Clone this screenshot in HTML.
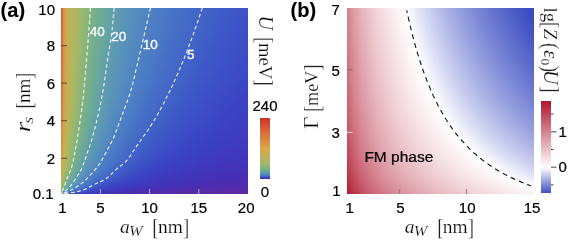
<!DOCTYPE html>
<html><head><meta charset="utf-8"><title>figure</title>
<style>
html,body{margin:0;padding:0;background:#fff}
#f{position:relative;width:568px;height:240px;overflow:hidden;background:#fff;font-family:"Liberation Sans",sans-serif}
.h{position:absolute;display:flex}
.h i{display:block;width:1px;height:100%;flex:none}
#ha{left:61px;top:8px;width:187px;height:186px}
#hb{left:347px;top:8px;width:187px;height:186px}
.cb{position:absolute}
svg{position:absolute;left:0;top:0}
svg text{font-family:"Liberation Sans",sans-serif;stroke:#000;stroke-width:.22px}
svg text.w{stroke:#fff;stroke-width:.3px}
svg text.p{stroke-width:.1px}
svg text.s{font-family:"Liberation Serif",serif;stroke:#fff;stroke-width:.22px}
</style></head><body>
<div id="f">
<div class="h" id="ha"><i style="background:linear-gradient(#d35b35 0%,#d35b35 3.125%,#d35b35 6.25%,#d35c35 9.375%,#d35d35 12.5%,#d45e36 15.62%,#d46036 18.75%,#d46237 21.88%,#d46337 25%,#d46538 28.12%,#d46738 31.25%,#d56838 34.38%,#d56a39 37.5%,#d56c39 40.62%,#d56e3a 43.75%,#d5703b 46.88%,#d5733c 50%,#d6763c 53.12%,#d67a3d 56.25%,#d67e3f 59.38%,#d68240 62.5%,#d68641 65.62%,#d68a42 68.75%,#d58f44 71.88%,#d59446 75%,#d39a48 78.12%,#d29f4a 81.25%,#cfa44d 84.38%,#c9ab51 87.5%,#bdb359 90.62%,#adb761 93.75%,#a5b866 95.16%,#9db86a 96.24%,#98b86e 96.88%,#95b770 97.31%,#90b674 97.85%,#8cb678 98.39%,#87b47c 98.92%,#84b47e 99.19%,#82b37f 99.46%,#71ac92 99.73%,#4133b8 100%)"></i><i style="background:linear-gradient(#d6783d 0%,#d6783d 3.125%,#d6793d 6.25%,#d6793d 9.375%,#d67a3d 12.5%,#d67b3e 15.62%,#d67c3e 18.75%,#d67d3e 21.88%,#d67e3f 25%,#d67f3f 28.12%,#d6803f 31.25%,#d68140 34.38%,#d68240 37.5%,#d68340 40.62%,#d68441 43.75%,#d68641 46.88%,#d68842 50%,#d68b42 53.12%,#d58d43 56.25%,#d59044 59.38%,#d59345 62.5%,#d49646 65.62%,#d39947 68.75%,#d29c49 71.88%,#d1a04b 75%,#cfa44d 78.12%,#cca84f 81.25%,#c9ac52 84.38%,#c1b156 87.5%,#b2b65e 90.62%,#a2b867 93.75%,#98b86e 95.16%,#91b673 96.24%,#8cb677 96.88%,#88b57a 97.31%,#84b47e 97.85%,#7fb283 98.39%,#75ae8d 98.92%,#6daa96 99.19%,#619faa 99.46%,#4f83c2 99.73%,#3c3fc1 100%)"></i><i style="background:linear-gradient(#d58d43 0%,#d58e43 3.125%,#d58e43 6.25%,#d58e44 9.375%,#d58f44 12.5%,#d58f44 15.62%,#d59044 18.75%,#d59044 21.88%,#d59145 25%,#d59245 28.12%,#d59245 31.25%,#d59345 34.38%,#d59345 37.5%,#d59445 40.62%,#d49546 43.75%,#d49646 46.88%,#d49747 50%,#d49947 53.12%,#d39b48 56.25%,#d29d49 59.38%,#d29f4a 62.5%,#d1a14b 65.62%,#d0a34c 68.75%,#cea64e 71.88%,#cca84f 75%,#c9ab51 78.12%,#c6ae54 81.25%,#c1b156 84.38%,#b8b55b 87.5%,#a8b864 90.62%,#96b76f 93.75%,#8db676 95.16%,#86b47c 96.24%,#81b381 96.88%,#7db284 97.31%,#78b08a 97.85%,#70ac92 98.39%,#66a4a2 98.92%,#5e9caf 99.19%,#548cbe 99.46%,#4c7dc4 99.73%,#3c40c2 100%)"></i><i style="background:linear-gradient(#d39a48 0%,#d39a48 3.125%,#d39b48 6.25%,#d39b48 9.375%,#d39b48 12.5%,#d39c49 15.62%,#d39c49 18.75%,#d39c49 21.88%,#d29d49 25%,#d29d49 28.12%,#d29e49 31.25%,#d29e49 34.38%,#d29e4a 37.5%,#d29f4a 40.62%,#d29f4a 43.75%,#d1a04a 46.88%,#d1a14b 50%,#d0a24c 53.12%,#cfa44c 56.25%,#cea54d 59.38%,#cda74e 62.5%,#cca84f 65.62%,#caaa50 68.75%,#c9ac52 71.88%,#c6ae53 75%,#c3b056 78.12%,#bfb258 81.25%,#b9b45a 84.38%,#afb760 87.5%,#9eb86a 90.62%,#8cb677 93.75%,#83b47e 95.16%,#7cb185 96.24%,#77af8a 96.88%,#73ae8f 97.31%,#6eab96 97.85%,#66a5a0 98.39%,#5c99b1 98.92%,#558fbc 99.19%,#4e80c3 99.46%,#4977c5 99.73%,#3b45c4 100%)"></i><i style="background:linear-gradient(#d0a34c 0%,#d0a34c 3.125%,#d0a34c 6.25%,#cfa44c 9.375%,#cfa44c 12.5%,#cfa44d 15.62%,#cfa44d 18.75%,#cfa44d 21.88%,#cfa54d 25%,#cfa54d 28.12%,#cea54d 31.25%,#cea54d 34.38%,#cea64d 37.5%,#cea64e 40.62%,#cea64e 43.75%,#cda74e 46.88%,#cca84f 50%,#cca94f 53.12%,#cbaa50 56.25%,#caab51 59.38%,#c8ac52 62.5%,#c7ae53 65.62%,#c5af54 68.75%,#c2b056 71.88%,#bfb257 75%,#bcb359 78.12%,#b7b55c 81.25%,#b1b65f 84.38%,#a6b864 87.5%,#95b770 90.62%,#84b47e 93.75%,#7bb186 95.16%,#74ae8e 96.24%,#6fab94 96.88%,#6ca999 97.31%,#66a5a1 97.85%,#5f9dac 98.39%,#568fbb 98.92%,#4f82c2 99.19%,#4b7cc4 99.46%,#4671c6 99.73%,#3b48c5 100%)"></i><i style="background:linear-gradient(#cca84f 0%,#cca84f 3.125%,#cca94f 6.25%,#cca950 9.375%,#cba950 12.5%,#cba950 15.62%,#cba950 18.75%,#cbaa50 21.88%,#cbaa50 25%,#cbaa50 28.12%,#caaa51 31.25%,#caaa51 34.38%,#caab51 37.5%,#caab51 40.62%,#c9ab51 43.75%,#c9ac52 46.88%,#c8ad52 50%,#c7ad53 53.12%,#c6ae54 56.25%,#c4af54 59.38%,#c3b055 62.5%,#c1b157 65.62%,#bfb258 68.75%,#bcb359 71.88%,#b9b45b 75%,#b5b65d 78.12%,#b0b75f 81.25%,#a9b863 84.38%,#9eb86a 87.5%,#8cb677 90.62%,#7cb185 93.75%,#74ae8e 95.16%,#6daa96 96.24%,#69a79c 96.88%,#66a4a2 97.31%,#609faa 97.85%,#5a96b5 98.39%,#5085c1 98.92%,#4c7ec4 99.19%,#4978c5 99.46%,#446cc7 99.73%,#3b4ac5 100%)"></i><i style="background:linear-gradient(#c9ac52 0%,#c9ac52 3.125%,#c8ac52 6.25%,#c8ac52 9.375%,#c8ad52 12.5%,#c8ad52 15.62%,#c7ad53 18.75%,#c7ad53 21.88%,#c7ad53 25%,#c7ae53 28.12%,#c6ae53 31.25%,#c6ae53 34.38%,#c6ae54 37.5%,#c5ae54 40.62%,#c5af54 43.75%,#c4af55 46.88%,#c3b055 50%,#c2b056 53.12%,#c1b157 56.25%,#bfb257 59.38%,#bdb358 62.5%,#bbb45a 65.62%,#b9b55b 68.75%,#b6b55c 71.88%,#b2b65e 75%,#aeb761 78.12%,#a8b863 81.25%,#a2b867 84.38%,#96b76f 87.5%,#85b47d 90.62%,#76af8c 93.75%,#6eab95 95.16%,#68a79d 96.24%,#64a3a4 96.88%,#619faa 97.31%,#5c99b2 97.85%,#558ebc 98.39%,#4d80c3 98.92%,#4b7ac5 99.19%,#4774c6 99.46%,#4266c7 99.73%,#3c4ac5 100%)"></i><i style="background:linear-gradient(#c5ae54 0%,#c5af54 3.125%,#c5af54 6.25%,#c4af55 9.375%,#c4af55 12.5%,#c4af55 15.62%,#c4b055 18.75%,#c3b055 21.88%,#c3b055 25%,#c2b056 28.12%,#c2b056 31.25%,#c2b156 34.38%,#c1b156 37.5%,#c1b157 40.62%,#c0b157 43.75%,#bfb257 46.88%,#beb258 50%,#bdb359 53.12%,#bbb459 56.25%,#bab45a 59.38%,#b8b55b 62.5%,#b5b65d 65.62%,#b2b65e 68.75%,#afb760 71.88%,#abb762 75%,#a7b864 78.12%,#a1b868 81.25%,#9ab86c 84.38%,#8fb675 87.5%,#7eb283 90.62%,#70ac92 93.75%,#6aa89b 95.16%,#64a3a4 96.24%,#609eab 96.88%,#5d9ab1 97.31%,#5893b8 97.85%,#5187c1 98.39%,#4b7cc4 98.92%,#4977c5 99.19%,#4670c6 99.46%,#4062c7 99.73%,#3c4ac5 100%)"></i><i style="background:linear-gradient(#c2b056 0%,#c2b156 3.125%,#c1b156 6.25%,#c1b156 9.375%,#c1b157 12.5%,#c0b157 15.62%,#c0b257 18.75%,#c0b257 21.88%,#bfb258 25%,#bfb258 28.12%,#beb258 31.25%,#beb358 34.38%,#bdb359 37.5%,#bdb359 40.62%,#bcb359 43.75%,#bbb45a 46.88%,#b9b45a 50%,#b8b55b 53.12%,#b6b55c 56.25%,#b4b65d 59.38%,#b2b65e 62.5%,#afb760 65.62%,#adb761 68.75%,#a9b863 71.88%,#a5b865 75%,#a0b869 78.12%,#9ab86c 81.25%,#93b772 84.38%,#88b57b 87.5%,#79b089 90.62%,#6ca998 93.75%,#66a5a1 95.16%,#609faa 96.24%,#5c9ab1 96.88%,#5995b6 97.31%,#548dbd 97.85%,#4e81c3 98.39%,#4a79c5 98.92%,#4773c6 99.19%,#446cc7 99.46%,#3f5ec7 99.73%,#3b49c5 100%)"></i><i style="background:linear-gradient(#bfb257 0%,#bfb258 3.125%,#beb258 6.25%,#beb358 9.375%,#bdb358 12.5%,#bdb359 15.62%,#bcb359 18.75%,#bcb359 21.88%,#bbb45a 25%,#bbb45a 28.12%,#bab45a 31.25%,#bab45a 34.38%,#b9b45b 37.5%,#b8b55b 40.62%,#b7b55b 43.75%,#b6b55c 46.88%,#b5b65d 50%,#b3b65e 53.12%,#b1b65f 56.25%,#afb760 59.38%,#adb761 62.5%,#aab863 65.62%,#a7b864 68.75%,#a3b866 71.88%,#9fb869 75%,#9ab86d 78.12%,#94b771 81.25%,#8db677 84.38%,#81b380 87.5%,#74ae8e 90.62%,#68a79d 93.75%,#62a1a7 95.16%,#5d9bb0 96.24%,#5995b6 96.88%,#5690bb 97.31%,#5186c1 97.85%,#4c7ec4 98.39%,#4876c5 98.92%,#4670c6 99.19%,#4369c7 99.46%,#3e5ac7 99.73%,#3b49c5 100%)"></i><i style="background:linear-gradient(#bcb359 0%,#bcb359 3.125%,#bbb45a 6.25%,#bab45a 9.375%,#bab45a 12.5%,#b9b45a 15.62%,#b9b45b 18.75%,#b8b55b 21.88%,#b8b55b 25%,#b7b55c 28.12%,#b6b55c 31.25%,#b5b55c 34.38%,#b5b65d 37.5%,#b4b65d 40.62%,#b3b65e 43.75%,#b2b65e 46.88%,#b0b75f 50%,#aeb760 53.12%,#acb761 56.25%,#aab863 59.38%,#a7b864 62.5%,#a4b866 65.62%,#a1b868 68.75%,#9db86a 71.88%,#99b86d 75%,#93b771 78.12%,#8eb676 81.25%,#87b47c 84.38%,#7cb185 87.5%,#70ac93 90.62%,#65a4a3 93.75%,#5f9eac 95.16%,#5a97b5 96.24%,#5690ba 96.88%,#538bbe 97.31%,#4e82c3 97.85%,#4b7bc4 98.39%,#4773c6 98.92%,#456dc7 99.19%,#4266c7 99.46%,#3e56c6 99.73%,#3b47c4 100%)"></i><i style="background:linear-gradient(#b9b45b 0%,#b8b55b 3.125%,#b8b55b 6.25%,#b7b55c 9.375%,#b7b55c 12.5%,#b6b55c 15.62%,#b5b55c 18.75%,#b5b65d 21.88%,#b4b65d 25%,#b3b65e 28.12%,#b2b65e 31.25%,#b2b65e 34.38%,#b1b75f 37.5%,#b0b75f 40.62%,#afb760 43.75%,#adb761 46.88%,#abb762 50%,#aab863 53.12%,#a7b864 56.25%,#a5b865 59.38%,#a2b867 62.5%,#9fb869 65.62%,#9cb86b 68.75%,#98b76e 71.88%,#93b772 75%,#8eb676 78.12%,#88b57b 81.25%,#81b381 84.38%,#77af8a 87.5%,#6ca998 90.62%,#62a1a7 93.75%,#5d9ab0 95.16%,#5893b9 96.24%,#548cbe 96.88%,#5085c1 97.31%,#4d7fc4 97.85%,#4978c5 98.39%,#4670c6 98.92%,#436ac7 99.19%,#4061c7 99.46%,#3d53c6 99.73%,#3b46c4 100%)"></i><i style="background:linear-gradient(#b6b55c 0%,#b5b65d 3.125%,#b5b65d 6.25%,#b4b65d 9.375%,#b3b65e 12.5%,#b3b65e 15.62%,#b2b65e 18.75%,#b1b75f 21.88%,#b0b75f 25%,#afb760 28.12%,#aeb760 31.25%,#adb761 34.38%,#adb761 37.5%,#abb762 40.62%,#aab862 43.75%,#a9b863 46.88%,#a7b864 50%,#a5b865 53.12%,#a3b867 56.25%,#a0b869 59.38%,#9db86b 62.5%,#9ab86d 65.62%,#96b76f 68.75%,#92b772 71.88%,#8eb676 75%,#88b57a 78.12%,#83b37f 81.25%,#7cb185 84.38%,#73ae8f 87.5%,#69a79c 90.62%,#609eac 93.75%,#5a97b4 95.16%,#558fbc 96.24%,#5187c0 96.88%,#4e81c3 97.31%,#4b7cc4 97.85%,#4875c6 98.39%,#456dc7 98.92%,#4268c7 99.19%,#3f5dc7 99.46%,#3c50c6 99.73%,#3b45c4 100%)"></i><i style="background:linear-gradient(#b3b65e 0%,#b2b65e 3.125%,#b1b65f 6.25%,#b1b75f 9.375%,#b0b75f 12.5%,#afb760 15.62%,#aeb760 18.75%,#adb761 21.88%,#acb761 25%,#abb762 28.12%,#aab862 31.25%,#a9b863 34.38%,#a8b863 37.5%,#a7b864 40.62%,#a6b865 43.75%,#a4b866 46.88%,#a2b867 50%,#a0b868 53.12%,#9eb86a 56.25%,#9bb86c 59.38%,#98b86e 62.5%,#95b770 65.62%,#91b773 68.75%,#8db676 71.88%,#89b57a 75%,#83b37f 78.12%,#7eb284 81.25%,#78b08a 84.38%,#6fac93 87.5%,#66a5a1 90.62%,#5d9bb0 93.75%,#5893b8 95.16%,#538bbe 96.24%,#4f83c2 96.88%,#4d7ec4 97.31%,#4a79c5 97.85%,#4773c6 98.39%,#446bc7 98.92%,#4165c7 99.19%,#3e59c7 99.46%,#3c4dc5 99.73%,#3b43c3 100%)"></i><i style="background:linear-gradient(#afb760 0%,#afb760 3.125%,#aeb760 6.25%,#adb761 9.375%,#adb761 12.5%,#acb761 15.62%,#abb862 18.75%,#aab863 21.88%,#a9b863 25%,#a8b864 28.12%,#a7b864 31.25%,#a6b865 34.38%,#a4b866 37.5%,#a3b866 40.62%,#a2b867 43.75%,#a0b868 46.88%,#9eb86a 50%,#9cb86b 53.12%,#99b86d 56.25%,#96b76f 59.38%,#93b771 62.5%,#90b674 65.62%,#8cb677 68.75%,#88b57a 71.88%,#84b47e 75%,#7fb283 78.12%,#79b088 81.25%,#74ae8e 84.38%,#6caa98 87.5%,#64a2a5 90.62%,#5b98b3 93.75%,#5690bb 95.16%,#5187c1 96.24%,#4d80c3 96.88%,#4b7cc4 97.31%,#4976c5 97.85%,#4671c6 98.39%,#4368c7 98.92%,#4061c7 99.19%,#3e56c6 99.46%,#3c4bc5 99.73%,#3b42c3 100%)"></i><i style="background:linear-gradient(#acb761 0%,#acb762 3.125%,#abb862 6.25%,#aab862 9.375%,#a9b863 12.5%,#a8b863 15.62%,#a7b864 18.75%,#a6b865 21.88%,#a5b865 25%,#a4b866 28.12%,#a3b867 31.25%,#a2b867 34.38%,#a1b868 37.5%,#9fb869 40.62%,#9eb86a 43.75%,#9cb86b 46.88%,#9ab86d 50%,#97b76e 53.12%,#95b770 56.25%,#92b772 59.38%,#8fb675 62.5%,#8bb578 65.62%,#88b57b 68.75%,#84b47e 71.88%,#7fb282 75%,#7ab187 78.12%,#75af8c 81.25%,#70ac92 84.38%,#69a79c 87.5%,#61a0a9 90.62%,#5995b6 93.75%,#548dbd 95.16%,#4f83c2 96.24%,#4c7dc4 96.88%,#4a79c5 97.31%,#4874c6 97.85%,#456ec6 98.39%,#4266c7 98.92%,#3f5dc7 99.19%,#3d52c6 99.46%,#3b49c5 99.73%,#3b41c2 100%)"></i><i style="background:linear-gradient(#a9b863 0%,#a9b863 3.125%,#a8b864 6.25%,#a7b864 9.375%,#a6b865 12.5%,#a5b865 15.62%,#a4b866 18.75%,#a3b867 21.88%,#a2b867 25%,#a0b868 28.12%,#9fb869 31.25%,#9eb86a 34.38%,#9db86b 37.5%,#9bb86c 40.62%,#9ab86d 43.75%,#98b76e 46.88%,#96b770 50%,#93b771 53.12%,#91b673 56.25%,#8eb676 59.38%,#8bb578 62.5%,#87b57b 65.62%,#84b47e 68.75%,#80b282 71.88%,#7cb186 75%,#77af8b 78.12%,#72ad90 81.25%,#6daa96 84.38%,#67a5a0 87.5%,#5f9eac 90.62%,#5792b9 93.75%,#538abf 95.16%,#4d80c3 96.24%,#4b7ac5 96.88%,#4977c5 97.31%,#4672c6 97.85%,#446cc7 98.39%,#4162c7 98.92%,#3e59c7 99.19%,#3c50c6 99.46%,#3b47c4 99.73%,#3c3fc1 100%)"></i><i style="background:linear-gradient(#a7b864 0%,#a6b865 3.125%,#a5b865 6.25%,#a4b866 9.375%,#a3b866 12.5%,#a2b867 15.62%,#a1b868 18.75%,#a0b869 21.88%,#9eb86a 25%,#9db86a 28.12%,#9cb86b 31.25%,#9bb86c 34.38%,#99b86d 37.5%,#98b76e 40.62%,#96b76f 43.75%,#94b771 46.88%,#92b773 50%,#8fb674 53.12%,#8db677 56.25%,#8ab579 59.38%,#87b47c 62.5%,#83b37f 65.62%,#80b282 68.75%,#7cb185 71.88%,#78b08a 75%,#73ae8f 78.12%,#6fab94 81.25%,#6aa89a 84.38%,#64a3a3 87.5%,#5d9baf 90.62%,#568fbb 93.75%,#5186c1 95.16%,#4c7dc4 96.24%,#4978c5 96.88%,#4874c6 97.31%,#4670c6 97.85%,#436ac7 98.39%,#405fc7 98.92%,#3e56c6 99.19%,#3c4dc5 99.46%,#3b45c4 99.73%,#3c3ec1 100%)"></i><i style="background:linear-gradient(#a3b866 0%,#a2b867 3.125%,#a2b867 6.25%,#a1b868 9.375%,#a0b869 12.5%,#9fb869 15.62%,#9db86a 18.75%,#9cb86b 21.88%,#9bb86c 25%,#99b86d 28.12%,#98b86e 31.25%,#97b76f 34.38%,#95b770 37.5%,#94b771 40.62%,#92b772 43.75%,#90b674 46.88%,#8eb676 50%,#8bb578 53.12%,#89b57a 56.25%,#86b47c 59.38%,#83b37f 62.5%,#80b282 65.62%,#7cb185 68.75%,#79b089 71.88%,#75ae8d 75%,#70ac92 78.12%,#6caa98 81.25%,#68a69e 84.38%,#62a1a7 87.5%,#5c99b2 90.62%,#548dbd 93.75%,#4f83c2 95.16%,#4b7bc5 96.24%,#4875c6 96.88%,#4772c6 97.31%,#456dc7 97.85%,#4268c7 98.39%,#3f5bc7 98.92%,#3d52c6 99.19%,#3c4bc5 99.46%,#3b43c3 99.73%,#3d3dc0 100%)"></i><i style="background:linear-gradient(#a0b869 0%,#9fb869 3.125%,#9eb86a 6.25%,#9db86a 9.375%,#9cb86b 12.5%,#9bb86c 15.62%,#9ab86d 18.75%,#99b86e 21.88%,#97b76f 25%,#96b770 28.12%,#94b771 31.25%,#93b772 34.38%,#92b773 37.5%,#90b674 40.62%,#8eb675 43.75%,#8cb677 46.88%,#8ab579 50%,#88b57b 53.12%,#85b47d 56.25%,#82b380 59.38%,#7fb282 62.5%,#7cb185 65.62%,#79b088 68.75%,#75af8c 71.88%,#72ad91 75%,#6daa96 78.12%,#6aa89b 81.25%,#66a4a2 84.38%,#609faa 87.5%,#5a96b5 90.62%,#538abf 93.75%,#4e81c3 95.16%,#4a78c5 96.24%,#4773c6 96.88%,#4670c6 97.31%,#446bc7 97.85%,#4266c7 98.39%,#3e58c6 98.92%,#3c50c6 99.19%,#3b49c5 99.46%,#3b42c3 99.73%,#3d3cbf 100%)"></i><i style="background:linear-gradient(#9db86b 0%,#9cb86b 3.125%,#9bb86c 6.25%,#9ab86d 9.375%,#99b86d 12.5%,#98b76e 15.62%,#97b76f 18.75%,#95b770 21.88%,#94b771 25%,#92b772 28.12%,#91b773 31.25%,#90b674 34.38%,#8eb675 37.5%,#8db677 40.62%,#8bb578 43.75%,#89b57a 46.88%,#87b47c 50%,#84b47e 53.12%,#82b380 56.25%,#7fb283 59.38%,#7cb185 62.5%,#79b088 65.62%,#76af8c 68.75%,#73ad8f 71.88%,#6fab94 75%,#6ba999 78.12%,#67a69f 81.25%,#64a2a5 84.38%,#5f9dad 87.5%,#5894b7 90.62%,#5187c0 93.75%,#4c7ec4 95.16%,#4876c5 96.24%,#4671c6 96.88%,#456ec7 97.31%,#4369c7 97.85%,#4163c7 98.39%,#3d55c6 98.92%,#3c4dc5 99.19%,#3b47c4 99.46%,#3c40c2 99.73%,#3e3bbe 100%)"></i><i style="background:linear-gradient(#9ab86d 0%,#99b86d 3.125%,#98b76e 6.25%,#97b76f 9.375%,#96b770 12.5%,#95b770 15.62%,#93b771 18.75%,#92b773 21.88%,#90b674 25%,#8fb675 28.12%,#8eb676 31.25%,#8cb677 34.38%,#8bb578 37.5%,#89b579 40.62%,#87b57b 43.75%,#85b47d 46.88%,#83b37f 50%,#81b381 53.12%,#7eb283 56.25%,#7cb186 59.38%,#79b088 62.5%,#76af8b 65.62%,#73ae8f 68.75%,#70ac93 71.88%,#6caa97 75%,#69a79d 78.12%,#65a4a2 81.25%,#62a0a8 84.38%,#5d9bb0 87.5%,#5791ba 90.62%,#5084c2 93.75%,#4b7bc4 95.16%,#4773c6 96.24%,#456fc6 96.88%,#446cc7 97.31%,#4268c7 97.85%,#405fc7 98.39%,#3d52c6 98.92%,#3c4bc5 99.19%,#3b45c4 99.46%,#3c3fc1 99.73%,#3e3abd 100%)"></i><i style="background:linear-gradient(#96b76f 0%,#95b770 3.125%,#94b771 6.25%,#93b771 9.375%,#92b772 12.5%,#91b773 15.62%,#90b674 18.75%,#8eb675 21.88%,#8db676 25%,#8cb678 28.12%,#8ab579 31.25%,#89b57a 34.38%,#87b57b 37.5%,#86b47c 40.62%,#84b47e 43.75%,#82b380 46.88%,#80b382 50%,#7eb284 53.12%,#7bb186 56.25%,#79b089 59.38%,#76af8b 62.5%,#73ae8f 65.62%,#71ac92 68.75%,#6eaa96 71.88%,#6aa89a 75%,#67a5a0 78.12%,#63a2a5 81.25%,#609eab 84.38%,#5b98b3 87.5%,#568fbb 90.62%,#4e82c3 93.75%,#4a79c5 95.16%,#4671c6 96.24%,#446dc7 96.88%,#436ac7 97.31%,#4266c7 97.85%,#3f5cc7 98.39%,#3c4fc6 98.92%,#3b49c5 99.19%,#3b43c3 99.46%,#3c3ec0 99.73%,#3f39bd 100%)"></i><i style="background:linear-gradient(#93b772 0%,#92b772 3.125%,#91b773 6.25%,#90b674 9.375%,#8fb675 12.5%,#8eb676 15.62%,#8db677 18.75%,#8bb578 21.88%,#8ab579 25%,#88b57a 28.12%,#87b47b 31.25%,#86b47d 34.38%,#84b47e 37.5%,#83b37f 40.62%,#81b381 43.75%,#7fb282 46.88%,#7db284 50%,#7bb187 53.12%,#78b089 56.25%,#76af8c 59.38%,#73ae8e 62.5%,#71ac91 65.62%,#6eab95 68.75%,#6ba999 71.88%,#68a79d 75%,#65a4a3 78.12%,#62a0a8 81.25%,#5e9cae 84.38%,#5a96b5 87.5%,#548dbd 90.62%,#4d80c3 93.75%,#4977c5 95.16%,#456fc6 96.24%,#446bc7 96.88%,#4268c7 97.31%,#4163c7 97.85%,#3e59c7 98.39%,#3c4dc5 98.92%,#3b47c4 99.19%,#3b42c3 99.46%,#3d3cbf 99.73%,#3f38bc 100%)"></i><i style="background:linear-gradient(#90b674 0%,#8fb675 3.125%,#8eb676 6.25%,#8db676 9.375%,#8cb677 12.5%,#8bb578 15.62%,#89b579 18.75%,#88b57a 21.88%,#87b47c 25%,#85b47d 28.12%,#84b47e 31.25%,#83b37f 34.38%,#81b381 37.5%,#80b282 40.62%,#7eb283 43.75%,#7cb185 46.88%,#7ab187 50%,#78b089 53.12%,#76af8c 56.25%,#74ae8e 59.38%,#71ad91 62.5%,#6fab94 65.62%,#6ca998 68.75%,#69a89c 71.88%,#66a5a0 75%,#63a2a6 78.12%,#609eab 81.25%,#5d9ab0 84.38%,#5994b7 87.5%,#538abf 90.62%,#4c7dc4 93.75%,#4875c6 95.16%,#446dc7 96.24%,#4369c7 96.88%,#4266c7 97.31%,#4060c7 97.85%,#3e56c6 98.39%,#3c4bc5 98.92%,#3b46c4 99.19%,#3c40c2 99.46%,#3d3bbf 99.73%,#3f37bb 100%)"></i><i style="background:linear-gradient(#8db677 0%,#8cb677 3.125%,#8bb578 6.25%,#8ab579 9.375%,#89b57a 12.5%,#88b57b 15.62%,#86b47c 18.75%,#85b47d 21.88%,#84b47e 25%,#82b380 28.12%,#81b381 31.25%,#80b282 34.38%,#7eb283 37.5%,#7db285 40.62%,#7bb186 43.75%,#79b088 46.88%,#78b08a 50%,#76af8c 53.12%,#73ae8e 56.25%,#71ad91 59.38%,#6fab94 62.5%,#6caa97 65.62%,#6aa89b 68.75%,#67a69f 71.88%,#65a3a3 75%,#61a0a8 78.12%,#5f9dad 81.25%,#5c98b2 84.38%,#5892b9 87.5%,#5288c0 90.62%,#4b7bc4 93.75%,#4773c6 95.16%,#446bc7 96.24%,#4267c7 96.88%,#4163c7 97.31%,#3f5dc7 97.85%,#3d53c6 98.39%,#3b49c5 98.92%,#3b44c4 99.19%,#3c3fc1 99.46%,#3e3abe 99.73%,#4037bb 100%)"></i><i style="background:linear-gradient(#8ab579 0%,#89b57a 3.125%,#88b57a 6.25%,#87b47b 9.375%,#86b47c 12.5%,#85b47d 15.62%,#84b47e 18.75%,#82b380 21.88%,#81b381 25%,#7fb282 28.12%,#7eb283 31.25%,#7db285 34.38%,#7cb186 37.5%,#7ab187 40.62%,#79b089 43.75%,#77af8b 46.88%,#75ae8d 50%,#73ae8f 53.12%,#71ad91 56.25%,#6fab94 59.38%,#6daa97 62.5%,#6ba89a 65.62%,#68a79d 68.75%,#66a5a1 71.88%,#63a2a6 75%,#609eab 78.12%,#5d9bb0 81.25%,#5a97b5 84.38%,#5690ba 87.5%,#5186c1 90.62%,#4a79c5 93.75%,#4671c6 95.16%,#4369c7 96.24%,#4165c7 96.88%,#4060c7 97.31%,#3e5ac7 97.85%,#3d51c6 98.39%,#3b47c4 98.92%,#3b43c3 99.19%,#3c3ec0 99.46%,#3e39bd 99.73%,#4036ba 100%)"></i><i style="background:linear-gradient(#87b47b 0%,#86b47c 3.125%,#85b47d 6.25%,#84b47e 9.375%,#83b37f 12.5%,#82b380 15.62%,#81b381 18.75%,#80b282 21.88%,#7eb283 25%,#7db285 28.12%,#7cb186 31.25%,#7ab187 34.38%,#79b088 37.5%,#78b08a 40.62%,#76af8b 43.75%,#75ae8d 46.88%,#73ad8f 50%,#71ac91 53.12%,#6fab94 56.25%,#6daa96 59.38%,#6ba999 62.5%,#69a79d 65.62%,#67a5a0 68.75%,#64a3a4 71.88%,#61a0a9 75%,#5f9dad 78.12%,#5c99b2 81.25%,#5995b6 84.38%,#558ebc 87.5%,#4f84c2 90.62%,#4977c5 93.75%,#456fc6 95.16%,#4267c7 96.24%,#4062c7 96.88%,#3f5ec7 97.31%,#3e57c6 97.85%,#3c4fc5 98.39%,#3b46c4 98.92%,#3b41c2 99.19%,#3d3dc0 99.46%,#3f39bd 99.73%,#4035ba 100%)"></i><i style="background:linear-gradient(#84b47e 0%,#84b47e 3.125%,#83b37f 6.25%,#82b380 9.375%,#81b381 12.5%,#7fb282 15.62%,#7eb283 18.75%,#7db284 21.88%,#7cb186 25%,#7ab187 28.12%,#79b088 31.25%,#78b08a 34.38%,#77af8b 37.5%,#75af8c 40.62%,#74ae8e 43.75%,#72ad90 46.88%,#71ac92 50%,#6fab94 53.12%,#6daa96 56.25%,#6ba999 59.38%,#69a79c 62.5%,#67a69f 65.62%,#65a4a3 68.75%,#63a1a6 71.88%,#609eab 75%,#5d9baf 78.12%,#5b97b4 81.25%,#5893b8 84.38%,#548cbd 87.5%,#4e82c3 90.62%,#4875c6 93.75%,#446dc7 95.16%,#4165c7 96.24%,#405fc7 96.88%,#3f5bc7 97.31%,#3d54c6 97.85%,#3c4dc5 98.39%,#3b44c4 98.92%,#3c40c2 99.19%,#3d3cbf 99.46%,#3f38bc 99.73%,#4135b9 100%)"></i><i style="background:linear-gradient(#82b380 0%,#81b381 3.125%,#80b381 6.25%,#7fb282 9.375%,#7eb283 12.5%,#7db284 15.62%,#7cb186 18.75%,#7bb187 21.88%,#79b088 25%,#78b089 28.12%,#77af8b 31.25%,#76af8c 34.38%,#75ae8d 37.5%,#73ae8f 40.62%,#72ad90 43.75%,#70ac92 46.88%,#6fab94 50%,#6daa96 53.12%,#6ba999 56.25%,#69a89b 59.38%,#68a69e 62.5%,#66a4a2 65.62%,#64a2a5 68.75%,#61a0a9 71.88%,#5f9dad 75%,#5c99b1 78.12%,#5a96b5 81.25%,#5791ba 84.38%,#538abf 87.5%,#4d80c3 90.62%,#4773c6 93.75%,#436bc7 95.16%,#4163c7 96.24%,#3f5dc7 96.88%,#3e58c6 97.31%,#3d52c6 97.85%,#3c4bc5 98.39%,#3b43c3 98.92%,#3c3fc1 99.19%,#3e3bbe 99.46%,#3f37bb 99.73%,#4134b9 100%)"></i><i style="background:linear-gradient(#7fb282 0%,#7fb283 3.125%,#7eb284 6.25%,#7db185 9.375%,#7cb186 12.5%,#7bb187 15.62%,#7ab088 18.75%,#78b089 21.88%,#77af8a 25%,#76af8c 28.12%,#75ae8d 31.25%,#74ae8e 34.38%,#72ad90 37.5%,#71ad91 40.62%,#70ac93 43.75%,#6eab94 46.88%,#6daa97 50%,#6ba999 53.12%,#6aa89b 56.25%,#68a69e 59.38%,#66a5a1 62.5%,#64a3a4 65.62%,#62a1a7 68.75%,#609eab 71.88%,#5e9baf 75%,#5b98b3 78.12%,#5994b7 81.25%,#568fbb 84.38%,#5288c0 87.5%,#4c7ec4 90.62%,#4671c6 93.75%,#4369c7 95.16%,#4060c7 96.24%,#3e5ac7 96.88%,#3e56c6 97.31%,#3c50c6 97.85%,#3b49c5 98.39%,#3b42c3 98.92%,#3c3ec0 99.19%,#3e3abd 99.46%,#4036bb 99.73%,#4133b8 100%)"></i><i style="background:linear-gradient(#7db284 0%,#7cb185 3.125%,#7bb186 6.25%,#7bb187 9.375%,#7ab088 12.5%,#79b089 15.62%,#77af8a 18.75%,#76af8b 21.88%,#75ae8d 25%,#74ae8e 28.12%,#73ad8f 31.25%,#72ad91 34.38%,#71ac92 37.5%,#6fac93 40.62%,#6eab95 43.75%,#6daa97 46.88%,#6ba999 50%,#6aa89b 53.12%,#68a79e 56.25%,#66a5a0 59.38%,#65a3a3 62.5%,#63a2a6 65.62%,#619fa9 68.75%,#5f9dad 71.88%,#5c9ab1 75%,#5a96b5 78.12%,#5892b9 81.25%,#558ebc 84.38%,#5186c1 87.5%,#4c7cc4 90.62%,#4670c6 93.75%,#4267c7 95.16%,#3f5ec7 96.24%,#3e58c6 96.88%,#3d54c6 97.31%,#3c4ec5 97.85%,#3b48c4 98.39%,#3c40c2 98.92%,#3d3dc0 99.19%,#3e39bd 99.46%,#4036ba 99.73%,#4233b8 100%)"></i><i style="background:linear-gradient(#7bb187 0%,#7ab187 3.125%,#79b088 6.25%,#78b089 9.375%,#77b08a 12.5%,#77af8b 15.62%,#75af8c 18.75%,#74ae8e 21.88%,#73ae8f 25%,#72ad90 28.12%,#71ac92 31.25%,#70ac93 34.38%,#6fab94 37.5%,#6eab96 40.62%,#6caa97 43.75%,#6ba999 46.88%,#6aa89b 50%,#68a79d 53.12%,#67a5a0 56.25%,#65a4a2 59.38%,#63a2a5 62.5%,#62a0a8 65.62%,#609eac 68.75%,#5e9baf 71.88%,#5b98b3 75%,#5995b7 78.12%,#5791ba 81.25%,#548cbe 84.38%,#5085c1 87.5%,#4b7bc5 90.62%,#456ec6 93.75%,#4165c7 95.16%,#3f5bc7 96.24%,#3e56c6 96.88%,#3d52c6 97.31%,#3c4cc5 97.85%,#3b46c4 98.39%,#3c3fc1 98.92%,#3d3cbf 99.19%,#3f38bc 99.46%,#4035ba 99.73%,#4232b7 100%)"></i><i style="background:linear-gradient(#79b089 0%,#78b089 3.125%,#77af8a 6.25%,#76af8b 9.375%,#76af8c 12.5%,#75ae8d 15.62%,#74ae8e 18.75%,#72ad90 21.88%,#71ad91 25%,#70ac92 28.12%,#6fab94 31.25%,#6eab95 34.38%,#6daa96 37.5%,#6ca998 40.62%,#6ba999 43.75%,#6aa89b 46.88%,#68a79d 50%,#67a5a0 53.12%,#65a4a2 56.25%,#64a3a5 59.38%,#62a1a7 62.5%,#609faa 65.62%,#5f9dad 68.75%,#5d9ab1 71.88%,#5a97b4 75%,#5893b8 78.12%,#568fbb 81.25%,#538abf 84.38%,#4f83c2 87.5%,#4a79c5 90.62%,#446cc7 93.75%,#4163c7 95.16%,#3e59c7 96.24%,#3d53c6 96.88%,#3c50c6 97.31%,#3c4bc5 97.85%,#3b45c4 98.39%,#3c3ec1 98.92%,#3e3bbe 99.19%,#3f38bc 99.46%,#4135b9 99.73%,#4231b7 100%)"></i><i style="background:linear-gradient(#77af8b 0%,#76af8b 3.125%,#75af8c 6.25%,#75ae8d 9.375%,#74ae8e 12.5%,#73ad8f 15.62%,#72ad90 18.75%,#71ac92 21.88%,#70ac93 25%,#6eab95 28.12%,#6daa96 31.25%,#6daa97 34.38%,#6ca998 37.5%,#6ba89a 40.62%,#69a89c 43.75%,#68a79d 46.88%,#67a6a0 50%,#65a4a2 53.12%,#64a3a4 56.25%,#62a1a7 59.38%,#619fa9 62.5%,#5f9dac 65.62%,#5d9baf 68.75%,#5c98b2 71.88%,#5995b6 75%,#5792b9 78.12%,#558ebc 81.25%,#5289c0 84.38%,#4e81c3 87.5%,#4977c5 90.62%,#436bc7 93.75%,#4061c7 95.16%,#3e57c6 96.24%,#3d52c6 96.88%,#3c4ec5 97.31%,#3b49c5 97.85%,#3b44c3 98.39%,#3d3dc0 98.92%,#3e3abe 99.19%,#4037bb 99.46%,#4134b9 99.73%,#4331b6 100%)"></i><i style="background:linear-gradient(#75ae8d 0%,#74ae8d 3.125%,#74ae8e 6.25%,#73ad8f 9.375%,#72ad90 12.5%,#71ad91 15.62%,#70ac92 18.75%,#6fab94 21.88%,#6eab95 25%,#6daa97 28.12%,#6ca998 31.25%,#6ba999 34.38%,#6aa89b 37.5%,#69a79c 40.62%,#68a69e 43.75%,#67a5a0 46.88%,#66a4a2 50%,#64a3a4 53.12%,#63a2a6 56.25%,#61a0a9 59.38%,#609eab 62.5%,#5e9cae 65.62%,#5c9ab1 68.75%,#5b97b4 71.88%,#5894b7 75%,#5690bb 78.12%,#548cbe 81.25%,#5187c0 84.38%,#4d7fc3 87.5%,#4876c5 90.62%,#4369c7 93.75%,#3f5ec7 95.16%,#3d55c6 96.24%,#3c50c6 96.88%,#3c4cc5 97.31%,#3b48c4 97.85%,#3b42c3 98.39%,#3d3cbf 98.92%,#3e39bd 99.19%,#4036bb 99.46%,#4133b8 99.73%,#4330b6 100%)"></i><i style="background:linear-gradient(#73ae8f 0%,#73ad8f 3.125%,#72ad90 6.25%,#71ad91 9.375%,#70ac92 12.5%,#6fac93 15.62%,#6fab94 18.75%,#6daa96 21.88%,#6caa97 25%,#6ba999 28.12%,#6aa89a 31.25%,#6aa89b 34.38%,#69a79d 37.5%,#68a69e 40.62%,#67a5a0 43.75%,#66a4a2 46.88%,#64a3a4 50%,#63a2a6 53.12%,#62a0a8 56.25%,#609fab 59.38%,#5f9dad 62.5%,#5d9bb0 65.62%,#5b98b3 68.75%,#5a96b6 71.88%,#5892b9 75%,#558fbc 78.12%,#538abf 81.25%,#5085c1 84.38%,#4c7ec4 87.5%,#4874c6 90.62%,#4267c7 93.75%,#3f5cc7 95.16%,#3d53c6 96.24%,#3c4ec5 96.88%,#3c4bc5 97.31%,#3b46c4 97.85%,#3b41c2 98.39%,#3d3bbf 98.92%,#3f38bc 99.19%,#4036ba 99.46%,#4233b8 99.73%,#4430b5 100%)"></i><i style="background:linear-gradient(#72ad91 0%,#71ac91 3.125%,#70ac92 6.25%,#70ac93 9.375%,#6fab94 12.5%,#6eab95 15.62%,#6daa96 18.75%,#6ca998 21.88%,#6ba999 25%,#6aa89b 28.12%,#69a79c 31.25%,#68a79d 34.38%,#67a69f 37.5%,#66a5a0 40.62%,#65a4a2 43.75%,#64a3a4 46.88%,#63a2a6 50%,#62a1a8 53.12%,#619faa 56.25%,#5f9dac 59.38%,#5e9baf 62.5%,#5c99b2 65.62%,#5b97b4 68.75%,#5994b7 71.88%,#5791ba 75%,#558dbd 78.12%,#5289bf 81.25%,#4f83c2 84.38%,#4b7cc4 87.5%,#4773c6 90.62%,#4266c7 93.75%,#3e5ac7 95.16%,#3d51c6 96.24%,#3c4dc5 96.88%,#3b49c5 97.31%,#3b45c4 97.85%,#3c40c2 98.39%,#3e3bbe 98.92%,#3f38bc 99.19%,#4035ba 99.46%,#4232b7 99.73%,#442fb5 100%)"></i><i style="background:linear-gradient(#70ac93 0%,#6fac93 3.125%,#6fab94 6.25%,#6eab95 9.375%,#6daa96 12.5%,#6daa97 15.62%,#6ca998 18.75%,#6ba99a 21.88%,#6aa89b 25%,#69a79d 28.12%,#68a69e 31.25%,#67a69f 34.38%,#66a5a1 37.5%,#65a4a2 40.62%,#64a3a4 43.75%,#63a2a5 46.88%,#62a1a7 50%,#619faa 53.12%,#609eac 56.25%,#5e9cae 59.38%,#5d9ab1 62.5%,#5b98b3 65.62%,#5a96b6 68.75%,#5893b8 71.88%,#5690bb 75%,#548cbe 78.12%,#5187c0 81.25%,#4e82c3 84.38%,#4b7ac5 87.5%,#4671c6 90.62%,#4164c7 93.75%,#3e58c6 95.16%,#3c50c6 96.24%,#3c4bc5 96.88%,#3b48c5 97.31%,#3b44c4 97.85%,#3c3fc1 98.39%,#3e3abd 98.92%,#3f37bb 99.19%,#4135b9 99.46%,#4232b7 99.73%,#442fb4 100%)"></i><i style="background:linear-gradient(#6fab94 0%,#6eab95 3.125%,#6daa96 6.25%,#6daa97 9.375%,#6ca998 12.5%,#6ba999 15.62%,#6aa89a 18.75%,#69a89c 21.88%,#68a79d 25%,#68a69e 28.12%,#67a5a0 31.25%,#66a5a1 34.38%,#65a4a2 37.5%,#64a3a4 40.62%,#63a2a5 43.75%,#62a1a7 46.88%,#61a0a9 50%,#609eab 53.12%,#5f9dad 56.25%,#5d9bb0 59.38%,#5c99b2 62.5%,#5a97b4 65.62%,#5994b7 68.75%,#5792b9 71.88%,#558ebc 75%,#538abf 78.12%,#5086c1 81.25%,#4e80c3 84.38%,#4a79c5 87.5%,#4670c6 90.62%,#4062c7 93.75%,#3e56c6 95.16%,#3c4ec5 96.24%,#3b4ac5 96.88%,#3b47c4 97.31%,#3b43c3 97.85%,#3c3ec1 98.39%,#3e39bd 98.92%,#4037bb 99.19%,#4134b9 99.46%,#4331b6 99.73%,#452fb4 100%)"></i><i style="background:linear-gradient(#6daa96 0%,#6daa97 3.125%,#6ca998 6.25%,#6ba999 9.375%,#6ba99a 12.5%,#6aa89b 15.62%,#69a79c 18.75%,#68a79d 21.88%,#67a69f 25%,#66a5a0 28.12%,#66a4a2 31.25%,#65a4a3 34.38%,#64a3a4 37.5%,#63a2a6 40.62%,#62a1a7 43.75%,#61a0a9 46.88%,#609eab 50%,#5f9dad 53.12%,#5e9baf 56.25%,#5c99b1 59.38%,#5b97b4 62.5%,#5995b6 65.62%,#5893b8 68.75%,#5690ba 71.88%,#548dbd 75%,#5289c0 78.12%,#5084c2 81.25%,#4d7fc4 84.38%,#4977c5 87.5%,#456fc6 90.62%,#4060c7 93.75%,#3d55c6 95.16%,#3c4dc5 96.24%,#3b49c5 96.88%,#3b46c4 97.31%,#3b42c3 97.85%,#3d3dc0 98.39%,#3f38bc 98.92%,#4036ba 99.19%,#4133b8 99.46%,#4331b6 99.73%,#452eb3 100%)"></i><i style="background:linear-gradient(#6ca998 0%,#6ba999 3.125%,#6ba99a 6.25%,#6aa89b 9.375%,#69a89b 12.5%,#69a79d 15.62%,#68a69e 18.75%,#67a69f 21.88%,#66a5a1 25%,#65a4a2 28.12%,#64a3a3 31.25%,#64a2a5 34.38%,#63a2a6 37.5%,#62a1a7 40.62%,#61a0a9 43.75%,#609fab 46.88%,#5f9dad 50%,#5e9caf 53.12%,#5d9ab1 56.25%,#5b98b3 59.38%,#5a96b5 62.5%,#5994b7 65.62%,#5792b9 68.75%,#568fbc 71.88%,#548bbe 75%,#5187c0 78.12%,#4f83c2 81.25%,#4c7dc4 84.38%,#4876c5 87.5%,#456dc7 90.62%,#3f5ec7 93.75%,#3d53c6 95.16%,#3c4bc5 96.24%,#3b47c4 96.88%,#3b45c4 97.31%,#3b41c2 97.85%,#3d3cbf 98.39%,#3f38bc 98.92%,#4036ba 99.19%,#4233b8 99.46%,#4330b6 99.73%,#462eb3 100%)"></i><i style="background:linear-gradient(#6ba89a 0%,#6aa89b 3.125%,#6aa89b 6.25%,#69a79c 9.375%,#68a79d 12.5%,#68a69e 15.62%,#67a5a0 18.75%,#66a5a1 21.88%,#65a4a2 25%,#64a3a4 28.12%,#63a2a5 31.25%,#63a1a6 34.38%,#62a1a8 37.5%,#61a0a9 40.62%,#609fab 43.75%,#5f9dac 46.88%,#5e9cae 50%,#5d9bb0 53.12%,#5c99b2 56.25%,#5b97b4 59.38%,#5995b6 62.5%,#5893b8 65.62%,#5690ba 68.75%,#558ebc 71.88%,#538abf 75%,#5086c1 78.12%,#4e81c3 81.25%,#4b7cc4 84.38%,#4874c6 87.5%,#446cc7 90.62%,#3f5cc7 93.75%,#3d51c6 95.16%,#3c4ac5 96.24%,#3b46c4 96.88%,#3b44c3 97.31%,#3c40c2 97.85%,#3d3cbf 98.39%,#3f37bb 98.92%,#4135ba 99.19%,#4232b8 99.46%,#4430b5 99.73%,#462eb2 100%)"></i><i style="background:linear-gradient(#69a89c 0%,#69a79c 3.125%,#68a79d 6.25%,#68a69e 9.375%,#67a69f 12.5%,#67a5a0 15.62%,#66a5a1 18.75%,#65a4a3 21.88%,#64a3a4 25%,#63a2a6 28.12%,#62a1a7 31.25%,#62a0a8 34.38%,#619fa9 37.5%,#609fab 40.62%,#5f9dac 43.75%,#5e9cae 46.88%,#5d9bb0 50%,#5c99b1 53.12%,#5b98b3 56.25%,#5a96b5 59.38%,#5894b7 62.5%,#5792b9 65.62%,#568fbb 68.75%,#548cbd 71.88%,#5289c0 75%,#5084c2 78.12%,#4d80c3 81.25%,#4b7ac5 84.38%,#4773c6 87.5%,#446bc7 90.62%,#3e5ac7 93.75%,#3c50c6 95.16%,#3b49c5 96.24%,#3b45c4 96.88%,#3b43c3 97.31%,#3c3fc1 97.85%,#3e3bbe 98.39%,#4037bb 98.92%,#4134b9 99.19%,#4232b7 99.46%,#442fb5 99.73%,#472eb2 100%)"></i><i style="background:linear-gradient(#68a79d 0%,#68a69e 3.125%,#67a69f 6.25%,#67a5a0 9.375%,#66a5a1 12.5%,#66a4a2 15.62%,#65a4a3 18.75%,#64a3a4 21.88%,#63a2a6 25%,#62a1a7 28.12%,#61a0a8 31.25%,#619faa 34.38%,#609eab 37.5%,#5f9dac 40.62%,#5e9cae 43.75%,#5d9baf 46.88%,#5c9ab1 50%,#5b98b3 53.12%,#5a96b5 56.25%,#5995b7 59.38%,#5893b9 62.5%,#5690ba 65.62%,#558ebc 68.75%,#538bbe 71.88%,#5187c0 75%,#4f83c2 78.12%,#4d7ec4 81.25%,#4a79c5 84.38%,#4672c6 87.5%,#436ac7 90.62%,#3e58c7 93.75%,#3c4fc5 95.16%,#3b48c5 96.24%,#3b44c4 96.88%,#3b42c3 97.31%,#3c3ec1 97.85%,#3e3abe 98.39%,#4036bb 98.92%,#4134b9 99.19%,#4231b7 99.46%,#442fb4 99.73%,#472db1 100%)"></i><i style="background:linear-gradient(#67a69f 0%,#67a5a0 3.125%,#66a5a0 6.25%,#66a5a1 9.375%,#65a4a2 12.5%,#65a3a3 15.62%,#64a3a5 18.75%,#63a2a6 21.88%,#62a1a7 25%,#61a0a9 28.12%,#619faa 31.25%,#609eab 34.38%,#5f9dac 37.5%,#5e9cae 40.62%,#5e9baf 43.75%,#5d9ab1 46.88%,#5c99b2 50%,#5b97b4 53.12%,#5995b6 56.25%,#5893b8 59.38%,#5791ba 62.5%,#568fbb 65.62%,#548dbd 68.75%,#538abf 71.88%,#5186c1 75%,#4e82c3 78.12%,#4c7dc4 81.25%,#4978c5 84.38%,#4670c6 87.5%,#4368c7 90.62%,#3e57c6 93.75%,#3c4dc5 95.16%,#3b47c4 96.24%,#3b43c3 96.88%,#3b41c2 97.31%,#3d3dc0 97.85%,#3e3abd 98.39%,#4036ba 98.92%,#4133b8 99.19%,#4331b6 99.46%,#452fb4 99.73%,#482db1 100%)"></i><i style="background:linear-gradient(#66a5a1 0%,#66a5a1 3.125%,#65a4a2 6.25%,#65a4a3 9.375%,#64a3a4 12.5%,#64a2a5 15.62%,#63a2a6 18.75%,#62a1a7 21.88%,#61a0a9 25%,#609faa 28.12%,#609eab 31.25%,#5f9dad 34.38%,#5e9cae 37.5%,#5e9baf 40.62%,#5d9ab0 43.75%,#5c99b2 46.88%,#5b97b4 50%,#5a96b5 53.12%,#5994b7 56.25%,#5792b9 59.38%,#5690bb 62.5%,#558ebc 65.62%,#548bbe 68.75%,#5288c0 71.88%,#5085c1 75%,#4e80c3 78.12%,#4b7cc4 81.25%,#4976c5 84.38%,#456fc6 87.5%,#4267c7 90.62%,#3d55c6 93.75%,#3c4cc5 95.16%,#3b46c4 96.24%,#3b42c3 96.88%,#3c40c2 97.31%,#3d3dc0 97.85%,#3e39bd 98.39%,#4035ba 98.92%,#4233b8 99.19%,#4331b6 99.46%,#452eb3 99.73%,#482db1 100%)"></i><i style="background:linear-gradient(#65a4a2 0%,#65a4a3 3.125%,#64a3a4 6.25%,#64a3a4 9.375%,#63a2a5 12.5%,#63a1a6 15.62%,#62a1a8 18.75%,#61a0a9 21.88%,#609faa 25%,#609eac 28.12%,#5f9dad 31.25%,#5e9cae 34.38%,#5e9baf 37.5%,#5d9ab0 40.62%,#5c99b2 43.75%,#5b98b3 46.88%,#5a96b5 50%,#5995b6 53.12%,#5893b8 56.25%,#5791ba 59.38%,#568fbc 62.5%,#548dbd 65.62%,#538abf 68.75%,#5187c0 71.88%,#4f83c2 75%,#4d7fc3 78.12%,#4b7bc5 81.25%,#4875c6 84.38%,#456ec7 87.5%,#4266c7 90.62%,#3d54c6 93.75%,#3c4bc5 95.16%,#3b45c4 96.24%,#3b42c3 96.88%,#3c3fc1 97.31%,#3d3cbf 97.85%,#3f38bc 98.39%,#4135b9 98.92%,#4232b8 99.19%,#4330b5 99.46%,#462eb3 99.73%,#492db0 100%)"></i><i style="background:linear-gradient(#64a3a4 0%,#64a3a4 3.125%,#63a2a5 6.25%,#63a2a6 9.375%,#62a1a7 12.5%,#62a1a8 15.62%,#61a0a9 18.75%,#609faa 21.88%,#609eac 25%,#5f9dad 28.12%,#5e9cae 31.25%,#5d9baf 34.38%,#5d9ab0 37.5%,#5c99b2 40.62%,#5b98b3 43.75%,#5a97b4 46.88%,#5995b6 50%,#5894b7 53.12%,#5792b9 56.25%,#5690bb 59.38%,#558ebc 62.5%,#548cbe 65.62%,#5289bf 68.75%,#5186c1 71.88%,#4e82c3 75%,#4c7ec4 78.12%,#4a79c5 81.25%,#4774c6 84.38%,#446cc7 87.5%,#4164c7 90.62%,#3d52c6 93.75%,#3b4ac5 95.16%,#3b44c4 96.24%,#3b41c2 96.88%,#3c3ec1 97.31%,#3d3bbf 97.85%,#3f38bc 98.39%,#4134b9 98.92%,#4232b7 99.19%,#4430b5 99.46%,#462eb3 99.73%,#492db0 100%)"></i><i style="background:linear-gradient(#63a2a5 0%,#63a2a6 3.125%,#63a1a7 6.25%,#62a1a7 9.375%,#62a0a8 12.5%,#61a0a9 15.62%,#609faa 18.75%,#609eac 21.88%,#5f9dad 25%,#5e9cae 28.12%,#5d9baf 31.25%,#5d9ab1 34.38%,#5c99b2 37.5%,#5b98b3 40.62%,#5b97b4 43.75%,#5a96b5 46.88%,#5994b7 50%,#5893b8 53.12%,#5791ba 56.25%,#558fbc 59.38%,#548dbd 62.5%,#538abf 65.62%,#5288c0 68.75%,#5085c1 71.88%,#4e81c3 75%,#4c7cc4 78.12%,#4978c5 81.25%,#4772c6 84.38%,#446bc7 87.5%,#4163c7 90.62%,#3d51c6 93.75%,#3b49c5 95.16%,#3b43c3 96.24%,#3c40c2 96.88%,#3c3ec0 97.31%,#3e3bbe 97.85%,#3f37bc 98.39%,#4134b9 98.92%,#4232b7 99.19%,#442fb5 99.46%,#462eb2 99.73%,#4a2db0 100%)"></i><i style="background:linear-gradient(#63a1a7 0%,#62a1a7 3.125%,#62a0a8 6.25%,#61a0a9 9.375%,#619faa 12.5%,#609fab 15.62%,#5f9eac 18.75%,#5f9dad 21.88%,#5e9cae 25%,#5d9bb0 28.12%,#5d9ab1 31.25%,#5c99b2 34.38%,#5b98b3 37.5%,#5b97b4 40.62%,#5a96b5 43.75%,#5995b7 46.88%,#5893b8 50%,#5791b9 53.12%,#5690bb 56.25%,#558ebd 59.38%,#548bbe 62.5%,#5289bf 65.62%,#5187c1 68.75%,#4f83c2 71.88%,#4d7fc3 75%,#4b7bc4 78.12%,#4977c5 81.25%,#4671c6 84.38%,#436ac7 87.5%,#4061c7 90.62%,#3c50c6 93.75%,#3b48c4 95.16%,#3b42c3 96.24%,#3c3fc1 96.88%,#3d3dc0 97.31%,#3e3abe 97.85%,#4037bb 98.39%,#4133b8 98.92%,#4331b6 99.19%,#442fb4 99.46%,#472eb2 99.73%,#4a2daf 100%)"></i><i style="background:linear-gradient(#62a0a8 0%,#61a0a9 3.125%,#61a0a9 6.25%,#619faa 9.375%,#609eab 12.5%,#5f9eac 15.62%,#5f9dad 18.75%,#5e9cae 21.88%,#5d9bb0 25%,#5d9ab1 28.12%,#5c99b2 31.25%,#5b98b3 34.38%,#5b97b4 37.5%,#5a96b5 40.62%,#5995b6 43.75%,#5894b8 46.88%,#5792b9 50%,#5690ba 53.12%,#558fbc 56.25%,#548cbd 59.38%,#538abf 62.5%,#5288c0 65.62%,#5085c1 68.75%,#4e82c2 71.88%,#4c7ec4 75%,#4a7ac5 78.12%,#4876c5 81.25%,#4670c6 84.38%,#4369c7 87.5%,#405fc7 90.62%,#3c4ec5 93.75%,#3b47c4 95.16%,#3b42c3 96.24%,#3c3ec1 96.88%,#3d3cbf 97.31%,#3e39bd 97.85%,#4036bb 98.39%,#4233b8 98.92%,#4331b6 99.19%,#452fb4 99.46%,#472db1 99.73%,#4b2daf 100%)"></i><i style="background:linear-gradient(#619fa9 0%,#619faa 3.125%,#609fab 6.25%,#609eab 9.375%,#5f9dac 12.5%,#5f9dad 15.62%,#5e9cae 18.75%,#5d9bb0 21.88%,#5d9ab1 25%,#5c99b2 28.12%,#5b98b3 31.25%,#5b97b4 34.38%,#5a96b5 37.5%,#5995b6 40.62%,#5994b7 43.75%,#5893b8 46.88%,#5791ba 50%,#568fbb 53.12%,#558dbd 56.25%,#538bbe 59.38%,#5289bf 62.5%,#5187c1 65.62%,#5084c2 68.75%,#4e81c3 71.88%,#4c7dc4 75%,#4a79c5 78.12%,#4875c6 81.25%,#456fc6 84.38%,#4267c7 87.5%,#3f5ec7 90.62%,#3c4dc5 93.75%,#3b46c4 95.16%,#3b41c2 96.24%,#3c3ec0 96.88%,#3d3cbf 97.31%,#3f39bd 97.85%,#4036ba 98.39%,#4232b7 98.92%,#4330b6 99.19%,#452eb4 99.46%,#482db1 99.73%,#4b2dae 100%)"></i><i style="background:linear-gradient(#609fab 0%,#609eab 3.125%,#5f9eac 6.25%,#5f9dad 9.375%,#5e9dad 12.5%,#5e9cae 15.62%,#5d9bb0 18.75%,#5d9ab1 21.88%,#5c99b2 25%,#5b98b3 28.12%,#5b97b4 31.25%,#5a96b5 34.38%,#5995b6 37.5%,#5994b7 40.62%,#5893b8 43.75%,#5792b9 46.88%,#5690bb 50%,#558ebc 53.12%,#548cbd 56.25%,#538abf 59.38%,#5288c0 62.5%,#5086c1 65.62%,#4f83c2 68.75%,#4d80c3 71.88%,#4b7bc4 75%,#4977c5 78.12%,#4773c6 81.25%,#456ec7 84.38%,#4266c7 87.5%,#3f5cc7 90.62%,#3c4cc5 93.75%,#3b45c4 95.16%,#3c40c2 96.24%,#3d3dc0 96.88%,#3e3bbe 97.31%,#3f38bc 97.85%,#4036ba 98.39%,#4232b7 98.92%,#4330b5 99.19%,#452eb3 99.46%,#482db1 99.73%,#4c2dae 100%)"></i><i style="background:linear-gradient(#5f9eac 0%,#5f9dac 3.125%,#5f9dad 6.25%,#5e9cae 9.375%,#5e9caf 12.5%,#5d9bb0 15.62%,#5d9ab1 18.75%,#5c99b2 21.88%,#5b98b3 25%,#5b97b4 28.12%,#5a96b5 31.25%,#5995b6 34.38%,#5994b7 37.5%,#5893b8 40.62%,#5792b9 43.75%,#5791ba 46.88%,#568fbb 50%,#558dbd 53.12%,#538bbe 56.25%,#5289bf 59.38%,#5187c1 62.5%,#5084c2 65.62%,#4e82c3 68.75%,#4d7ec4 71.88%,#4b7ac5 75%,#4976c5 78.12%,#4772c6 81.25%,#446dc7 84.38%,#4165c7 87.5%,#3f5ac7 90.62%,#3c4bc5 93.75%,#3b44c4 95.16%,#3c3fc1 96.24%,#3d3cbf 96.88%,#3e3abe 97.31%,#3f38bc 97.85%,#4035ba 98.39%,#4232b7 98.92%,#4430b5 99.19%,#462eb3 99.46%,#492db0 99.73%,#4c2cae 100%)"></i><i style="background:linear-gradient(#5f9dad 0%,#5e9cae 3.125%,#5e9cae 6.25%,#5e9baf 9.375%,#5d9bb0 12.5%,#5d9ab1 15.62%,#5c99b2 18.75%,#5b98b3 21.88%,#5b97b4 25%,#5a96b5 28.12%,#5995b6 31.25%,#5994b7 34.38%,#5893b8 37.5%,#5792b9 40.62%,#5791ba 43.75%,#5690bb 46.88%,#558ebc 50%,#548cbd 53.12%,#538abf 56.25%,#5288c0 59.38%,#5086c1 62.5%,#4f83c2 65.62%,#4e80c3 68.75%,#4c7dc4 71.88%,#4a79c5 75%,#4875c6 78.12%,#4671c6 81.25%,#446bc7 84.38%,#4163c7 87.5%,#3e59c7 90.62%,#3c4ac5 93.75%,#3b44c3 95.16%,#3c3fc1 96.24%,#3d3cbf 96.88%,#3e3abd 97.31%,#3f37bc 97.85%,#4135b9 98.39%,#4331b6 98.92%,#442fb5 99.19%,#462eb2 99.46%,#492db0 99.73%,#4c2cad 100%)"></i><i style="background:linear-gradient(#5e9cae 0%,#5e9caf 3.125%,#5d9baf 6.25%,#5d9ab0 9.375%,#5c9ab1 12.5%,#5c99b2 15.62%,#5b98b3 18.75%,#5b97b4 21.88%,#5a96b5 25%,#5995b6 28.12%,#5994b7 31.25%,#5893b8 34.38%,#5892b9 37.5%,#5791ba 40.62%,#5690bb 43.75%,#558fbc 46.88%,#548dbd 50%,#538bbe 53.12%,#5289bf 56.25%,#5187c1 59.38%,#5084c2 62.5%,#4e82c2 65.62%,#4d7fc3 68.75%,#4b7cc4 71.88%,#4978c5 75%,#4874c6 78.12%,#4670c6 81.25%,#436ac7 84.38%,#4062c7 87.5%,#3e58c6 90.62%,#3b49c5 93.75%,#3b43c3 95.16%,#3c3ec1 96.24%,#3d3bbf 96.88%,#3e39bd 97.31%,#4037bb 97.85%,#4134b9 98.39%,#4331b6 98.92%,#442fb4 99.19%,#472eb2 99.46%,#492db0 99.73%,#4d2cad 100%)"></i><i style="background:linear-gradient(#5d9baf 0%,#5d9bb0 3.125%,#5d9ab0 6.25%,#5c9ab1 9.375%,#5c99b2 12.5%,#5b98b3 15.62%,#5b97b4 18.75%,#5a96b5 21.88%,#5995b6 25%,#5994b7 28.12%,#5893b8 31.25%,#5892b9 34.38%,#5791ba 37.5%,#5690ba 40.62%,#568fbb 43.75%,#558ebc 46.88%,#548cbe 50%,#538abf 53.12%,#5288c0 56.25%,#5086c1 59.38%,#4f83c2 62.5%,#4e81c3 65.62%,#4c7ec4 68.75%,#4b7bc5 71.88%,#4977c5 75%,#4773c6 78.12%,#456fc6 81.25%,#4369c7 84.38%,#4060c7 87.5%,#3e56c6 90.62%,#3b48c5 93.75%,#3b42c3 95.16%,#3c3dc0 96.24%,#3e3bbe 96.88%,#3f39bd 97.31%,#4037bb 97.85%,#4134b9 98.39%,#4330b6 98.92%,#452fb4 99.19%,#472eb2 99.46%,#4a2daf 99.73%,#4d2cad 100%)"></i><i style="background:linear-gradient(#5d9ab0 0%,#5d9ab1 3.125%,#5c99b2 6.25%,#5c99b2 9.375%,#5b98b3 12.5%,#5b97b4 15.62%,#5a96b5 18.75%,#5995b6 21.88%,#5994b7 25%,#5893b8 28.12%,#5892b9 31.25%,#5791ba 34.38%,#5690ba 37.5%,#568fbb 40.62%,#558ebc 43.75%,#548dbd 46.88%,#538bbe 50%,#5289bf 53.12%,#5187c0 56.25%,#5084c2 59.38%,#4f82c2 62.5%,#4d80c3 65.62%,#4c7dc4 68.75%,#4a7ac5 71.88%,#4876c5 75%,#4772c6 78.12%,#456ec6 81.25%,#4268c7 84.38%,#405fc7 87.5%,#3d55c6 90.62%,#3b48c4 93.75%,#3b41c3 95.16%,#3d3dc0 96.24%,#3e3abe 96.88%,#3f38bc 97.31%,#4036bb 97.85%,#4133b8 98.39%,#4330b5 98.92%,#452eb4 99.19%,#472db1 99.46%,#4a2daf 99.73%,#4e2cad 100%)"></i><i style="background:linear-gradient(#5c99b1 0%,#5c99b2 3.125%,#5c98b3 6.25%,#5b98b3 9.375%,#5b97b4 12.5%,#5a96b5 15.62%,#5995b6 18.75%,#5994b7 21.88%,#5893b8 25%,#5892b9 28.12%,#5791b9 31.25%,#5690ba 34.38%,#568fbb 37.5%,#558ebc 40.62%,#558dbd 43.75%,#548cbe 46.88%,#538abf 50%,#5288c0 53.12%,#5086c1 56.25%,#4f83c2 59.38%,#4e81c3 62.5%,#4d7fc4 65.62%,#4b7cc4 68.75%,#4a78c5 71.88%,#4875c6 75%,#4671c6 78.12%,#446dc7 81.25%,#4267c7 84.38%,#3f5ec7 87.5%,#3d54c6 90.62%,#3b47c4 93.75%,#3b41c2 95.16%,#3d3cbf 96.24%,#3e3abd 96.88%,#3f38bc 97.31%,#4036ba 97.85%,#4233b8 98.39%,#4430b5 98.92%,#452eb3 99.19%,#482db1 99.46%,#4b2daf 99.73%,#4e2cac 100%)"></i><i style="background:linear-gradient(#5c99b2 0%,#5b98b3 3.125%,#5b98b3 6.25%,#5a97b4 9.375%,#5a96b5 12.5%,#5a95b6 15.62%,#5995b7 18.75%,#5894b8 21.88%,#5893b9 25%,#5791b9 28.12%,#5691ba 31.25%,#5690bb 34.38%,#558fbc 37.5%,#558dbd 40.62%,#548cbd 43.75%,#538bbe 46.88%,#5289bf 50%,#5187c0 53.12%,#5085c1 56.25%,#4f82c2 59.38%,#4d80c3 62.5%,#4c7ec4 65.62%,#4b7bc5 68.75%,#4977c5 71.88%,#4774c6 75%,#4670c6 78.12%,#446cc7 81.25%,#4266c7 84.38%,#3f5cc7 87.5%,#3d52c6 90.62%,#3b46c4 93.75%,#3c40c2 95.16%,#3d3cbf 96.24%,#3e39bd 96.88%,#3f38bc 97.31%,#4035ba 97.85%,#4233b8 98.39%,#442fb5 98.92%,#462eb3 99.19%,#482db1 99.46%,#4b2daf 99.73%,#4f2cac 100%)"></i><i style="background:linear-gradient(#5b98b3 0%,#5b97b4 3.125%,#5a97b4 6.25%,#5a96b5 9.375%,#5995b6 12.5%,#5995b7 15.62%,#5894b8 18.75%,#5893b8 21.88%,#5792b9 25%,#5791ba 28.12%,#5690bb 31.25%,#558fbc 34.38%,#558ebc 37.5%,#548cbd 40.62%,#538bbe 43.75%,#538abf 46.88%,#5288c0 50%,#5186c1 53.12%,#4f84c2 56.25%,#4e81c3 59.38%,#4d7fc3 62.5%,#4c7cc4 65.62%,#4a7ac5 68.75%,#4976c5 71.88%,#4773c6 75%,#456fc6 78.12%,#446bc7 81.25%,#4165c7 84.38%,#3f5bc7 87.5%,#3d51c6 90.62%,#3b45c4 93.75%,#3c3fc1 95.16%,#3d3bbf 96.24%,#3f39bd 96.88%,#3f37bb 97.31%,#4135ba 97.85%,#4232b7 98.39%,#442fb4 98.92%,#462eb3 99.19%,#492db1 99.46%,#4b2dae 99.73%,#4f2cac 100%)"></i><i style="background:linear-gradient(#5b97b4 0%,#5a96b5 3.125%,#5a96b5 6.25%,#5995b6 9.375%,#5994b7 12.5%,#5894b7 15.62%,#5893b8 18.75%,#5792b9 21.88%,#5791ba 25%,#5690bb 28.12%,#558fbc 31.25%,#558ebc 34.38%,#548dbd 37.5%,#548cbe 40.62%,#538abf 43.75%,#5289c0 46.88%,#5187c0 50%,#5085c1 53.12%,#4f83c2 56.25%,#4e80c3 59.38%,#4c7ec4 62.5%,#4b7bc4 65.62%,#4a79c5 68.75%,#4875c6 71.88%,#4671c6 75%,#456ec7 78.12%,#436ac7 81.25%,#4163c7 84.38%,#3e5ac7 87.5%,#3d50c6 90.62%,#3b44c4 93.75%,#3c3fc1 95.16%,#3e3bbe 96.24%,#3f38bc 96.88%,#4037bb 97.31%,#4135b9 97.85%,#4232b7 98.39%,#442fb4 98.92%,#462eb2 99.19%,#492db0 99.46%,#4c2cae 99.73%,#4f2cab 100%)"></i><i style="background:linear-gradient(#5a96b5 0%,#5a96b5 3.125%,#5995b6 6.25%,#5994b7 9.375%,#5894b7 12.5%,#5893b8 15.62%,#5792b9 18.75%,#5791ba 21.88%,#5690bb 25%,#568fbc 28.12%,#558ebc 31.25%,#548dbd 34.38%,#548cbe 37.5%,#538bbe 40.62%,#5289bf 43.75%,#5288c0 46.88%,#5186c1 50%,#4f84c2 53.12%,#4e82c3 56.25%,#4d7fc3 59.38%,#4c7dc4 62.5%,#4b7ac5 65.62%,#4978c5 68.75%,#4874c6 71.88%,#4670c6 75%,#446dc7 78.12%,#4369c7 81.25%,#4062c7 84.38%,#3e59c7 87.5%,#3c4fc6 90.62%,#3b44c3 93.75%,#3c3ec1 95.16%,#3e3abe 96.24%,#3f38bc 96.88%,#4036bb 97.31%,#4134b9 97.85%,#4232b7 98.39%,#452fb4 98.92%,#472eb2 99.19%,#492db0 99.46%,#4c2cae 99.73%,#502cab 100%)"></i><i style="background:linear-gradient(#5a95b6 0%,#5995b6 3.125%,#5994b7 6.25%,#5894b8 9.375%,#5893b8 12.5%,#5792b9 15.62%,#5791ba 18.75%,#5690bb 21.88%,#568fbb 25%,#558ebc 28.12%,#548dbd 31.25%,#548cbe 34.38%,#538bbe 37.5%,#538abf 40.62%,#5288c0 43.75%,#5187c1 46.88%,#5085c1 50%,#4f83c2 53.12%,#4e81c3 56.25%,#4d7ec4 59.38%,#4b7cc4 62.5%,#4a79c5 65.62%,#4977c5 68.75%,#4773c6 71.88%,#456fc6 75%,#446cc7 78.12%,#4268c7 81.25%,#4061c7 84.38%,#3e57c6 87.5%,#3c4ec5 90.62%,#3b43c3 93.75%,#3c3ec0 95.16%,#3e3abd 96.24%,#3f38bc 96.88%,#4036ba 97.31%,#4134b9 97.85%,#4331b6 98.39%,#452eb3 98.92%,#472eb2 99.19%,#4a2db0 99.46%,#4d2cad 99.73%,#502cab 100%)"></i><i style="background:linear-gradient(#5995b7 0%,#5994b7 3.125%,#5893b8 6.25%,#5893b8 9.375%,#5792b9 12.5%,#5791ba 15.62%,#5690bb 18.75%,#568fbb 21.88%,#558ebc 25%,#558dbd 28.12%,#548cbe 31.25%,#538bbe 34.38%,#538abf 37.5%,#5289bf 40.62%,#5187c0 43.75%,#5086c1 46.88%,#4f84c2 50%,#4e82c3 53.12%,#4d80c3 56.25%,#4c7dc4 59.38%,#4b7bc4 62.5%,#4a78c5 65.62%,#4876c5 68.75%,#4772c6 71.88%,#456ec6 75%,#446bc7 78.12%,#4267c7 81.25%,#405fc7 84.38%,#3e56c6 87.5%,#3c4dc5 90.62%,#3b42c3 93.75%,#3d3dc0 95.16%,#3e39bd 96.24%,#3f37bb 96.88%,#4036ba 97.31%,#4133b8 97.85%,#4331b6 98.39%,#452eb3 98.92%,#472db1 99.19%,#4a2daf 99.46%,#4d2cad 99.73%,#502caa 100%)"></i><i style="background:linear-gradient(#5994b7 0%,#5893b8 3.125%,#5893b8 6.25%,#5792b9 9.375%,#5791ba 12.5%,#5690ba 15.62%,#568fbb 18.75%,#558ebc 21.88%,#558dbd 25%,#548cbd 28.12%,#538bbe 31.25%,#538abf 34.38%,#5289bf 37.5%,#5288c0 40.62%,#5186c1 43.75%,#5085c1 46.88%,#4f83c2 50%,#4e81c3 53.12%,#4d7fc4 56.25%,#4c7cc4 59.38%,#4a7ac5 62.5%,#4977c5 65.62%,#4875c6 68.75%,#4671c6 71.88%,#456dc7 75%,#436ac7 78.12%,#4266c7 81.25%,#3f5ec7 84.38%,#3d55c6 87.5%,#3c4cc5 90.62%,#3b42c3 93.75%,#3d3dc0 95.16%,#3f39bd 96.24%,#4037bb 96.88%,#4035ba 97.31%,#4133b8 97.85%,#4331b6 98.39%,#462eb3 98.92%,#482db1 99.19%,#4a2daf 99.46%,#4d2cad 99.73%,#512caa 100%)"></i><i style="background:linear-gradient(#5893b8 0%,#5893b9 3.125%,#5792b9 6.25%,#5791ba 9.375%,#5690ba 12.5%,#568fbb 15.62%,#558fbc 18.75%,#558dbd 21.88%,#548cbd 25%,#548bbe 28.12%,#538abf 31.25%,#5289bf 34.38%,#5288c0 37.5%,#5187c0 40.62%,#5086c1 43.75%,#4f84c2 46.88%,#4e82c2 50%,#4d80c3 53.12%,#4c7ec4 56.25%,#4b7bc4 59.38%,#4a79c5 62.5%,#4976c5 65.62%,#4774c6 68.75%,#4670c6 71.88%,#446cc7 75%,#4369c7 78.12%,#4165c7 81.25%,#3f5dc7 84.38%,#3d54c6 87.5%,#3c4bc5 90.62%,#3b41c2 93.75%,#3d3cbf 95.16%,#3f39bc 96.24%,#4037bb 96.88%,#4135ba 97.31%,#4233b8 97.85%,#4330b6 98.39%,#462eb3 98.92%,#482db1 99.19%,#4b2daf 99.46%,#4e2cad 99.73%,#512baa 100%)"></i><i style="background:linear-gradient(#5892b9 0%,#5792b9 3.125%,#5791ba 6.25%,#5690ba 9.375%,#5690bb 12.5%,#558fbc 15.62%,#558ebc 18.75%,#548dbd 21.88%,#548cbe 25%,#538abf 28.12%,#5289bf 31.25%,#5288c0 34.38%,#5187c0 37.5%,#5186c1 40.62%,#5085c1 43.75%,#4f83c2 46.88%,#4e81c3 50%,#4d7fc3 53.12%,#4c7dc4 56.25%,#4b7ac5 59.38%,#4978c5 62.5%,#4875c6 65.62%,#4773c6 68.75%,#456fc6 71.88%,#446cc7 75%,#4268c7 78.12%,#4164c7 81.25%,#3f5cc7 84.38%,#3d53c6 87.5%,#3c4bc5 90.62%,#3b41c2 93.75%,#3d3cbf 95.16%,#3f38bc 96.24%,#4036bb 96.88%,#4135b9 97.31%,#4232b8 97.85%,#4330b5 98.39%,#462eb2 98.92%,#492db1 99.19%,#4b2daf 99.46%,#4e2cac 99.73%,#522baa 100%)"></i><i style="background:linear-gradient(#5792b9 0%,#5791ba 3.125%,#5690ba 6.25%,#5690bb 9.375%,#558fbc 12.5%,#558ebc 15.62%,#548dbd 18.75%,#548cbe 21.88%,#538bbe 25%,#538abf 28.12%,#5289c0 31.25%,#5187c0 34.38%,#5186c1 37.5%,#5085c1 40.62%,#4f84c2 43.75%,#4e82c2 46.88%,#4d80c3 50%,#4c7ec4 53.12%,#4b7cc4 56.25%,#4a79c5 59.38%,#4977c5 62.5%,#4875c6 65.62%,#4672c6 68.75%,#456ec6 71.88%,#436bc7 75%,#4267c7 78.12%,#4163c7 81.25%,#3f5bc7 84.38%,#3d52c6 87.5%,#3b4ac5 90.62%,#3c40c2 93.75%,#3d3bbf 95.16%,#3f38bc 96.24%,#4036ba 96.88%,#4134b9 97.31%,#4232b7 97.85%,#4430b5 98.39%,#472eb2 98.92%,#492db0 99.19%,#4b2dae 99.46%,#4e2cac 99.73%,#522ba9 100%)"></i><i style="background:linear-gradient(#5791ba 0%,#5690bb 3.125%,#568fbb 6.25%,#558fbc 9.375%,#558ebc 12.5%,#548dbd 15.62%,#548cbe 18.75%,#538bbe 21.88%,#538abf 25%,#5289bf 28.12%,#5188c0 31.25%,#5187c1 34.38%,#5085c1 37.5%,#5084c2 40.62%,#4f83c2 43.75%,#4e81c3 46.88%,#4d7fc3 50%,#4c7dc4 53.12%,#4b7bc5 56.25%,#4a78c5 59.38%,#4976c5 62.5%,#4774c6 65.62%,#4671c6 68.75%,#456dc7 71.88%,#436ac7 75%,#4266c7 78.12%,#4061c7 81.25%,#3e5ac7 84.38%,#3d51c6 87.5%,#3b49c5 90.62%,#3c3fc1 93.75%,#3e3bbe 95.16%,#3f38bc 96.24%,#4035ba 96.88%,#4134b9 97.31%,#4232b7 97.85%,#442fb5 98.39%,#472eb2 98.92%,#492db0 99.19%,#4c2dae 99.46%,#4f2cac 99.73%,#522ba9 100%)"></i><i style="background:linear-gradient(#5690bb 0%,#568fbb 3.125%,#558fbc 6.25%,#558ebc 9.375%,#548dbd 12.5%,#548cbd 15.62%,#538bbe 18.75%,#538abf 21.88%,#5289bf 25%,#5288c0 28.12%,#5187c0 31.25%,#5086c1 34.38%,#5085c1 37.5%,#4f83c2 40.62%,#4e82c3 43.75%,#4d80c3 46.88%,#4c7ec4 50%,#4b7cc4 53.12%,#4a7ac5 56.25%,#4978c5 59.38%,#4875c6 62.5%,#4773c6 65.62%,#4670c6 68.75%,#446cc7 71.88%,#4369c7 75%,#4165c7 78.12%,#4060c7 81.25%,#3e58c7 84.38%,#3c50c6 87.5%,#3b48c5 90.62%,#3c3fc1 93.75%,#3e3abe 95.16%,#3f37bb 96.24%,#4035ba 96.88%,#4134b9 97.31%,#4231b7 97.85%,#442fb4 98.39%,#472db1 98.92%,#4a2db0 99.19%,#4c2cae 99.46%,#4f2cac 99.73%,#532ba9 100%)"></i><i style="background:linear-gradient(#568fbb 0%,#558fbc 3.125%,#558ebc 6.25%,#558dbd 9.375%,#548cbd 12.5%,#548bbe 15.62%,#538abf 18.75%,#5289bf 21.88%,#5288c0 25%,#5187c0 28.12%,#5186c1 31.25%,#5085c1 34.38%,#4f84c2 37.5%,#4f82c2 40.62%,#4e81c3 43.75%,#4d7fc3 46.88%,#4c7dc4 50%,#4b7bc4 53.12%,#4a79c5 56.25%,#4977c5 59.38%,#4874c6 62.5%,#4772c6 65.62%,#456fc6 68.75%,#446bc7 71.88%,#4268c7 75%,#4164c7 78.12%,#405fc7 81.25%,#3e57c6 84.38%,#3c4fc6 87.5%,#3b48c4 90.62%,#3c3ec1 93.75%,#3e3abe 95.16%,#4037bb 96.24%,#4135b9 96.88%,#4133b8 97.31%,#4331b6 97.85%,#442fb4 98.39%,#482db1 98.92%,#4a2db0 99.19%,#4c2cae 99.46%,#4f2cab 99.73%,#532ba9 100%)"></i><i style="background:linear-gradient(#558fbc 0%,#558ebc 3.125%,#558dbd 6.25%,#548cbd 9.375%,#548bbe 12.5%,#538bbf 15.62%,#5289bf 18.75%,#5288c0 21.88%,#5187c0 25%,#5186c1 28.12%,#5085c1 31.25%,#4f84c2 34.38%,#4f83c2 37.5%,#4e81c3 40.62%,#4d80c3 43.75%,#4d7ec4 46.88%,#4c7cc4 50%,#4b7ac5 53.12%,#4978c5 56.25%,#4876c5 59.38%,#4773c6 62.5%,#4671c6 65.62%,#456ec6 68.75%,#436ac7 71.88%,#4267c7 75%,#4163c7 78.12%,#3f5ec7 81.25%,#3e56c6 84.38%,#3c4ec5 87.5%,#3b47c4 90.62%,#3c3ec0 93.75%,#3e3abd 95.16%,#4037bb 96.24%,#4135b9 96.88%,#4233b8 97.31%,#4331b6 97.85%,#452fb4 98.39%,#482db1 98.92%,#4a2daf 99.19%,#4d2cad 99.46%,#502cab 99.73%,#532ba8 100%)"></i><i style="background:linear-gradient(#558ebc 0%,#558dbd 3.125%,#548cbd 6.25%,#548cbe 9.375%,#538bbe 12.5%,#538abf 15.62%,#5289c0 18.75%,#5188c0 21.88%,#5186c1 25%,#5085c1 28.12%,#5084c2 31.25%,#4f83c2 34.38%,#4e82c3 37.5%,#4e81c3 40.62%,#4d7fc3 43.75%,#4c7dc4 46.88%,#4b7bc4 50%,#4a79c5 53.12%,#4977c5 56.25%,#4875c6 59.38%,#4773c6 62.5%,#4670c6 65.62%,#446dc7 68.75%,#436ac7 71.88%,#4266c7 75%,#4062c7 78.12%,#3f5dc7 81.25%,#3d55c6 84.38%,#3c4ec5 87.5%,#3b46c4 90.62%,#3c3dc0 93.75%,#3e39bd 95.16%,#4036bb 96.24%,#4134b9 96.88%,#4233b8 97.31%,#4331b6 97.85%,#452eb4 98.39%,#482db1 98.92%,#4a2daf 99.19%,#4d2cad 99.46%,#502cab 99.73%,#532ba8 100%)"></i><i style="background:linear-gradient(#558dbd 0%,#548cbd 3.125%,#548cbe 6.25%,#538bbe 9.375%,#538abf 12.5%,#5289bf 15.62%,#5288c0 18.75%,#5187c1 21.88%,#5086c1 25%,#5084c2 28.12%,#4f83c2 31.25%,#4f82c2 34.38%,#4e81c3 37.5%,#4d80c3 40.62%,#4d7ec4 43.75%,#4c7dc4 46.88%,#4b7bc5 50%,#4a79c5 53.12%,#4976c5 56.25%,#4874c6 59.38%,#4772c6 62.5%,#456fc6 65.62%,#446cc7 68.75%,#4369c7 71.88%,#4165c7 75%,#4061c7 78.12%,#3f5cc7 81.25%,#3d54c6 84.38%,#3c4dc5 87.5%,#3b46c4 90.62%,#3d3dc0 93.75%,#3f39bd 95.16%,#4036ba 96.24%,#4134b9 96.88%,#4232b7 97.31%,#4330b6 97.85%,#452eb3 98.39%,#492db0 98.92%,#4b2daf 99.19%,#4d2cad 99.46%,#502cab 99.73%,#542ba8 100%)"></i><i style="background:linear-gradient(#548cbd 0%,#548cbe 3.125%,#538bbe 6.25%,#538abf 9.375%,#5289bf 12.5%,#5288c0 15.62%,#5187c0 18.75%,#5186c1 21.88%,#5085c1 25%,#4f84c2 28.12%,#4f82c2 31.25%,#4e81c3 34.38%,#4e80c3 37.5%,#4d7fc3 40.62%,#4c7dc4 43.75%,#4b7cc4 46.88%,#4a7ac5 50%,#4978c5 53.12%,#4876c5 56.25%,#4773c6 59.38%,#4671c6 62.5%,#456ec6 65.62%,#446bc7 68.75%,#4268c7 71.88%,#4164c7 75%,#4060c7 78.12%,#3f5bc7 81.25%,#3d53c6 84.38%,#3c4cc5 87.5%,#3b45c4 90.62%,#3d3dc0 93.75%,#3f39bc 95.16%,#4036ba 96.24%,#4134b8 96.88%,#4232b7 97.31%,#4330b5 97.85%,#452eb3 98.39%,#492db0 98.92%,#4b2daf 99.19%,#4e2cad 99.46%,#512caa 99.73%,#542ba8 100%)"></i><i style="background:linear-gradient(#548cbe 0%,#538bbe 3.125%,#538abf 6.25%,#5289bf 9.375%,#5288c0 12.5%,#5187c0 15.62%,#5186c1 18.75%,#5085c1 21.88%,#4f84c2 25%,#4f83c2 28.12%,#4e82c3 31.25%,#4e81c3 34.38%,#4d7fc3 37.5%,#4c7ec4 40.62%,#4c7dc4 43.75%,#4b7bc4 46.88%,#4a79c5 50%,#4977c5 53.12%,#4875c6 56.25%,#4772c6 59.38%,#4670c6 62.5%,#456dc7 65.62%,#436ac7 68.75%,#4267c7 71.88%,#4163c7 75%,#405fc7 78.12%,#3e5ac7 81.25%,#3d52c6 84.38%,#3c4bc5 87.5%,#3b45c4 90.62%,#3d3cbf 93.75%,#3f38bc 95.16%,#4035ba 96.24%,#4133b8 96.88%,#4232b7 97.31%,#4430b5 97.85%,#462eb3 98.39%,#492db0 98.92%,#4b2dae 99.19%,#4e2cac 99.46%,#512caa 99.73%,#542ba7 100%)"></i><i style="background:linear-gradient(#538bbe 0%,#538abf 3.125%,#5289bf 6.25%,#5288c0 9.375%,#5187c0 12.5%,#5186c1 15.62%,#5085c1 18.75%,#5084c2 21.88%,#4f83c2 25%,#4e82c2 28.12%,#4e81c3 31.25%,#4d80c3 34.38%,#4d7ec4 37.5%,#4c7dc4 40.62%,#4b7cc4 43.75%,#4a7ac5 46.88%,#4978c5 50%,#4976c5 53.12%,#4774c6 56.25%,#4672c6 59.38%,#456fc6 62.5%,#446dc7 65.62%,#4369c7 68.75%,#4266c7 71.88%,#4062c7 75%,#3f5ec7 78.12%,#3e59c7 81.25%,#3d52c6 84.38%,#3c4bc5 87.5%,#3b44c3 90.62%,#3d3cbf 93.75%,#3f38bc 95.16%,#4135ba 96.24%,#4233b8 96.88%,#4232b7 97.31%,#4430b5 97.85%,#462eb3 98.39%,#4a2db0 98.92%,#4c2dae 99.19%,#4e2cac 99.46%,#512baa 99.73%,#552ba7 100%)"></i><i style="background:linear-gradient(#538abf 0%,#5289bf 3.125%,#5289c0 6.25%,#5188c0 9.375%,#5187c1 12.5%,#5086c1 15.62%,#5085c1 18.75%,#4f83c2 21.88%,#4f82c2 25%,#4e81c3 28.12%,#4d80c3 31.25%,#4d7fc3 34.38%,#4c7ec4 37.5%,#4c7cc4 40.62%,#4b7bc4 43.75%,#4a79c5 46.88%,#4977c5 50%,#4875c6 53.12%,#4773c6 56.25%,#4671c6 59.38%,#456ec6 62.5%,#446cc7 65.62%,#4369c7 68.75%,#4165c7 71.88%,#4061c7 75%,#3f5dc7 78.12%,#3e58c6 81.25%,#3d51c6 84.38%,#3b4ac5 87.5%,#3b43c3 90.62%,#3d3bbf 93.75%,#3f38bc 95.16%,#4135b9 96.24%,#4233b8 96.88%,#4231b7 97.31%,#442fb5 97.85%,#462eb2 98.39%,#4a2daf 98.92%,#4c2cae 99.19%,#4f2cac 99.46%,#522baa 99.73%,#552ba7 100%)"></i><i style="background:linear-gradient(#5289bf 0%,#5289c0 3.125%,#5288c0 6.25%,#5187c0 9.375%,#5186c1 12.5%,#5085c1 15.62%,#4f84c2 18.75%,#4f83c2 21.88%,#4e82c3 25%,#4e80c3 28.12%,#4d7fc3 31.25%,#4c7ec4 34.38%,#4c7dc4 37.5%,#4b7cc4 40.62%,#4a7ac5 43.75%,#4a78c5 46.88%,#4976c5 50%,#4874c6 53.12%,#4772c6 56.25%,#4670c6 59.38%,#456ec7 62.5%,#446bc7 65.62%,#4268c7 68.75%,#4164c7 71.88%,#4060c7 75%,#3f5cc7 78.12%,#3e57c6 81.25%,#3c50c6 84.38%,#3b49c5 87.5%,#3b43c3 90.62%,#3e3bbe 93.75%,#3f37bb 95.16%,#4134b9 96.24%,#4232b8 96.88%,#4331b6 97.31%,#442fb4 97.85%,#472eb2 98.39%,#4a2daf 98.92%,#4c2cae 99.19%,#4f2cac 99.46%,#522ba9 99.73%,#552ba7 100%)"></i><i style="background:linear-gradient(#5289c0 0%,#5288c0 3.125%,#5187c0 6.25%,#5186c1 9.375%,#5085c1 12.5%,#5084c2 15.62%,#4f83c2 18.75%,#4e82c3 21.88%,#4e81c3 25%,#4d80c3 28.12%,#4d7ec4 31.25%,#4c7dc4 34.38%,#4b7cc4 37.5%,#4b7bc5 40.62%,#4a79c5 43.75%,#4978c5 46.88%,#4876c5 50%,#4774c6 53.12%,#4671c6 56.25%,#456fc6 59.38%,#446dc7 62.5%,#436ac7 65.62%,#4267c7 68.75%,#4163c7 71.88%,#405fc7 75%,#3f5bc7 78.12%,#3e56c6 81.25%,#3c4fc6 84.38%,#3b49c5 87.5%,#3b42c3 90.62%,#3e3bbe 93.75%,#3f37bb 95.16%,#4134b9 96.24%,#4232b7 96.88%,#4331b6 97.31%,#442fb4 97.85%,#472eb2 98.39%,#4a2daf 98.92%,#4d2cad 99.19%,#4f2cab 99.46%,#522ba9 99.73%,#552ba7 100%)"></i><i style="background:linear-gradient(#5288c0 0%,#5187c0 3.125%,#5186c1 6.25%,#5085c1 9.375%,#5084c2 12.5%,#4f83c2 15.62%,#4f82c2 18.75%,#4e81c3 21.88%,#4d80c3 25%,#4d7fc3 28.12%,#4c7ec4 31.25%,#4c7cc4 34.38%,#4b7bc4 37.5%,#4a7ac5 40.62%,#4a78c5 43.75%,#4977c5 46.88%,#4875c6 50%,#4773c6 53.12%,#4671c6 56.25%,#456ec6 59.38%,#446cc7 62.5%,#4369c7 65.62%,#4266c7 68.75%,#4162c7 71.88%,#3f5ec7 75%,#3e5ac7 78.12%,#3d55c6 81.25%,#3c4ec5 84.38%,#3b48c5 87.5%,#3b42c3 90.62%,#3e3abe 93.75%,#4037bb 95.16%,#4134b9 96.24%,#4232b7 96.88%,#4330b6 97.31%,#452fb4 97.85%,#472db2 98.39%,#4b2daf 98.92%,#4d2cad 99.19%,#4f2cab 99.46%,#522ba9 99.73%,#552ba7 100%)"></i><i style="background:linear-gradient(#5187c0 0%,#5186c1 3.125%,#5085c1 6.25%,#5084c2 9.375%,#4f83c2 12.5%,#4f82c2 15.62%,#4e81c3 18.75%,#4e80c3 21.88%,#4d7fc3 25%,#4c7ec4 28.12%,#4c7dc4 31.25%,#4b7cc4 34.38%,#4b7ac5 37.5%,#4a79c5 40.62%,#4978c5 43.75%,#4876c5 46.88%,#4874c6 50%,#4772c6 53.12%,#4670c6 56.25%,#456ec7 59.38%,#446bc7 62.5%,#4368c7 65.62%,#4165c7 68.75%,#4061c7 71.88%,#3f5dc7 75%,#3e59c7 78.12%,#3d54c6 81.25%,#3c4ec5 84.38%,#3b48c4 87.5%,#3b41c2 90.62%,#3e3abd 93.75%,#4036bb 95.16%,#4134b8 96.24%,#4232b7 96.88%,#4330b6 97.31%,#452fb4 97.85%,#482db1 98.39%,#4b2daf 98.92%,#4d2cad 99.19%,#502cab 99.46%,#532ba9 99.73%,#562ba6 100%)"></i><i style="background:linear-gradient(#5187c1 0%,#5086c1 3.125%,#5085c1 6.25%,#4f84c2 9.375%,#4f83c2 12.5%,#4e82c3 15.62%,#4e81c3 18.75%,#4d80c3 21.88%,#4d7ec4 25%,#4c7dc4 28.12%,#4b7cc4 31.25%,#4b7bc4 34.38%,#4a7ac5 37.5%,#4a78c5 40.62%,#4977c5 43.75%,#4875c6 46.88%,#4773c6 50%,#4671c6 53.12%,#456fc6 56.25%,#446dc7 59.38%,#436ac7 62.5%,#4268c7 65.62%,#4164c7 68.75%,#4060c7 71.88%,#3f5cc7 75%,#3e58c6 78.12%,#3d53c6 81.25%,#3c4dc5 84.38%,#3b47c4 87.5%,#3b41c2 90.62%,#3e39bd 93.75%,#4036bb 95.16%,#4133b8 96.24%,#4231b7 96.88%,#4330b5 97.31%,#452eb3 97.85%,#482db1 98.39%,#4b2dae 98.92%,#4d2cad 99.19%,#502cab 99.46%,#532ba9 99.73%,#562ba6 100%)"></i><i style="background:linear-gradient(#5086c1 0%,#5085c1 3.125%,#5084c2 6.25%,#4f83c2 9.375%,#4e82c2 12.5%,#4e81c3 15.62%,#4d80c3 18.75%,#4d7fc3 21.88%,#4c7ec4 25%,#4c7dc4 28.12%,#4b7bc4 31.25%,#4b7ac5 34.38%,#4a79c5 37.5%,#4978c5 40.62%,#4976c5 43.75%,#4874c6 46.88%,#4773c6 50%,#4671c6 53.12%,#456ec6 56.25%,#446cc7 59.38%,#436ac7 62.5%,#4267c7 65.62%,#4163c7 68.75%,#4060c7 71.88%,#3f5bc7 75%,#3e57c6 78.12%,#3d52c6 81.25%,#3c4cc5 84.38%,#3b46c4 87.5%,#3c40c2 90.62%,#3e39bd 93.75%,#4036ba 95.16%,#4133b8 96.24%,#4331b6 96.88%,#4430b5 97.31%,#452eb3 97.85%,#482db1 98.39%,#4c2dae 98.92%,#4e2cad 99.19%,#502cab 99.46%,#532ba8 99.73%,#562ba6 100%)"></i><i style="background:linear-gradient(#5085c1 0%,#5084c2 3.125%,#4f83c2 6.25%,#4f82c2 9.375%,#4e81c3 12.5%,#4e80c3 15.62%,#4d7fc3 18.75%,#4c7ec4 21.88%,#4c7dc4 25%,#4b7cc4 28.12%,#4b7bc5 31.25%,#4a79c5 34.38%,#4a78c5 37.5%,#4977c5 40.62%,#4875c6 43.75%,#4774c6 46.88%,#4772c6 50%,#4670c6 53.12%,#456ec7 56.25%,#446bc7 59.38%,#4369c7 62.5%,#4266c7 65.62%,#4163c7 68.75%,#405fc7 71.88%,#3f5ac7 75%,#3e56c6 78.12%,#3d51c6 81.25%,#3c4cc5 84.38%,#3b46c4 87.5%,#3c40c2 90.62%,#3f39bd 93.75%,#4036ba 95.16%,#4233b8 96.24%,#4331b6 96.88%,#4430b5 97.31%,#462eb3 97.85%,#482db1 98.39%,#4c2cae 98.92%,#4e2cac 99.19%,#512caa 99.46%,#532ba8 99.73%,#562aa6 100%)"></i><i style="background:linear-gradient(#5084c2 0%,#4f83c2 3.125%,#4f82c2 6.25%,#4e81c3 9.375%,#4e80c3 12.5%,#4d7fc3 15.62%,#4d7ec4 18.75%,#4c7dc4 21.88%,#4c7cc4 25%,#4b7bc4 28.12%,#4a7ac5 31.25%,#4a79c5 34.38%,#4977c5 37.5%,#4976c5 40.62%,#4875c6 43.75%,#4773c6 46.88%,#4671c6 50%,#456fc6 53.12%,#446dc7 56.25%,#436bc7 59.38%,#4368c7 62.5%,#4165c7 65.62%,#4062c7 68.75%,#3f5ec7 71.88%,#3e5ac7 75%,#3d55c6 78.12%,#3d51c6 81.25%,#3c4bc5 84.38%,#3b45c4 87.5%,#3c3fc1 90.62%,#3f39bc 93.75%,#4035ba 95.16%,#4233b8 96.24%,#4331b6 96.88%,#442fb5 97.31%,#462eb3 97.85%,#492db0 98.39%,#4c2cae 98.92%,#4e2cac 99.19%,#512caa 99.46%,#542ba8 99.73%,#572aa6 100%)"></i><i style="background:linear-gradient(#4f84c2 0%,#4f83c2 3.125%,#4e82c3 6.25%,#4e81c3 9.375%,#4d80c3 12.5%,#4d7fc4 15.62%,#4c7ec4 18.75%,#4c7dc4 21.88%,#4b7bc4 25%,#4b7ac5 28.12%,#4a79c5 31.25%,#4978c5 34.38%,#4977c5 37.5%,#4875c6 40.62%,#4774c6 43.75%,#4772c6 46.88%,#4670c6 50%,#456ec6 53.12%,#446cc7 56.25%,#436ac7 59.38%,#4267c7 62.5%,#4164c7 65.62%,#4061c7 68.75%,#3f5dc7 71.88%,#3e59c7 75%,#3d54c6 78.12%,#3c50c6 81.25%,#3c4ac5 84.38%,#3b45c4 87.5%,#3c3fc1 90.62%,#3f38bc 93.75%,#4035ba 95.16%,#4232b7 96.24%,#4330b6 96.88%,#442fb4 97.31%,#462eb2 97.85%,#492db0 98.39%,#4c2cae 98.92%,#4f2cac 99.19%,#512baa 99.46%,#542ba8 99.73%,#572aa6 100%)"></i><i style="background:linear-gradient(#4f83c2 0%,#4e82c2 3.125%,#4e81c3 6.25%,#4d80c3 9.375%,#4d7fc3 12.5%,#4c7ec4 15.62%,#4c7dc4 18.75%,#4b7cc4 21.88%,#4b7bc4 25%,#4a7ac5 28.12%,#4a78c5 31.25%,#4977c5 34.38%,#4876c5 37.5%,#4875c6 40.62%,#4773c6 43.75%,#4671c6 46.88%,#4670c6 50%,#456ec7 53.12%,#446bc7 56.25%,#4369c7 59.38%,#4267c7 62.5%,#4163c7 65.62%,#4060c7 68.75%,#3f5cc7 71.88%,#3e58c6 75%,#3d54c6 78.12%,#3c4fc6 81.25%,#3b4ac5 84.38%,#3b44c4 87.5%,#3c3fc1 90.62%,#3f38bc 93.75%,#4135b9 95.16%,#4232b7 96.24%,#4330b6 96.88%,#442fb4 97.31%,#462eb2 97.85%,#492db0 98.39%,#4d2cad 98.92%,#4f2cac 99.19%,#512baa 99.46%,#542ba8 99.73%,#572aa5 100%)"></i><i style="background:linear-gradient(#4f82c2 0%,#4e81c3 3.125%,#4e80c3 6.25%,#4d7fc3 9.375%,#4d7ec4 12.5%,#4c7dc4 15.62%,#4c7cc4 18.75%,#4b7bc4 21.88%,#4a7ac5 25%,#4a79c5 28.12%,#4978c5 31.25%,#4977c5 34.38%,#4875c6 37.5%,#4874c6 40.62%,#4772c6 43.75%,#4671c6 46.88%,#456fc6 50%,#446dc7 53.12%,#446bc7 56.25%,#4368c7 59.38%,#4266c7 62.5%,#4163c7 65.62%,#405fc7 68.75%,#3f5bc7 71.88%,#3e57c6 75%,#3d53c6 78.12%,#3c4fc5 81.25%,#3b49c5 84.38%,#3b44c3 87.5%,#3c3ec1 90.62%,#3f38bc 93.75%,#4135b9 95.16%,#4232b7 96.24%,#4330b5 96.88%,#452fb4 97.31%,#472eb2 97.85%,#492db0 98.39%,#4d2cad 98.92%,#4f2cab 99.19%,#522baa 99.46%,#542ba7 99.73%,#572aa5 100%)"></i><i style="background:linear-gradient(#4e82c3 0%,#4e81c3 3.125%,#4d80c3 6.25%,#4d7fc4 9.375%,#4c7ec4 12.5%,#4c7dc4 15.62%,#4b7cc4 18.75%,#4b7ac5 21.88%,#4a79c5 25%,#4a78c5 28.12%,#4977c5 31.25%,#4876c5 34.38%,#4875c6 37.5%,#4773c6 40.62%,#4672c6 43.75%,#4670c6 46.88%,#456ec6 50%,#446cc7 53.12%,#436ac7 56.25%,#4268c7 59.38%,#4165c7 62.5%,#4062c7 65.62%,#3f5ec7 68.75%,#3f5ac7 71.88%,#3e56c6 75%,#3d52c6 78.12%,#3c4ec5 81.25%,#3b49c5 84.38%,#3b43c3 87.5%,#3c3ec0 90.62%,#3f37bc 93.75%,#4134b9 95.16%,#4232b7 96.24%,#4430b5 96.88%,#452fb4 97.31%,#472eb2 97.85%,#4a2db0 98.39%,#4d2cad 98.92%,#4f2cab 99.19%,#522ba9 99.46%,#552ba7 99.73%,#572aa5 100%)"></i><i style="background:linear-gradient(#4e81c3 0%,#4d80c3 3.125%,#4d7fc3 6.25%,#4c7ec4 9.375%,#4c7dc4 12.5%,#4b7cc4 15.62%,#4b7bc4 18.75%,#4a7ac5 21.88%,#4a79c5 25%,#4978c5 28.12%,#4976c5 31.25%,#4875c6 34.38%,#4874c6 37.5%,#4773c6 40.62%,#4671c6 43.75%,#456fc6 46.88%,#456dc7 50%,#446bc7 53.12%,#4369c7 56.25%,#4267c7 59.38%,#4164c7 62.5%,#4061c7 65.62%,#3f5dc7 68.75%,#3e5ac7 71.88%,#3e56c6 75%,#3d51c6 78.12%,#3c4dc5 81.25%,#3b48c5 84.38%,#3b43c3 87.5%,#3d3dc0 90.62%,#3f37bb 93.75%,#4134b9 95.16%,#4231b7 96.24%,#4430b5 96.88%,#452eb4 97.31%,#472eb2 97.85%,#4a2daf 98.39%,#4d2cad 98.92%,#502cab 99.19%,#522ba9 99.46%,#552ba7 99.73%,#572aa5 100%)"></i><i style="background:linear-gradient(#4e80c3 0%,#4d7fc3 3.125%,#4d7ec4 6.25%,#4c7dc4 9.375%,#4c7cc4 12.5%,#4b7bc4 15.62%,#4b7ac5 18.75%,#4a79c5 21.88%,#4978c5 25%,#4977c5 28.12%,#4876c5 31.25%,#4874c6 34.38%,#4773c6 37.5%,#4772c6 40.62%,#4670c6 43.75%,#456fc6 46.88%,#446dc7 50%,#446bc7 53.12%,#4369c7 56.25%,#4266c7 59.38%,#4163c7 62.5%,#4060c7 65.62%,#3f5dc7 68.75%,#3e59c7 71.88%,#3d55c6 75%,#3d51c6 78.12%,#3c4dc5 81.25%,#3b48c4 84.38%,#3b42c3 87.5%,#3d3dc0 90.62%,#4037bb 93.75%,#4134b9 95.16%,#4331b6 96.24%,#442fb5 96.88%,#452eb3 97.31%,#472db1 97.85%,#4a2daf 98.39%,#4e2cad 98.92%,#502cab 99.19%,#522ba9 99.46%,#552ba7 99.73%,#582aa5 100%)"></i><i style="background:linear-gradient(#4d7fc3 0%,#4d7fc4 3.125%,#4c7ec4 6.25%,#4c7dc4 9.375%,#4b7cc4 12.5%,#4b7bc5 15.62%,#4a7ac5 18.75%,#4a78c5 21.88%,#4977c5 25%,#4976c5 28.12%,#4875c6 31.25%,#4774c6 34.38%,#4773c6 37.5%,#4671c6 40.62%,#4670c6 43.75%,#456ec6 46.88%,#446cc7 50%,#436ac7 53.12%,#4268c7 56.25%,#4266c7 59.38%,#4163c7 62.5%,#405fc7 65.62%,#3f5cc7 68.75%,#3e58c6 71.88%,#3d54c6 75%,#3d50c6 78.12%,#3c4cc5 81.25%,#3b47c4 84.38%,#3b42c3 87.5%,#3d3dc0 90.62%,#4037bb 93.75%,#4134b8 95.16%,#4331b6 96.24%,#442fb4 96.88%,#452eb3 97.31%,#482db1 97.85%,#4a2daf 98.39%,#4e2cac 98.92%,#502cab 99.19%,#532ba9 99.46%,#552ba7 99.73%,#582aa5 100%)"></i><i style="background:linear-gradient(#4d7fc3 0%,#4c7ec4 3.125%,#4c7dc4 6.25%,#4b7cc4 9.375%,#4b7bc4 12.5%,#4a7ac5 15.62%,#4a79c5 18.75%,#4978c5 21.88%,#4977c5 25%,#4876c5 28.12%,#4874c6 31.25%,#4773c6 34.38%,#4772c6 37.5%,#4670c6 40.62%,#456fc6 43.75%,#456dc7 46.88%,#446bc7 50%,#4369c7 53.12%,#4267c7 56.25%,#4165c7 59.38%,#4062c7 62.5%,#405fc7 65.62%,#3f5bc7 68.75%,#3e57c6 71.88%,#3d53c6 75%,#3c4fc6 78.12%,#3c4bc5 81.25%,#3b47c4 84.38%,#3b42c3 87.5%,#3d3cbf 90.62%,#4036bb 93.75%,#4133b8 95.16%,#4331b6 96.24%,#442fb4 96.88%,#462eb3 97.31%,#482db1 97.85%,#4b2daf 98.39%,#4e2cac 98.92%,#502caa 99.19%,#532ba9 99.46%,#552ba7 99.73%,#582aa5 100%)"></i><i style="background:linear-gradient(#4c7ec4 0%,#4c7dc4 3.125%,#4c7cc4 6.25%,#4b7bc4 9.375%,#4b7ac5 12.5%,#4a79c5 15.62%,#4a78c5 18.75%,#4977c5 21.88%,#4976c5 25%,#4875c6 28.12%,#4774c6 31.25%,#4772c6 34.38%,#4671c6 37.5%,#4670c6 40.62%,#456ec6 43.75%,#446cc7 46.88%,#436bc7 50%,#4369c7 53.12%,#4266c7 56.25%,#4164c7 59.38%,#4061c7 62.5%,#3f5ec7 65.62%,#3f5ac7 68.75%,#3e57c6 71.88%,#3d53c6 75%,#3c4fc5 78.12%,#3c4bc5 81.25%,#3b46c4 84.38%,#3b41c2 87.5%,#3d3cbf 90.62%,#4036bb 93.75%,#4133b8 95.16%,#4330b6 96.24%,#442fb4 96.88%,#462eb3 97.31%,#482db1 97.85%,#4b2daf 98.39%,#4e2cac 98.92%,#512caa 99.19%,#532ba8 99.46%,#562ba6 99.73%,#582aa5 100%)"></i><i style="background:linear-gradient(#4c7dc4 0%,#4c7dc4 3.125%,#4b7cc4 6.25%,#4b7bc5 9.375%,#4a7ac5 12.5%,#4a79c5 15.62%,#4978c5 18.75%,#4976c5 21.88%,#4875c6 25%,#4874c6 28.12%,#4773c6 31.25%,#4772c6 34.38%,#4671c6 37.5%,#456fc6 40.62%,#456ec7 43.75%,#446cc7 46.88%,#436ac7 50%,#4268c7 53.12%,#4266c7 56.25%,#4163c7 59.38%,#4060c7 62.5%,#3f5dc7 65.62%,#3e5ac7 68.75%,#3e56c6 71.88%,#3d52c6 75%,#3c4ec5 78.12%,#3c4ac5 81.25%,#3b46c4 84.38%,#3b41c2 87.5%,#3d3cbf 90.62%,#4036ba 93.75%,#4233b8 95.16%,#4330b6 96.24%,#452fb4 96.88%,#462eb2 97.31%,#482db1 97.85%,#4b2dae 98.39%,#4f2cac 98.92%,#512caa 99.19%,#532ba8 99.46%,#562ba6 99.73%,#582aa4 100%)"></i><i style="background:linear-gradient(#4c7dc4 0%,#4b7cc4 3.125%,#4b7bc4 6.25%,#4a7ac5 9.375%,#4a79c5 12.5%,#4978c5 15.62%,#4977c5 18.75%,#4876c5 21.88%,#4875c6 25%,#4774c6 28.12%,#4772c6 31.25%,#4671c6 34.38%,#4670c6 37.5%,#456ec6 40.62%,#446dc7 43.75%,#446bc7 46.88%,#4369c7 50%,#4267c7 53.12%,#4165c7 56.25%,#4162c7 59.38%,#4060c7 62.5%,#3f5cc7 65.62%,#3e59c7 68.75%,#3d55c6 71.88%,#3d51c6 75%,#3c4ec5 78.12%,#3b4ac5 81.25%,#3b45c4 84.38%,#3c40c2 87.5%,#3d3bbf 90.62%,#4036ba 93.75%,#4233b8 95.16%,#4330b5 96.24%,#452fb4 96.88%,#462eb2 97.31%,#492db0 97.85%,#4b2dae 98.39%,#4f2cac 98.92%,#512baa 99.19%,#542ba8 99.46%,#562ba6 99.73%,#582aa4 100%)"></i><i style="background:linear-gradient(#4b7cc4 0%,#4b7bc4 3.125%,#4b7ac5 6.25%,#4a79c5 9.375%,#4a78c5 12.5%,#4977c5 15.62%,#4976c5 18.75%,#4875c6 21.88%,#4874c6 25%,#4773c6 28.12%,#4772c6 31.25%,#4671c6 34.38%,#456fc6 37.5%,#456ec7 40.62%,#446cc7 43.75%,#436ac7 46.88%,#4369c7 50%,#4267c7 53.12%,#4164c7 56.25%,#4062c7 59.38%,#405fc7 62.5%,#3f5cc7 65.62%,#3e58c6 68.75%,#3d54c6 71.88%,#3d51c6 75%,#3c4dc5 78.12%,#3b49c5 81.25%,#3b45c4 84.38%,#3c40c2 87.5%,#3e3bbe 90.62%,#4035ba 93.75%,#4232b8 95.16%,#4330b5 96.24%,#452eb3 96.88%,#472eb2 97.31%,#492db0 97.85%,#4c2dae 98.39%,#4f2cab 98.92%,#512baa 99.19%,#542ba8 99.46%,#562ba6 99.73%,#592aa4 100%)"></i><i style="background:linear-gradient(#4b7cc4 0%,#4b7bc5 3.125%,#4a7ac5 6.25%,#4a79c5 9.375%,#4978c5 12.5%,#4977c5 15.62%,#4876c5 18.75%,#4875c6 21.88%,#4773c6 25%,#4772c6 28.12%,#4671c6 31.25%,#4670c6 34.38%,#456fc6 37.5%,#446dc7 40.62%,#446cc7 43.75%,#436ac7 46.88%,#4268c7 50%,#4266c7 53.12%,#4164c7 56.25%,#4061c7 59.38%,#3f5ec7 62.5%,#3f5bc7 65.62%,#3e57c6 68.75%,#3d54c6 71.88%,#3d50c6 75%,#3c4dc5 78.12%,#3b49c5 81.25%,#3b44c4 84.38%,#3c40c2 87.5%,#3e3bbe 90.62%,#4035ba 93.75%,#4232b7 95.16%,#4430b5 96.24%,#452eb3 96.88%,#472eb2 97.31%,#492db0 97.85%,#4c2cae 98.39%,#4f2cab 98.92%,#522baa 99.19%,#542ba8 99.46%,#562aa6 99.73%,#592aa4 100%)"></i><i style="background:linear-gradient(#4b7bc4 0%,#4a7ac5 3.125%,#4a79c5 6.25%,#4978c5 9.375%,#4977c5 12.5%,#4976c5 15.62%,#4875c6 18.75%,#4874c6 21.88%,#4773c6 25%,#4672c6 28.12%,#4671c6 31.25%,#456fc6 34.38%,#456ec6 37.5%,#446cc7 40.62%,#446bc7 43.75%,#4369c7 46.88%,#4267c7 50%,#4165c7 53.12%,#4163c7 56.25%,#4060c7 59.38%,#3f5dc7 62.5%,#3e5ac7 65.62%,#3e57c6 68.75%,#3d53c6 71.88%,#3c50c6 75%,#3c4cc5 78.12%,#3b48c5 81.25%,#3b44c3 84.38%,#3c3fc1 87.5%,#3e3abe 90.62%,#4035ba 93.75%,#4232b7 95.16%,#442fb5 96.24%,#452eb3 96.88%,#472eb2 97.31%,#492db0 97.85%,#4c2cae 98.39%,#502cab 98.92%,#522ba9 99.19%,#542ba8 99.46%,#562aa6 99.73%,#592aa4 100%)"></i><i style="background:linear-gradient(#4b7ac5 0%,#4a79c5 3.125%,#4a78c5 6.25%,#4977c5 9.375%,#4976c5 12.5%,#4875c6 15.62%,#4874c6 18.75%,#4773c6 21.88%,#4772c6 25%,#4671c6 28.12%,#4670c6 31.25%,#456fc6 34.38%,#456dc7 37.5%,#446cc7 40.62%,#436ac7 43.75%,#4368c7 46.88%,#4267c7 50%,#4164c7 53.12%,#4062c7 56.25%,#405fc7 59.38%,#3f5dc7 62.5%,#3e59c7 65.62%,#3e56c6 68.75%,#3d52c6 71.88%,#3c4fc6 75%,#3c4bc5 78.12%,#3b48c4 81.25%,#3b44c3 84.38%,#3c3fc1 87.5%,#3e3abe 90.62%,#4135b9 93.75%,#4232b7 95.16%,#442fb5 96.24%,#462eb3 96.88%,#472db2 97.31%,#4a2db0 97.85%,#4c2cae 98.39%,#502cab 98.92%,#522ba9 99.19%,#542ba7 99.46%,#572aa6 99.73%,#592aa4 100%)"></i><i style="background:linear-gradient(#4a7ac5 0%,#4a79c5 3.125%,#4978c5 6.25%,#4977c5 9.375%,#4876c5 12.5%,#4875c6 15.62%,#4774c6 18.75%,#4773c6 21.88%,#4672c6 25%,#4670c6 28.12%,#456fc6 31.25%,#456ec6 34.38%,#446dc7 37.5%,#446bc7 40.62%,#436ac7 43.75%,#4268c7 46.88%,#4266c7 50%,#4164c7 53.12%,#4061c7 56.25%,#405fc7 59.38%,#3f5cc7 62.5%,#3e59c7 65.62%,#3d55c6 68.75%,#3d52c6 71.88%,#3c4ec5 75%,#3c4bc5 78.12%,#3b47c4 81.25%,#3b43c3 84.38%,#3c3ec1 87.5%,#3e3abd 90.62%,#4135b9 93.75%,#4232b7 95.16%,#442fb4 96.24%,#462eb3 96.88%,#472db1 97.31%,#4a2db0 97.85%,#4d2cad 98.39%,#502cab 98.92%,#522ba9 99.19%,#552ba7 99.46%,#572aa6 99.73%,#592aa4 100%)"></i><i style="background:linear-gradient(#4a79c5 0%,#4a78c5 3.125%,#4977c5 6.25%,#4976c5 9.375%,#4875c6 12.5%,#4874c6 15.62%,#4773c6 18.75%,#4772c6 21.88%,#4671c6 25%,#4670c6 28.12%,#456fc6 31.25%,#456dc7 34.38%,#446cc7 37.5%,#436bc7 40.62%,#4369c7 43.75%,#4267c7 46.88%,#4165c7 50%,#4163c7 53.12%,#4061c7 56.25%,#3f5ec7 59.38%,#3f5bc7 62.5%,#3e58c6 65.62%,#3d55c6 68.75%,#3d51c6 71.88%,#3c4ec5 75%,#3c4ac5 78.12%,#3b47c4 81.25%,#3b43c3 84.38%,#3c3ec1 87.5%,#3e3abd 90.62%,#4134b9 93.75%,#4231b7 95.16%,#442fb4 96.24%,#462eb2 96.88%,#482db1 97.31%,#4a2daf 97.85%,#4d2cad 98.39%,#502cab 98.92%,#522ba9 99.19%,#552ba7 99.46%,#572aa5 99.73%,#592aa4 100%)"></i><i style="background:linear-gradient(#4a78c5 0%,#4978c5 3.125%,#4977c5 6.25%,#4876c5 9.375%,#4875c6 12.5%,#4774c6 15.62%,#4773c6 18.75%,#4672c6 21.88%,#4670c6 25%,#456fc6 28.12%,#456ec6 31.25%,#446dc7 34.38%,#446bc7 37.5%,#436ac7 40.62%,#4368c7 43.75%,#4266c7 46.88%,#4164c7 50%,#4162c7 53.12%,#4060c7 56.25%,#3f5dc7 59.38%,#3f5ac7 62.5%,#3e57c6 65.62%,#3d54c6 68.75%,#3d51c6 71.88%,#3c4dc5 75%,#3c4ac5 78.12%,#3b46c4 81.25%,#3b42c3 84.38%,#3c3ec0 87.5%,#3e39bd 90.62%,#4134b9 93.75%,#4331b6 95.16%,#442fb4 96.24%,#462eb2 96.88%,#482db1 97.31%,#4a2daf 97.85%,#4d2cad 98.39%,#512caa 98.92%,#532ba9 99.19%,#552ba7 99.46%,#572aa5 99.73%,#5a2aa3 100%)"></i><i style="background:linear-gradient(#4978c5 0%,#4977c5 3.125%,#4876c5 6.25%,#4875c6 9.375%,#4874c6 12.5%,#4773c6 15.62%,#4772c6 18.75%,#4671c6 21.88%,#4670c6 25%,#456fc6 28.12%,#456dc7 31.25%,#446cc7 34.38%,#446bc7 37.5%,#4369c7 40.62%,#4268c7 43.75%,#4266c7 46.88%,#4164c7 50%,#4062c7 53.12%,#405fc7 56.25%,#3f5dc7 59.38%,#3e5ac7 62.5%,#3e57c6 65.62%,#3d53c6 68.75%,#3d50c6 71.88%,#3c4dc5 75%,#3b4ac5 78.12%,#3b46c4 81.25%,#3b42c3 84.38%,#3c3dc0 87.5%,#3f39bd 90.62%,#4134b9 93.75%,#4331b6 95.16%,#452fb4 96.24%,#472eb2 96.88%,#482db1 97.31%,#4a2daf 97.85%,#4d2cad 98.39%,#512caa 98.92%,#532ba9 99.19%,#552ba7 99.46%,#572aa5 99.73%,#5a2aa3 100%)"></i><i style="background:linear-gradient(#4977c5 0%,#4976c5 3.125%,#4875c6 6.25%,#4874c6 9.375%,#4773c6 12.5%,#4772c6 15.62%,#4671c6 18.75%,#4670c6 21.88%,#456fc6 25%,#456ec6 28.12%,#446dc7 31.25%,#446cc7 34.38%,#436ac7 37.5%,#4369c7 40.62%,#4267c7 43.75%,#4165c7 46.88%,#4163c7 50%,#4061c7 53.12%,#405fc7 56.25%,#3f5cc7 59.38%,#3e59c7 62.5%,#3e56c6 65.62%,#3d53c6 68.75%,#3c50c6 71.88%,#3c4cc5 75%,#3b49c5 78.12%,#3b46c4 81.25%,#3b42c3 84.38%,#3d3dc0 87.5%,#3f39bd 90.62%,#4134b9 93.75%,#4331b6 95.16%,#452fb4 96.24%,#472eb2 96.88%,#482db1 97.31%,#4b2daf 97.85%,#4d2cad 98.39%,#512baa 98.92%,#532ba8 99.19%,#552ba7 99.46%,#572aa5 99.73%,#5a2aa3 100%)"></i><i style="background:linear-gradient(#4977c5 0%,#4876c5 3.125%,#4875c6 6.25%,#4774c6 9.375%,#4773c6 12.5%,#4772c6 15.62%,#4671c6 18.75%,#4670c6 21.88%,#456fc6 25%,#456dc7 28.12%,#446cc7 31.25%,#446bc7 34.38%,#436ac7 37.5%,#4268c7 40.62%,#4266c7 43.75%,#4164c7 46.88%,#4162c7 50%,#4060c7 53.12%,#3f5ec7 56.25%,#3f5bc7 59.38%,#3e58c7 62.5%,#3d55c6 65.62%,#3d52c6 68.75%,#3c4fc6 71.88%,#3c4cc5 75%,#3b49c5 78.12%,#3b45c4 81.25%,#3b41c2 84.38%,#3d3dc0 87.5%,#3f39bc 90.62%,#4133b8 93.75%,#4331b6 95.16%,#452eb3 96.24%,#472eb2 96.88%,#492db0 97.31%,#4b2daf 97.85%,#4e2cad 98.39%,#512baa 98.92%,#532ba8 99.19%,#552ba7 99.46%,#582aa5 99.73%,#5a2aa3 100%)"></i><i style="background:linear-gradient(#4976c5 0%,#4875c6 3.125%,#4874c6 6.25%,#4773c6 9.375%,#4772c6 12.5%,#4671c6 15.62%,#4670c6 18.75%,#456fc6 21.88%,#456ec6 25%,#446dc7 28.12%,#446cc7 31.25%,#436ac7 34.38%,#4369c7 37.5%,#4267c7 40.62%,#4266c7 43.75%,#4164c7 46.88%,#4062c7 50%,#4060c7 53.12%,#3f5dc7 56.25%,#3f5bc7 59.38%,#3e58c6 62.5%,#3d55c6 65.62%,#3d52c6 68.75%,#3c4ec5 71.88%,#3c4bc5 75%,#3b48c5 78.12%,#3b45c4 81.25%,#3b41c2 84.38%,#3d3dc0 87.5%,#3f38bc 90.62%,#4133b8 93.75%,#4330b6 95.16%,#452eb3 96.24%,#472db2 96.88%,#492db0 97.31%,#4b2daf 97.85%,#4e2cac 98.39%,#512baa 98.92%,#542ba8 99.19%,#562ba6 99.46%,#582aa5 99.73%,#5a2aa3 100%)"></i><i style="background:linear-gradient(#4876c5 0%,#4875c6 3.125%,#4774c6 6.25%,#4773c6 9.375%,#4772c6 12.5%,#4671c6 15.62%,#4670c6 18.75%,#456fc6 21.88%,#456ec7 25%,#446cc7 28.12%,#446bc7 31.25%,#436ac7 34.38%,#4368c7 37.5%,#4267c7 40.62%,#4165c7 43.75%,#4163c7 46.88%,#4061c7 50%,#405fc7 53.12%,#3f5cc7 56.25%,#3e5ac7 59.38%,#3e57c6 62.5%,#3d54c6 65.62%,#3d51c6 68.75%,#3c4ec5 71.88%,#3c4bc5 75%,#3b48c4 78.12%,#3b44c4 81.25%,#3c40c2 84.38%,#3d3cbf 87.5%,#3f38bc 90.62%,#4133b8 93.75%,#4330b6 95.16%,#452eb3 96.24%,#472db1 96.88%,#492db0 97.31%,#4b2dae 97.85%,#4e2cac 98.39%,#522ba9 98.92%,#542ba8 99.19%,#562ba6 99.46%,#582aa5 99.73%,#5a2aa3 100%)"></i><i style="background:linear-gradient(#4875c6 0%,#4874c6 3.125%,#4773c6 6.25%,#4772c6 9.375%,#4671c6 12.5%,#4670c6 15.62%,#456fc6 18.75%,#456ec6 21.88%,#446dc7 25%,#446cc7 28.12%,#436ac7 31.25%,#4369c7 34.38%,#4268c7 37.5%,#4266c7 40.62%,#4164c7 43.75%,#4162c7 46.88%,#4060c7 50%,#3f5ec7 53.12%,#3f5cc7 56.25%,#3e59c7 59.38%,#3e56c6 62.5%,#3d53c6 65.62%,#3d50c6 68.75%,#3c4dc5 71.88%,#3c4ac5 75%,#3b47c4 78.12%,#3b44c4 81.25%,#3c40c2 84.38%,#3d3cbf 87.5%,#3f38bc 90.62%,#4233b8 93.75%,#4330b5 95.16%,#462eb3 96.24%,#482db1 96.88%,#492db0 97.31%,#4c2dae 97.85%,#4e2cac 98.39%,#522ba9 98.92%,#542ba8 99.19%,#562ba6 99.46%,#582aa5 99.73%,#5a2aa3 100%)"></i><i style="background:linear-gradient(#4874c6 0%,#4773c6 3.125%,#4773c6 6.25%,#4672c6 9.375%,#4671c6 12.5%,#4670c6 15.62%,#456fc6 18.75%,#456dc7 21.88%,#446cc7 25%,#446bc7 28.12%,#436ac7 31.25%,#4369c7 34.38%,#4267c7 37.5%,#4266c7 40.62%,#4164c7 43.75%,#4062c7 46.88%,#4060c7 50%,#3f5ec7 53.12%,#3f5bc7 56.25%,#3e59c7 59.38%,#3e56c6 62.5%,#3d53c6 65.62%,#3c50c6 68.75%,#3c4dc5 71.88%,#3c4ac5 75%,#3b47c4 78.12%,#3b44c3 81.25%,#3c40c2 84.38%,#3d3cbf 87.5%,#3f38bc 90.62%,#4233b8 93.75%,#4330b5 95.16%,#462eb3 96.24%,#482db1 96.88%,#492db0 97.31%,#4c2dae 97.85%,#4f2cac 98.39%,#522ba9 98.92%,#542ba8 99.19%,#562ba6 99.46%,#582aa5 99.73%,#5b2aa3 100%)"></i><i style="background:linear-gradient(#4774c6 0%,#4773c6 3.125%,#4772c6 6.25%,#4671c6 9.375%,#4670c6 12.5%,#456fc6 15.62%,#456ec6 18.75%,#446dc7 21.88%,#446cc7 25%,#436bc7 28.12%,#4369c7 31.25%,#4268c7 34.38%,#4266c7 37.5%,#4165c7 40.62%,#4163c7 43.75%,#4061c7 46.88%,#405fc7 50%,#3f5dc7 53.12%,#3f5ac7 56.25%,#3e58c6 59.38%,#3d55c6 62.5%,#3d52c6 65.62%,#3c4fc6 68.75%,#3c4dc5 71.88%,#3b4ac5 75%,#3b47c4 78.12%,#3b43c3 81.25%,#3c3fc1 84.38%,#3d3bbf 87.5%,#3f37bc 90.62%,#4232b8 93.75%,#4430b5 95.16%,#462eb3 96.24%,#482db1 96.88%,#4a2db0 97.31%,#4c2cae 97.85%,#4f2cac 98.39%,#522ba9 98.92%,#542ba7 99.19%,#562ba6 99.46%,#582aa4 99.73%,#5b2aa3 100%)"></i><i style="background:linear-gradient(#4773c6 0%,#4772c6 3.125%,#4671c6 6.25%,#4670c6 9.375%,#4670c6 12.5%,#456fc6 15.62%,#456dc7 18.75%,#446cc7 21.88%,#446bc7 25%,#436ac7 28.12%,#4369c7 31.25%,#4267c7 34.38%,#4266c7 37.5%,#4164c7 40.62%,#4162c7 43.75%,#4061c7 46.88%,#405ec7 50%,#3f5cc7 53.12%,#3e5ac7 56.25%,#3e57c6 59.38%,#3d55c6 62.5%,#3d52c6 65.62%,#3c4fc6 68.75%,#3c4cc5 71.88%,#3b49c5 75%,#3b46c4 78.12%,#3b43c3 81.25%,#3c3fc1 84.38%,#3d3bbe 87.5%,#3f37bb 90.62%,#4232b7 93.75%,#4430b5 95.16%,#462eb2 96.24%,#482db1 96.88%,#4a2db0 97.31%,#4c2cae 97.85%,#4f2cac 98.39%,#522ba9 98.92%,#542ba7 99.19%,#562aa6 99.46%,#582aa4 99.73%,#5b2aa2 100%)"></i><i style="background:linear-gradient(#4773c6 0%,#4772c6 3.125%,#4671c6 6.25%,#4670c6 9.375%,#456fc6 12.5%,#456ec6 15.62%,#446dc7 18.75%,#446cc7 21.88%,#436bc7 25%,#4369c7 28.12%,#4368c7 31.25%,#4267c7 34.38%,#4265c7 37.5%,#4164c7 40.62%,#4062c7 43.75%,#4060c7 46.88%,#3f5ec7 50%,#3f5cc7 53.12%,#3e59c7 56.25%,#3e57c6 59.38%,#3d54c6 62.5%,#3d51c6 65.62%,#3c4ec5 68.75%,#3c4cc5 71.88%,#3b49c5 75%,#3b46c4 78.12%,#3b42c3 81.25%,#3c3fc1 84.38%,#3e3bbe 87.5%,#4037bb 90.62%,#4232b7 93.75%,#442fb5 95.16%,#462eb2 96.24%,#482db1 96.88%,#4a2daf 97.31%,#4c2cae 97.85%,#4f2cab 98.39%,#532ba9 98.92%,#552ba7 99.19%,#562aa6 99.46%,#592aa4 99.73%,#5b2aa2 100%)"></i><i style="background:linear-gradient(#4772c6 0%,#4671c6 3.125%,#4670c6 6.25%,#456fc6 9.375%,#456ec6 12.5%,#456dc7 15.62%,#446cc7 18.75%,#446bc7 21.88%,#436ac7 25%,#4369c7 28.12%,#4268c7 31.25%,#4266c7 34.38%,#4165c7 37.5%,#4163c7 40.62%,#4061c7 43.75%,#405fc7 46.88%,#3f5dc7 50%,#3f5bc7 53.12%,#3e59c7 56.25%,#3e56c6 59.38%,#3d53c6 62.5%,#3d51c6 65.62%,#3c4ec5 68.75%,#3c4bc5 71.88%,#3b48c5 75%,#3b45c4 78.12%,#3b42c3 81.25%,#3c3ec1 84.38%,#3e3bbe 87.5%,#4037bb 90.62%,#4232b7 93.75%,#442fb5 95.16%,#472eb2 96.24%,#492db0 96.88%,#4a2daf 97.31%,#4d2cad 97.85%,#4f2cab 98.39%,#532ba9 98.92%,#552ba7 99.19%,#572aa6 99.46%,#592aa4 99.73%,#5b2aa2 100%)"></i><i style="background:linear-gradient(#4672c6 0%,#4671c6 3.125%,#4670c6 6.25%,#456fc6 9.375%,#456ec6 12.5%,#446dc7 15.62%,#446cc7 18.75%,#446bc7 21.88%,#436ac7 25%,#4368c7 28.12%,#4267c7 31.25%,#4266c7 34.38%,#4164c7 37.5%,#4162c7 40.62%,#4061c7 43.75%,#405fc7 46.88%,#3f5dc7 50%,#3f5ac7 53.12%,#3e58c6 56.25%,#3e56c6 59.38%,#3d53c6 62.5%,#3d50c6 65.62%,#3c4dc5 68.75%,#3c4bc5 71.88%,#3b48c4 75%,#3b45c4 78.12%,#3b42c3 81.25%,#3c3ec1 84.38%,#3e3abe 87.5%,#4037bb 90.62%,#4232b7 93.75%,#442fb4 95.16%,#472eb2 96.24%,#492db0 96.88%,#4a2daf 97.31%,#4d2cad 97.85%,#502cab 98.39%,#532ba8 98.92%,#552ba7 99.19%,#572aa6 99.46%,#592aa4 99.73%,#5b2aa2 100%)"></i><i style="background:linear-gradient(#4671c6 0%,#4670c6 3.125%,#456fc6 6.25%,#456ec6 9.375%,#456dc7 12.5%,#446cc7 15.62%,#446bc7 18.75%,#436ac7 21.88%,#4369c7 25%,#4268c7 28.12%,#4266c7 31.25%,#4165c7 34.38%,#4163c7 37.5%,#4062c7 40.62%,#4060c7 43.75%,#3f5ec7 46.88%,#3f5cc7 50%,#3e5ac7 53.12%,#3e57c6 56.25%,#3d55c6 59.38%,#3d52c6 62.5%,#3c50c6 65.62%,#3c4dc5 68.75%,#3c4ac5 71.88%,#3b48c4 75%,#3b45c4 78.12%,#3b41c3 81.25%,#3c3ec0 84.38%,#3e3abe 87.5%,#4036bb 90.62%,#4232b7 93.75%,#442fb4 95.16%,#472eb2 96.24%,#492db0 96.88%,#4b2daf 97.31%,#4d2cad 97.85%,#502cab 98.39%,#532ba8 98.92%,#552ba7 99.19%,#572aa5 99.46%,#592aa4 99.73%,#5b29a2 100%)"></i><i style="background:linear-gradient(#4671c6 0%,#4670c6 3.125%,#456fc6 6.25%,#456ec7 9.375%,#446dc7 12.5%,#446cc7 15.62%,#446bc7 18.75%,#436ac7 21.88%,#4368c7 25%,#4267c7 28.12%,#4266c7 31.25%,#4164c7 34.38%,#4163c7 37.5%,#4061c7 40.62%,#405fc7 43.75%,#3f5dc7 46.88%,#3f5bc7 50%,#3e59c7 53.12%,#3e57c6 56.25%,#3d54c6 59.38%,#3d52c6 62.5%,#3c4fc6 65.62%,#3c4dc5 68.75%,#3b4ac5 71.88%,#3b47c4 75%,#3b44c4 78.12%,#3b41c2 81.25%,#3c3ec0 84.38%,#3e3abe 87.5%,#4036bb 90.62%,#4231b7 93.75%,#442fb4 95.16%,#472eb2 96.24%,#492db0 96.88%,#4b2daf 97.31%,#4d2cad 97.85%,#502cab 98.39%,#532ba8 98.92%,#552ba7 99.19%,#572aa5 99.46%,#592aa4 99.73%,#5c29a2 100%)"></i><i style="background:linear-gradient(#4670c6 0%,#456fc6 3.125%,#456ec6 6.25%,#456dc7 9.375%,#446cc7 12.5%,#446bc7 15.62%,#436ac7 18.75%,#4369c7 21.88%,#4268c7 25%,#4267c7 28.12%,#4265c7 31.25%,#4164c7 34.38%,#4162c7 37.5%,#4061c7 40.62%,#405fc7 43.75%,#3f5dc7 46.88%,#3f5bc7 50%,#3e59c7 53.12%,#3e56c6 56.25%,#3d54c6 59.38%,#3d51c6 62.5%,#3c4fc5 65.62%,#3c4cc5 68.75%,#3b49c5 71.88%,#3b47c4 75%,#3b44c3 78.12%,#3b41c2 81.25%,#3d3dc0 84.38%,#3e3abd 87.5%,#4036ba 90.62%,#4331b6 93.75%,#452fb4 95.16%,#472db1 96.24%,#492db0 96.88%,#4b2daf 97.31%,#4d2cad 97.85%,#502cab 98.39%,#542ba8 98.92%,#552ba7 99.19%,#572aa5 99.46%,#592aa4 99.73%,#5c29a2 100%)"></i><i style="background:linear-gradient(#466fc6 0%,#456fc6 3.125%,#456ec7 6.25%,#446dc7 9.375%,#446cc7 12.5%,#446bc7 15.62%,#436ac7 18.75%,#4369c7 21.88%,#4267c7 25%,#4266c7 28.12%,#4165c7 31.25%,#4163c7 34.38%,#4062c7 37.5%,#4060c7 40.62%,#3f5ec7 43.75%,#3f5cc7 46.88%,#3e5ac7 50%,#3e58c6 53.12%,#3e56c6 56.25%,#3d53c6 59.38%,#3d51c6 62.5%,#3c4ec5 65.62%,#3c4cc5 68.75%,#3b49c5 71.88%,#3b46c4 75%,#3b44c3 78.12%,#3c40c2 81.25%,#3d3dc0 84.38%,#3e39bd 87.5%,#4036ba 90.62%,#4331b6 93.75%,#452fb4 95.16%,#482db1 96.24%,#4a2db0 96.88%,#4b2dae 97.31%,#4e2cad 97.85%,#502caa 98.39%,#542ba8 98.92%,#562ba7 99.19%,#572aa5 99.46%,#592aa4 99.73%,#5c29a2 100%)"></i><i style="background:linear-gradient(#456fc6 0%,#456ec6 3.125%,#456dc7 6.25%,#446cc7 9.375%,#446bc7 12.5%,#436ac7 15.62%,#4369c7 18.75%,#4268c7 21.88%,#4267c7 25%,#4266c7 28.12%,#4164c7 31.25%,#4163c7 34.38%,#4061c7 37.5%,#405fc7 40.62%,#3f5ec7 43.75%,#3f5cc7 46.88%,#3e5ac7 50%,#3e57c6 53.12%,#3d55c6 56.25%,#3d53c6 59.38%,#3d50c6 62.5%,#3c4ec5 65.62%,#3c4bc5 68.75%,#3b49c5 71.88%,#3b46c4 75%,#3b43c3 78.12%,#3c40c2 81.25%,#3d3dc0 84.38%,#3e39bd 87.5%,#4036ba 90.62%,#4331b6 93.75%,#452eb4 95.16%,#482db1 96.24%,#4a2db0 96.88%,#4b2dae 97.31%,#4e2cad 97.85%,#512caa 98.39%,#542ba8 98.92%,#562ba6 99.19%,#572aa5 99.46%,#592aa4 99.73%,#5c29a2 100%)"></i><i style="background:linear-gradient(#456ec6 0%,#456ec7 3.125%,#446dc7 6.25%,#446cc7 9.375%,#436bc7 12.5%,#436ac7 15.62%,#4369c7 18.75%,#4267c7 21.88%,#4266c7 25%,#4165c7 28.12%,#4164c7 31.25%,#4062c7 34.38%,#4060c7 37.5%,#405fc7 40.62%,#3f5dc7 43.75%,#3f5bc7 46.88%,#3e59c7 50%,#3e57c6 53.12%,#3d55c6 56.25%,#3d52c6 59.38%,#3c50c6 62.5%,#3c4dc5 65.62%,#3c4bc5 68.75%,#3b48c5 71.88%,#3b46c4 75%,#3b43c3 78.12%,#3c40c2 81.25%,#3d3cbf 84.38%,#3e39bd 87.5%,#4035ba 90.62%,#4331b6 93.75%,#452eb3 95.16%,#482db1 96.24%,#4a2daf 96.88%,#4c2dae 97.31%,#4e2cac 97.85%,#512caa 98.39%,#542ba8 98.92%,#562ba6 99.19%,#582aa5 99.46%,#5a2aa3 99.73%,#5c29a1 100%)"></i><i style="background:linear-gradient(#456ec6 0%,#446dc7 3.125%,#446cc7 6.25%,#446bc7 9.375%,#436ac7 12.5%,#4369c7 15.62%,#4268c7 18.75%,#4267c7 21.88%,#4266c7 25%,#4164c7 28.12%,#4163c7 31.25%,#4061c7 34.38%,#4060c7 37.5%,#3f5ec7 40.62%,#3f5cc7 43.75%,#3f5ac7 46.88%,#3e58c7 50%,#3e56c6 53.12%,#3d54c6 56.25%,#3d52c6 59.38%,#3c4fc6 62.5%,#3c4dc5 65.62%,#3c4ac5 68.75%,#3b48c5 71.88%,#3b45c4 75%,#3b43c3 78.12%,#3c40c1 81.25%,#3d3cbf 84.38%,#3f39bd 87.5%,#4035ba 90.62%,#4330b6 93.75%,#452eb3 95.16%,#482db1 96.24%,#4a2daf 96.88%,#4c2dae 97.31%,#4e2cac 97.85%,#512caa 98.39%,#542ba7 98.92%,#562ba6 99.19%,#582aa5 99.46%,#5a2aa3 99.73%,#5c29a1 100%)"></i><i style="background:linear-gradient(#456dc7 0%,#446dc7 3.125%,#446cc7 6.25%,#436bc7 9.375%,#436ac7 12.5%,#4369c7 15.62%,#4268c7 18.75%,#4266c7 21.88%,#4165c7 25%,#4164c7 28.12%,#4162c7 31.25%,#4061c7 34.38%,#405fc7 37.5%,#3f5ec7 40.62%,#3f5cc7 43.75%,#3e5ac7 46.88%,#3e58c6 50%,#3e56c6 53.12%,#3d53c6 56.25%,#3d51c6 59.38%,#3c4fc5 62.5%,#3c4dc5 65.62%,#3c4ac5 68.75%,#3b48c4 71.88%,#3b45c4 75%,#3b42c3 78.12%,#3c3fc1 81.25%,#3d3cbf 84.38%,#3f39bc 87.5%,#4035ba 90.62%,#4330b6 93.75%,#452eb3 95.16%,#482db1 96.24%,#4a2daf 96.88%,#4c2cae 97.31%,#4e2cac 97.85%,#512baa 98.39%,#542ba7 98.92%,#562ba6 99.19%,#582aa5 99.46%,#5a2aa3 99.73%,#5c29a1 100%)"></i><i style="background:linear-gradient(#446dc7 0%,#446cc7 3.125%,#446bc7 6.25%,#436ac7 9.375%,#4369c7 12.5%,#4268c7 15.62%,#4267c7 18.75%,#4266c7 21.88%,#4165c7 25%,#4163c7 28.12%,#4062c7 31.25%,#4060c7 34.38%,#405fc7 37.5%,#3f5dc7 40.62%,#3f5bc7 43.75%,#3e59c7 46.88%,#3e57c6 50%,#3d55c6 53.12%,#3d53c6 56.25%,#3d51c6 59.38%,#3c4ec5 62.5%,#3c4cc5 65.62%,#3b4ac5 68.75%,#3b47c4 71.88%,#3b45c4 75%,#3b42c3 78.12%,#3c3fc1 81.25%,#3d3cbf 84.38%,#3f38bc 87.5%,#4135b9 90.62%,#4330b6 93.75%,#462eb3 95.16%,#482db1 96.24%,#4b2daf 96.88%,#4c2cae 97.31%,#4e2cac 97.85%,#512baa 98.39%,#552ba7 98.92%,#562aa6 99.19%,#582aa5 99.46%,#5a2aa3 99.73%,#5d29a1 100%)"></i><i style="background:linear-gradient(#446cc7 0%,#446cc7 3.125%,#436bc7 6.25%,#436ac7 9.375%,#4369c7 12.5%,#4268c7 15.62%,#4266c7 18.75%,#4265c7 21.88%,#4164c7 25%,#4163c7 28.12%,#4061c7 31.25%,#4060c7 34.38%,#3f5ec7 37.5%,#3f5cc7 40.62%,#3f5bc7 43.75%,#3e59c7 46.88%,#3e57c6 50%,#3d55c6 53.12%,#3d52c6 56.25%,#3d50c6 59.38%,#3c4ec5 62.5%,#3c4cc5 65.62%,#3b49c5 68.75%,#3b47c4 71.88%,#3b44c4 75%,#3b42c3 78.12%,#3c3fc1 81.25%,#3d3bbf 84.38%,#3f38bc 87.5%,#4135b9 90.62%,#4330b5 93.75%,#462eb3 95.16%,#492db0 96.24%,#4b2daf 96.88%,#4c2cae 97.31%,#4f2cac 97.85%,#512baa 98.39%,#552ba7 98.92%,#562aa6 99.19%,#582aa5 99.46%,#5a2aa3 99.73%,#5d29a1 100%)"></i><i style="background:linear-gradient(#446cc7 0%,#446bc7 3.125%,#436ac7 6.25%,#4369c7 9.375%,#4268c7 12.5%,#4267c7 15.62%,#4266c7 18.75%,#4165c7 21.88%,#4164c7 25%,#4162c7 28.12%,#4061c7 31.25%,#405fc7 34.38%,#3f5ec7 37.5%,#3f5cc7 40.62%,#3e5ac7 43.75%,#3e58c6 46.88%,#3e56c6 50%,#3d54c6 53.12%,#3d52c6 56.25%,#3c50c6 59.38%,#3c4ec5 62.5%,#3c4bc5 65.62%,#3b49c5 68.75%,#3b47c4 71.88%,#3b44c4 75%,#3b41c2 78.12%,#3c3ec1 81.25%,#3d3bbf 84.38%,#3f38bc 87.5%,#4135b9 90.62%,#4330b5 93.75%,#462eb3 95.16%,#492db0 96.24%,#4b2daf 96.88%,#4d2cad 97.31%,#4f2cac 97.85%,#522ba9 98.39%,#552ba7 98.92%,#562aa6 99.19%,#582aa4 99.46%,#5a2aa3 99.73%,#5d29a1 100%)"></i><i style="background:linear-gradient(#446bc7 0%,#436ac7 3.125%,#436ac7 6.25%,#4369c7 9.375%,#4268c7 12.5%,#4267c7 15.62%,#4265c7 18.75%,#4164c7 21.88%,#4163c7 25%,#4062c7 28.12%,#4060c7 31.25%,#405fc7 34.38%,#3f5dc7 37.5%,#3f5bc7 40.62%,#3e59c7 43.75%,#3e58c6 46.88%,#3e56c6 50%,#3d54c6 53.12%,#3d51c6 56.25%,#3c4fc6 59.38%,#3c4dc5 62.5%,#3c4bc5 65.62%,#3b49c5 68.75%,#3b46c4 71.88%,#3b44c3 75%,#3b41c2 78.12%,#3c3ec1 81.25%,#3e3bbe 84.38%,#3f38bc 87.5%,#4134b9 90.62%,#4430b5 93.75%,#462eb3 95.16%,#492db0 96.24%,#4b2daf 96.88%,#4d2cad 97.31%,#4f2cac 97.85%,#522ba9 98.39%,#552ba7 98.92%,#572aa6 99.19%,#582aa4 99.46%,#5a2aa3 99.73%,#5d29a1 100%)"></i><i style="background:linear-gradient(#446bc7 0%,#436ac7 3.125%,#4369c7 6.25%,#4268c7 9.375%,#4267c7 12.5%,#4266c7 15.62%,#4165c7 18.75%,#4164c7 21.88%,#4162c7 25%,#4061c7 28.12%,#4060c7 31.25%,#3f5ec7 34.38%,#3f5cc7 37.5%,#3f5bc7 40.62%,#3e59c7 43.75%,#3e57c6 46.88%,#3d55c6 50%,#3d53c6 53.12%,#3d51c6 56.25%,#3c4fc6 59.38%,#3c4dc5 62.5%,#3c4bc5 65.62%,#3b48c5 68.75%,#3b46c4 71.88%,#3b43c3 75%,#3b41c2 78.12%,#3c3ec0 81.25%,#3e3bbe 84.38%,#3f38bc 87.5%,#4134b9 90.62%,#4430b5 93.75%,#462eb2 95.16%,#492db0 96.24%,#4b2dae 96.88%,#4d2cad 97.31%,#4f2cab 97.85%,#522ba9 98.39%,#552ba7 98.92%,#572aa6 99.19%,#582aa4 99.46%,#5a2aa3 99.73%,#5d29a1 100%)"></i><i style="background:linear-gradient(#436ac7 0%,#4369c7 3.125%,#4369c7 6.25%,#4268c7 9.375%,#4267c7 12.5%,#4266c7 15.62%,#4164c7 18.75%,#4163c7 21.88%,#4062c7 25%,#4061c7 28.12%,#405fc7 31.25%,#3f5ec7 34.38%,#3f5cc7 37.5%,#3e5ac7 40.62%,#3e58c7 43.75%,#3e57c6 46.88%,#3d55c6 50%,#3d53c6 53.12%,#3d51c6 56.25%,#3c4ec5 59.38%,#3c4cc5 62.5%,#3c4ac5 65.62%,#3b48c4 68.75%,#3b46c4 71.88%,#3b43c3 75%,#3c40c2 78.12%,#3c3ec0 81.25%,#3e3bbe 84.38%,#3f37bc 87.5%,#4134b9 90.62%,#442fb5 93.75%,#462eb2 95.16%,#492db0 96.24%,#4b2dae 96.88%,#4d2cad 97.31%,#4f2cab 97.85%,#522ba9 98.39%,#552ba7 98.92%,#572aa6 99.19%,#592aa4 99.46%,#5b2aa3 99.73%,#5d29a1 100%)"></i><i style="background:linear-gradient(#436ac7 0%,#4369c7 3.125%,#4268c7 6.25%,#4267c7 9.375%,#4266c7 12.5%,#4165c7 15.62%,#4164c7 18.75%,#4163c7 21.88%,#4061c7 25%,#4060c7 28.12%,#405fc7 31.25%,#3f5dc7 34.38%,#3f5bc7 37.5%,#3e5ac7 40.62%,#3e58c6 43.75%,#3e56c6 46.88%,#3d54c6 50%,#3d52c6 53.12%,#3d50c6 56.25%,#3c4ec5 59.38%,#3c4cc5 62.5%,#3b4ac5 65.62%,#3b48c4 68.75%,#3b45c4 71.88%,#3b43c3 75%,#3c40c2 78.12%,#3d3dc0 81.25%,#3e3abe 84.38%,#3f37bb 87.5%,#4134b9 90.62%,#442fb5 93.75%,#472eb2 95.16%,#4a2db0 96.24%,#4c2dae 96.88%,#4d2cad 97.31%,#502cab 97.85%,#522ba9 98.39%,#552ba7 98.92%,#572aa5 99.19%,#592aa4 99.46%,#5b2aa3 99.73%,#5d29a1 100%)"></i><i style="background:linear-gradient(#4369c7 0%,#4369c7 3.125%,#4268c7 6.25%,#4267c7 9.375%,#4266c7 12.5%,#4164c7 15.62%,#4163c7 18.75%,#4162c7 21.88%,#4061c7 25%,#405fc7 28.12%,#3f5ec7 31.25%,#3f5cc7 34.38%,#3f5bc7 37.5%,#3e59c7 40.62%,#3e57c6 43.75%,#3e56c6 46.88%,#3d54c6 50%,#3d52c6 53.12%,#3c50c6 56.25%,#3c4ec5 59.38%,#3c4cc5 62.5%,#3b49c5 65.62%,#3b47c4 68.75%,#3b45c4 71.88%,#3b42c3 75%,#3c40c2 78.12%,#3d3dc0 81.25%,#3e3abe 84.38%,#3f37bb 87.5%,#4134b9 90.62%,#442fb4 93.75%,#472eb2 95.16%,#4a2db0 96.24%,#4c2dae 96.88%,#4d2cad 97.31%,#502cab 97.85%,#532ba9 98.39%,#562ba6 98.92%,#572aa5 99.19%,#592aa4 99.46%,#5b2aa2 99.73%,#5d29a0 100%)"></i><i style="background:linear-gradient(#4369c7 0%,#4268c7 3.125%,#4267c7 6.25%,#4266c7 9.375%,#4165c7 12.5%,#4164c7 15.62%,#4163c7 18.75%,#4062c7 21.88%,#4060c7 25%,#405fc7 28.12%,#3f5dc7 31.25%,#3f5cc7 34.38%,#3f5ac7 37.5%,#3e59c7 40.62%,#3e57c6 43.75%,#3d55c6 46.88%,#3d53c6 50%,#3d51c6 53.12%,#3c4fc6 56.25%,#3c4dc5 59.38%,#3c4bc5 62.5%,#3b49c5 65.62%,#3b47c4 68.75%,#3b45c4 71.88%,#3b42c3 75%,#3c40c2 78.12%,#3d3dc0 81.25%,#3e3abe 84.38%,#4037bb 87.5%,#4133b8 90.62%,#442fb4 93.75%,#472eb2 95.16%,#4a2daf 96.24%,#4c2cae 96.88%,#4e2cad 97.31%,#502cab 97.85%,#532ba9 98.39%,#562ba6 98.92%,#572aa5 99.19%,#592aa4 99.46%,#5b2aa2 99.73%,#5e29a0 100%)"></i><i style="background:linear-gradient(#4368c7 0%,#4268c7 3.125%,#4267c7 6.25%,#4266c7 9.375%,#4165c7 12.5%,#4163c7 15.62%,#4162c7 18.75%,#4061c7 21.88%,#4060c7 25%,#3f5ec7 28.12%,#3f5dc7 31.25%,#3f5bc7 34.38%,#3e5ac7 37.5%,#3e58c6 40.62%,#3e56c6 43.75%,#3d55c6 46.88%,#3d53c6 50%,#3d51c6 53.12%,#3c4fc5 56.25%,#3c4dc5 59.38%,#3c4bc5 62.5%,#3b49c5 65.62%,#3b47c4 68.75%,#3b44c4 71.88%,#3b42c3 75%,#3c3fc1 78.12%,#3d3dc0 81.25%,#3e3abd 84.38%,#4037bb 87.5%,#4133b8 90.62%,#442fb4 93.75%,#472eb2 95.16%,#4a2daf 96.24%,#4c2cae 96.88%,#4e2cad 97.31%,#502cab 97.85%,#532ba9 98.39%,#562ba6 98.92%,#572aa5 99.19%,#592aa4 99.46%,#5b2aa2 99.73%,#5e29a0 100%)"></i><i style="background:linear-gradient(#4268c7 0%,#4267c7 3.125%,#4266c7 6.25%,#4165c7 9.375%,#4164c7 12.5%,#4163c7 15.62%,#4062c7 18.75%,#4060c7 21.88%,#405fc7 25%,#3f5ec7 28.12%,#3f5cc7 31.25%,#3f5bc7 34.38%,#3e59c7 37.5%,#3e58c6 40.62%,#3e56c6 43.75%,#3d54c6 46.88%,#3d52c6 50%,#3d50c6 53.12%,#3c4ec5 56.25%,#3c4cc5 59.38%,#3c4ac5 62.5%,#3b48c5 65.62%,#3b46c4 68.75%,#3b44c4 71.88%,#3b42c3 75%,#3c3fc1 78.12%,#3d3cbf 81.25%,#3e39bd 84.38%,#4037bb 87.5%,#4133b8 90.62%,#442fb4 93.75%,#472db2 95.16%,#4a2daf 96.24%,#4c2cae 96.88%,#4e2cac 97.31%,#502cab 97.85%,#532ba8 98.39%,#562ba6 98.92%,#572aa5 99.19%,#592aa4 99.46%,#5b2aa2 99.73%,#5e29a0 100%)"></i><i style="background:linear-gradient(#4267c7 0%,#4267c7 3.125%,#4266c7 6.25%,#4165c7 9.375%,#4163c7 12.5%,#4162c7 15.62%,#4061c7 18.75%,#4060c7 21.88%,#405fc7 25%,#3f5dc7 28.12%,#3f5cc7 31.25%,#3f5ac7 34.38%,#3e59c7 37.5%,#3e57c6 40.62%,#3d55c6 43.75%,#3d54c6 46.88%,#3d52c6 50%,#3c50c6 53.12%,#3c4ec5 56.25%,#3c4cc5 59.38%,#3c4ac5 62.5%,#3b48c5 65.62%,#3b46c4 68.75%,#3b44c3 71.88%,#3b41c2 75%,#3c3fc1 78.12%,#3d3cbf 81.25%,#3e39bd 84.38%,#4036bb 87.5%,#4233b8 90.62%,#452fb4 93.75%,#472db1 95.16%,#4a2daf 96.24%,#4c2cae 96.88%,#4e2cac 97.31%,#502caa 97.85%,#532ba8 98.39%,#562ba6 98.92%,#582aa5 99.19%,#592aa4 99.46%,#5b2aa2 99.73%,#5e29a0 100%)"></i><i style="background:linear-gradient(#4267c7 0%,#4266c7 3.125%,#4165c7 6.25%,#4164c7 9.375%,#4163c7 12.5%,#4062c7 15.62%,#4061c7 18.75%,#405fc7 21.88%,#3f5ec7 25%,#3f5dc7 28.12%,#3f5bc7 31.25%,#3e5ac7 34.38%,#3e58c6 37.5%,#3e57c6 40.62%,#3d55c6 43.75%,#3d53c6 46.88%,#3d51c6 50%,#3c4fc6 53.12%,#3c4ec5 56.25%,#3c4cc5 59.38%,#3b4ac5 62.5%,#3b48c4 65.62%,#3b46c4 68.75%,#3b43c3 71.88%,#3b41c2 75%,#3c3ec1 78.12%,#3d3cbf 81.25%,#3e39bd 84.38%,#4036bb 87.5%,#4233b8 90.62%,#452fb4 93.75%,#482db1 95.16%,#4b2daf 96.24%,#4d2cad 96.88%,#4e2cac 97.31%,#512caa 97.85%,#532ba8 98.39%,#562aa6 98.92%,#582aa5 99.19%,#592aa4 99.46%,#5b29a2 99.73%,#5e29a0 100%)"></i><i style="background:linear-gradient(#4266c7 0%,#4266c7 3.125%,#4165c7 6.25%,#4164c7 9.375%,#4162c7 12.5%,#4061c7 15.62%,#4060c7 18.75%,#405fc7 21.88%,#3f5ec7 25%,#3f5cc7 28.12%,#3f5bc7 31.25%,#3e59c7 34.38%,#3e58c6 37.5%,#3e56c6 40.62%,#3d54c6 43.75%,#3d53c6 46.88%,#3d51c6 50%,#3c4fc6 53.12%,#3c4dc5 56.25%,#3c4bc5 59.38%,#3b49c5 62.5%,#3b47c4 65.62%,#3b45c4 68.75%,#3b43c3 71.88%,#3b41c2 75%,#3c3ec1 78.12%,#3d3cbf 81.25%,#3f39bd 84.38%,#4036ba 87.5%,#4233b8 90.62%,#452fb4 93.75%,#482db1 95.16%,#4b2daf 96.24%,#4d2cad 96.88%,#4e2cac 97.31%,#512caa 97.85%,#542ba8 98.39%,#562aa6 98.92%,#582aa5 99.19%,#592aa3 99.46%,#5c29a2 99.73%,#5e29a0 100%)"></i><i style="background:linear-gradient(#4266c7 0%,#4165c7 3.125%,#4164c7 6.25%,#4163c7 9.375%,#4062c7 12.5%,#4061c7 15.62%,#4060c7 18.75%,#3f5ec7 21.88%,#3f5dc7 25%,#3f5cc7 28.12%,#3f5ac7 31.25%,#3e59c7 34.38%,#3e57c6 37.5%,#3e56c6 40.62%,#3d54c6 43.75%,#3d52c6 46.88%,#3d50c6 50%,#3c4fc5 53.12%,#3c4dc5 56.25%,#3c4bc5 59.38%,#3b49c5 62.5%,#3b47c4 65.62%,#3b45c4 68.75%,#3b43c3 71.88%,#3c40c2 75%,#3c3ec1 78.12%,#3d3bbf 81.25%,#3f39bd 84.38%,#4036ba 87.5%,#4233b8 90.62%,#452eb4 93.75%,#482db1 95.16%,#4b2daf 96.24%,#4d2cad 96.88%,#4f2cac 97.31%,#512caa 97.85%,#542ba8 98.39%,#562aa6 98.92%,#582aa5 99.19%,#5a2aa3 99.46%,#5c29a2 99.73%,#5e29a0 100%)"></i><i style="background:linear-gradient(#4266c7 0%,#4165c7 3.125%,#4164c7 6.25%,#4163c7 9.375%,#4061c7 12.5%,#4060c7 15.62%,#405fc7 18.75%,#3f5ec7 21.88%,#3f5dc7 25%,#3f5bc7 28.12%,#3e5ac7 31.25%,#3e58c6 34.38%,#3e57c6 37.5%,#3d55c6 40.62%,#3d53c6 43.75%,#3d52c6 46.88%,#3c50c6 50%,#3c4ec5 53.12%,#3c4cc5 56.25%,#3c4bc5 59.38%,#3b49c5 62.5%,#3b47c4 65.62%,#3b45c4 68.75%,#3b42c3 71.88%,#3c40c2 75%,#3c3ec0 78.12%,#3d3bbf 81.25%,#3f39bc 84.38%,#4036ba 87.5%,#4232b7 90.62%,#452eb3 93.75%,#482db1 95.16%,#4b2daf 96.24%,#4d2cad 96.88%,#4f2cac 97.31%,#512baa 97.85%,#542ba8 98.39%,#572aa6 98.92%,#582aa5 99.19%,#5a2aa3 99.46%,#5c29a2 99.73%,#5e29a0 100%)"></i><i style="background:linear-gradient(#4165c7 0%,#4164c7 3.125%,#4163c7 6.25%,#4062c7 9.375%,#4061c7 12.5%,#4060c7 15.62%,#405fc7 18.75%,#3f5dc7 21.88%,#3f5cc7 25%,#3f5bc7 28.12%,#3e59c7 31.25%,#3e58c6 34.38%,#3e56c6 37.5%,#3d55c6 40.62%,#3d53c6 43.75%,#3d51c6 46.88%,#3c50c6 50%,#3c4ec5 53.12%,#3c4cc5 56.25%,#3c4ac5 59.38%,#3b48c5 62.5%,#3b46c4 65.62%,#3b44c4 68.75%,#3b42c3 71.88%,#3c40c2 75%,#3c3ec0 78.12%,#3e3bbe 81.25%,#3f38bc 84.38%,#4036ba 87.5%,#4232b7 90.62%,#452eb3 93.75%,#482db1 95.16%,#4b2dae 96.24%,#4d2cad 96.88%,#4f2cac 97.31%,#512baa 97.85%,#542ba8 98.39%,#572aa6 98.92%,#582aa5 99.19%,#5a2aa3 99.46%,#5c29a2 99.73%,#5e29a0 100%)"></i><i style="background:linear-gradient(#4165c7 0%,#4164c7 3.125%,#4163c7 6.25%,#4062c7 9.375%,#4060c7 12.5%,#405fc7 15.62%,#3f5ec7 18.75%,#3f5dc7 21.88%,#3f5cc7 25%,#3e5ac7 28.12%,#3e59c7 31.25%,#3e57c6 34.38%,#3e56c6 37.5%,#3d54c6 40.62%,#3d53c6 43.75%,#3d51c6 46.88%,#3c4fc6 50%,#3c4ec5 53.12%,#3c4cc5 56.25%,#3b4ac5 59.38%,#3b48c5 62.5%,#3b46c4 65.62%,#3b44c4 68.75%,#3b42c3 71.88%,#3c40c2 75%,#3d3dc0 78.12%,#3e3bbe 81.25%,#3f38bc 84.38%,#4035ba 87.5%,#4232b7 90.62%,#452eb3 93.75%,#482db1 95.16%,#4b2dae 96.24%,#4d2cad 96.88%,#4f2cab 97.31%,#512baa 97.85%,#542ba8 98.39%,#572aa6 98.92%,#582aa4 99.19%,#5a2aa3 99.46%,#5c29a2 99.73%,#5f29a0 100%)"></i><i style="background:linear-gradient(#4164c7 0%,#4163c7 3.125%,#4162c7 6.25%,#4061c7 9.375%,#4060c7 12.5%,#405fc7 15.62%,#3f5ec7 18.75%,#3f5cc7 21.88%,#3f5bc7 25%,#3e5ac7 28.12%,#3e58c7 31.25%,#3e57c6 34.38%,#3d55c6 37.5%,#3d54c6 40.62%,#3d52c6 43.75%,#3d51c6 46.88%,#3c4fc5 50%,#3c4dc5 53.12%,#3c4bc5 56.25%,#3b4ac5 59.38%,#3b48c4 62.5%,#3b46c4 65.62%,#3b44c3 68.75%,#3b42c3 71.88%,#3c3fc1 75%,#3d3dc0 78.12%,#3e3bbe 81.25%,#3f38bc 84.38%,#4035ba 87.5%,#4232b7 90.62%,#462eb3 93.75%,#492db0 95.16%,#4c2dae 96.24%,#4e2cad 96.88%,#4f2cab 97.31%,#522baa 97.85%,#542ba8 98.39%,#572aa5 98.92%,#582aa4 99.19%,#5a2aa3 99.46%,#5c29a1 99.73%,#5f299f 100%)"></i><i style="background:linear-gradient(#4164c7 0%,#4163c7 3.125%,#4062c7 6.25%,#4061c7 9.375%,#405fc7 12.5%,#3f5ec7 15.62%,#3f5dc7 18.75%,#3f5cc7 21.88%,#3f5bc7 25%,#3e59c7 28.12%,#3e58c6 31.25%,#3e56c6 34.38%,#3d55c6 37.5%,#3d53c6 40.62%,#3d52c6 43.75%,#3d50c6 46.88%,#3c4ec5 50%,#3c4dc5 53.12%,#3c4bc5 56.25%,#3b49c5 59.38%,#3b47c4 62.5%,#3b46c4 65.62%,#3b44c3 68.75%,#3b41c2 71.88%,#3c3fc1 75%,#3d3dc0 78.12%,#3e3abe 81.25%,#3f38bc 84.38%,#4035ba 87.5%,#4232b7 90.62%,#462eb3 93.75%,#492db0 95.16%,#4c2dae 96.24%,#4e2cac 96.88%,#4f2cab 97.31%,#522ba9 97.85%,#542ba7 98.39%,#572aa5 98.92%,#582aa4 99.19%,#5a2aa3 99.46%,#5c29a1 99.73%,#5f299f 100%)"></i><i style="background:linear-gradient(#4163c7 0%,#4162c7 3.125%,#4061c7 6.25%,#4060c7 9.375%,#405fc7 12.5%,#3f5ec7 15.62%,#3f5dc7 18.75%,#3f5bc7 21.88%,#3e5ac7 25%,#3e59c7 28.12%,#3e57c6 31.25%,#3e56c6 34.38%,#3d54c6 37.5%,#3d53c6 40.62%,#3d51c6 43.75%,#3c50c6 46.88%,#3c4ec5 50%,#3c4cc5 53.12%,#3c4bc5 56.25%,#3b49c5 59.38%,#3b47c4 62.5%,#3b45c4 65.62%,#3b43c3 68.75%,#3b41c2 71.88%,#3c3fc1 75%,#3d3dc0 78.12%,#3e3abe 81.25%,#3f38bc 84.38%,#4135ba 87.5%,#4232b7 90.62%,#462eb3 93.75%,#492db0 95.16%,#4c2cae 96.24%,#4e2cac 96.88%,#502cab 97.31%,#522ba9 97.85%,#552ba7 98.39%,#572aa5 98.92%,#592aa4 99.19%,#5a2aa3 99.46%,#5c29a1 99.73%,#5f299f 100%)"></i><i style="background:linear-gradient(#4163c7 0%,#4062c7 3.125%,#4061c7 6.25%,#4060c7 9.375%,#405fc7 12.5%,#3f5dc7 15.62%,#3f5cc7 18.75%,#3f5bc7 21.88%,#3e5ac7 25%,#3e58c7 28.12%,#3e57c6 31.25%,#3e55c6 34.38%,#3d54c6 37.5%,#3d52c6 40.62%,#3d51c6 43.75%,#3c4fc6 46.88%,#3c4ec5 50%,#3c4cc5 53.12%,#3c4ac5 56.25%,#3b49c5 59.38%,#3b47c4 62.5%,#3b45c4 65.62%,#3b43c3 68.75%,#3b41c2 71.88%,#3c3fc1 75%,#3d3cbf 78.12%,#3e3abe 81.25%,#3f38bc 84.38%,#4135b9 87.5%,#4231b7 90.62%,#462eb3 93.75%,#492db0 95.16%,#4c2cae 96.24%,#4e2cac 96.88%,#502cab 97.31%,#522ba9 97.85%,#552ba7 98.39%,#572aa5 98.92%,#592aa4 99.19%,#5a2aa3 99.46%,#5c29a1 99.73%,#5f299f 100%)"></i><i style="background:linear-gradient(#4162c7 0%,#4061c7 3.125%,#4060c7 6.25%,#405fc7 9.375%,#3f5ec7 12.5%,#3f5dc7 15.62%,#3f5cc7 18.75%,#3f5ac7 21.88%,#3e59c7 25%,#3e58c6 28.12%,#3e56c6 31.25%,#3d55c6 34.38%,#3d54c6 37.5%,#3d52c6 40.62%,#3d50c6 43.75%,#3c4fc6 46.88%,#3c4dc5 50%,#3c4cc5 53.12%,#3c4ac5 56.25%,#3b48c5 59.38%,#3b47c4 62.5%,#3b45c4 65.62%,#3b43c3 68.75%,#3b41c2 71.88%,#3c3ec1 75%,#3d3cbf 78.12%,#3e3abd 81.25%,#3f37bc 84.38%,#4135b9 87.5%,#4231b7 90.62%,#462eb2 93.75%,#492db0 95.16%,#4c2cae 96.24%,#4e2cac 96.88%,#502cab 97.31%,#522ba9 97.85%,#552ba7 98.39%,#572aa5 98.92%,#592aa4 99.19%,#5a2aa3 99.46%,#5d29a1 99.73%,#5f299f 100%)"></i><i style="background:linear-gradient(#4062c7 0%,#4061c7 3.125%,#4060c7 6.25%,#405fc7 9.375%,#3f5ec7 12.5%,#3f5cc7 15.62%,#3f5bc7 18.75%,#3e5ac7 21.88%,#3e59c7 25%,#3e57c6 28.12%,#3e56c6 31.25%,#3d55c6 34.38%,#3d53c6 37.5%,#3d52c6 40.62%,#3d50c6 43.75%,#3c4fc5 46.88%,#3c4dc5 50%,#3c4bc5 53.12%,#3b4ac5 56.25%,#3b48c5 59.38%,#3b46c4 62.5%,#3b44c4 65.62%,#3b42c3 68.75%,#3c40c2 71.88%,#3c3ec1 75%,#3d3cbf 78.12%,#3e3abd 81.25%,#3f37bb 84.38%,#4135b9 87.5%,#4331b6 90.62%,#462eb2 93.75%,#492db0 95.16%,#4c2cae 96.24%,#4e2cac 96.88%,#502cab 97.31%,#522ba9 97.85%,#552ba7 98.39%,#572aa5 98.92%,#592aa4 99.19%,#5b2aa3 99.46%,#5d29a1 99.73%,#5f299f 100%)"></i><i style="background:linear-gradient(#4061c7 0%,#4060c7 3.125%,#405fc7 6.25%,#3f5ec7 9.375%,#3f5dc7 12.5%,#3f5cc7 15.62%,#3f5bc7 18.75%,#3e5ac7 21.88%,#3e58c6 25%,#3e57c6 28.12%,#3e56c6 31.25%,#3d54c6 34.38%,#3d53c6 37.5%,#3d51c6 40.62%,#3c50c6 43.75%,#3c4ec5 46.88%,#3c4dc5 50%,#3c4bc5 53.12%,#3b49c5 56.25%,#3b48c4 59.38%,#3b46c4 62.5%,#3b44c4 65.62%,#3b42c3 68.75%,#3c40c2 71.88%,#3c3ec1 75%,#3d3cbf 78.12%,#3e39bd 81.25%,#3f37bb 84.38%,#4134b9 87.5%,#4331b6 90.62%,#462eb2 93.75%,#4a2db0 95.16%,#4c2cae 96.24%,#4f2cac 96.88%,#502cab 97.31%,#532ba9 97.85%,#552ba7 98.39%,#582aa5 98.92%,#592aa4 99.19%,#5b2aa3 99.46%,#5d29a1 99.73%,#5f299f 100%)"></i><i style="background:linear-gradient(#4061c7 0%,#4060c7 3.125%,#405fc7 6.25%,#3f5ec7 9.375%,#3f5dc7 12.5%,#3f5bc7 15.62%,#3f5ac7 18.75%,#3e59c7 21.88%,#3e58c6 25%,#3e56c6 28.12%,#3d55c6 31.25%,#3d54c6 34.38%,#3d52c6 37.5%,#3d51c6 40.62%,#3c4fc6 43.75%,#3c4ec5 46.88%,#3c4cc5 50%,#3c4bc5 53.12%,#3b49c5 56.25%,#3b47c4 59.38%,#3b46c4 62.5%,#3b44c3 65.62%,#3b42c3 68.75%,#3c40c2 71.88%,#3c3ec0 75%,#3d3cbf 78.12%,#3e39bd 81.25%,#4037bb 84.38%,#4134b9 87.5%,#4331b6 90.62%,#472eb2 93.75%,#4a2db0 95.16%,#4d2cad 96.24%,#4f2cac 96.88%,#502caa 97.31%,#532ba9 97.85%,#552ba7 98.39%,#582aa5 98.92%,#592aa4 99.19%,#5b2aa2 99.46%,#5d29a1 99.73%,#60299f 100%)"></i><i style="background:linear-gradient(#4060c7 0%,#405fc7 3.125%,#3f5ec7 6.25%,#3f5dc7 9.375%,#3f5cc7 12.5%,#3f5bc7 15.62%,#3e5ac7 18.75%,#3e59c7 21.88%,#3e57c6 25%,#3e56c6 28.12%,#3d55c6 31.25%,#3d53c6 34.38%,#3d52c6 37.5%,#3d50c6 40.62%,#3c4fc6 43.75%,#3c4dc5 46.88%,#3c4cc5 50%,#3c4ac5 53.12%,#3b49c5 56.25%,#3b47c4 59.38%,#3b45c4 62.5%,#3b44c3 65.62%,#3b42c3 68.75%,#3c40c2 71.88%,#3c3ec0 75%,#3d3bbf 78.12%,#3e39bd 81.25%,#4037bb 84.38%,#4134b9 87.5%,#4331b6 90.62%,#472eb2 93.75%,#4a2db0 95.16%,#4d2cad 96.24%,#4f2cac 96.88%,#512caa 97.31%,#532ba9 97.85%,#552ba7 98.39%,#582aa5 98.92%,#592aa4 99.19%,#5b2aa2 99.46%,#5d29a1 99.73%,#60299f 100%)"></i><i style="background:linear-gradient(#4060c7 0%,#405fc7 3.125%,#3f5ec7 6.25%,#3f5dc7 9.375%,#3f5cc7 12.5%,#3f5bc7 15.62%,#3e59c7 18.75%,#3e58c6 21.88%,#3e57c6 25%,#3e56c6 28.12%,#3d54c6 31.25%,#3d53c6 34.38%,#3d51c6 37.5%,#3d50c6 40.62%,#3c4fc5 43.75%,#3c4dc5 46.88%,#3c4cc5 50%,#3c4ac5 53.12%,#3b49c5 56.25%,#3b47c4 59.38%,#3b45c4 62.5%,#3b43c3 65.62%,#3b41c2 68.75%,#3c3fc1 71.88%,#3d3dc0 75%,#3d3bbe 78.12%,#3f39bd 81.25%,#4037bb 84.38%,#4134b9 87.5%,#4331b6 90.62%,#472eb2 93.75%,#4a2daf 95.16%,#4d2cad 96.24%,#4f2cac 96.88%,#512caa 97.31%,#532ba8 97.85%,#552ba7 98.39%,#582aa5 98.92%,#592aa4 99.19%,#5b2aa2 99.46%,#5d29a1 99.73%,#60299f 100%)"></i><i style="background:linear-gradient(#405fc7 0%,#3f5ec7 3.125%,#3f5dc7 6.25%,#3f5cc7 9.375%,#3f5bc7 12.5%,#3e5ac7 15.62%,#3e59c7 18.75%,#3e58c6 21.88%,#3e56c6 25%,#3d55c6 28.12%,#3d54c6 31.25%,#3d52c6 34.38%,#3d51c6 37.5%,#3c50c6 40.62%,#3c4ec5 43.75%,#3c4dc5 46.88%,#3c4bc5 50%,#3b4ac5 53.12%,#3b48c5 56.25%,#3b47c4 59.38%,#3b45c4 62.5%,#3b43c3 65.62%,#3b41c2 68.75%,#3c3fc1 71.88%,#3d3dc0 75%,#3e3bbe 78.12%,#3f39bd 81.25%,#4036bb 84.38%,#4134b9 87.5%,#4330b6 90.62%,#472eb2 93.75%,#4a2daf 95.16%,#4d2cad 96.24%,#4f2cab 96.88%,#512caa 97.31%,#532ba8 97.85%,#552ba7 98.39%,#582aa5 98.92%,#592aa4 99.19%,#5b2aa2 99.46%,#5d29a1 99.73%,#60299f 100%)"></i><i style="background:linear-gradient(#405fc7 0%,#3f5ec7 3.125%,#3f5dc7 6.25%,#3f5cc7 9.375%,#3f5bc7 12.5%,#3e5ac7 15.62%,#3e59c7 18.75%,#3e57c6 21.88%,#3e56c6 25%,#3d55c6 28.12%,#3d53c6 31.25%,#3d52c6 34.38%,#3d51c6 37.5%,#3c4fc6 40.62%,#3c4ec5 43.75%,#3c4cc5 46.88%,#3c4bc5 50%,#3b49c5 53.12%,#3b48c5 56.25%,#3b46c4 59.38%,#3b45c4 62.5%,#3b43c3 65.62%,#3b41c2 68.75%,#3c3fc1 71.88%,#3d3dc0 75%,#3e3bbe 78.12%,#3f39bc 81.25%,#4036bb 84.38%,#4134b9 87.5%,#4330b6 90.62%,#472db2 93.75%,#4a2daf 95.16%,#4d2cad 96.24%,#4f2cab 96.88%,#512caa 97.31%,#532ba8 97.85%,#562ba6 98.39%,#582aa5 98.92%,#592aa3 99.19%,#5b2aa2 99.46%,#5d29a1 99.73%,#60299e 100%)"></i><i style="background:linear-gradient(#405ec7 0%,#3f5ec7 3.125%,#3f5dc7 6.25%,#3f5bc7 9.375%,#3f5ac7 12.5%,#3e59c7 15.62%,#3e58c6 18.75%,#3e57c6 21.88%,#3e56c6 25%,#3d54c6 28.12%,#3d53c6 31.25%,#3d52c6 34.38%,#3d50c6 37.5%,#3c4fc6 40.62%,#3c4ec5 43.75%,#3c4cc5 46.88%,#3c4bc5 50%,#3b49c5 53.12%,#3b48c4 56.25%,#3b46c4 59.38%,#3b44c4 62.5%,#3b43c3 65.62%,#3b41c2 68.75%,#3c3fc1 71.88%,#3d3dc0 75%,#3e3bbe 78.12%,#3f38bc 81.25%,#4036bb 84.38%,#4134b8 87.5%,#4330b6 90.62%,#472db1 93.75%,#4a2daf 95.16%,#4d2cad 96.24%,#4f2cab 96.88%,#512baa 97.31%,#532ba8 97.85%,#562ba6 98.39%,#582aa5 98.92%,#5a2aa3 99.19%,#5b2aa2 99.46%,#5d29a0 99.73%,#60299e 100%)"></i><i style="background:linear-gradient(#3f5ec7 0%,#3f5dc7 3.125%,#3f5cc7 6.25%,#3f5bc7 9.375%,#3e5ac7 12.5%,#3e59c7 15.62%,#3e58c6 18.75%,#3e56c6 21.88%,#3d55c6 25%,#3d54c6 28.12%,#3d53c6 31.25%,#3d51c6 34.38%,#3c50c6 37.5%,#3c4fc5 40.62%,#3c4dc5 43.75%,#3c4cc5 46.88%,#3c4ac5 50%,#3b49c5 53.12%,#3b47c4 56.25%,#3b46c4 59.38%,#3b44c4 62.5%,#3b42c3 65.62%,#3c40c2 68.75%,#3c3fc1 71.88%,#3d3cbf 75%,#3e3abe 78.12%,#3f38bc 81.25%,#4036ba 84.38%,#4133b8 87.5%,#4330b5 90.62%,#482db1 93.75%,#4b2daf 95.16%,#4d2cad 96.24%,#502cab 96.88%,#512baa 97.31%,#542ba8 97.85%,#562ba6 98.39%,#582aa4 98.92%,#5a2aa3 99.19%,#5b29a2 99.46%,#5e29a0 99.73%,#60299e 100%)"></i><i style="background:linear-gradient(#3f5ec7 0%,#3f5dc7 3.125%,#3f5cc7 6.25%,#3f5bc7 9.375%,#3e59c7 12.5%,#3e58c7 15.62%,#3e57c6 18.75%,#3e56c6 21.88%,#3d55c6 25%,#3d54c6 28.12%,#3d52c6 31.25%,#3d51c6 34.38%,#3c50c6 37.5%,#3c4ec5 40.62%,#3c4dc5 43.75%,#3c4cc5 46.88%,#3c4ac5 50%,#3b49c5 53.12%,#3b47c4 56.25%,#3b45c4 59.38%,#3b44c3 62.5%,#3b42c3 65.62%,#3c40c2 68.75%,#3c3ec1 71.88%,#3d3cbf 75%,#3e3abe 78.12%,#3f38bc 81.25%,#4036ba 84.38%,#4133b8 87.5%,#4330b5 90.62%,#482db1 93.75%,#4b2daf 95.16%,#4e2cad 96.24%,#502cab 96.88%,#512baa 97.31%,#542ba8 97.85%,#562ba6 98.39%,#582aa4 98.92%,#5a2aa3 99.19%,#5c29a2 99.46%,#5e29a0 99.73%,#60299e 100%)"></i><i style="background:linear-gradient(#3f5dc7 0%,#3f5cc7 3.125%,#3f5bc7 6.25%,#3e5ac7 9.375%,#3e59c7 12.5%,#3e58c6 15.62%,#3e57c6 18.75%,#3e56c6 21.88%,#3d54c6 25%,#3d53c6 28.12%,#3d52c6 31.25%,#3d51c6 34.38%,#3c4fc6 37.5%,#3c4ec5 40.62%,#3c4dc5 43.75%,#3c4bc5 46.88%,#3b4ac5 50%,#3b48c5 53.12%,#3b47c4 56.25%,#3b45c4 59.38%,#3b44c3 62.5%,#3b42c3 65.62%,#3c40c2 68.75%,#3c3ec1 71.88%,#3d3cbf 75%,#3e3abe 78.12%,#3f38bc 81.25%,#4036ba 84.38%,#4133b8 87.5%,#4330b5 90.62%,#482db1 93.75%,#4b2daf 95.16%,#4e2cac 96.24%,#502cab 96.88%,#522baa 97.31%,#542ba8 97.85%,#562ba6 98.39%,#582aa4 98.92%,#5a2aa3 99.19%,#5c29a2 99.46%,#5e29a0 99.73%,#60299e 100%)"></i><i style="background:linear-gradient(#3f5dc7 0%,#3f5cc7 3.125%,#3f5bc7 6.25%,#3e5ac7 9.375%,#3e59c7 12.5%,#3e58c6 15.62%,#3e56c6 18.75%,#3d55c6 21.88%,#3d54c6 25%,#3d53c6 28.12%,#3d51c6 31.25%,#3d50c6 34.38%,#3c4fc6 37.5%,#3c4ec5 40.62%,#3c4cc5 43.75%,#3c4bc5 46.88%,#3b49c5 50%,#3b48c5 53.12%,#3b47c4 56.25%,#3b45c4 59.38%,#3b43c3 62.5%,#3b42c3 65.62%,#3c40c2 68.75%,#3c3ec0 71.88%,#3d3cbf 75%,#3e3abe 78.12%,#3f38bc 81.25%,#4036ba 84.38%,#4233b8 87.5%,#4430b5 90.62%,#482db1 93.75%,#4b2daf 95.16%,#4e2cac 96.24%,#502cab 96.88%,#522ba9 97.31%,#542ba8 97.85%,#562ba6 98.39%,#592aa4 98.92%,#5a2aa3 99.19%,#5c29a2 99.46%,#5e29a0 99.73%,#61299e 100%)"></i><i style="background:linear-gradient(#3f5cc7 0%,#3f5bc7 3.125%,#3f5ac7 6.25%,#3e59c7 9.375%,#3e58c6 12.5%,#3e57c6 15.62%,#3e56c6 18.75%,#3d55c6 21.88%,#3d54c6 25%,#3d52c6 28.12%,#3d51c6 31.25%,#3c50c6 34.38%,#3c4fc5 37.5%,#3c4dc5 40.62%,#3c4cc5 43.75%,#3c4bc5 46.88%,#3b49c5 50%,#3b48c4 53.12%,#3b46c4 56.25%,#3b45c4 59.38%,#3b43c3 62.5%,#3b41c2 65.62%,#3c40c2 68.75%,#3c3ec0 71.88%,#3d3cbf 75%,#3e3abd 78.12%,#3f38bc 81.25%,#4035ba 84.38%,#4233b8 87.5%,#4430b5 90.62%,#482db1 93.75%,#4b2daf 95.16%,#4e2cac 96.24%,#502cab 96.88%,#522ba9 97.31%,#542ba8 97.85%,#562aa6 98.39%,#592aa4 98.92%,#5a2aa3 99.19%,#5c29a2 99.46%,#5e29a0 99.73%,#61289e 100%)"></i><i style="background:linear-gradient(#3f5cc7 0%,#3f5bc7 3.125%,#3e5ac7 6.25%,#3e59c7 9.375%,#3e58c6 12.5%,#3e57c6 15.62%,#3e56c6 18.75%,#3d54c6 21.88%,#3d53c6 25%,#3d52c6 28.12%,#3d51c6 31.25%,#3c50c6 34.38%,#3c4ec5 37.5%,#3c4dc5 40.62%,#3c4cc5 43.75%,#3c4ac5 46.88%,#3b49c5 50%,#3b47c4 53.12%,#3b46c4 56.25%,#3b44c4 59.38%,#3b43c3 62.5%,#3b41c2 65.62%,#3c3fc1 68.75%,#3c3dc0 71.88%,#3d3cbf 75%,#3e3abd 78.12%,#3f38bc 81.25%,#4035ba 84.38%,#4233b8 87.5%,#4430b5 90.62%,#482db1 93.75%,#4b2dae 95.16%,#4e2cac 96.24%,#502cab 96.88%,#522ba9 97.31%,#542ba8 97.85%,#562aa6 98.39%,#592aa4 98.92%,#5a2aa3 99.19%,#5c29a2 99.46%,#5e29a0 99.73%,#61289e 100%)"></i><i style="background:linear-gradient(#3f5bc7 0%,#3f5ac7 3.125%,#3e59c7 6.25%,#3e58c7 9.375%,#3e57c6 12.5%,#3e56c6 15.62%,#3d55c6 18.75%,#3d54c6 21.88%,#3d53c6 25%,#3d52c6 28.12%,#3d50c6 31.25%,#3c4fc6 34.38%,#3c4ec5 37.5%,#3c4dc5 40.62%,#3c4bc5 43.75%,#3c4ac5 46.88%,#3b49c5 50%,#3b47c4 53.12%,#3b46c4 56.25%,#3b44c4 59.38%,#3b43c3 62.5%,#3b41c2 65.62%,#3c3fc1 68.75%,#3d3dc0 71.88%,#3d3bbf 75%,#3e39bd 78.12%,#3f37bc 81.25%,#4035ba 84.38%,#4233b8 87.5%,#442fb5 90.62%,#482db1 93.75%,#4b2dae 95.16%,#4e2cac 96.24%,#502caa 96.88%,#522ba9 97.31%,#542ba7 97.85%,#562aa6 98.39%,#592aa4 98.92%,#5a2aa3 99.19%,#5c29a2 99.46%,#5e29a0 99.73%,#61289e 100%)"></i><i style="background:linear-gradient(#3f5bc7 0%,#3e5ac7 3.125%,#3e59c7 6.25%,#3e58c6 9.375%,#3e57c6 12.5%,#3e56c6 15.62%,#3d55c6 18.75%,#3d54c6 21.88%,#3d52c6 25%,#3d51c6 28.12%,#3d50c6 31.25%,#3c4fc5 34.38%,#3c4ec5 37.5%,#3c4cc5 40.62%,#3c4bc5 43.75%,#3b4ac5 46.88%,#3b48c5 50%,#3b47c4 53.12%,#3b45c4 56.25%,#3b44c4 59.38%,#3b42c3 62.5%,#3b41c2 65.62%,#3c3fc1 68.75%,#3d3dc0 71.88%,#3d3bbe 75%,#3e39bd 78.12%,#3f37bb 81.25%,#4035ba 84.38%,#4232b8 87.5%,#442fb5 90.62%,#492db1 93.75%,#4c2dae 95.16%,#4e2cac 96.24%,#512caa 96.88%,#522ba9 97.31%,#542ba7 97.85%,#572aa6 98.39%,#592aa4 98.92%,#5a2aa3 99.19%,#5c29a1 99.46%,#5e29a0 99.73%,#61289e 100%)"></i><i style="background:linear-gradient(#3f5bc7 0%,#3e5ac7 3.125%,#3e59c7 6.25%,#3e58c6 9.375%,#3e57c6 12.5%,#3e55c6 15.62%,#3d54c6 18.75%,#3d53c6 21.88%,#3d52c6 25%,#3d51c6 28.12%,#3c50c6 31.25%,#3c4ec5 34.38%,#3c4dc5 37.5%,#3c4cc5 40.62%,#3c4bc5 43.75%,#3b49c5 46.88%,#3b48c5 50%,#3b47c4 53.12%,#3b45c4 56.25%,#3b44c3 59.38%,#3b42c3 62.5%,#3c40c2 65.62%,#3c3fc1 68.75%,#3d3dc0 71.88%,#3e3bbe 75%,#3e39bd 78.12%,#3f37bb 81.25%,#4135ba 84.38%,#4232b7 87.5%,#442fb5 90.62%,#492db0 93.75%,#4c2dae 95.16%,#4f2cac 96.24%,#512caa 96.88%,#522ba9 97.31%,#552ba7 97.85%,#572aa6 98.39%,#592aa4 98.92%,#5a2aa3 99.19%,#5c29a1 99.46%,#5e29a0 99.73%,#61289e 100%)"></i><i style="background:linear-gradient(#3e5ac7 0%,#3e59c7 3.125%,#3e58c6 6.25%,#3e57c6 9.375%,#3e56c6 12.5%,#3d55c6 15.62%,#3d54c6 18.75%,#3d53c6 21.88%,#3d52c6 25%,#3d51c6 28.12%,#3c4fc6 31.25%,#3c4ec5 34.38%,#3c4dc5 37.5%,#3c4cc5 40.62%,#3c4ac5 43.75%,#3b49c5 46.88%,#3b48c4 50%,#3b46c4 53.12%,#3b45c4 56.25%,#3b43c3 59.38%,#3b42c3 62.5%,#3c40c2 65.62%,#3c3ec1 68.75%,#3d3dc0 71.88%,#3e3bbe 75%,#3f39bd 78.12%,#4037bb 81.25%,#4135b9 84.38%,#4232b7 87.5%,#442fb4 90.62%,#492db0 93.75%,#4c2cae 95.16%,#4f2cac 96.24%,#512caa 96.88%,#532ba9 97.31%,#552ba7 97.85%,#572aa6 98.39%,#592aa4 98.92%,#5b2aa3 99.19%,#5c29a1 99.46%,#5e29a0 99.73%,#61289e 100%)"></i><i style="background:linear-gradient(#3e5ac7 0%,#3e59c7 3.125%,#3e58c6 6.25%,#3e57c6 9.375%,#3e56c6 12.5%,#3d55c6 15.62%,#3d54c6 18.75%,#3d52c6 21.88%,#3d51c6 25%,#3d50c6 28.12%,#3c4fc6 31.25%,#3c4ec5 34.38%,#3c4dc5 37.5%,#3c4bc5 40.62%,#3c4ac5 43.75%,#3b49c5 46.88%,#3b48c4 50%,#3b46c4 53.12%,#3b45c4 56.25%,#3b43c3 59.38%,#3b42c3 62.5%,#3c40c2 65.62%,#3c3ec1 68.75%,#3d3cbf 71.88%,#3e3bbe 75%,#3f39bd 78.12%,#4037bb 81.25%,#4135b9 84.38%,#4232b7 87.5%,#442fb4 90.62%,#492db0 93.75%,#4c2cae 95.16%,#4f2cac 96.24%,#512baa 96.88%,#532ba9 97.31%,#552ba7 97.85%,#572aa6 98.39%,#592aa4 98.92%,#5b2aa3 99.19%,#5c29a1 99.46%,#5f29a0 99.73%,#61289e 100%)"></i><i style="background:linear-gradient(#3e59c7 0%,#3e58c7 3.125%,#3e57c6 6.25%,#3e56c6 9.375%,#3d55c6 12.5%,#3d54c6 15.62%,#3d53c6 18.75%,#3d52c6 21.88%,#3d51c6 25%,#3c50c6 28.12%,#3c4fc5 31.25%,#3c4ec5 34.38%,#3c4cc5 37.5%,#3c4bc5 40.62%,#3b4ac5 43.75%,#3b49c5 46.88%,#3b47c4 50%,#3b46c4 53.12%,#3b44c4 56.25%,#3b43c3 59.38%,#3b41c2 62.5%,#3c40c2 65.62%,#3c3ec1 68.75%,#3d3cbf 71.88%,#3e3abe 75%,#3f39bd 78.12%,#4037bb 81.25%,#4135b9 84.38%,#4232b7 87.5%,#442fb4 90.62%,#492db0 93.75%,#4c2cae 95.16%,#4f2cab 96.24%,#512baa 96.88%,#532ba9 97.31%,#552ba7 97.85%,#572aa5 98.39%,#592aa4 98.92%,#5b2aa2 99.19%,#5d29a1 99.46%,#5f29a0 99.73%,#61289d 100%)"></i><i style="background:linear-gradient(#3e59c7 0%,#3e58c6 3.125%,#3e57c6 6.25%,#3e56c6 9.375%,#3d55c6 12.5%,#3d54c6 15.62%,#3d53c6 18.75%,#3d52c6 21.88%,#3d51c6 25%,#3c50c6 28.12%,#3c4ec5 31.25%,#3c4dc5 34.38%,#3c4cc5 37.5%,#3c4bc5 40.62%,#3b4ac5 43.75%,#3b48c5 46.88%,#3b47c4 50%,#3b46c4 53.12%,#3b44c4 56.25%,#3b43c3 59.38%,#3b41c2 62.5%,#3c40c2 65.62%,#3c3ec0 68.75%,#3d3cbf 71.88%,#3e3abe 75%,#3f38bc 78.12%,#4037bb 81.25%,#4134b9 84.38%,#4232b7 87.5%,#442fb4 90.62%,#492db0 93.75%,#4c2cae 95.16%,#4f2cab 96.24%,#512baa 96.88%,#532ba9 97.31%,#552ba7 97.85%,#572aa5 98.39%,#592aa4 98.92%,#5b2aa2 99.19%,#5d29a1 99.46%,#5f299f 99.73%,#61289d 100%)"></i><i style="background:linear-gradient(#3e59c7 0%,#3e58c6 3.125%,#3e57c6 6.25%,#3e56c6 9.375%,#3d55c6 12.5%,#3d54c6 15.62%,#3d53c6 18.75%,#3d51c6 21.88%,#3d50c6 25%,#3c4fc6 28.12%,#3c4ec5 31.25%,#3c4dc5 34.38%,#3c4cc5 37.5%,#3c4bc5 40.62%,#3b49c5 43.75%,#3b48c5 46.88%,#3b47c4 50%,#3b45c4 53.12%,#3b44c4 56.25%,#3b43c3 59.38%,#3b41c2 62.5%,#3c3fc1 65.62%,#3c3ec0 68.75%,#3d3cbf 71.88%,#3e3abe 75%,#3f38bc 78.12%,#4036bb 81.25%,#4134b9 84.38%,#4232b7 87.5%,#452fb4 90.62%,#492db0 93.75%,#4c2cae 95.16%,#4f2cab 96.24%,#512baa 96.88%,#532ba8 97.31%,#552ba7 97.85%,#572aa5 98.39%,#592aa3 98.92%,#5b2aa2 99.19%,#5d29a1 99.46%,#5f299f 99.73%,#62289d 100%)"></i><i style="background:linear-gradient(#3e58c6 0%,#3e57c6 3.125%,#3e56c6 6.25%,#3d55c6 9.375%,#3d54c6 12.5%,#3d53c6 15.62%,#3d52c6 18.75%,#3d51c6 21.88%,#3c50c6 25%,#3c4fc5 28.12%,#3c4ec5 31.25%,#3c4dc5 34.38%,#3c4bc5 37.5%,#3c4ac5 40.62%,#3b49c5 43.75%,#3b48c4 46.88%,#3b47c4 50%,#3b45c4 53.12%,#3b44c3 56.25%,#3b42c3 59.38%,#3b41c2 62.5%,#3c3fc1 65.62%,#3c3dc0 68.75%,#3d3cbf 71.88%,#3e3abe 75%,#3f38bc 78.12%,#4036bb 81.25%,#4134b9 84.38%,#4232b7 87.5%,#452fb4 90.62%,#492db0 93.75%,#4d2cad 95.16%,#4f2cab 96.24%,#522baa 96.88%,#532ba8 97.31%,#552ba7 97.85%,#572aa5 98.39%,#5a2aa3 98.92%,#5b2aa2 99.19%,#5d29a1 99.46%,#5f299f 99.73%,#62289d 100%)"></i><i style="background:linear-gradient(#3e58c6 0%,#3e57c6 3.125%,#3e56c6 6.25%,#3d55c6 9.375%,#3d54c6 12.5%,#3d53c6 15.62%,#3d52c6 18.75%,#3d51c6 21.88%,#3c50c6 25%,#3c4fc5 28.12%,#3c4dc5 31.25%,#3c4cc5 34.38%,#3c4bc5 37.5%,#3c4ac5 40.62%,#3b49c5 43.75%,#3b48c4 46.88%,#3b46c4 50%,#3b45c4 53.12%,#3b44c3 56.25%,#3b42c3 59.38%,#3b41c2 62.5%,#3c3fc1 65.62%,#3d3dc0 68.75%,#3d3cbf 71.88%,#3e3abd 75%,#3f38bc 78.12%,#4036bb 81.25%,#4134b9 84.38%,#4231b7 87.5%,#452fb4 90.62%,#4a2db0 93.75%,#4d2cad 95.16%,#502cab 96.24%,#522ba9 96.88%,#532ba8 97.31%,#552ba7 97.85%,#572aa5 98.39%,#5a2aa3 98.92%,#5b2aa2 99.19%,#5d29a1 99.46%,#5f299f 99.73%,#62289d 100%)"></i><i style="background:linear-gradient(#3e57c6 0%,#3e56c6 3.125%,#3e55c6 6.25%,#3d54c6 9.375%,#3d54c6 12.5%,#3d52c6 15.62%,#3d51c6 18.75%,#3d50c6 21.88%,#3c4fc6 25%,#3c4ec5 28.12%,#3c4dc5 31.25%,#3c4cc5 34.38%,#3c4bc5 37.5%,#3b4ac5 40.62%,#3b49c5 43.75%,#3b47c4 46.88%,#3b46c4 50%,#3b45c4 53.12%,#3b43c3 56.25%,#3b42c3 59.38%,#3c40c2 62.5%,#3c3fc1 65.62%,#3d3dc0 68.75%,#3d3bbf 71.88%,#3e3abd 75%,#3f38bc 78.12%,#4036ba 81.25%,#4134b9 84.38%,#4231b7 87.5%,#452fb4 90.62%,#4a2db0 93.75%,#4d2cad 95.16%,#502cab 96.24%,#522ba9 96.88%,#532ba8 97.31%,#552ba7 97.85%,#572aa5 98.39%,#5a2aa3 98.92%,#5b2aa2 99.19%,#5d29a1 99.46%,#5f299f 99.73%,#62289d 100%)"></i><i style="background:linear-gradient(#3e57c6 0%,#3e56c6 3.125%,#3d55c6 6.25%,#3d54c6 9.375%,#3d53c6 12.5%,#3d52c6 15.62%,#3d51c6 18.75%,#3d50c6 21.88%,#3c4fc6 25%,#3c4ec5 28.12%,#3c4dc5 31.25%,#3c4cc5 34.38%,#3c4bc5 37.5%,#3b49c5 40.62%,#3b48c5 43.75%,#3b47c4 46.88%,#3b46c4 50%,#3b44c4 53.12%,#3b43c3 56.25%,#3b42c3 59.38%,#3c40c2 62.5%,#3c3fc1 65.62%,#3d3dc0 68.75%,#3d3bbf 71.88%,#3e3abd 75%,#3f38bc 78.12%,#4036ba 81.25%,#4134b9 84.38%,#4331b6 87.5%,#452eb3 90.62%,#4a2db0 93.75%,#4d2cad 95.16%,#502cab 96.24%,#522ba9 96.88%,#542ba8 97.31%,#562ba7 97.85%,#572aa5 98.39%,#5a2aa3 98.92%,#5b2aa2 99.19%,#5d29a1 99.46%,#5f299f 99.73%,#62289d 100%)"></i><i style="background:linear-gradient(#3e57c6 0%,#3e56c6 3.125%,#3d55c6 6.25%,#3d54c6 9.375%,#3d53c6 12.5%,#3d52c6 15.62%,#3d51c6 18.75%,#3c50c6 21.88%,#3c4fc5 25%,#3c4ec5 28.12%,#3c4dc5 31.25%,#3c4bc5 34.38%,#3c4ac5 37.5%,#3b49c5 40.62%,#3b48c5 43.75%,#3b47c4 46.88%,#3b46c4 50%,#3b44c4 53.12%,#3b43c3 56.25%,#3b41c2 59.38%,#3c40c2 62.5%,#3c3ec1 65.62%,#3d3dc0 68.75%,#3e3bbe 71.88%,#3e39bd 75%,#3f38bc 78.12%,#4036ba 81.25%,#4134b9 84.38%,#4331b6 87.5%,#452eb3 90.62%,#4a2daf 93.75%,#4d2cad 95.16%,#502cab 96.24%,#522ba9 96.88%,#542ba8 97.31%,#562ba6 97.85%,#582aa5 98.39%,#5a2aa3 98.92%,#5b29a2 99.19%,#5d29a1 99.46%,#5f299f 99.73%,#62289d 100%)"></i><i style="background:linear-gradient(#3e56c6 0%,#3d55c6 3.125%,#3d54c6 6.25%,#3d53c6 9.375%,#3d52c6 12.5%,#3d51c6 15.62%,#3d50c6 18.75%,#3c4fc6 21.88%,#3c4ec5 25%,#3c4dc5 28.12%,#3c4cc5 31.25%,#3c4bc5 34.38%,#3c4ac5 37.5%,#3b49c5 40.62%,#3b48c4 43.75%,#3b47c4 46.88%,#3b45c4 50%,#3b44c4 53.12%,#3b43c3 56.25%,#3b41c2 59.38%,#3c40c2 62.5%,#3c3ec1 65.62%,#3d3dc0 68.75%,#3e3bbe 71.88%,#3e39bd 75%,#3f38bc 78.12%,#4036ba 81.25%,#4134b8 84.38%,#4331b6 87.5%,#452eb3 90.62%,#4a2daf 93.75%,#4d2cad 95.16%,#502cab 96.24%,#522ba9 96.88%,#542ba8 97.31%,#562ba6 97.85%,#582aa5 98.39%,#5a2aa3 98.92%,#5c29a2 99.19%,#5d29a1 99.46%,#5f299f 99.73%,#62289d 100%)"></i><i style="background:linear-gradient(#3e56c6 0%,#3d55c6 3.125%,#3d54c6 6.25%,#3d53c6 9.375%,#3d52c6 12.5%,#3d51c6 15.62%,#3d50c6 18.75%,#3c4fc6 21.88%,#3c4ec5 25%,#3c4dc5 28.12%,#3c4cc5 31.25%,#3c4bc5 34.38%,#3b4ac5 37.5%,#3b49c5 40.62%,#3b48c4 43.75%,#3b46c4 46.88%,#3b45c4 50%,#3b44c3 53.12%,#3b42c3 56.25%,#3b41c2 59.38%,#3c3fc1 62.5%,#3c3ec1 65.62%,#3d3cbf 68.75%,#3e3bbe 71.88%,#3e39bd 75%,#3f37bc 78.12%,#4036ba 81.25%,#4133b8 84.38%,#4331b6 87.5%,#452eb3 90.62%,#4a2daf 93.75%,#4d2cad 95.16%,#502cab 96.24%,#522ba9 96.88%,#542ba8 97.31%,#562ba6 97.85%,#582aa5 98.39%,#5a2aa3 98.92%,#5c29a2 99.19%,#5d29a0 99.46%,#5f299f 99.73%,#62289d 100%)"></i><i style="background:linear-gradient(#3e56c6 0%,#3d55c6 3.125%,#3d54c6 6.25%,#3d53c6 9.375%,#3d52c6 12.5%,#3d51c6 15.62%,#3c50c6 18.75%,#3c4fc5 21.88%,#3c4ec5 25%,#3c4dc5 28.12%,#3c4cc5 31.25%,#3c4bc5 34.38%,#3b4ac5 37.5%,#3b48c5 40.62%,#3b47c4 43.75%,#3b46c4 46.88%,#3b45c4 50%,#3b44c3 53.12%,#3b42c3 56.25%,#3b41c2 59.38%,#3c3fc1 62.5%,#3c3ec0 65.62%,#3d3cbf 68.75%,#3e3bbe 71.88%,#3f39bd 75%,#3f37bb 78.12%,#4035ba 81.25%,#4133b8 84.38%,#4331b6 87.5%,#452eb3 90.62%,#4a2daf 93.75%,#4d2cad 95.16%,#502caa 96.24%,#532ba9 96.88%,#542ba8 97.31%,#562ba6 97.85%,#582aa5 98.39%,#5a2aa3 98.92%,#5c29a2 99.19%,#5d29a0 99.46%,#60299f 99.73%,#62289d 100%)"></i><i style="background:linear-gradient(#3d55c6 0%,#3d54c6 3.125%,#3d53c6 6.25%,#3d52c6 9.375%,#3d51c6 12.5%,#3d50c6 15.62%,#3c50c6 18.75%,#3c4fc5 21.88%,#3c4ec5 25%,#3c4cc5 28.12%,#3c4bc5 31.25%,#3c4ac5 34.38%,#3b49c5 37.5%,#3b48c5 40.62%,#3b47c4 43.75%,#3b46c4 46.88%,#3b45c4 50%,#3b43c3 53.12%,#3b42c3 56.25%,#3b41c2 59.38%,#3c3fc1 62.5%,#3c3ec0 65.62%,#3d3cbf 68.75%,#3e3abe 71.88%,#3f39bd 75%,#3f37bb 78.12%,#4035ba 81.25%,#4133b8 84.38%,#4331b6 87.5%,#462eb3 90.62%,#4a2daf 93.75%,#4e2cad 95.16%,#512caa 96.24%,#532ba9 96.88%,#542ba8 97.31%,#562ba6 97.85%,#582aa5 98.39%,#5a2aa3 98.92%,#5c29a2 99.19%,#5e29a0 99.46%,#60299f 99.73%,#62289d 100%)"></i><i style="background:linear-gradient(#3d55c6 0%,#3d54c6 3.125%,#3d53c6 6.25%,#3d52c6 9.375%,#3d51c6 12.5%,#3d50c6 15.62%,#3c4fc6 18.75%,#3c4ec5 21.88%,#3c4dc5 25%,#3c4cc5 28.12%,#3c4bc5 31.25%,#3c4ac5 34.38%,#3b49c5 37.5%,#3b48c5 40.62%,#3b47c4 43.75%,#3b46c4 46.88%,#3b44c4 50%,#3b43c3 53.12%,#3b42c3 56.25%,#3c40c2 59.38%,#3c3fc1 62.5%,#3c3dc0 65.62%,#3d3cbf 68.75%,#3e3abe 71.88%,#3f39bd 75%,#4037bb 78.12%,#4035ba 81.25%,#4233b8 84.38%,#4330b6 87.5%,#462eb3 90.62%,#4b2daf 93.75%,#4e2cad 95.16%,#512caa 96.24%,#532ba9 96.88%,#542ba7 97.31%,#562ba6 97.85%,#582aa5 98.39%,#5a2aa3 98.92%,#5c29a2 99.19%,#5e29a0 99.46%,#60299f 99.73%,#62289d 100%)"></i><i style="background:linear-gradient(#3d54c6 0%,#3d54c6 3.125%,#3d53c6 6.25%,#3d52c6 9.375%,#3d51c6 12.5%,#3c50c6 15.62%,#3c4fc5 18.75%,#3c4ec5 21.88%,#3c4dc5 25%,#3c4cc5 28.12%,#3c4bc5 31.25%,#3b4ac5 34.38%,#3b49c5 37.5%,#3b48c4 40.62%,#3b47c4 43.75%,#3b45c4 46.88%,#3b44c4 50%,#3b43c3 53.12%,#3b42c3 56.25%,#3c40c2 59.38%,#3c3fc1 62.5%,#3d3dc0 65.62%,#3d3cbf 68.75%,#3e3abe 71.88%,#3f39bc 75%,#4037bb 78.12%,#4035ba 81.25%,#4233b8 84.38%,#4330b6 87.5%,#462eb3 90.62%,#4b2daf 93.75%,#4e2cac 95.16%,#512caa 96.24%,#532ba9 96.88%,#542ba7 97.31%,#562ba6 97.85%,#582aa5 98.39%,#5a2aa3 98.92%,#5c29a2 99.19%,#5e29a0 99.46%,#60299f 99.73%,#63289d 100%)"></i><i style="background:linear-gradient(#3d54c6 0%,#3d53c6 3.125%,#3d52c6 6.25%,#3d51c6 9.375%,#3d50c6 12.5%,#3c50c6 15.62%,#3c4fc5 18.75%,#3c4ec5 21.88%,#3c4dc5 25%,#3c4cc5 28.12%,#3c4bc5 31.25%,#3b4ac5 34.38%,#3b49c5 37.5%,#3b47c4 40.62%,#3b46c4 43.75%,#3b45c4 46.88%,#3b44c3 50%,#3b43c3 53.12%,#3b41c2 56.25%,#3c40c2 59.38%,#3c3fc1 62.5%,#3d3dc0 65.62%,#3d3cbf 68.75%,#3e3abe 71.88%,#3f38bc 75%,#4037bb 78.12%,#4135ba 81.25%,#4233b8 84.38%,#4330b6 87.5%,#462eb3 90.62%,#4b2daf 93.75%,#4e2cac 95.16%,#512caa 96.24%,#532ba8 96.88%,#542ba7 97.31%,#562aa6 97.85%,#582aa4 98.39%,#5b2aa3 98.92%,#5c29a1 99.19%,#5e29a0 99.46%,#60299e 99.73%,#63289c 100%)"></i><i style="background:linear-gradient(#3d54c6 0%,#3d53c6 3.125%,#3d52c6 6.25%,#3d51c6 9.375%,#3d50c6 12.5%,#3c4fc6 15.62%,#3c4ec5 18.75%,#3c4dc5 21.88%,#3c4cc5 25%,#3c4bc5 28.12%,#3c4ac5 31.25%,#3b49c5 34.38%,#3b48c5 37.5%,#3b47c4 40.62%,#3b46c4 43.75%,#3b45c4 46.88%,#3b44c3 50%,#3b42c3 53.12%,#3b41c2 56.25%,#3c40c2 59.38%,#3c3ec1 62.5%,#3d3dc0 65.62%,#3d3bbf 68.75%,#3e3abd 71.88%,#3f38bc 75%,#4037bb 78.12%,#4135b9 81.25%,#4233b8 84.38%,#4330b5 87.5%,#462eb3 90.62%,#4b2daf 93.75%,#4e2cac 95.16%,#512baa 96.24%,#532ba8 96.88%,#552ba7 97.31%,#562aa6 97.85%,#582aa4 98.39%,#5b2aa3 98.92%,#5c29a1 99.19%,#5e29a0 99.46%,#60299e 99.73%,#63289c 100%)"></i><i style="background:linear-gradient(#3d53c6 0%,#3d53c6 3.125%,#3d52c6 6.25%,#3d51c6 9.375%,#3c50c6 12.5%,#3c4fc6 15.62%,#3c4ec5 18.75%,#3c4dc5 21.88%,#3c4cc5 25%,#3c4bc5 28.12%,#3c4ac5 31.25%,#3b49c5 34.38%,#3b48c5 37.5%,#3b47c4 40.62%,#3b46c4 43.75%,#3b45c4 46.88%,#3b43c3 50%,#3b42c3 53.12%,#3b41c2 56.25%,#3c40c2 59.38%,#3c3ec1 62.5%,#3d3dc0 65.62%,#3d3bbf 68.75%,#3e3abd 71.88%,#3f38bc 75%,#4037bb 78.12%,#4135b9 81.25%,#4233b8 84.38%,#4330b5 87.5%,#462eb2 90.62%,#4b2daf 93.75%,#4e2cac 95.16%,#512baa 96.24%,#532ba8 96.88%,#552ba7 97.31%,#562aa6 97.85%,#582aa4 98.39%,#5b2aa3 98.92%,#5c29a1 99.19%,#5e29a0 99.46%,#60299e 99.73%,#63289c 100%)"></i><i style="background:linear-gradient(#3d53c6 0%,#3d52c6 3.125%,#3d51c6 6.25%,#3d50c6 9.375%,#3c50c6 12.5%,#3c4fc5 15.62%,#3c4ec5 18.75%,#3c4dc5 21.88%,#3c4cc5 25%,#3c4bc5 28.12%,#3b4ac5 31.25%,#3b49c5 34.38%,#3b48c4 37.5%,#3b47c4 40.62%,#3b46c4 43.75%,#3b44c4 46.88%,#3b43c3 50%,#3b42c3 53.12%,#3b41c2 56.25%,#3c3fc1 59.38%,#3c3ec1 62.5%,#3d3dc0 65.62%,#3e3bbe 68.75%,#3e3abd 71.88%,#3f38bc 75%,#4036bb 78.12%,#4135b9 81.25%,#4232b8 84.38%,#4330b5 87.5%,#462eb2 90.62%,#4b2dae 93.75%,#4e2cac 95.16%,#512baa 96.24%,#532ba8 96.88%,#552ba7 97.31%,#572aa6 97.85%,#582aa4 98.39%,#5b2aa2 98.92%,#5c29a1 99.19%,#5e29a0 99.46%,#60299e 99.73%,#63289c 100%)"></i><i style="background:linear-gradient(#3d53c6 0%,#3d52c6 3.125%,#3d51c6 6.25%,#3d50c6 9.375%,#3c4fc6 12.5%,#3c4ec5 15.62%,#3c4dc5 18.75%,#3c4dc5 21.88%,#3c4cc5 25%,#3c4bc5 28.12%,#3b4ac5 31.25%,#3b49c5 34.38%,#3b48c4 37.5%,#3b47c4 40.62%,#3b45c4 43.75%,#3b44c4 46.88%,#3b43c3 50%,#3b42c3 53.12%,#3c41c2 56.25%,#3c3fc1 59.38%,#3c3ec0 62.5%,#3d3cbf 65.62%,#3e3bbe 68.75%,#3e39bd 71.88%,#3f38bc 75%,#4036bb 78.12%,#4134b9 81.25%,#4232b7 84.38%,#4330b5 87.5%,#462eb2 90.62%,#4b2dae 93.75%,#4e2cac 95.16%,#512baa 96.24%,#532ba8 96.88%,#552ba7 97.31%,#572aa6 97.85%,#592aa4 98.39%,#5b2aa2 98.92%,#5c29a1 99.19%,#5e29a0 99.46%,#60299e 99.73%,#63289c 100%)"></i></div>
<div class="h" id="hb"><i style="background:linear-gradient(#d58390 0%,#d4818e 3.125%,#d4808d 6.25%,#d37e8c 9.375%,#d27d8a 12.5%,#d27b89 15.62%,#d17987 18.75%,#d17886 21.88%,#d07684 25%,#cf7482 28.12%,#cf7281 31.25%,#ce707f 34.38%,#cd6e7d 37.5%,#cd6c7b 40.62%,#cc6a79 43.75%,#cb6777 46.88%,#ca6575 50%,#c96272 53.12%,#c85f70 56.25%,#c75d6d 59.38%,#c65a6b 62.5%,#c55668 65.62%,#c45365 68.75%,#c34f62 71.88%,#c24c5e 75%,#c0475a 78.12%,#bf4356 81.25%,#bd3e52 84.38%,#bb384d 87.5%,#b93248 90.62%,#b72b41 93.75%,#b4243a 96.88%,#b11a32 100%)"></i><i style="background:linear-gradient(#d68794 0%,#d68692 3.125%,#d58491 6.25%,#d58390 9.375%,#d4818e 12.5%,#d3808d 15.62%,#d37e8b 18.75%,#d27c8a 21.88%,#d27a88 25%,#d17886 28.12%,#d07785 31.25%,#d07583 34.38%,#cf7281 37.5%,#ce707f 40.62%,#cd6e7d 43.75%,#cd6c7b 46.88%,#cc6979 50%,#cb6777 53.12%,#ca6474 56.25%,#c96172 59.38%,#c85e6f 62.5%,#c75b6c 65.62%,#c65869 68.75%,#c45466 71.88%,#c35062 75%,#c24c5e 78.12%,#c0475a 81.25%,#be4256 84.38%,#bd3d51 87.5%,#bb374c 90.62%,#b83045 93.75%,#b6283e 96.88%,#b21f36 100%)"></i><i style="background:linear-gradient(#d88c98 0%,#d78a96 3.125%,#d78995 6.25%,#d68794 9.375%,#d58692 12.5%,#d58491 15.62%,#d4828f 18.75%,#d4808e 21.88%,#d37f8c 25%,#d27d8a 28.12%,#d27b89 31.25%,#d17987 34.38%,#d07785 37.5%,#d07583 40.62%,#cf7281 43.75%,#ce707f 46.88%,#cd6e7d 50%,#cc6b7a 53.12%,#cb6878 56.25%,#ca6575 59.38%,#c96273 62.5%,#c85f70 65.62%,#c75c6d 68.75%,#c6586a 71.88%,#c55466 75%,#c35062 78.12%,#c24c5e 81.25%,#c0475a 84.38%,#be4155 87.5%,#bc3b4f 90.62%,#ba3449 93.75%,#b72c42 96.88%,#b4233a 100%)"></i><i style="background:linear-gradient(#d9909b 0%,#d88e9a 3.125%,#d88d99 6.25%,#d78b97 9.375%,#d78a96 12.5%,#d68894 15.62%,#d68693 18.75%,#d58591 21.88%,#d58390 25%,#d4818e 28.12%,#d37f8c 31.25%,#d37d8a 34.38%,#d27b89 37.5%,#d17987 40.62%,#d07685 43.75%,#cf7483 46.88%,#cf7280 50%,#ce6f7e 53.12%,#cd6c7c 56.25%,#cc6a79 59.38%,#cb6776 62.5%,#ca6373 65.62%,#c96070 68.75%,#c75c6d 71.88%,#c6586a 75%,#c55466 78.12%,#c35062 81.25%,#c14b5d 84.38%,#bf4559 87.5%,#bd3f53 90.62%,#bb384d 93.75%,#b83046 96.88%,#b5273e 100%)"></i><i style="background:linear-gradient(#da949f 0%,#da929d 3.125%,#d9919c 6.25%,#d98f9b 9.375%,#d88d99 12.5%,#d88c98 15.62%,#d78a96 18.75%,#d68895 21.88%,#d68793 25%,#d58591 28.12%,#d58390 31.25%,#d4818e 34.38%,#d37f8c 37.5%,#d27d8a 40.62%,#d27a88 43.75%,#d17886 46.88%,#d07684 50%,#cf7382 53.12%,#ce707f 56.25%,#cd6d7d 59.38%,#cc6a7a 62.5%,#cb6777 65.62%,#ca6474 68.75%,#c96071 71.88%,#c75c6d 75%,#c65869 78.12%,#c45465 81.25%,#c34f61 84.38%,#c1495c 87.5%,#bf4357 90.62%,#bc3c50 93.75%,#ba3449 96.88%,#b72b41 100%)"></i><i style="background:linear-gradient(#dc97a2 0%,#db96a1 3.125%,#db949f 6.25%,#da939e 9.375%,#d9919d 12.5%,#d9909b 15.62%,#d88e9a 18.75%,#d88c98 21.88%,#d78a96 25%,#d68895 28.12%,#d68793 31.25%,#d58591 34.38%,#d4828f 37.5%,#d4808d 40.62%,#d37e8b 43.75%,#d27c89 46.88%,#d17987 50%,#d07785 53.12%,#cf7482 56.25%,#ce7180 59.38%,#cd6e7d 62.5%,#cc6b7a 65.62%,#cb6877 68.75%,#ca6474 71.88%,#c96071 75%,#c75c6d 78.12%,#c65769 81.25%,#c45264 84.38%,#c24d5f 87.5%,#c0475a 90.62%,#be4054 93.75%,#bb384d 96.88%,#b82f44 100%)"></i><i style="background:linear-gradient(#dd9ba5 0%,#dc99a4 3.125%,#dc98a3 6.25%,#db96a1 9.375%,#db95a0 12.5%,#da939e 15.62%,#da919d 18.75%,#d9909b 21.88%,#d88e9a 25%,#d88c98 28.12%,#d78a96 31.25%,#d68894 34.38%,#d68693 37.5%,#d58491 40.62%,#d4828f 43.75%,#d37f8d 46.88%,#d27d8a 50%,#d27a88 53.12%,#d17886 56.25%,#d07583 59.38%,#cf7280 62.5%,#ce6e7d 65.62%,#cc6b7a 68.75%,#cb6777 71.88%,#ca6474 75%,#c85f70 78.12%,#c75b6c 81.25%,#c55667 84.38%,#c35063 87.5%,#c14a5d 90.62%,#bf4457 93.75%,#bc3c50 96.88%,#b93248 100%)"></i><i style="background:linear-gradient(#de9ea8 0%,#dd9da7 3.125%,#dd9ba6 6.25%,#dc9aa4 9.375%,#dc98a3 12.5%,#db97a1 15.62%,#db95a0 18.75%,#da939e 21.88%,#d9919d 25%,#d98f9b 28.12%,#d88e99 31.25%,#d88c98 34.38%,#d78996 37.5%,#d68794 40.62%,#d58592 43.75%,#d48390 46.88%,#d4808d 50%,#d37e8b 53.12%,#d27b89 56.25%,#d17886 59.38%,#d07583 62.5%,#cf7281 65.62%,#ce6e7e 68.75%,#cc6b7a 71.88%,#cb6777 75%,#ca6373 78.12%,#c85e6f 81.25%,#c6596b 84.38%,#c45466 87.5%,#c24e60 90.62%,#c0475a 93.75%,#bd3f53 96.88%,#ba364b 100%)"></i><i style="background:linear-gradient(#dfa2ab 0%,#dfa0aa 3.125%,#de9fa9 6.25%,#dd9da7 9.375%,#dd9ba6 12.5%,#dc9aa4 15.62%,#dc98a3 18.75%,#db96a1 21.88%,#db95a0 25%,#da939e 28.12%,#d9919c 31.25%,#d98f9a 34.38%,#d88d99 37.5%,#d78b97 40.62%,#d68895 43.75%,#d68693 46.88%,#d58390 50%,#d4818e 53.12%,#d37e8c 56.25%,#d27b89 59.38%,#d17886 62.5%,#d07583 65.62%,#cf7280 68.75%,#cd6e7d 71.88%,#cc6a7a 75%,#cb6676 78.12%,#c96272 81.25%,#c75d6d 84.38%,#c65769 87.5%,#c45163 90.62%,#c14a5d 93.75%,#be4256 96.88%,#bb394e 100%)"></i><i style="background:linear-gradient(#e0a5ae 0%,#e0a3ad 3.125%,#dfa2ab 6.25%,#dfa0aa 9.375%,#de9fa9 12.5%,#dd9da7 15.62%,#dd9ba6 18.75%,#dc9aa4 21.88%,#dc98a2 25%,#db96a1 28.12%,#da949f 31.25%,#da929d 34.38%,#d9909b 37.5%,#d88e99 40.62%,#d78b97 43.75%,#d78995 46.88%,#d68793 50%,#d58491 53.12%,#d4818e 56.25%,#d37f8c 59.38%,#d27c89 62.5%,#d17886 65.62%,#d07583 68.75%,#cf7180 71.88%,#cd6d7d 75%,#cc6979 78.12%,#ca6575 81.25%,#c96070 84.38%,#c75a6b 87.5%,#c55466 90.62%,#c24d60 93.75%,#c04659 96.88%,#bc3c51 100%)"></i><i style="background:linear-gradient(#e1a8b1 0%,#e1a6af 3.125%,#e0a5ae 6.25%,#e0a3ad 9.375%,#dfa2ab 12.5%,#dfa0aa 15.62%,#de9ea8 18.75%,#dd9da7 21.88%,#dd9ba5 25%,#dc99a4 28.12%,#db97a2 31.25%,#db95a0 34.38%,#da939e 37.5%,#d9919c 40.62%,#d98f9a 43.75%,#d88c98 46.88%,#d78a96 50%,#d68794 53.12%,#d58491 56.25%,#d4828f 59.38%,#d37f8c 62.5%,#d27b89 65.62%,#d17886 68.75%,#d07483 71.88%,#ce707f 75%,#cd6c7c 78.12%,#cb6877 81.25%,#ca6373 84.38%,#c85d6e 87.5%,#c65769 90.62%,#c35063 93.75%,#c1495c 96.88%,#bd3f53 100%)"></i><i style="background:linear-gradient(#e2abb3 0%,#e2a9b2 3.125%,#e1a8b1 6.25%,#e1a6af 9.375%,#e0a5ae 12.5%,#e0a3ad 15.62%,#dfa1ab 18.75%,#dea0a9 21.88%,#de9ea8 25%,#dd9ca6 28.12%,#dc9aa4 31.25%,#dc98a3 34.38%,#db96a1 37.5%,#da949f 40.62%,#da919d 43.75%,#d98f9b 46.88%,#d88d99 50%,#d78a96 53.12%,#d68794 56.25%,#d58591 59.38%,#d4828f 62.5%,#d37e8c 65.62%,#d27b89 68.75%,#d17785 71.88%,#cf7382 75%,#ce6f7e 78.12%,#cc6b7a 81.25%,#cb6676 84.38%,#c96071 87.5%,#c75a6b 90.62%,#c45365 93.75%,#c24b5e 96.88%,#be4256 100%)"></i><i style="background:linear-gradient(#e3aeb6 0%,#e3acb5 3.125%,#e2abb3 6.25%,#e2a9b2 9.375%,#e1a7b1 12.5%,#e0a6af 15.62%,#e0a4ae 18.75%,#dfa2ac 21.88%,#dfa1aa 25%,#de9fa9 28.12%,#dd9da7 31.25%,#dd9ba5 34.38%,#dc99a3 37.5%,#db97a1 40.62%,#db949f 43.75%,#da929d 46.88%,#d98f9b 50%,#d88d99 53.12%,#d78a96 56.25%,#d68794 59.38%,#d58491 62.5%,#d4818e 65.62%,#d37e8b 68.75%,#d27a88 71.88%,#d07684 75%,#cf7281 78.12%,#cd6e7d 81.25%,#cc6978 84.38%,#ca6373 87.5%,#c85d6e 90.62%,#c55668 93.75%,#c34e61 96.88%,#bf4558 100%)"></i><i style="background:linear-gradient(#e4b0b8 0%,#e4afb7 3.125%,#e3adb6 6.25%,#e3acb4 9.375%,#e2aab3 12.5%,#e1a9b2 15.62%,#e1a7b0 18.75%,#e0a5ae 21.88%,#e0a3ad 25%,#dfa1ab 28.12%,#dea0a9 31.25%,#de9ea8 34.38%,#dd9ba6 37.5%,#dc99a4 40.62%,#db97a2 43.75%,#db95a0 46.88%,#da929e 50%,#d9909b 53.12%,#d88d99 56.25%,#d78a96 59.38%,#d68794 62.5%,#d58491 65.62%,#d4818e 68.75%,#d37d8a 71.88%,#d17987 75%,#d07583 78.12%,#ce707f 81.25%,#cd6b7b 84.38%,#cb6676 87.5%,#c96070 90.62%,#c6596a 93.75%,#c45163 96.88%,#c0485b 100%)"></i><i style="background:linear-gradient(#e5b3bb 0%,#e4b1ba 3.125%,#e4b0b8 6.25%,#e3aeb7 9.375%,#e3adb5 12.5%,#e2abb4 15.62%,#e2aab2 18.75%,#e1a8b1 21.88%,#e1a6af 25%,#e0a4ae 28.12%,#dfa2ac 31.25%,#dfa0aa 34.38%,#de9ea8 37.5%,#dd9ca6 40.62%,#dc9aa4 43.75%,#dc97a2 46.88%,#db95a0 50%,#da929e 53.12%,#d9909b 56.25%,#d88d99 59.38%,#d78a96 62.5%,#d68793 65.62%,#d58390 68.75%,#d3808d 71.88%,#d27c89 75%,#d17886 78.12%,#cf7382 81.25%,#cd6e7d 84.38%,#cc6978 87.5%,#c96373 90.62%,#c75c6d 93.75%,#c45466 96.88%,#c14b5d 100%)"></i><i style="background:linear-gradient(#e6b6bd 0%,#e5b4bc 3.125%,#e5b3bb 6.25%,#e4b1b9 9.375%,#e4afb8 12.5%,#e3aeb6 15.62%,#e3acb5 18.75%,#e2aab3 21.88%,#e1a9b2 25%,#e1a7b0 28.12%,#e0a5ae 31.25%,#dfa3ac 34.38%,#dfa1ab 37.5%,#de9fa9 40.62%,#dd9ca7 43.75%,#dc9aa4 46.88%,#dc98a2 50%,#db95a0 53.12%,#da929e 56.25%,#d98f9b 59.38%,#d88c98 62.5%,#d78995 65.62%,#d68692 68.75%,#d4828f 71.88%,#d37e8c 75%,#d27a88 78.12%,#d07684 81.25%,#ce717f 84.38%,#cc6b7b 87.5%,#ca6575 90.62%,#c85e6f 93.75%,#c55668 96.88%,#c24d60 100%)"></i><i style="background:linear-gradient(#e7b8bf 0%,#e6b7be 3.125%,#e6b5bd 6.25%,#e5b4bb 9.375%,#e5b2ba 12.5%,#e4b0b9 15.62%,#e4afb7 18.75%,#e3adb5 21.88%,#e2abb4 25%,#e2a9b2 28.12%,#e1a7b0 31.25%,#e0a5af 34.38%,#e0a3ad 37.5%,#dfa1ab 40.62%,#de9fa9 43.75%,#dd9da7 46.88%,#dc9aa5 50%,#dc97a2 53.12%,#db95a0 56.25%,#da929d 59.38%,#d98f9b 62.5%,#d88c98 65.62%,#d68895 68.75%,#d58591 71.88%,#d4818e 75%,#d27d8a 78.12%,#d17886 81.25%,#cf7382 84.38%,#cd6e7d 87.5%,#cb6877 90.62%,#c96171 93.75%,#c6596a 96.88%,#c35062 100%)"></i><i style="background:linear-gradient(#e8bbc2 0%,#e7b9c0 3.125%,#e7b8bf 6.25%,#e6b6be 9.375%,#e6b4bc 12.5%,#e5b3bb 15.62%,#e4b1b9 18.75%,#e4afb8 21.88%,#e3aeb6 25%,#e3acb4 28.12%,#e2aab3 31.25%,#e1a8b1 34.38%,#e0a6af 37.5%,#e0a4ad 40.62%,#dfa1ab 43.75%,#de9fa9 46.88%,#dd9da7 50%,#dc9aa4 53.12%,#dc97a2 56.25%,#db949f 59.38%,#da919d 62.5%,#d88e9a 65.62%,#d78b97 68.75%,#d68794 71.88%,#d58390 75%,#d37f8c 78.12%,#d27b88 81.25%,#d07684 84.38%,#ce707f 87.5%,#cc6a7a 90.62%,#ca6373 93.75%,#c75b6c 96.88%,#c45264 100%)"></i><i style="background:linear-gradient(#e8bdc4 0%,#e8bbc2 3.125%,#e7bac1 6.25%,#e7b8c0 9.375%,#e6b7be 12.5%,#e6b5bd 15.62%,#e5b4bb 18.75%,#e5b2ba 21.88%,#e4b0b8 25%,#e3aeb7 28.12%,#e3acb5 31.25%,#e2aab3 34.38%,#e1a8b1 37.5%,#e1a6af 40.62%,#e0a4ad 43.75%,#dfa1ab 46.88%,#de9fa9 50%,#dd9ca7 53.12%,#dc9aa4 56.25%,#db97a2 59.38%,#da949f 62.5%,#d9919c 65.62%,#d88d99 68.75%,#d78a96 71.88%,#d68692 75%,#d4818f 78.12%,#d37d8a 81.25%,#d17886 84.38%,#cf7381 87.5%,#cd6c7c 90.62%,#cb6676 93.75%,#c85e6e 96.88%,#c55566 100%)"></i><i style="background:linear-gradient(#e9bfc6 0%,#e9bec5 3.125%,#e8bcc3 6.25%,#e8bbc2 9.375%,#e7b9c0 12.5%,#e7b8bf 15.62%,#e6b6bd 18.75%,#e5b4bc 21.88%,#e5b2ba 25%,#e4b0b9 28.12%,#e3afb7 31.25%,#e3adb5 34.38%,#e2aab3 37.5%,#e1a8b1 40.62%,#e1a6af 43.75%,#e0a4ad 46.88%,#dfa1ab 50%,#de9fa9 53.12%,#dd9ca6 56.25%,#dc99a4 59.38%,#db96a1 62.5%,#da939e 65.62%,#d9909b 68.75%,#d88c98 71.88%,#d68894 75%,#d58491 78.12%,#d37f8d 81.25%,#d27a88 84.38%,#d07583 87.5%,#ce6f7e 90.62%,#cb6878 93.75%,#c96071 96.88%,#c55768 100%)"></i><i style="background:linear-gradient(#eac2c8 0%,#e9c0c7 3.125%,#e9bfc5 6.25%,#e8bdc4 9.375%,#e8bbc2 12.5%,#e7bac1 15.62%,#e7b8bf 18.75%,#e6b6be 21.88%,#e6b5bc 25%,#e5b3bb 28.12%,#e4b1b9 31.25%,#e4afb7 34.38%,#e3adb5 37.5%,#e2abb3 40.62%,#e1a8b1 43.75%,#e1a6af 46.88%,#e0a3ad 50%,#dfa1ab 53.12%,#de9ea8 56.25%,#dd9ba6 59.38%,#dc98a3 62.5%,#db95a0 65.62%,#da929d 68.75%,#d88e9a 71.88%,#d78a96 75%,#d68693 78.12%,#d4828f 81.25%,#d27d8a 84.38%,#d17785 87.5%,#ce7180 90.62%,#cc6a7a 93.75%,#c96273 96.88%,#c6596a 100%)"></i><i style="background:linear-gradient(#ebc4ca 0%,#eac2c9 3.125%,#eac1c7 6.25%,#e9bfc6 9.375%,#e9bec4 12.5%,#e8bcc3 15.62%,#e8bac1 18.75%,#e7b9c0 21.88%,#e6b7be 25%,#e6b5bd 28.12%,#e5b3bb 31.25%,#e4b1b9 34.38%,#e4afb7 37.5%,#e3adb5 40.62%,#e2abb3 43.75%,#e1a8b1 46.88%,#e0a6af 50%,#e0a3ad 53.12%,#dfa0aa 56.25%,#de9ea8 59.38%,#dd9ba5 62.5%,#dc97a2 65.62%,#da949f 68.75%,#d9909c 71.88%,#d88c98 75%,#d68895 78.12%,#d58491 81.25%,#d37f8c 84.38%,#d17987 87.5%,#cf7382 90.62%,#cd6c7c 93.75%,#ca6575 96.88%,#c75b6c 100%)"></i><i style="background:linear-gradient(#ebc6cc 0%,#ebc4cb 3.125%,#eac3c9 6.25%,#eac1c8 9.375%,#e9c0c6 12.5%,#e9bec5 15.62%,#e8bcc3 18.75%,#e8bbc2 21.88%,#e7b9c0 25%,#e6b7bf 28.12%,#e6b5bd 31.25%,#e5b3bb 34.38%,#e4b1b9 37.5%,#e4afb7 40.62%,#e3adb5 43.75%,#e2aab3 46.88%,#e1a8b1 50%,#e0a5af 53.12%,#dfa3ac 56.25%,#dea0aa 59.38%,#dd9da7 62.5%,#dc9aa4 65.62%,#db96a1 68.75%,#da939e 71.88%,#d98f9a 75%,#d78a97 78.12%,#d68693 81.25%,#d4818e 84.38%,#d27c89 87.5%,#d07584 90.62%,#ce6f7e 93.75%,#cb6777 96.88%,#c85d6e 100%)"></i><i style="background:linear-gradient(#ecc8ce 0%,#ecc7cc 3.125%,#ebc5cb 6.25%,#ebc4ca 9.375%,#eac2c8 12.5%,#eac0c7 15.62%,#e9bfc5 18.75%,#e8bdc4 21.88%,#e8bbc2 25%,#e7b9c0 28.12%,#e6b7bf 31.25%,#e6b5bd 34.38%,#e5b3bb 37.5%,#e4b1b9 40.62%,#e4afb7 43.75%,#e3acb5 46.88%,#e2aab3 50%,#e1a7b1 53.12%,#e0a5ae 56.25%,#dfa2ac 59.38%,#de9fa9 62.5%,#dd9ca6 65.62%,#dc98a3 68.75%,#db95a0 71.88%,#d9919c 75%,#d88d98 78.12%,#d68894 81.25%,#d58390 84.38%,#d37e8b 87.5%,#d17886 90.62%,#ce717f 93.75%,#cc6978 96.88%,#c86070 100%)"></i><i style="background:linear-gradient(#edcad0 0%,#ecc9ce 3.125%,#ecc7cd 6.25%,#ebc6cc 9.375%,#ebc4ca 12.5%,#eac2c9 15.62%,#eac1c7 18.75%,#e9bfc6 21.88%,#e8bdc4 25%,#e8bbc2 28.12%,#e7b9c1 31.25%,#e6b7bf 34.38%,#e6b5bd 37.5%,#e5b3bb 40.62%,#e4b1b9 43.75%,#e3afb7 46.88%,#e3acb5 50%,#e2a9b2 53.12%,#e1a7b0 56.25%,#e0a4ad 59.38%,#dfa1ab 62.5%,#de9ea8 65.62%,#dd9aa5 68.75%,#db97a2 71.88%,#da939e 75%,#d98f9a 78.12%,#d78a96 81.25%,#d58592 84.38%,#d3808d 87.5%,#d17a87 90.62%,#cf7381 93.75%,#cc6b7a 96.88%,#c96272 100%)"></i><i style="background:linear-gradient(#eeccd1 0%,#edcbd0 3.125%,#edc9cf 6.25%,#ecc8cd 9.375%,#ecc6cc 12.5%,#ebc4ca 15.62%,#eac3c9 18.75%,#eac1c7 21.88%,#e9bfc6 25%,#e9bdc4 28.12%,#e8bbc2 31.25%,#e7b9c1 34.38%,#e6b7bf 37.5%,#e6b5bd 40.62%,#e5b3bb 43.75%,#e4b1b9 46.88%,#e3aeb6 50%,#e2abb4 53.12%,#e2a9b2 56.25%,#e1a6af 59.38%,#e0a3ac 62.5%,#dea0aa 65.62%,#dd9ca7 68.75%,#dc99a3 71.88%,#db95a0 75%,#d9919c 78.12%,#d88c98 81.25%,#d68794 84.38%,#d4828f 87.5%,#d27c89 90.62%,#d07583 93.75%,#cd6d7c 96.88%,#ca6474 100%)"></i><i style="background:linear-gradient(#eeced3 0%,#eecdd2 3.125%,#edcbd0 6.25%,#edcacf 9.375%,#ecc8ce 12.5%,#ecc6cc 15.62%,#ebc5cb 18.75%,#eac3c9 21.88%,#eac1c8 25%,#e9bfc6 28.12%,#e9bdc4 31.25%,#e8bbc2 34.38%,#e7b9c1 37.5%,#e6b7bf 40.62%,#e6b5bd 43.75%,#e5b2ba 46.88%,#e4b0b8 50%,#e3adb6 53.12%,#e2abb4 56.25%,#e1a8b1 59.38%,#e0a5ae 62.5%,#dfa2ab 65.62%,#de9ea8 68.75%,#dd9ba5 71.88%,#db97a2 75%,#da939e 78.12%,#d88e9a 81.25%,#d78995 84.38%,#d58490 87.5%,#d37e8b 90.62%,#d07785 93.75%,#ce6f7e 96.88%,#cb6676 100%)"></i><i style="background:linear-gradient(#efd0d5 0%,#eecfd4 3.125%,#eecdd2 6.25%,#edccd1 9.375%,#edcacf 12.5%,#ecc8ce 15.62%,#ecc7cc 18.75%,#ebc5cb 21.88%,#eac3c9 25%,#eac1c8 28.12%,#e9bfc6 31.25%,#e9bdc4 34.38%,#e8bbc2 37.5%,#e7b9c0 40.62%,#e6b7be 43.75%,#e5b4bc 46.88%,#e5b2ba 50%,#e4afb8 53.12%,#e3adb5 56.25%,#e2aab3 59.38%,#e1a7b0 62.5%,#e0a4ad 65.62%,#dfa0aa 68.75%,#dd9da7 71.88%,#dc99a3 75%,#db95a0 78.12%,#d9909c 81.25%,#d78b97 84.38%,#d58692 87.5%,#d3808d 90.62%,#d17987 93.75%,#ce7180 96.88%,#cb6877 100%)"></i><i style="background:linear-gradient(#f0d2d7 0%,#efd0d5 3.125%,#efcfd4 6.25%,#eecdd3 9.375%,#edccd1 12.5%,#edcad0 15.62%,#ecc8ce 18.75%,#ecc7cd 21.88%,#ebc5cb 25%,#ebc3c9 28.12%,#eac1c8 31.25%,#e9bfc6 34.38%,#e8bdc4 37.5%,#e8bbc2 40.62%,#e7b9c0 43.75%,#e6b6be 46.88%,#e5b4bc 50%,#e4b1b9 53.12%,#e3afb7 56.25%,#e3acb4 59.38%,#e1a9b2 62.5%,#e0a6af 65.62%,#dfa2ac 68.75%,#de9fa9 71.88%,#dd9ba5 75%,#db96a1 78.12%,#da929d 81.25%,#d88d99 84.38%,#d68894 87.5%,#d4818e 90.62%,#d27b88 93.75%,#cf7381 96.88%,#cc6979 100%)"></i><i style="background:linear-gradient(#f0d4d8 0%,#f0d2d7 3.125%,#efd1d6 6.25%,#efcfd4 9.375%,#eeced3 12.5%,#eeccd1 15.62%,#edcad0 18.75%,#ecc9ce 21.88%,#ecc7cd 25%,#ebc5cb 28.12%,#eac3c9 31.25%,#eac1c7 34.38%,#e9bfc6 37.5%,#e8bdc4 40.62%,#e8bbc2 43.75%,#e7b8c0 46.88%,#e6b6bd 50%,#e5b3bb 53.12%,#e4b0b9 56.25%,#e3aeb6 59.38%,#e2abb3 62.5%,#e1a7b0 65.62%,#e0a4ad 68.75%,#dfa0aa 71.88%,#dd9da7 75%,#dc98a3 78.12%,#da949f 81.25%,#d98f9a 84.38%,#d78996 87.5%,#d58390 90.62%,#d27c8a 93.75%,#d07583 96.88%,#cd6b7b 100%)"></i><i style="background:linear-gradient(#f1d6da 0%,#f0d4d9 3.125%,#f0d3d7 6.25%,#efd1d6 9.375%,#efcfd4 12.5%,#eeced3 15.62%,#eeccd1 18.75%,#edcad0 21.88%,#ecc9ce 25%,#ecc7cd 28.12%,#ebc5cb 31.25%,#eac3c9 34.38%,#eac1c7 37.5%,#e9bfc5 40.62%,#e8bcc3 43.75%,#e7bac1 46.88%,#e7b8bf 50%,#e6b5bd 53.12%,#e5b2ba 56.25%,#e4afb8 59.38%,#e3acb5 62.5%,#e2a9b2 65.62%,#e1a6af 68.75%,#dfa2ac 71.88%,#de9ea8 75%,#dd9aa5 78.12%,#db96a1 81.25%,#d9919c 84.38%,#d78b97 87.5%,#d58592 90.62%,#d37e8c 93.75%,#d07685 96.88%,#cd6d7c 100%)"></i><i style="background:linear-gradient(#f1d7db 0%,#f1d6da 3.125%,#f0d4d9 6.25%,#f0d3d7 9.375%,#efd1d6 12.5%,#efd0d5 15.62%,#eeced3 18.75%,#eeccd1 21.88%,#edcad0 25%,#ecc9ce 28.12%,#ecc7cc 31.25%,#ebc5cb 34.38%,#eac3c9 37.5%,#eac0c7 40.62%,#e9bec5 43.75%,#e8bcc3 46.88%,#e7b9c1 50%,#e6b7be 53.12%,#e5b4bc 56.25%,#e4b1b9 59.38%,#e3aeb7 62.5%,#e2abb4 65.62%,#e1a8b1 68.75%,#e0a4ad 71.88%,#dfa0aa 75%,#dd9ca6 78.12%,#dc97a2 81.25%,#da929e 84.38%,#d88d99 87.5%,#d68793 90.62%,#d4808d 93.75%,#d17886 96.88%,#ce6f7e 100%)"></i><i style="background:linear-gradient(#f2d9dd 0%,#f2d8dc 3.125%,#f1d6da 6.25%,#f1d5d9 9.375%,#f0d3d8 12.5%,#efd1d6 15.62%,#efd0d5 18.75%,#eeced3 21.88%,#eeccd1 25%,#edcad0 28.12%,#ecc8ce 31.25%,#ecc6cc 34.38%,#ebc4ca 37.5%,#eac2c8 40.62%,#e9c0c6 43.75%,#e9bec4 46.88%,#e8bbc2 50%,#e7b9c0 53.12%,#e6b6bd 56.25%,#e5b3bb 59.38%,#e4b0b8 62.5%,#e3adb5 65.62%,#e2a9b2 68.75%,#e0a6af 71.88%,#dfa2ac 75%,#de9ea8 78.12%,#dc99a4 81.25%,#da949f 84.38%,#d98f9a 87.5%,#d78995 90.62%,#d4828f 93.75%,#d17a88 96.88%,#ce717f 100%)"></i><i style="background:linear-gradient(#f3dbdf 0%,#f2d9dd 3.125%,#f2d8dc 6.25%,#f1d6db 9.375%,#f1d5d9 12.5%,#f0d3d8 15.62%,#efd1d6 18.75%,#efd0d5 21.88%,#eeced3 25%,#eeccd1 28.12%,#edcad0 31.25%,#ecc8ce 34.38%,#ecc6cc 37.5%,#ebc4ca 40.62%,#eac2c8 43.75%,#e9bfc6 46.88%,#e8bdc4 50%,#e7bac1 53.12%,#e7b8bf 56.25%,#e6b5bc 59.38%,#e5b2ba 62.5%,#e3aeb7 65.62%,#e2abb4 68.75%,#e1a7b1 71.88%,#e0a4ad 75%,#de9fa9 78.12%,#dd9ba5 81.25%,#db96a1 84.38%,#d9909c 87.5%,#d78a96 90.62%,#d58490 93.75%,#d27c89 96.88%,#cf7281 100%)"></i><i style="background:linear-gradient(#f3dde0 0%,#f3dbdf 3.125%,#f2dadd 6.25%,#f2d8dc 9.375%,#f1d6db 12.5%,#f1d5d9 15.62%,#f0d3d8 18.75%,#efd1d6 21.88%,#efd0d5 25%,#eeced3 28.12%,#edccd1 31.25%,#edcacf 34.38%,#ecc8cd 37.5%,#ebc6cc 40.62%,#ebc3ca 43.75%,#eac1c7 46.88%,#e9bfc5 50%,#e8bcc3 53.12%,#e7b9c0 56.25%,#e6b6be 59.38%,#e5b3bb 62.5%,#e4b0b8 65.62%,#e3adb5 68.75%,#e2a9b2 71.88%,#e0a5af 75%,#dfa1ab 78.12%,#dd9da7 81.25%,#dc98a2 84.38%,#da929d 87.5%,#d88c98 90.62%,#d58592 93.75%,#d37d8b 96.88%,#d07483 100%)"></i><i style="background:linear-gradient(#f4dee2 0%,#f3dde0 3.125%,#f3dbdf 6.25%,#f2dade 9.375%,#f2d8dc 12.5%,#f1d6db 15.62%,#f1d5d9 18.75%,#f0d3d8 21.88%,#efd1d6 25%,#efcfd4 28.12%,#eecdd3 31.25%,#edcbd1 34.38%,#edc9cf 37.5%,#ecc7cd 40.62%,#ebc5cb 43.75%,#eac3c9 46.88%,#eac0c7 50%,#e9bec4 53.12%,#e8bbc2 56.25%,#e7b8bf 59.38%,#e6b5bd 62.5%,#e5b2ba 65.62%,#e3aeb7 68.75%,#e2abb4 71.88%,#e1a7b0 75%,#dfa3ac 78.12%,#de9ea8 81.25%,#dc99a4 84.38%,#da949f 87.5%,#d88e9a 90.62%,#d68793 93.75%,#d37f8c 96.88%,#d07684 100%)"></i><i style="background:linear-gradient(#f4e0e3 0%,#f4dee2 3.125%,#f3dde0 6.25%,#f3dbdf 9.375%,#f2dade 12.5%,#f2d8dc 15.62%,#f1d6db 18.75%,#f1d5d9 21.88%,#f0d3d7 25%,#efd1d6 28.12%,#efcfd4 31.25%,#eecdd2 34.38%,#edcbd0 37.5%,#ecc9ce 40.62%,#ecc7cc 43.75%,#ebc4ca 46.88%,#eac2c8 50%,#e9bfc6 53.12%,#e8bdc3 56.25%,#e7bac1 59.38%,#e6b7be 62.5%,#e5b3bb 65.62%,#e4b0b8 68.75%,#e3acb5 71.88%,#e1a9b2 75%,#e0a4ae 78.12%,#dea0aa 81.25%,#dd9ba5 84.38%,#db95a0 87.5%,#d98f9b 90.62%,#d68995 93.75%,#d4818e 96.88%,#d17786 100%)"></i><i style="background:linear-gradient(#f5e1e4 0%,#f4e0e3 3.125%,#f4dee2 6.25%,#f3dde0 9.375%,#f3dbdf 12.5%,#f2dade 15.62%,#f2d8dc 18.75%,#f1d6db 21.88%,#f0d4d9 25%,#f0d3d7 28.12%,#efd1d6 31.25%,#eecfd4 34.38%,#eecdd2 37.5%,#edcad0 40.62%,#ecc8ce 43.75%,#ebc6cc 46.88%,#ebc3ca 50%,#eac1c7 53.12%,#e9bec5 56.25%,#e8bbc2 59.38%,#e7b8c0 62.5%,#e6b5bd 65.62%,#e5b2ba 68.75%,#e3aeb6 71.88%,#e2aab3 75%,#e1a6af 78.12%,#dfa1ab 81.25%,#dd9da7 84.38%,#db97a2 87.5%,#d9919c 90.62%,#d78a96 93.75%,#d4828f 96.88%,#d17987 100%)"></i><i style="background:linear-gradient(#f5e3e6 0%,#f5e2e5 3.125%,#f4e0e3 6.25%,#f4dfe2 9.375%,#f3dde0 12.5%,#f3dbdf 15.62%,#f2dadd 18.75%,#f2d8dc 21.88%,#f1d6da 25%,#f0d4d9 28.12%,#f0d2d7 31.25%,#efd0d5 34.38%,#eeced3 37.5%,#eeccd1 40.62%,#edcacf 43.75%,#ecc7cd 46.88%,#ebc5cb 50%,#eac2c9 53.12%,#e9c0c6 56.25%,#e8bdc4 59.38%,#e7bac1 62.5%,#e6b7be 65.62%,#e5b3bb 68.75%,#e4b0b8 71.88%,#e3acb4 75%,#e1a8b1 78.12%,#e0a3ad 81.25%,#de9ea8 84.38%,#dc99a3 87.5%,#da939e 90.62%,#d88c98 93.75%,#d58491 96.88%,#d27b88 100%)"></i><i style="background:linear-gradient(#f6e5e7 0%,#f5e3e6 3.125%,#f5e2e5 6.25%,#f4e0e3 9.375%,#f4dee2 12.5%,#f3dde0 15.62%,#f3dbdf 18.75%,#f2d9dd 21.88%,#f2d8dc 25%,#f1d6da 28.12%,#f0d4d8 31.25%,#f0d2d7 34.38%,#efd0d5 37.5%,#eeced3 40.62%,#edcbd1 43.75%,#edc9cf 46.88%,#ecc7cc 50%,#ebc4ca 53.12%,#eac1c8 56.25%,#e9bec5 59.38%,#e8bbc2 62.5%,#e7b8c0 65.62%,#e6b5bd 68.75%,#e4b1b9 71.88%,#e3adb6 75%,#e2a9b2 78.12%,#e0a5ae 81.25%,#dea0aa 84.38%,#dd9aa5 87.5%,#da949f 90.62%,#d88d99 93.75%,#d58592 96.88%,#d27c8a 100%)"></i><i style="background:linear-gradient(#f6e6e9 0%,#f6e5e7 3.125%,#f5e3e6 6.25%,#f5e2e5 9.375%,#f4e0e3 12.5%,#f4dee2 15.62%,#f3dde0 18.75%,#f3dbdf 21.88%,#f2d9dd 25%,#f1d7db 28.12%,#f1d5da 31.25%,#f0d3d8 34.38%,#efd1d6 37.5%,#efcfd4 40.62%,#eecdd2 43.75%,#edcbd0 46.88%,#ecc8ce 50%,#ebc5cb 53.12%,#eac3c9 56.25%,#e9c0c6 59.38%,#e8bdc4 62.5%,#e7bac1 65.62%,#e6b6be 68.75%,#e5b3bb 71.88%,#e4afb7 75%,#e2abb3 78.12%,#e1a6af 81.25%,#dfa1ab 84.38%,#dd9ca6 87.5%,#db96a1 90.62%,#d98f9a 93.75%,#d68793 96.88%,#d37e8b 100%)"></i><i style="background:linear-gradient(#f7e8ea 0%,#f6e6e9 3.125%,#f6e5e7 6.25%,#f5e3e6 9.375%,#f5e2e5 12.5%,#f4e0e3 15.62%,#f4dee2 18.75%,#f3dce0 21.88%,#f3dbde 25%,#f2d9dd 28.12%,#f1d7db 31.25%,#f1d5d9 34.38%,#f0d3d7 37.5%,#efd1d5 40.62%,#eeced3 43.75%,#eeccd1 46.88%,#edcacf 50%,#ecc7cd 53.12%,#ebc4ca 56.25%,#eac1c8 59.38%,#e9bec5 62.5%,#e8bbc2 65.62%,#e7b8bf 68.75%,#e5b4bc 71.88%,#e4b0b9 75%,#e3acb5 78.12%,#e1a8b1 81.25%,#dfa3ac 84.38%,#de9da7 87.5%,#db97a2 90.62%,#d9909c 93.75%,#d68895 96.88%,#d37f8c 100%)"></i><i style="background:linear-gradient(#f8e9eb 0%,#f7e8ea 3.125%,#f6e6e9 6.25%,#f6e5e7 9.375%,#f5e3e6 12.5%,#f5e1e4 15.62%,#f4e0e3 18.75%,#f4dee1 21.88%,#f3dce0 25%,#f2dade 28.12%,#f2d8dc 31.25%,#f1d6db 34.38%,#f0d4d9 37.5%,#f0d2d7 40.62%,#efd0d5 43.75%,#eeced3 46.88%,#edcbd0 50%,#ecc8ce 53.12%,#ebc6cc 56.25%,#eac3c9 59.38%,#e9c0c6 62.5%,#e8bdc4 65.62%,#e7b9c1 68.75%,#e6b6bd 71.88%,#e5b2ba 75%,#e3aeb6 78.12%,#e2a9b2 81.25%,#e0a4ae 84.38%,#de9fa9 87.5%,#dc99a3 90.62%,#da929d 93.75%,#d78a96 96.88%,#d4818e 100%)"></i><i style="background:linear-gradient(#f8ebed 0%,#f8e9eb 3.125%,#f7e8ea 6.25%,#f6e6e9 9.375%,#f6e4e7 12.5%,#f5e3e6 15.62%,#f5e1e4 18.75%,#f4dfe3 21.88%,#f4dee1 25%,#f3dcdf 28.12%,#f2dade 31.25%,#f2d8dc 34.38%,#f1d6da 37.5%,#f0d4d8 40.62%,#efd1d6 43.75%,#efcfd4 46.88%,#eecdd2 50%,#edcacf 53.12%,#ecc7cd 56.25%,#ebc4ca 59.38%,#eac1c8 62.5%,#e9bec5 65.62%,#e8bbc2 68.75%,#e6b7bf 71.88%,#e5b3bb 75%,#e4afb7 78.12%,#e2abb3 81.25%,#e0a6af 84.38%,#dfa0aa 87.5%,#dc9aa5 90.62%,#da939e 93.75%,#d78b97 96.88%,#d4828f 100%)"></i><i style="background:linear-gradient(#f8ecee 0%,#f8ebed 3.125%,#f7e9eb 6.25%,#f7e7ea 9.375%,#f6e6e9 12.5%,#f6e4e7 15.62%,#f5e3e6 18.75%,#f5e1e4 21.88%,#f4dfe2 25%,#f3dde1 28.12%,#f3dbdf 31.25%,#f2d9dd 34.38%,#f1d7db 37.5%,#f1d5d9 40.62%,#f0d3d7 43.75%,#efd0d5 46.88%,#eeced3 50%,#edcbd1 53.12%,#ecc9ce 56.25%,#ebc6cc 59.38%,#eac3c9 62.5%,#e9c0c6 65.62%,#e8bcc3 68.75%,#e7b9c0 71.88%,#e6b5bc 75%,#e4b1b9 78.12%,#e3acb5 81.25%,#e1a7b0 84.38%,#dfa2ab 87.5%,#dd9ca6 90.62%,#db95a0 93.75%,#d88d99 96.88%,#d58490 100%)"></i><i style="background:linear-gradient(#f9edef 0%,#f8ecee 3.125%,#f8eaed 6.25%,#f7e9eb 9.375%,#f7e7ea 12.5%,#f6e6e8 15.62%,#f6e4e7 18.75%,#f5e2e5 21.88%,#f5e0e4 25%,#f4dfe2 28.12%,#f3dde0 31.25%,#f3dbde 34.38%,#f2d9dd 37.5%,#f1d6db 40.62%,#f0d4d9 43.75%,#f0d2d7 46.88%,#efcfd4 50%,#eecdd2 53.12%,#edcad0 56.25%,#ecc7cd 59.38%,#ebc4ca 62.5%,#eac1c7 65.62%,#e9bec4 68.75%,#e7bac1 71.88%,#e6b6be 75%,#e5b2ba 78.12%,#e3adb6 81.25%,#e1a8b1 84.38%,#e0a3ad 87.5%,#dd9da7 90.62%,#db96a1 93.75%,#d88e9a 96.88%,#d58592 100%)"></i><i style="background:linear-gradient(#f9eff0 0%,#f9edef 3.125%,#f8ecee 6.25%,#f8eaec 9.375%,#f7e9eb 12.5%,#f7e7ea 15.62%,#f6e5e8 18.75%,#f6e4e6 21.88%,#f5e2e5 25%,#f4e0e3 28.12%,#f4dee1 31.25%,#f3dce0 34.38%,#f2dade 37.5%,#f2d8dc 40.62%,#f1d6da 43.75%,#f0d3d8 46.88%,#efd1d6 50%,#eeced3 53.12%,#edcbd1 56.25%,#ecc9ce 59.38%,#ebc6cc 62.5%,#eac2c9 65.62%,#e9bfc6 68.75%,#e8bbc2 71.88%,#e7b8bf 75%,#e5b3bb 78.12%,#e4afb7 81.25%,#e2aab3 84.38%,#e0a4ae 87.5%,#de9ea8 90.62%,#dc97a2 93.75%,#d9909b 96.88%,#d68693 100%)"></i><i style="background:linear-gradient(#faf0f2 0%,#f9eff0 3.125%,#f9edef 6.25%,#f8ecee 9.375%,#f8eaec 12.5%,#f7e8eb 15.62%,#f7e7e9 18.75%,#f6e5e8 21.88%,#f6e3e6 25%,#f5e1e4 28.12%,#f4dfe3 31.25%,#f4dde1 34.38%,#f3dbdf 37.5%,#f2d9dd 40.62%,#f1d7db 43.75%,#f0d5d9 46.88%,#f0d2d7 50%,#efd0d4 53.12%,#eecdd2 56.25%,#edcad0 59.38%,#ecc7cd 62.5%,#ebc4ca 65.62%,#eac0c7 68.75%,#e8bdc4 71.88%,#e7b9c0 75%,#e6b5bc 78.12%,#e4b0b8 81.25%,#e2abb4 84.38%,#e0a6af 87.5%,#dea0aa 90.62%,#dc99a3 93.75%,#d9919c 96.88%,#d68894 100%)"></i><i style="background:linear-gradient(#faf2f3 0%,#faf0f2 3.125%,#f9eff0 6.25%,#f9edef 9.375%,#f8ebed 12.5%,#f8eaec 15.62%,#f7e8ea 18.75%,#f7e6e9 21.88%,#f6e5e7 25%,#f5e3e6 28.12%,#f5e1e4 31.25%,#f4dfe2 34.38%,#f3dde0 37.5%,#f3dbde 40.62%,#f2d8dc 43.75%,#f1d6da 46.88%,#f0d3d8 50%,#efd1d6 53.12%,#eeced3 56.25%,#edcbd1 59.38%,#ecc8ce 62.5%,#ebc5cb 65.62%,#eac2c8 68.75%,#e9bec5 71.88%,#e7bac1 75%,#e6b6be 78.12%,#e5b2ba 81.25%,#e3adb5 84.38%,#e1a7b0 87.5%,#dfa1ab 90.62%,#dd9aa5 93.75%,#da929e 96.88%,#d78995 100%)"></i><i style="background:linear-gradient(#fbf3f4 0%,#faf1f3 3.125%,#faf0f1 6.25%,#f9eef0 9.375%,#f9edef 12.5%,#f8ebed 15.62%,#f8e9ec 18.75%,#f7e8ea 21.88%,#f6e6e9 25%,#f6e4e7 28.12%,#f5e2e5 31.25%,#f4e0e3 34.38%,#f4dee1 37.5%,#f3dce0 40.62%,#f2dade 43.75%,#f1d7db 46.88%,#f1d5d9 50%,#f0d2d7 53.12%,#efd0d4 56.25%,#eecdd2 59.38%,#edcacf 62.5%,#ecc7cc 65.62%,#ebc3c9 68.75%,#e9c0c6 71.88%,#e8bcc3 75%,#e7b7bf 78.12%,#e5b3bb 81.25%,#e3aeb6 84.38%,#e1a8b1 87.5%,#dfa2ac 90.62%,#dd9ca6 93.75%,#da949f 96.88%,#d78a97 100%)"></i><i style="background:linear-gradient(#fbf4f5 0%,#fbf3f4 3.125%,#faf1f3 6.25%,#faf0f1 9.375%,#f9eef0 12.5%,#f9ecee 15.62%,#f8ebed 18.75%,#f7e9eb 21.88%,#f7e7ea 25%,#f6e5e8 28.12%,#f6e3e6 31.25%,#f5e1e5 34.38%,#f4dfe3 37.5%,#f3dde1 40.62%,#f3dbdf 43.75%,#f2d9dd 46.88%,#f1d6da 50%,#f0d4d8 53.12%,#efd1d6 56.25%,#eeced3 59.38%,#edcbd0 62.5%,#ecc8ce 65.62%,#ebc4cb 68.75%,#eac1c7 71.88%,#e8bdc4 75%,#e7b9c0 78.12%,#e5b4bc 81.25%,#e4afb8 84.38%,#e2aab3 87.5%,#e0a4ad 90.62%,#dd9da7 93.75%,#db95a0 96.88%,#d88c98 100%)"></i><i style="background:linear-gradient(#fcf5f6 0%,#fbf4f5 3.125%,#fbf3f4 6.25%,#faf1f2 9.375%,#faeff1 12.5%,#f9eef0 15.62%,#f9ecee 18.75%,#f8eaec 21.88%,#f7e9eb 25%,#f7e7e9 28.12%,#f6e5e7 31.25%,#f5e3e6 34.38%,#f5e1e4 37.5%,#f4dfe2 40.62%,#f3dce0 43.75%,#f2dade 46.88%,#f1d7dc 50%,#f1d5d9 53.12%,#f0d2d7 56.25%,#efcfd4 59.38%,#eeccd2 62.5%,#edc9cf 65.62%,#ebc6cc 68.75%,#eac2c8 71.88%,#e9bec5 75%,#e7bac1 78.12%,#e6b6bd 81.25%,#e4b1b9 84.38%,#e2abb4 87.5%,#e0a5ae 90.62%,#de9ea8 93.75%,#db96a1 96.88%,#d88d99 100%)"></i><i style="background:linear-gradient(#fcf7f8 0%,#fcf5f6 3.125%,#fbf4f5 6.25%,#fbf2f4 9.375%,#faf1f2 12.5%,#faeff1 15.62%,#f9edef 18.75%,#f8ecee 21.88%,#f8eaec 25%,#f7e8ea 28.12%,#f6e6e9 31.25%,#f6e4e7 34.38%,#f5e2e5 37.5%,#f4e0e3 40.62%,#f4dee1 43.75%,#f3dbdf 46.88%,#f2d9dd 50%,#f1d6da 53.12%,#f0d3d8 56.25%,#efd1d5 59.38%,#eeced3 62.5%,#edcad0 65.62%,#ecc7cd 68.75%,#ebc3ca 71.88%,#e9c0c6 75%,#e8bbc2 78.12%,#e6b7be 81.25%,#e5b2ba 84.38%,#e3acb5 87.5%,#e1a6b0 90.62%,#de9fa9 93.75%,#dc98a2 96.88%,#d88e9a 100%)"></i><i style="background:linear-gradient(#fdf8f9 0%,#fcf7f7 3.125%,#fcf5f6 6.25%,#fbf4f5 9.375%,#fbf2f3 12.5%,#faf0f2 15.62%,#f9eff0 18.75%,#f9edef 21.88%,#f8ebed 25%,#f8e9ec 28.12%,#f7e7ea 31.25%,#f6e5e8 34.38%,#f6e3e6 37.5%,#f5e1e4 40.62%,#f4dfe2 43.75%,#f3dce0 46.88%,#f2dade 50%,#f1d7dc 53.12%,#f1d5d9 56.25%,#f0d2d7 59.38%,#efcfd4 62.5%,#edccd1 65.62%,#ecc8ce 68.75%,#ebc5cb 71.88%,#eac1c7 75%,#e8bdc4 78.12%,#e7b8bf 81.25%,#e5b3bb 84.38%,#e3aeb6 87.5%,#e1a8b1 90.62%,#dfa1ab 93.75%,#dc99a3 96.88%,#d9909b 100%)"></i><i style="background:linear-gradient(#fdf9fa 0%,#fdf8f9 3.125%,#fcf6f7 6.25%,#fcf5f6 9.375%,#fbf3f4 12.5%,#faf2f3 15.62%,#faf0f1 18.75%,#f9eef0 21.88%,#f9ecee 25%,#f8ebed 28.12%,#f7e9eb 31.25%,#f7e7e9 34.38%,#f6e4e7 37.5%,#f5e2e5 40.62%,#f4e0e3 43.75%,#f4dee1 46.88%,#f3dbdf 50%,#f2d9dd 53.12%,#f1d6da 56.25%,#f0d3d8 59.38%,#efd0d5 62.5%,#eecdd2 65.62%,#edcacf 68.75%,#ebc6cc 71.88%,#eac2c8 75%,#e9bec5 78.12%,#e7b9c1 81.25%,#e5b4bc 84.38%,#e4afb7 87.5%,#e2a9b2 90.62%,#dfa2ac 93.75%,#dd9aa5 96.88%,#d9919c 100%)"></i><i style="background:linear-gradient(#fdfbfb 0%,#fdf9fa 3.125%,#fcf8f8 6.25%,#fcf6f7 9.375%,#fbf4f6 12.5%,#fbf3f4 15.62%,#faf1f3 18.75%,#faeff1 21.88%,#f9eeef 25%,#f8ecee 28.12%,#f8eaec 31.25%,#f7e8ea 34.38%,#f6e6e8 37.5%,#f6e4e6 40.62%,#f5e1e4 43.75%,#f4dfe2 46.88%,#f3dde0 50%,#f2dade 53.12%,#f1d7db 56.25%,#f0d4d9 59.38%,#efd1d6 62.5%,#eeced3 65.62%,#edcbd0 68.75%,#ecc7cd 71.88%,#ebc3ca 75%,#e9bfc6 78.12%,#e8bbc2 81.25%,#e6b6bd 84.38%,#e4b0b8 87.5%,#e2aab3 90.62%,#e0a3ad 93.75%,#dd9ba6 96.88%,#da929d 100%)"></i><i style="background:linear-gradient(#fefcfc 0%,#fdfafb 3.125%,#fdf9f9 6.25%,#fcf7f8 9.375%,#fcf6f7 12.5%,#fbf4f5 15.62%,#fbf2f4 18.75%,#faf1f2 21.88%,#f9eff1 25%,#f9edef 28.12%,#f8ebed 31.25%,#f7e9eb 34.38%,#f7e7e9 37.5%,#f6e5e8 40.62%,#f5e3e6 43.75%,#f4e0e3 46.88%,#f4dee1 50%,#f3dbdf 53.12%,#f2d8dc 56.25%,#f1d6da 59.38%,#f0d3d7 62.5%,#efcfd4 65.62%,#eeccd1 68.75%,#ecc8ce 71.88%,#ebc5cb 75%,#eac0c7 78.12%,#e8bcc3 81.25%,#e6b7be 84.38%,#e4b1b9 87.5%,#e2abb4 90.62%,#e0a4ae 93.75%,#dd9da7 96.88%,#da939f 100%)"></i><i style="background:linear-gradient(#fefdfd 0%,#fefcfc 3.125%,#fdfafb 6.25%,#fdf8f9 9.375%,#fcf7f8 12.5%,#fcf5f6 15.62%,#fbf4f5 18.75%,#faf2f3 21.88%,#faf0f2 25%,#f9eef0 28.12%,#f9ecee 31.25%,#f8eaec 34.38%,#f7e8eb 37.5%,#f6e6e9 40.62%,#f6e4e7 43.75%,#f5e1e4 46.88%,#f4dfe2 50%,#f3dce0 53.12%,#f2dade 56.25%,#f1d7db 59.38%,#f0d4d8 62.5%,#efd1d5 65.62%,#eecdd2 68.75%,#edcacf 71.88%,#ebc6cc 75%,#eac2c8 78.12%,#e8bdc4 81.25%,#e7b8bf 84.38%,#e5b3bb 87.5%,#e3adb5 90.62%,#e0a6af 93.75%,#de9ea8 96.88%,#db95a0 100%)"></i><i style="background:linear-gradient(#fffefe 0%,#fefdfd 3.125%,#fefbfc 6.25%,#fdfafa 9.375%,#fdf8f9 12.5%,#fcf6f7 15.62%,#fcf5f6 18.75%,#fbf3f4 21.88%,#faf1f3 25%,#faeff1 28.12%,#f9edef 31.25%,#f8ebed 34.38%,#f8e9ec 37.5%,#f7e7ea 40.62%,#f6e5e8 43.75%,#f5e3e6 46.88%,#f4e0e3 50%,#f4dee1 53.12%,#f3dbdf 56.25%,#f2d8dc 59.38%,#f1d5d9 62.5%,#f0d2d7 65.62%,#eeced3 68.75%,#edcbd0 71.88%,#ecc7cd 75%,#eac3c9 78.12%,#e9bec5 81.25%,#e7b9c1 84.38%,#e5b4bc 87.5%,#e3aeb6 90.62%,#e1a7b0 93.75%,#de9fa9 96.88%,#db96a1 100%)"></i><i style="background:linear-gradient(#fefeff 0%,#fffefe 3.125%,#fefcfd 6.25%,#fefbfb 9.375%,#fdf9fa 12.5%,#fcf8f8 15.62%,#fcf6f7 18.75%,#fbf4f5 21.88%,#fbf2f4 25%,#faf1f2 28.12%,#f9eff0 31.25%,#f9edef 34.38%,#f8ebed 37.5%,#f7e8eb 40.62%,#f6e6e9 43.75%,#f6e4e7 46.88%,#f5e1e4 50%,#f4dfe2 53.12%,#f3dce0 56.25%,#f2d9dd 59.38%,#f1d6da 62.5%,#f0d3d8 65.62%,#efd0d5 68.75%,#eeccd1 71.88%,#ecc8ce 75%,#ebc4ca 78.12%,#e9bfc6 81.25%,#e8bac2 84.38%,#e6b5bd 87.5%,#e4afb7 90.62%,#e1a8b1 93.75%,#dfa0aa 96.88%,#db97a2 100%)"></i><i style="background:linear-gradient(#fcfcfe 0%,#ffffff 3.125%,#fffefe 6.25%,#fefcfc 9.375%,#fdfafb 12.5%,#fdf9f9 15.62%,#fcf7f8 18.75%,#fcf5f6 21.88%,#fbf4f5 25%,#faf2f3 28.12%,#faf0f1 31.25%,#f9eef0 34.38%,#f8ecee 37.5%,#f8eaec 40.62%,#f7e7ea 43.75%,#f6e5e8 46.88%,#f5e2e5 50%,#f4e0e3 53.12%,#f3dde1 56.25%,#f2dade 59.38%,#f1d7db 62.5%,#f0d4d9 65.62%,#efd1d6 68.75%,#eecdd2 71.88%,#edc9cf 75%,#ebc5cb 78.12%,#eac1c7 81.25%,#e8bcc3 84.38%,#e6b6be 87.5%,#e4b0b8 90.62%,#e2a9b2 93.75%,#dfa1ab 96.88%,#dc98a3 100%)"></i><i style="background:linear-gradient(#f9fafd 0%,#fcfdfe 3.125%,#ffffff 6.25%,#fefdfd 9.375%,#fefcfc 12.5%,#fdfafa 15.62%,#fdf8f9 18.75%,#fcf7f7 21.88%,#fbf5f6 25%,#fbf3f4 28.12%,#faf1f2 31.25%,#faeff1 34.38%,#f9edef 37.5%,#f8ebed 40.62%,#f7e8eb 43.75%,#f6e6e9 46.88%,#f6e4e6 50%,#f5e1e4 53.12%,#f4dee2 56.25%,#f3dcdf 59.38%,#f2d9dd 62.5%,#f1d5da 65.62%,#f0d2d7 68.75%,#eeced3 71.88%,#edcad0 75%,#ecc6cc 78.12%,#eac2c8 81.25%,#e8bdc4 84.38%,#e6b7bf 87.5%,#e4b1b9 90.62%,#e2aab3 93.75%,#dfa2ac 96.88%,#dc99a4 100%)"></i><i style="background:linear-gradient(#f7f7fc 0%,#fafafd 3.125%,#fdfdfe 6.25%,#fffefe 9.375%,#fefdfd 12.5%,#fefbfc 15.62%,#fdf9fa 18.75%,#fcf8f8 21.88%,#fcf6f7 25%,#fbf4f5 28.12%,#fbf2f3 31.25%,#faf0f2 34.38%,#f9eef0 37.5%,#f8ecee 40.62%,#f8eaec 43.75%,#f7e7ea 46.88%,#f6e5e8 50%,#f5e2e5 53.12%,#f4e0e3 56.25%,#f3dde0 59.38%,#f2dade 62.5%,#f1d6db 65.62%,#f0d3d8 68.75%,#efcfd4 71.88%,#edccd1 75%,#ecc7cd 78.12%,#eac3c9 81.25%,#e9bec5 84.38%,#e7b8c0 87.5%,#e5b2ba 90.62%,#e2abb4 93.75%,#e0a4ad 96.88%,#dd9aa5 100%)"></i><i style="background:linear-gradient(#f4f5fc 0%,#f7f8fd 3.125%,#fbfbfe 6.25%,#fefeff 9.375%,#fffefe 12.5%,#fefcfd 15.62%,#fdfbfb 18.75%,#fdf9f9 21.88%,#fcf7f8 25%,#fcf5f6 28.12%,#fbf3f4 31.25%,#faf1f3 34.38%,#faeff1 37.5%,#f9edef 40.62%,#f8ebed 43.75%,#f7e8eb 46.88%,#f6e6e9 50%,#f6e3e6 53.12%,#f5e1e4 56.25%,#f4dee1 59.38%,#f3dbdf 62.5%,#f2d8dc 65.62%,#f0d4d9 68.75%,#efd1d5 71.88%,#eecdd2 75%,#ecc9ce 78.12%,#ebc4ca 81.25%,#e9bfc6 84.38%,#e7bac1 87.5%,#e5b3bb 90.62%,#e3adb5 93.75%,#e0a5ae 96.88%,#dd9ca6 100%)"></i><i style="background:linear-gradient(#f2f3fb 0%,#f5f6fc 3.125%,#f8f9fd 6.25%,#fcfcfe 9.375%,#ffffff 12.5%,#fefdfe 15.62%,#fefcfc 18.75%,#fdfafa 21.88%,#fdf8f9 25%,#fcf6f7 28.12%,#fbf4f5 31.25%,#fbf2f4 34.38%,#faf0f2 37.5%,#f9eef0 40.62%,#f8ecee 43.75%,#f8e9ec 46.88%,#f7e7ea 50%,#f6e4e7 53.12%,#f5e2e5 56.25%,#f4dfe2 59.38%,#f3dce0 62.5%,#f2d9dd 65.62%,#f1d5da 68.75%,#f0d2d6 71.88%,#eeced3 75%,#edcacf 78.12%,#ebc5cb 81.25%,#eac0c7 84.38%,#e8bbc2 87.5%,#e6b5bc 90.62%,#e3aeb6 93.75%,#e1a6af 96.88%,#dd9da7 100%)"></i><i style="background:linear-gradient(#eff1fa 0%,#f3f4fb 3.125%,#f6f7fc 6.25%,#f9fafd 9.375%,#fdfdfe 12.5%,#fffefe 15.62%,#fefdfd 18.75%,#fefbfb 21.88%,#fdf9fa 25%,#fcf7f8 28.12%,#fcf5f6 31.25%,#fbf3f5 34.38%,#faf1f3 37.5%,#faeff1 40.62%,#f9edef 43.75%,#f8ebed 46.88%,#f7e8eb 50%,#f6e6e8 53.12%,#f5e3e6 56.25%,#f4e0e3 59.38%,#f3dde1 62.5%,#f2dade 65.62%,#f1d6db 68.75%,#f0d3d7 71.88%,#efcfd4 75%,#edcbd0 78.12%,#ecc6cc 81.25%,#eac1c8 84.38%,#e8bcc3 87.5%,#e6b6bd 90.62%,#e4afb7 93.75%,#e1a7b0 96.88%,#de9ea8 100%)"></i><i style="background:linear-gradient(#edeff9 0%,#f0f2fa 3.125%,#f3f4fb 6.25%,#f7f8fc 9.375%,#fafbfd 12.5%,#fefeff 15.62%,#fffefe 18.75%,#fefcfc 21.88%,#fdfafb 25%,#fdf8f9 28.12%,#fcf7f7 31.25%,#fbf5f6 34.38%,#fbf2f4 37.5%,#faf0f2 40.62%,#f9eef0 43.75%,#f8ecee 46.88%,#f8e9eb 50%,#f7e7e9 53.12%,#f6e4e7 56.25%,#f5e1e4 59.38%,#f4dee2 62.5%,#f3dbdf 65.62%,#f1d8dc 68.75%,#f0d4d8 71.88%,#efd0d5 75%,#edccd1 78.12%,#ecc7cd 81.25%,#eac2c9 84.38%,#e8bdc4 87.5%,#e6b7be 90.62%,#e4b0b8 93.75%,#e1a8b1 96.88%,#de9fa9 100%)"></i><i style="background:linear-gradient(#ebecf8 0%,#eeeffa 3.125%,#f1f2fb 6.25%,#f4f5fc 9.375%,#f8f9fd 12.5%,#fbfcfe 15.62%,#ffffff 18.75%,#fefdfd 21.88%,#fefbfc 25%,#fdfafa 28.12%,#fcf8f8 31.25%,#fcf6f7 34.38%,#fbf4f5 37.5%,#faf1f3 40.62%,#faeff1 43.75%,#f9edef 46.88%,#f8eaec 50%,#f7e8ea 53.12%,#f6e5e8 56.25%,#f5e2e5 59.38%,#f4dfe2 62.5%,#f3dce0 65.62%,#f2d9dd 68.75%,#f1d5d9 71.88%,#efd1d6 75%,#eecdd2 78.12%,#ecc8ce 81.25%,#ebc3ca 84.38%,#e9bec5 87.5%,#e7b8bf 90.62%,#e4b1b9 93.75%,#e2a9b2 96.88%,#dea0aa 100%)"></i><i style="background:linear-gradient(#e8eaf8 0%,#ebedf9 3.125%,#eff0fa 6.25%,#f2f3fb 9.375%,#f6f6fc 12.5%,#f9fafd 15.62%,#fdfdfe 18.75%,#fffefe 21.88%,#fefcfd 25%,#fdfbfb 28.12%,#fdf9f9 31.25%,#fcf7f8 34.38%,#fbf5f6 37.5%,#fbf2f4 40.62%,#faf0f2 43.75%,#f9eef0 46.88%,#f8ebed 50%,#f7e9eb 53.12%,#f6e6e9 56.25%,#f6e3e6 59.38%,#f4e0e3 62.5%,#f3dde1 65.62%,#f2dade 68.75%,#f1d6da 71.88%,#f0d2d7 75%,#eeced3 78.12%,#edc9cf 81.25%,#ebc4cb 84.38%,#e9bfc6 87.5%,#e7b9c0 90.62%,#e5b2ba 93.75%,#e2aab3 96.88%,#dfa1ab 100%)"></i><i style="background:linear-gradient(#e6e8f7 0%,#e9ebf8 3.125%,#eceef9 6.25%,#f0f1fa 9.375%,#f3f4fb 12.5%,#f7f8fc 15.62%,#fbfbfe 18.75%,#fefeff 21.88%,#fefefe 25%,#fefcfc 28.12%,#fdfafa 31.25%,#fdf8f8 34.38%,#fcf6f7 37.5%,#fbf3f5 40.62%,#faf1f3 43.75%,#f9eff1 46.88%,#f9ecee 50%,#f8eaec 53.12%,#f7e7ea 56.25%,#f6e4e7 59.38%,#f5e1e4 62.5%,#f4dee2 65.62%,#f3dbde 68.75%,#f1d7db 71.88%,#f0d3d8 75%,#efcfd4 78.12%,#edcad0 81.25%,#ebc6cc 84.38%,#e9c0c7 87.5%,#e7bac1 90.62%,#e5b3bb 93.75%,#e2abb4 96.88%,#dfa2ac 100%)"></i><i style="background:linear-gradient(#e4e6f6 0%,#e7e9f7 3.125%,#eaecf8 6.25%,#eeeff9 9.375%,#f1f2fb 12.5%,#f5f6fc 15.62%,#f8f9fd 18.75%,#fcfcfe 21.88%,#ffffff 25%,#fefdfd 28.12%,#fefbfb 31.25%,#fdf9f9 34.38%,#fcf7f8 37.5%,#fbf5f6 40.62%,#fbf2f4 43.75%,#faf0f1 46.88%,#f9edef 50%,#f8ebed 53.12%,#f7e8eb 56.25%,#f6e5e8 59.38%,#f5e2e5 62.5%,#f4dfe2 65.62%,#f3dcdf 68.75%,#f2d8dc 71.88%,#f0d4d9 75%,#efd0d5 78.12%,#edccd1 81.25%,#ecc7cc 84.38%,#eac1c8 87.5%,#e8bbc2 90.62%,#e5b4bc 93.75%,#e3acb5 96.88%,#e0a3ad 100%)"></i><i style="background:linear-gradient(#e1e4f6 0%,#e5e7f7 3.125%,#e8eaf8 6.25%,#ebedf9 9.375%,#eff0fa 12.5%,#f2f3fb 15.62%,#f6f7fc 18.75%,#fafafd 21.88%,#fefeff 25%,#fffefe 28.12%,#fefcfc 31.25%,#fdfafa 34.38%,#fdf8f8 37.5%,#fcf6f7 40.62%,#fbf3f5 43.75%,#faf1f2 46.88%,#f9eff0 50%,#f8ecee 53.12%,#f8e9eb 56.25%,#f7e6e9 59.38%,#f6e3e6 62.5%,#f4e0e3 65.62%,#f3dde0 68.75%,#f2d9dd 71.88%,#f1d5da 75%,#efd1d6 78.12%,#eecdd2 81.25%,#ecc8cd 84.38%,#eac2c8 87.5%,#e8bcc3 90.62%,#e6b5bd 93.75%,#e3adb6 96.88%,#e0a4ae 100%)"></i><i style="background:linear-gradient(#dfe2f5 0%,#e2e5f6 3.125%,#e6e8f7 6.25%,#e9ebf8 9.375%,#eceef9 12.5%,#f0f1fa 15.62%,#f4f5fb 18.75%,#f8f8fd 21.88%,#fbfcfe 25%,#ffffff 28.12%,#fefdfd 31.25%,#fefbfb 34.38%,#fdf9f9 37.5%,#fcf7f7 40.62%,#fbf4f5 43.75%,#fbf2f3 46.88%,#faf0f1 50%,#f9edef 53.12%,#f8eaec 56.25%,#f7e7ea 59.38%,#f6e4e7 62.5%,#f5e1e4 65.62%,#f4dee1 68.75%,#f2dade 71.88%,#f1d6db 75%,#f0d2d7 78.12%,#eeced3 81.25%,#ecc9ce 84.38%,#ebc3c9 87.5%,#e8bdc4 90.62%,#e6b6be 93.75%,#e3aeb7 96.88%,#e0a5ae 100%)"></i><i style="background:linear-gradient(#dde0f4 0%,#e0e3f5 3.125%,#e3e6f6 6.25%,#e7e9f7 9.375%,#eaecf8 12.5%,#eeeffa 15.62%,#f2f3fb 18.75%,#f5f6fc 21.88%,#f9fafd 25%,#fdfdfe 28.12%,#fffefe 31.25%,#fefcfc 34.38%,#fdfafa 37.5%,#fcf8f8 40.62%,#fcf5f6 43.75%,#fbf3f4 46.88%,#faf1f2 50%,#f9eef0 53.12%,#f8ebed 56.25%,#f7e8eb 59.38%,#f6e5e8 62.5%,#f5e2e5 65.62%,#f4dfe2 68.75%,#f3dbdf 71.88%,#f1d7db 75%,#f0d3d8 78.12%,#eecfd4 81.25%,#edcacf 84.38%,#ebc4ca 87.5%,#e9bec5 90.62%,#e6b7bf 93.75%,#e4afb8 96.88%,#e1a6af 100%)"></i><i style="background:linear-gradient(#dbdef3 0%,#dee1f4 3.125%,#e1e4f5 6.25%,#e5e7f7 9.375%,#e8eaf8 12.5%,#ecedf9 15.62%,#eff1fa 18.75%,#f3f4fb 21.88%,#f7f8fc 25%,#fbfbfe 28.12%,#ffffff 31.25%,#fefdfd 34.38%,#fefbfb 37.5%,#fdf9f9 40.62%,#fcf6f7 43.75%,#fbf4f5 46.88%,#faf2f3 50%,#faeff1 53.12%,#f9ecee 56.25%,#f8e9ec 59.38%,#f7e6e9 62.5%,#f6e3e6 65.62%,#f4e0e3 68.75%,#f3dce0 71.88%,#f2d8dc 75%,#f0d4d9 78.12%,#efd0d5 81.25%,#edcbd0 84.38%,#ebc5cb 87.5%,#e9bfc6 90.62%,#e7b8c0 93.75%,#e4b0b9 96.88%,#e1a7b0 100%)"></i><i style="background:linear-gradient(#d9dcf3 0%,#dcdff4 3.125%,#dfe2f5 6.25%,#e2e5f6 9.375%,#e6e8f7 12.5%,#e9ebf8 15.62%,#edeff9 18.75%,#f1f2fb 21.88%,#f5f6fc 25%,#f9f9fd 28.12%,#fdfdfe 31.25%,#fffefe 34.38%,#fefcfc 37.5%,#fdfafa 40.62%,#fcf7f8 43.75%,#fcf5f6 46.88%,#fbf3f4 50%,#faf0f2 53.12%,#f9edef 56.25%,#f8eaed 59.38%,#f7e7ea 62.5%,#f6e4e7 65.62%,#f5e1e4 68.75%,#f3dde1 71.88%,#f2d9dd 75%,#f1d5da 78.12%,#efd1d5 81.25%,#edccd1 84.38%,#ecc6cc 87.5%,#e9c0c7 90.62%,#e7b9c1 93.75%,#e4b1b9 96.88%,#e1a8b1 100%)"></i><i style="background:linear-gradient(#d6daf2 0%,#daddf3 3.125%,#dde0f4 6.25%,#e0e3f5 9.375%,#e4e6f6 12.5%,#e7e9f7 15.62%,#ebedf9 18.75%,#eff0fa 21.88%,#f3f4fb 25%,#f7f8fc 28.12%,#fbfbfe 31.25%,#ffffff 34.38%,#fefdfd 37.5%,#fdfbfb 40.62%,#fdf8f9 43.75%,#fcf6f7 46.88%,#fbf4f5 50%,#faf1f2 53.12%,#f9eef0 56.25%,#f8ebed 59.38%,#f7e8eb 62.5%,#f6e5e8 65.62%,#f5e2e5 68.75%,#f4dee2 71.88%,#f2dade 75%,#f1d6da 78.12%,#efd2d6 81.25%,#eecdd2 84.38%,#ecc7cd 87.5%,#eac1c8 90.62%,#e7bac1 93.75%,#e5b2ba 96.88%,#e2a9b2 100%)"></i><i style="background:linear-gradient(#d4d8f1 0%,#d8dbf2 3.125%,#dbdef3 6.25%,#dee1f4 9.375%,#e2e4f6 12.5%,#e5e8f7 15.62%,#e9ebf8 18.75%,#edeef9 21.88%,#f1f2fa 25%,#f5f6fc 28.12%,#f9f9fd 31.25%,#fdfdfe 34.38%,#fffefe 37.5%,#fefcfc 40.62%,#fdf9fa 43.75%,#fcf7f8 46.88%,#fbf5f6 50%,#fbf2f3 53.12%,#faeff1 56.25%,#f9ecee 59.38%,#f8e9ec 62.5%,#f7e6e9 65.62%,#f5e3e6 68.75%,#f4dfe2 71.88%,#f3dbdf 75%,#f1d7db 78.12%,#f0d3d7 81.25%,#eeced3 84.38%,#ecc8ce 87.5%,#eac2c8 90.62%,#e8bbc2 93.75%,#e5b3bb 96.88%,#e2aab3 100%)"></i><i style="background:linear-gradient(#d2d6f1 0%,#d5d9f2 3.125%,#d9dcf3 6.25%,#dcdff4 9.375%,#dfe2f5 12.5%,#e3e6f6 15.62%,#e7e9f7 18.75%,#ebecf8 21.88%,#eef0fa 25%,#f3f4fb 28.12%,#f7f8fc 31.25%,#fbfbfe 34.38%,#ffffff 37.5%,#fefdfd 40.62%,#fdfafb 43.75%,#fdf8f9 46.88%,#fcf5f6 50%,#fbf3f4 53.12%,#faf0f2 56.25%,#f9edef 59.38%,#f8eaec 62.5%,#f7e7ea 65.62%,#f6e4e7 68.75%,#f4e0e3 71.88%,#f3dce0 75%,#f2d8dc 78.12%,#f0d4d8 81.25%,#eecfd4 84.38%,#edc9cf 87.5%,#eac3c9 90.62%,#e8bcc3 93.75%,#e5b4bc 96.88%,#e2abb4 100%)"></i><i style="background:linear-gradient(#d0d4f0 0%,#d3d7f1 3.125%,#d7daf2 6.25%,#daddf3 9.375%,#dde0f4 12.5%,#e1e4f5 15.62%,#e5e7f7 18.75%,#e8ebf8 21.88%,#eceef9 25%,#f0f2fa 28.12%,#f5f6fc 31.25%,#f9fafd 34.38%,#fefeff 37.5%,#fefdfe 40.62%,#fefbfc 43.75%,#fdf9fa 46.88%,#fcf6f7 50%,#fbf4f5 53.12%,#faf1f3 56.25%,#f9eef0 59.38%,#f8ebed 62.5%,#f7e8ea 65.62%,#f6e5e7 68.75%,#f5e1e4 71.88%,#f3dde1 75%,#f2d9dd 78.12%,#f0d5d9 81.25%,#efd0d4 84.38%,#edcad0 87.5%,#ebc4ca 90.62%,#e8bdc4 93.75%,#e6b5bd 96.88%,#e3acb5 100%)"></i><i style="background:linear-gradient(#ced3ef 0%,#d1d5f0 3.125%,#d4d8f1 6.25%,#d8dbf2 9.375%,#dbdff4 12.5%,#dfe2f5 15.62%,#e3e5f6 18.75%,#e6e9f7 21.88%,#eaecf8 25%,#eef0fa 28.12%,#f3f4fb 31.25%,#f7f8fc 34.38%,#fbfcfe 37.5%,#fffeff 40.62%,#fefcfc 43.75%,#fdfafa 46.88%,#fcf7f8 50%,#fcf5f6 53.12%,#fbf2f3 56.25%,#faeff1 59.38%,#f9ecee 62.5%,#f7e9eb 65.62%,#f6e6e8 68.75%,#f5e2e5 71.88%,#f4dee2 75%,#f2dade 78.12%,#f1d5da 81.25%,#efd0d5 84.38%,#edcbd0 87.5%,#ebc5cb 90.62%,#e9bec5 93.75%,#e6b6be 96.88%,#e3adb6 100%)"></i><i style="background:linear-gradient(#ccd1ef 0%,#cfd4f0 3.125%,#d2d7f1 6.25%,#d6daf2 9.375%,#d9ddf3 12.5%,#dde0f4 15.62%,#e1e3f5 18.75%,#e4e7f6 21.88%,#e8eaf8 25%,#eceef9 28.12%,#f1f2fa 31.25%,#f5f6fc 34.38%,#f9fafd 37.5%,#fefeff 40.62%,#fefdfd 43.75%,#fefbfb 46.88%,#fdf8f9 50%,#fcf6f7 53.12%,#fbf3f4 56.25%,#faf0f2 59.38%,#f9edef 62.5%,#f8eaec 65.62%,#f7e7e9 68.75%,#f5e3e6 71.88%,#f4dfe2 75%,#f3dbdf 78.12%,#f1d6db 81.25%,#efd1d6 84.38%,#eeccd1 87.5%,#ebc6cc 90.62%,#e9bfc6 93.75%,#e6b7bf 96.88%,#e3aeb6 100%)"></i><i style="background:linear-gradient(#cacfee 0%,#cdd2ef 3.125%,#d0d5f0 6.25%,#d4d8f1 9.375%,#d7dbf2 12.5%,#dbdef3 15.62%,#dee1f5 18.75%,#e2e5f6 21.88%,#e6e8f7 25%,#eaecf8 28.12%,#eef0fa 31.25%,#f3f4fb 34.38%,#f7f8fd 37.5%,#fcfcfe 40.62%,#fffefe 43.75%,#fefcfc 46.88%,#fdf9fa 50%,#fcf7f8 53.12%,#fbf4f5 56.25%,#faf1f3 59.38%,#f9eef0 62.5%,#f8ebed 65.62%,#f7e8ea 68.75%,#f6e4e7 71.88%,#f4e0e3 75%,#f3dce0 78.12%,#f1d7db 81.25%,#f0d2d7 84.38%,#eecdd2 87.5%,#ecc7cd 90.62%,#e9c0c7 93.75%,#e7b8bf 96.88%,#e4afb7 100%)"></i><i style="background:linear-gradient(#c8cded 0%,#cbd0ee 3.125%,#ced3ef 6.25%,#d2d6f1 9.375%,#d5d9f2 12.5%,#d9dcf3 15.62%,#dce0f4 18.75%,#e0e3f5 21.88%,#e4e7f6 25%,#e8eaf8 28.12%,#eceef9 31.25%,#f1f2fa 34.38%,#f5f6fc 37.5%,#fafbfd 40.62%,#ffffff 43.75%,#fefdfd 46.88%,#fdfafb 50%,#fcf8f8 53.12%,#fcf5f6 56.25%,#fbf2f3 59.38%,#faeff1 62.5%,#f8ecee 65.62%,#f7e8eb 68.75%,#f6e5e8 71.88%,#f5e1e4 75%,#f3dde0 78.12%,#f2d8dc 81.25%,#f0d3d8 84.38%,#eeced3 87.5%,#ecc8cd 90.62%,#eac1c7 93.75%,#e7b9c0 96.88%,#e4b0b8 100%)"></i><i style="background:linear-gradient(#c6cbed 0%,#c9ceee 3.125%,#ccd1ef 6.25%,#d0d4f0 9.375%,#d3d7f1 12.5%,#d7daf2 15.62%,#dadef3 18.75%,#dee1f5 21.88%,#e2e5f6 25%,#e6e9f7 28.12%,#eaecf8 31.25%,#eff0fa 34.38%,#f3f4fb 37.5%,#f8f9fd 40.62%,#fdfdfe 43.75%,#fffefe 46.88%,#fefbfc 50%,#fdf9f9 53.12%,#fcf6f7 56.25%,#fbf3f4 59.38%,#faf0f2 62.5%,#f9edef 65.62%,#f8e9ec 68.75%,#f6e6e8 71.88%,#f5e2e5 75%,#f4dee1 78.12%,#f2d9dd 81.25%,#f0d4d9 84.38%,#eecfd4 87.5%,#ecc9ce 90.62%,#eac2c8 93.75%,#e7bac1 96.88%,#e4b1b9 100%)"></i><i style="background:linear-gradient(#c4c9ec 0%,#c7cced 3.125%,#cacfee 6.25%,#ced2ef 9.375%,#d1d5f0 12.5%,#d5d9f2 15.62%,#d8dcf3 18.75%,#dcdff4 21.88%,#e0e3f5 25%,#e4e7f6 28.12%,#e8ebf8 31.25%,#edeff9 34.38%,#f1f3fb 37.5%,#f6f7fc 40.62%,#fbfbfe 43.75%,#fffeff 46.88%,#fefcfc 50%,#fdf9fa 53.12%,#fcf7f8 56.25%,#fbf4f5 59.38%,#faf1f2 62.5%,#f9eeef 65.62%,#f8eaec 68.75%,#f7e7e9 71.88%,#f5e3e6 75%,#f4dfe2 78.12%,#f2dade 81.25%,#f1d5d9 84.38%,#efd0d5 87.5%,#edcacf 90.62%,#eac3c9 93.75%,#e8bbc2 96.88%,#e5b2ba 100%)"></i><i style="background:linear-gradient(#c2c8eb 0%,#c5caed 3.125%,#c8cdee 6.25%,#ccd0ef 9.375%,#cfd4f0 12.5%,#d3d7f1 15.62%,#d7daf2 18.75%,#dadef3 21.88%,#dee1f5 25%,#e2e5f6 28.12%,#e7e9f7 31.25%,#ebedf9 34.38%,#eff1fa 37.5%,#f4f5fc 40.62%,#f9fafd 43.75%,#fefeff 46.88%,#fefdfd 50%,#fdfafb 53.12%,#fcf8f8 56.25%,#fcf5f6 59.38%,#faf2f3 62.5%,#f9eff0 65.62%,#f8ebed 68.75%,#f7e8ea 71.88%,#f6e4e7 75%,#f4e0e3 78.12%,#f3dbdf 81.25%,#f1d6da 84.38%,#efd1d5 87.5%,#edcad0 90.62%,#ebc4ca 93.75%,#e8bcc3 96.88%,#e5b3ba 100%)"></i><i style="background:linear-gradient(#c0c6eb 0%,#c3c9ec 3.125%,#c6cced 6.25%,#cacfee 9.375%,#cdd2ef 12.5%,#d1d5f0 15.62%,#d5d8f1 18.75%,#d8dcf3 21.88%,#dcdff4 25%,#e0e3f5 28.12%,#e5e7f7 31.25%,#e9ebf8 34.38%,#edeff9 37.5%,#f2f3fb 40.62%,#f7f8fc 43.75%,#fcfdfe 46.88%,#fffefe 50%,#fefbfc 53.12%,#fdf9f9 56.25%,#fcf6f7 59.38%,#fbf3f4 62.5%,#faeff1 65.62%,#f9ecee 68.75%,#f7e8eb 71.88%,#f6e5e7 75%,#f5e0e4 78.12%,#f3dce0 81.25%,#f1d7db 84.38%,#efd1d6 87.5%,#edcbd1 90.62%,#ebc5cb 93.75%,#e8bdc4 96.88%,#e5b3bb 100%)"></i><i style="background:linear-gradient(#bec4ea 0%,#c1c7eb 3.125%,#c5caec 6.25%,#c8cded 9.375%,#cbd0ee 12.5%,#cfd3f0 15.62%,#d3d7f1 18.75%,#d6daf2 21.88%,#dadef3 25%,#dee1f5 28.12%,#e3e5f6 31.25%,#e7e9f7 34.38%,#ecedf9 37.5%,#f0f2fa 40.62%,#f5f6fc 43.75%,#fafbfe 46.88%,#ffffff 50%,#fefcfc 53.12%,#fdf9fa 56.25%,#fcf7f7 59.38%,#fbf4f5 62.5%,#faf0f2 65.62%,#f9edef 68.75%,#f8e9ec 71.88%,#f6e5e8 75%,#f5e1e4 78.12%,#f3dde0 81.25%,#f2d8dc 84.38%,#f0d2d7 87.5%,#eeccd2 90.62%,#ebc5cb 93.75%,#e9bec4 96.88%,#e5b4bc 100%)"></i><i style="background:linear-gradient(#bcc2ea 0%,#bfc5eb 3.125%,#c3c8ec 6.25%,#c6cbed 9.375%,#c9ceee 12.5%,#cdd2ef 15.62%,#d1d5f0 18.75%,#d5d8f1 21.88%,#d8dcf3 25%,#dde0f4 28.12%,#e1e3f5 31.25%,#e5e7f7 34.38%,#eaecf8 37.5%,#eef0fa 40.62%,#f3f4fb 43.75%,#f8f9fd 46.88%,#fefeff 50%,#fefdfd 53.12%,#fdfafb 56.25%,#fcf7f8 59.38%,#fbf4f6 62.5%,#faf1f3 65.62%,#f9eef0 68.75%,#f8eaec 71.88%,#f7e6e9 75%,#f5e2e5 78.12%,#f4dee1 81.25%,#f2d9dd 84.38%,#f0d3d8 87.5%,#eecdd2 90.62%,#ecc6cc 93.75%,#e9bec5 96.88%,#e6b5bd 100%)"></i><i style="background:linear-gradient(#bac1e9 0%,#bdc3ea 3.125%,#c1c6eb 6.25%,#c4c9ec 9.375%,#c8cded 12.5%,#cbd0ee 15.62%,#cfd3f0 18.75%,#d3d7f1 21.88%,#d7daf2 25%,#dbdef3 28.12%,#dfe2f5 31.25%,#e3e6f6 34.38%,#e8eaf8 37.5%,#eceef9 40.62%,#f1f3fb 43.75%,#f7f7fc 46.88%,#fcfcfe 50%,#fffefe 53.12%,#fefbfc 56.25%,#fdf8f9 59.38%,#fcf5f6 62.5%,#fbf2f3 65.62%,#f9eff0 68.75%,#f8ebed 71.88%,#f7e7ea 75%,#f5e3e6 78.12%,#f4dee2 81.25%,#f2dadd 84.38%,#f0d4d9 87.5%,#eeced3 90.62%,#ecc7cd 93.75%,#e9bfc6 96.88%,#e6b6be 100%)"></i><i style="background:linear-gradient(#b8bfe8 0%,#bcc2e9 3.125%,#bfc5ea 6.25%,#c2c8ec 9.375%,#c6cbed 12.5%,#c9ceee 15.62%,#cdd2ef 18.75%,#d1d5f0 21.88%,#d5d9f1 25%,#d9dcf3 28.12%,#dde0f4 31.25%,#e1e4f6 34.38%,#e6e8f7 37.5%,#ebecf8 40.62%,#eff1fa 43.75%,#f5f6fc 46.88%,#fafafd 50%,#ffffff 53.12%,#fefcfc 56.25%,#fdf9fa 59.38%,#fcf6f7 62.5%,#fbf3f4 65.62%,#faf0f1 68.75%,#f8ecee 71.88%,#f7e8ea 75%,#f6e4e7 78.12%,#f4dfe3 81.25%,#f2dade 84.38%,#f1d5d9 87.5%,#efcfd4 90.62%,#ecc8ce 93.75%,#eac0c7 96.88%,#e6b7be 100%)"></i><i style="background:linear-gradient(#b7bde8 0%,#bac0e9 3.125%,#bdc3ea 6.25%,#c0c6eb 9.375%,#c4c9ec 12.5%,#c7cced 15.62%,#cbd0ee 18.75%,#cfd3f0 21.88%,#d3d7f1 25%,#d7dbf2 28.12%,#dbdef4 31.25%,#dfe2f5 34.38%,#e4e6f6 37.5%,#e9ebf8 40.62%,#eeeff9 43.75%,#f3f4fb 46.88%,#f8f9fd 50%,#fefeff 53.12%,#fefdfd 56.25%,#fdfafb 59.38%,#fcf7f8 62.5%,#fbf4f5 65.62%,#faf0f2 68.75%,#f9edef 71.88%,#f7e9eb 75%,#f6e5e7 78.12%,#f4e0e3 81.25%,#f3dbdf 84.38%,#f1d6da 87.5%,#efd0d5 90.62%,#ecc9ce 93.75%,#eac1c7 96.88%,#e7b8bf 100%)"></i><i style="background:linear-gradient(#b5bbe7 0%,#b8bee8 3.125%,#bbc1e9 6.25%,#bec4ea 9.375%,#c2c8eb 12.5%,#c6cbed 15.62%,#c9ceee 18.75%,#cdd2ef 21.88%,#d1d5f0 25%,#d5d9f2 28.12%,#d9ddf3 31.25%,#dee1f4 34.38%,#e2e5f6 37.5%,#e7e9f7 40.62%,#eceef9 43.75%,#f1f2fa 46.88%,#f6f7fc 50%,#fcfcfe 53.12%,#fffefe 56.25%,#fefbfb 59.38%,#fdf8f9 62.5%,#fbf5f6 65.62%,#faf1f3 68.75%,#f9eeef 71.88%,#f8eaec 75%,#f6e6e8 78.12%,#f5e1e4 81.25%,#f3dce0 84.38%,#f1d7db 87.5%,#efd1d5 90.62%,#edcacf 93.75%,#eac2c8 96.88%,#e7b9c0 100%)"></i><i style="background:linear-gradient(#b3bae7 0%,#b6bde8 3.125%,#b9c0e9 6.25%,#bdc3ea 9.375%,#c0c6eb 12.5%,#c4c9ec 15.62%,#c7cced 18.75%,#cbd0ee 21.88%,#cfd3f0 25%,#d3d7f1 28.12%,#d7dbf2 31.25%,#dcdff4 34.38%,#e0e3f5 37.5%,#e5e7f7 40.62%,#eaecf8 43.75%,#eff1fa 46.88%,#f4f5fc 50%,#fafbfd 53.12%,#ffffff 56.25%,#fefcfc 59.38%,#fdf9f9 62.5%,#fcf6f6 65.62%,#fbf2f3 68.75%,#f9eff0 71.88%,#f8ebed 75%,#f7e6e9 78.12%,#f5e2e5 81.25%,#f3dde0 84.38%,#f1d7dc 87.5%,#efd1d6 90.62%,#edcbd0 93.75%,#eac3c9 96.88%,#e7b9c1 100%)"></i><i style="background:linear-gradient(#b1b8e6 0%,#b4bbe7 3.125%,#b7bee8 6.25%,#bbc1e9 9.375%,#bec4ea 12.5%,#c2c7eb 15.62%,#c6cbed 18.75%,#c9ceee 21.88%,#cdd2ef 25%,#d1d6f0 28.12%,#d6d9f2 31.25%,#daddf3 34.38%,#dee1f5 37.5%,#e3e6f6 40.62%,#e8eaf8 43.75%,#edeff9 46.88%,#f3f4fb 50%,#f8f9fd 53.12%,#fefeff 56.25%,#fefdfd 59.38%,#fdfafa 62.5%,#fcf6f7 65.62%,#fbf3f4 68.75%,#faeff1 71.88%,#f8ebed 75%,#f7e7ea 78.12%,#f5e3e6 81.25%,#f4dee1 84.38%,#f2d8dc 87.5%,#f0d2d7 90.62%,#edcbd1 93.75%,#ebc4ca 96.88%,#e8bac1 100%)"></i><i style="background:linear-gradient(#afb6e5 0%,#b2b9e6 3.125%,#b6bce8 6.25%,#b9bfe9 9.375%,#bcc3ea 12.5%,#c0c6eb 15.62%,#c4c9ec 18.75%,#c8cded 21.88%,#cbd0ef 25%,#d0d4f0 28.12%,#d4d8f1 31.25%,#d8dcf3 34.38%,#dde0f4 37.5%,#e1e4f6 40.62%,#e6e9f7 43.75%,#ebedf9 46.88%,#f1f2fa 50%,#f6f7fc 53.12%,#fcfdfe 56.25%,#fefdfe 59.38%,#fdfafb 62.5%,#fcf7f8 65.62%,#fbf4f5 68.75%,#faf0f2 71.88%,#f9ecee 75%,#f7e8ea 78.12%,#f6e4e6 81.25%,#f4dfe2 84.38%,#f2d9dd 87.5%,#f0d3d8 90.62%,#eeccd1 93.75%,#ebc4ca 96.88%,#e8bbc2 100%)"></i><i style="background:linear-gradient(#adb5e5 0%,#b1b8e6 3.125%,#b4bbe7 6.25%,#b7bee8 9.375%,#bbc1e9 12.5%,#bec4ea 15.62%,#c2c8eb 18.75%,#c6cbed 21.88%,#cacfee 25%,#ced2ef 28.12%,#d2d6f1 31.25%,#d6daf2 34.38%,#dbdef3 37.5%,#e0e2f5 40.62%,#e4e7f7 43.75%,#eaecf8 46.88%,#eff0fa 50%,#f5f6fc 53.12%,#fbfbfe 56.25%,#fffefe 59.38%,#fefbfc 62.5%,#fdf8f9 65.62%,#fbf5f6 68.75%,#faf1f2 71.88%,#f9edef 75%,#f7e9eb 78.12%,#f6e4e7 81.25%,#f4dfe3 84.38%,#f2dade 87.5%,#f0d4d8 90.62%,#eecdd2 93.75%,#ebc5cb 96.88%,#e8bcc3 100%)"></i><i style="background:linear-gradient(#acb3e4 0%,#afb6e5 3.125%,#b2b9e6 6.25%,#b5bce7 9.375%,#b9bfe9 12.5%,#bcc3ea 15.62%,#c0c6eb 18.75%,#c4c9ec 21.88%,#c8cded 25%,#ccd1ef 28.12%,#d0d4f0 31.25%,#d5d8f1 34.38%,#d9ddf3 37.5%,#dee1f4 40.62%,#e3e5f6 43.75%,#e8eaf8 46.88%,#edeff9 50%,#f3f4fb 53.12%,#f9f9fd 56.25%,#ffffff 59.38%,#fefcfc 62.5%,#fdf9f9 65.62%,#fcf5f6 68.75%,#faf2f3 71.88%,#f9eef0 75%,#f8eaec 78.12%,#f6e5e8 81.25%,#f4e0e3 84.38%,#f3dbdf 87.5%,#f1d5d9 90.62%,#eeced3 93.75%,#ecc6cc 96.88%,#e8bdc4 100%)"></i><i style="background:linear-gradient(#aab2e4 0%,#adb5e5 3.125%,#b0b8e6 6.25%,#b4bbe7 9.375%,#b7bee8 12.5%,#bbc1e9 15.62%,#bec4ea 18.75%,#c2c8ec 21.88%,#c6cbed 25%,#cacfee 28.12%,#ced3ef 31.25%,#d3d7f1 34.38%,#d7dbf2 37.5%,#dcdff4 40.62%,#e1e4f5 43.75%,#e6e8f7 46.88%,#ebedf9 50%,#f1f2fb 53.12%,#f7f8fc 56.25%,#fdfdfe 59.38%,#fefdfd 62.5%,#fdfafa 65.62%,#fcf6f7 68.75%,#fbf3f4 71.88%,#f9eff0 75%,#f8ebed 78.12%,#f6e6e9 81.25%,#f5e1e4 84.38%,#f3dcdf 87.5%,#f1d6da 90.62%,#eecfd4 93.75%,#ecc7cd 96.88%,#e9bec4 100%)"></i><i style="background:linear-gradient(#a8b0e3 0%,#abb3e4 3.125%,#afb6e5 6.25%,#b2b9e6 9.375%,#b5bce7 12.5%,#b9bfe9 15.62%,#bdc3ea 18.75%,#c0c6eb 21.88%,#c4caec 25%,#c8cdee 28.12%,#cdd1ef 31.25%,#d1d5f0 34.38%,#d6d9f2 37.5%,#dadef3 40.62%,#dfe2f5 43.75%,#e4e7f6 46.88%,#eaecf8 50%,#eff1fa 53.12%,#f5f6fc 56.25%,#fbfcfe 59.38%,#fffefe 62.5%,#fdfafb 65.62%,#fcf7f8 68.75%,#fbf3f5 71.88%,#faf0f1 75%,#f8ebed 78.12%,#f7e7e9 81.25%,#f5e2e5 84.38%,#f3dce0 87.5%,#f1d6db 90.62%,#efcfd4 93.75%,#ecc8cd 96.88%,#e9bec5 100%)"></i><i style="background:linear-gradient(#a6aee3 0%,#aab1e4 3.125%,#adb4e5 6.25%,#b0b7e6 9.375%,#b4bbe7 12.5%,#b7bee8 15.62%,#bbc1e9 18.75%,#bfc5ea 21.88%,#c3c8ec 25%,#c7cced 28.12%,#cbd0ee 31.25%,#cfd4f0 34.38%,#d4d8f1 37.5%,#d9dcf3 40.62%,#dde1f4 43.75%,#e3e5f6 46.88%,#e8eaf8 50%,#eeeff9 53.12%,#f3f5fb 56.25%,#fafafd 59.38%,#fffefe 62.5%,#fefbfc 65.62%,#fdf8f9 68.75%,#fbf4f5 71.88%,#faf0f2 75%,#f9ecee 78.12%,#f7e8ea 81.25%,#f5e3e6 84.38%,#f3dde1 87.5%,#f1d7db 90.62%,#efd0d5 93.75%,#ecc8ce 96.88%,#e9bfc6 100%)"></i><i style="background:linear-gradient(#a5ade2 0%,#a8b0e3 3.125%,#abb3e4 6.25%,#aeb6e5 9.375%,#b2b9e6 12.5%,#b5bce7 15.62%,#b9c0e9 18.75%,#bdc3ea 21.88%,#c1c7eb 25%,#c5caec 28.12%,#c9ceee 31.25%,#ced2ef 34.38%,#d2d6f1 37.5%,#d7daf2 40.62%,#dcdff4 43.75%,#e1e4f5 46.88%,#e6e8f7 50%,#eceef9 53.12%,#f2f3fb 56.25%,#f8f9fd 59.38%,#ffffff 62.5%,#fefcfc 65.62%,#fdf9f9 68.75%,#fcf5f6 71.88%,#faf1f3 75%,#f9edef 78.12%,#f7e8eb 81.25%,#f6e3e6 84.38%,#f4dee1 87.5%,#f2d8dc 90.62%,#efd1d6 93.75%,#edc9cf 96.88%,#e9c0c7 100%)"></i><i style="background:linear-gradient(#a3abe2 0%,#a6aee3 3.125%,#a9b1e4 6.25%,#adb4e5 9.375%,#b0b7e6 12.5%,#b4bbe7 15.62%,#b7bee8 18.75%,#bbc1e9 21.88%,#bfc5eb 25%,#c3c9ec 28.12%,#c7cded 31.25%,#ccd1ef 34.38%,#d0d5f0 37.5%,#d5d9f2 40.62%,#daddf3 43.75%,#dfe2f5 46.88%,#e5e7f7 50%,#eaecf8 53.12%,#f0f1fa 56.25%,#f6f7fc 59.38%,#fdfdfe 62.5%,#fefdfd 65.62%,#fdf9fa 68.75%,#fcf6f7 71.88%,#fbf2f3 75%,#f9eef0 78.12%,#f8e9eb 81.25%,#f6e4e7 84.38%,#f4dfe2 87.5%,#f2d9dd 90.62%,#f0d2d7 93.75%,#edcacf 96.88%,#eac1c7 100%)"></i><i style="background:linear-gradient(#a1aae1 0%,#a4ade2 3.125%,#a8b0e3 6.25%,#abb3e4 9.375%,#aeb6e5 12.5%,#b2b9e6 15.62%,#b6bce8 18.75%,#bac0e9 21.88%,#bdc3ea 25%,#c2c7eb 28.12%,#c6cbed 31.25%,#cacfee 34.38%,#cfd3f0 37.5%,#d3d7f1 40.62%,#d8dcf3 43.75%,#dde0f4 46.88%,#e3e5f6 50%,#e8eaf8 53.12%,#eef0fa 56.25%,#f5f6fc 59.38%,#fbfbfe 62.5%,#fffefe 65.62%,#fdfafb 68.75%,#fcf7f7 71.88%,#fbf3f4 75%,#f9eff0 78.12%,#f8eaec 81.25%,#f6e5e8 84.38%,#f4e0e3 87.5%,#f2d9dd 90.62%,#f0d3d7 93.75%,#edcbd0 96.88%,#eac2c8 100%)"></i><i style="background:linear-gradient(#a0a8e0 0%,#a3abe1 3.125%,#a6aee3 6.25%,#a9b1e4 9.375%,#adb4e5 12.5%,#b0b8e6 15.62%,#b4bbe7 18.75%,#b8bee8 21.88%,#bcc2ea 25%,#c0c6eb 28.12%,#c4c9ec 31.25%,#c8cdee 34.38%,#cdd2ef 37.5%,#d2d6f1 40.62%,#d7daf2 43.75%,#dcdff4 46.88%,#e1e4f5 50%,#e7e9f7 53.12%,#edeef9 56.25%,#f3f4fb 59.38%,#f9fafd 62.5%,#fffefe 65.62%,#fefbfb 68.75%,#fcf7f8 71.88%,#fbf3f5 75%,#faeff1 78.12%,#f8ebed 81.25%,#f6e6e8 84.38%,#f5e0e4 87.5%,#f2dade 90.62%,#f0d3d8 93.75%,#edccd1 96.88%,#eac2c9 100%)"></i><i style="background:linear-gradient(#9ea7e0 0%,#a1aae1 3.125%,#a4ade2 6.25%,#a8b0e3 9.375%,#abb3e4 12.5%,#afb6e5 15.62%,#b2b9e6 18.75%,#b6bde8 21.88%,#bac0e9 25%,#bec4ea 28.12%,#c2c8ec 31.25%,#c7cced 34.38%,#cbd0ee 37.5%,#d0d4f0 40.62%,#d5d9f2 43.75%,#daddf3 46.88%,#dfe2f5 50%,#e5e7f7 53.12%,#ebedf9 56.25%,#f1f2fb 59.38%,#f8f8fd 62.5%,#ffffff 65.62%,#fefcfc 68.75%,#fdf8f9 71.88%,#fbf4f5 75%,#faf0f2 78.12%,#f8ecee 81.25%,#f7e7e9 84.38%,#f5e1e4 87.5%,#f3dbdf 90.62%,#f0d4d9 93.75%,#eeccd2 96.88%,#ebc3c9 100%)"></i><i style="background:linear-gradient(#9ca5df 0%,#9fa8e0 3.125%,#a3abe1 6.25%,#a6aee3 9.375%,#a9b1e4 12.5%,#adb5e5 15.62%,#b1b8e6 18.75%,#b5bbe7 21.88%,#b8bfe8 25%,#bdc3ea 28.12%,#c1c6eb 31.25%,#c5caec 34.38%,#cacfee 37.5%,#ced3ef 40.62%,#d3d7f1 43.75%,#d8dcf3 46.88%,#dee1f4 50%,#e3e6f6 53.12%,#e9ebf8 56.25%,#f0f1fa 59.38%,#f6f7fc 62.5%,#fdfdfe 65.62%,#fefcfd 68.75%,#fdf9fa 71.88%,#fcf5f6 75%,#faf1f2 78.12%,#f9ecee 81.25%,#f7e7ea 84.38%,#f5e2e5 87.5%,#f3dcdf 90.62%,#f1d5d9 93.75%,#eecdd2 96.88%,#ebc4ca 100%)"></i><i style="background:linear-gradient(#9ba4df 0%,#9ea7e0 3.125%,#a1aae1 6.25%,#a4ade2 9.375%,#a8b0e3 12.5%,#abb3e4 15.62%,#afb6e5 18.75%,#b3bae7 21.88%,#b7bde8 25%,#bbc1e9 28.12%,#bfc5eb 31.25%,#c3c9ec 34.38%,#c8cded 37.5%,#cdd1ef 40.62%,#d2d6f0 43.75%,#d7daf2 46.88%,#dcdff4 50%,#e2e4f6 53.12%,#e8eaf8 56.25%,#eeeffa 59.38%,#f4f5fc 62.5%,#fbfcfe 65.62%,#fefdfd 68.75%,#fdfafa 71.88%,#fcf6f7 75%,#faf2f3 78.12%,#f9edef 81.25%,#f7e8ea 84.38%,#f5e3e6 87.5%,#f3dde0 90.62%,#f1d6da 93.75%,#eeced3 96.88%,#ebc5cb 100%)"></i><i style="background:linear-gradient(#99a2de 0%,#9ca5df 3.125%,#9fa8e0 6.25%,#a3abe1 9.375%,#a6aee3 12.5%,#aab2e4 15.62%,#adb5e5 18.75%,#b1b8e6 21.88%,#b5bce7 25%,#b9c0e9 28.12%,#bdc3ea 31.25%,#c2c7eb 34.38%,#c6cced 37.5%,#cbd0ee 40.62%,#d0d4f0 43.75%,#d5d9f2 46.88%,#dadef3 50%,#e0e3f5 53.12%,#e6e8f7 56.25%,#eceef9 59.38%,#f3f4fb 62.5%,#fafafd 65.62%,#fffefe 68.75%,#fdfafb 71.88%,#fcf7f7 75%,#fbf2f4 78.12%,#f9eef0 81.25%,#f7e9eb 84.38%,#f6e3e6 87.5%,#f3dde1 90.62%,#f1d6db 93.75%,#eecfd4 96.88%,#ebc5cb 100%)"></i><i style="background:linear-gradient(#97a1de 0%,#9aa4df 3.125%,#9ea7e0 6.25%,#a1aae1 9.375%,#a5ade2 12.5%,#a8b0e3 15.62%,#acb3e4 18.75%,#b0b7e6 21.88%,#b4bae7 25%,#b8bee8 28.12%,#bcc2ea 31.25%,#c0c6eb 34.38%,#c5caec 37.5%,#c9ceee 40.62%,#ced3ef 43.75%,#d3d7f1 46.88%,#d9dcf3 50%,#dee1f5 53.12%,#e4e7f6 56.25%,#ebecf8 59.38%,#f1f2fb 62.5%,#f8f9fd 65.62%,#ffffff 68.75%,#fefbfc 71.88%,#fcf7f8 75%,#fbf3f4 78.12%,#f9eff0 81.25%,#f8eaec 84.38%,#f6e4e7 87.5%,#f4dee1 90.62%,#f1d7db 93.75%,#efcfd4 96.88%,#ecc6cc 100%)"></i><i style="background:linear-gradient(#969fdd 0%,#99a2de 3.125%,#9ca5df 6.25%,#9fa8e0 9.375%,#a3abe2 12.5%,#a6afe3 15.62%,#aab2e4 18.75%,#aeb5e5 21.88%,#b2b9e6 25%,#b6bde8 28.12%,#bac0e9 31.25%,#bfc4ea 34.38%,#c3c9ec 37.5%,#c8cded 40.62%,#cdd1ef 43.75%,#d2d6f1 46.88%,#d7dbf2 50%,#dde0f4 53.12%,#e3e5f6 56.25%,#e9ebf8 59.38%,#f0f1fa 62.5%,#f7f7fc 65.62%,#fefeff 68.75%,#fefcfc 71.88%,#fdf8f9 75%,#fbf4f5 78.12%,#faeff1 81.25%,#f8eaec 84.38%,#f6e5e8 87.5%,#f4dfe2 90.62%,#f2d8dc 93.75%,#efd0d5 96.88%,#ecc7cd 100%)"></i><i style="background:linear-gradient(#949edd 0%,#97a1de 3.125%,#9aa4df 6.25%,#9ea7e0 9.375%,#a1aae1 12.5%,#a5ade2 15.62%,#a9b0e3 18.75%,#acb4e5 21.88%,#b0b7e6 25%,#b4bbe7 28.12%,#b9bfe8 31.25%,#bdc3ea 34.38%,#c1c7eb 37.5%,#c6cbed 40.62%,#cbd0ee 43.75%,#d0d5f0 46.88%,#d6d9f2 50%,#dbdff4 53.12%,#e1e4f5 56.25%,#e7eaf7 59.38%,#eeeffa 62.5%,#f5f6fc 65.62%,#fcfdfe 68.75%,#fefdfd 71.88%,#fdf9f9 75%,#fbf5f6 78.12%,#faf0f2 81.25%,#f8ebed 84.38%,#f6e6e8 87.5%,#f4e0e3 90.62%,#f2d9dd 93.75%,#efd1d6 96.88%,#ecc8cd 100%)"></i><i style="background:linear-gradient(#929cdc 0%,#969fdd 3.125%,#99a2de 6.25%,#9ca5df 9.375%,#a0a8e1 12.5%,#a3ace2 15.62%,#a7afe3 18.75%,#abb2e4 21.88%,#afb6e5 25%,#b3bae7 28.12%,#b7bee8 31.25%,#bbc2e9 34.38%,#c0c6eb 37.5%,#c5caec 40.62%,#caceee 43.75%,#cfd3f0 46.88%,#d4d8f1 50%,#daddf3 53.12%,#e0e2f5 56.25%,#e6e8f7 59.38%,#eceef9 62.5%,#f3f4fb 65.62%,#fbfbfe 68.75%,#fefdfe 71.88%,#fdf9fa 75%,#fcf5f6 78.12%,#faf1f2 81.25%,#f8ecee 84.38%,#f7e6e9 87.5%,#f4e0e3 90.62%,#f2d9dd 93.75%,#efd2d6 96.88%,#ecc8ce 100%)"></i><i style="background:linear-gradient(#919bdc 0%,#949edd 3.125%,#97a1de 6.25%,#9ba4df 9.375%,#9ea7e0 12.5%,#a2aae1 15.62%,#a5aee2 18.75%,#a9b1e4 21.88%,#adb5e5 25%,#b1b8e6 28.12%,#b5bce7 31.25%,#bac0e9 34.38%,#bec4ea 37.5%,#c3c8ec 40.62%,#c8cded 43.75%,#cdd2ef 46.88%,#d2d6f1 50%,#d8dcf3 53.12%,#dee1f4 56.25%,#e4e7f6 59.38%,#ebedf9 62.5%,#f2f3fb 65.62%,#f9fafd 68.75%,#fffefe 71.88%,#fdfafb 75%,#fcf6f7 78.12%,#faf1f3 81.25%,#f9edee 84.38%,#f7e7ea 87.5%,#f5e1e4 90.62%,#f2dade 93.75%,#f0d2d7 96.88%,#edc9cf 100%)"></i><i style="background:linear-gradient(#8f99db 0%,#929cdc 3.125%,#969fdd 6.25%,#99a2de 9.375%,#9da6e0 12.5%,#a0a9e1 15.62%,#a4ace2 18.75%,#a8b0e3 21.88%,#acb3e4 25%,#b0b7e6 28.12%,#b4bbe7 31.25%,#b8bfe8 34.38%,#bdc3ea 37.5%,#c1c7eb 40.62%,#c6cced 43.75%,#cbd0ef 46.88%,#d1d5f0 50%,#d6daf2 53.12%,#dce0f4 56.25%,#e3e5f6 59.38%,#e9ebf8 62.5%,#f0f2fa 65.62%,#f8f8fd 68.75%,#ffffff 71.88%,#fefbfb 75%,#fcf7f8 78.12%,#fbf2f4 81.25%,#f9edef 84.38%,#f7e8ea 87.5%,#f5e2e5 90.62%,#f3dbdf 93.75%,#f0d3d8 96.88%,#edcacf 100%)"></i><i style="background:linear-gradient(#8e98db 0%,#919bdc 3.125%,#949edd 6.25%,#98a1de 9.375%,#9ba4df 12.5%,#9fa7e0 15.62%,#a2abe1 18.75%,#a6aee3 21.88%,#aab2e4 25%,#aeb5e5 28.12%,#b2b9e6 31.25%,#b7bde8 34.38%,#bbc1e9 37.5%,#c0c6eb 40.62%,#c5caec 43.75%,#cacfee 46.88%,#cfd4f0 50%,#d5d9f2 53.12%,#dbdef3 56.25%,#e1e4f5 59.38%,#e8eaf8 62.5%,#eff0fa 65.62%,#f6f7fc 68.75%,#fefeff 71.88%,#fefcfc 75%,#fcf7f8 78.12%,#fbf3f4 81.25%,#f9eef0 84.38%,#f7e8eb 87.5%,#f5e2e5 90.62%,#f3dcdf 93.75%,#f0d4d8 96.88%,#edcad0 100%)"></i><i style="background:linear-gradient(#8c97da 0%,#8f9adb 3.125%,#939cdc 6.25%,#96a0dd 9.375%,#99a3df 12.5%,#9da6e0 15.62%,#a1a9e1 18.75%,#a4ade2 21.88%,#a8b0e3 25%,#acb4e5 28.12%,#b1b8e6 31.25%,#b5bce7 34.38%,#bac0e9 37.5%,#bec4ea 40.62%,#c3c9ec 43.75%,#c8cdee 46.88%,#ced2ef 50%,#d3d7f1 53.12%,#d9ddf3 56.25%,#dfe2f5 59.38%,#e6e8f7 62.5%,#edeff9 65.62%,#f4f5fc 68.75%,#fcfdfe 71.88%,#fefcfd 75%,#fdf8f9 78.12%,#fbf4f5 81.25%,#f9eff0 84.38%,#f8e9eb 87.5%,#f5e3e6 90.62%,#f3dce0 93.75%,#f0d4d9 96.88%,#edcbd1 100%)"></i><i style="background:linear-gradient(#8b95da 0%,#8e98db 3.125%,#919bdc 6.25%,#949edd 9.375%,#98a1de 12.5%,#9ba5df 15.62%,#9fa8e0 18.75%,#a3abe2 21.88%,#a7afe3 25%,#abb3e4 28.12%,#afb6e5 31.25%,#b3bae7 34.38%,#b8bfe8 37.5%,#bdc3ea 40.62%,#c2c7eb 43.75%,#c7cced 46.88%,#ccd1ef 50%,#d2d6f1 53.12%,#d8dbf2 56.25%,#dee1f4 59.38%,#e5e7f7 62.5%,#ebedf9 65.62%,#f3f4fb 68.75%,#fbfbfe 71.88%,#fefdfd 75%,#fdf9fa 78.12%,#fbf4f5 81.25%,#faeff1 84.38%,#f8eaec 87.5%,#f6e4e7 90.62%,#f3dde1 93.75%,#f1d5d9 96.88%,#eeccd1 100%)"></i><i style="background:linear-gradient(#8994d9 0%,#8c97da 3.125%,#909adb 6.25%,#939ddc 9.375%,#96a0de 12.5%,#9aa3df 15.62%,#9ea6e0 18.75%,#a1aae1 21.88%,#a5aee2 25%,#a9b1e4 28.12%,#aeb5e5 31.25%,#b2b9e6 34.38%,#b7bde8 37.5%,#bbc1e9 40.62%,#c0c6eb 43.75%,#c5cbed 46.88%,#cbcfee 50%,#d0d5f0 53.12%,#d6daf2 56.25%,#dce0f4 59.38%,#e3e6f6 62.5%,#eaecf8 65.62%,#f1f3fb 68.75%,#f9fafd 71.88%,#fffefe 75%,#fdfafa 78.12%,#fcf5f6 81.25%,#faf0f2 84.38%,#f8ebed 87.5%,#f6e5e7 90.62%,#f4dee1 93.75%,#f1d6da 96.88%,#eecdd2 100%)"></i><i style="background:linear-gradient(#8892d9 0%,#8b95da 3.125%,#8e98db 6.25%,#919bdc 9.375%,#959fdd 12.5%,#98a2de 15.62%,#9ca5df 18.75%,#a0a9e1 21.88%,#a4ace2 25%,#a8b0e3 28.12%,#acb4e4 31.25%,#b0b8e6 34.38%,#b5bce7 37.5%,#bac0e9 40.62%,#bfc4ea 43.75%,#c4c9ec 46.88%,#c9ceee 50%,#cfd3f0 53.12%,#d5d9f1 56.25%,#dbdef3 59.38%,#e1e4f6 62.5%,#e8eaf8 65.62%,#f0f1fa 68.75%,#f8f8fd 71.88%,#fffeff 75%,#fdfafb 78.12%,#fcf6f7 81.25%,#faf1f2 84.38%,#f8ebed 87.5%,#f6e5e8 90.62%,#f4dee2 93.75%,#f1d7db 96.88%,#eecdd2 100%)"></i><i style="background:linear-gradient(#8691d8 0%,#8994d9 3.125%,#8c97da 6.25%,#909adb 9.375%,#939ddd 12.5%,#97a0de 15.62%,#9ba4df 18.75%,#9ea7e0 21.88%,#a2abe1 25%,#a6aee3 28.12%,#abb2e4 31.25%,#afb6e5 34.38%,#b3bae7 37.5%,#b8bfe8 40.62%,#bdc3ea 43.75%,#c2c8ec 46.88%,#c8cded 50%,#cdd2ef 53.12%,#d3d7f1 56.25%,#d9ddf3 59.38%,#e0e3f5 62.5%,#e7e9f7 65.62%,#eef0fa 68.75%,#f6f7fc 71.88%,#ffffff 75%,#fefbfb 78.12%,#fcf6f7 81.25%,#faf1f3 84.38%,#f9ecee 87.5%,#f6e6e9 90.62%,#f4dfe2 93.75%,#f1d7db 96.88%,#eeced3 100%)"></i><i style="background:linear-gradient(#8590d8 0%,#8893d9 3.125%,#8b96da 6.25%,#8e99db 9.375%,#929cdc 12.5%,#959fdd 15.62%,#99a2de 18.75%,#9da6e0 21.88%,#a1a9e1 25%,#a5ade2 28.12%,#a9b1e4 31.25%,#adb5e5 34.38%,#b2b9e6 37.5%,#b7bde8 40.62%,#bcc2e9 43.75%,#c1c6eb 46.88%,#c6cbed 50%,#ccd0ef 53.12%,#d2d6f0 56.25%,#d8dbf2 59.38%,#dee1f5 62.5%,#e5e8f7 65.62%,#edeef9 68.75%,#f5f6fc 71.88%,#fdfdfe 75%,#fefcfc 78.12%,#fcf7f8 81.25%,#fbf2f3 84.38%,#f9edef 87.5%,#f7e7e9 90.62%,#f4e0e3 93.75%,#f2d8dc 96.88%,#eecfd4 100%)"></i><i style="background:linear-gradient(#838ed7 0%,#8691d8 3.125%,#8994d9 6.25%,#8d97da 9.375%,#909adc 12.5%,#949edd 15.62%,#98a1de 18.75%,#9ba4df 21.88%,#9fa8e0 25%,#a3ace2 28.12%,#a8b0e3 31.25%,#acb4e4 34.38%,#b0b8e6 37.5%,#b5bce7 40.62%,#bac0e9 43.75%,#bfc5eb 46.88%,#c5caec 50%,#cacfee 53.12%,#d0d4f0 56.25%,#d6daf2 59.38%,#dde0f4 62.5%,#e4e6f6 65.62%,#ebedf9 68.75%,#f3f4fb 71.88%,#fcfcfe 75%,#fefcfd 78.12%,#fdf8f9 81.25%,#fbf3f4 84.38%,#f9edef 87.5%,#f7e7ea 90.62%,#f5e0e4 93.75%,#f2d9dd 96.88%,#efcfd4 100%)"></i><i style="background:linear-gradient(#828dd7 0%,#8590d8 3.125%,#8893d9 6.25%,#8b96da 9.375%,#8f99db 12.5%,#929cdc 15.62%,#96a0dd 18.75%,#9aa3df 21.88%,#9ea7e0 25%,#a2aae1 28.12%,#a6aee3 31.25%,#aab2e4 34.38%,#afb6e5 37.5%,#b4bbe7 40.62%,#b9bfe8 43.75%,#bec4ea 46.88%,#c3c9ec 50%,#c9ceee 53.12%,#cfd3f0 56.25%,#d5d9f2 59.38%,#dbdff4 62.5%,#e2e5f6 65.62%,#eaecf8 68.75%,#f2f3fb 71.88%,#fafbfd 75%,#fefdfd 78.12%,#fdf8f9 81.25%,#fbf4f5 84.38%,#f9eef0 87.5%,#f7e8ea 90.62%,#f5e1e4 93.75%,#f2d9dd 96.88%,#efd0d5 100%)"></i><i style="background:linear-gradient(#808cd6 0%,#838fd7 3.125%,#8792d8 6.25%,#8a95da 9.375%,#8d98db 12.5%,#919bdc 15.62%,#959edd 18.75%,#98a2de 21.88%,#9ca5df 25%,#a0a9e1 28.12%,#a5ade2 31.25%,#a9b1e3 34.38%,#adb5e5 37.5%,#b2b9e6 40.62%,#b7bee8 43.75%,#bcc2ea 46.88%,#c2c7eb 50%,#c7cced 53.12%,#cdd2ef 56.25%,#d3d7f1 59.38%,#daddf3 62.5%,#e1e4f5 65.62%,#e8eaf8 68.75%,#f0f2fa 71.88%,#f9f9fd 75%,#fffefe 78.12%,#fdf9fa 81.25%,#fbf4f5 84.38%,#f9eff0 87.5%,#f7e9eb 90.62%,#f5e2e5 93.75%,#f2dade 96.88%,#efd1d6 100%)"></i><i style="background:linear-gradient(#7f8ad6 0%,#828dd7 3.125%,#8590d8 6.25%,#8893d9 9.375%,#8c96da 12.5%,#8f9adb 15.62%,#939ddc 18.75%,#97a0de 21.88%,#9ba4df 25%,#9fa8e0 28.12%,#a3ace2 31.25%,#a7afe3 34.38%,#acb4e4 37.5%,#b1b8e6 40.62%,#b6bce8 43.75%,#bbc1e9 46.88%,#c0c6eb 50%,#c6cbed 53.12%,#ccd0ef 56.25%,#d2d6f1 59.38%,#d9dcf3 62.5%,#dfe2f5 65.62%,#e7e9f7 68.75%,#eff0fa 71.88%,#f7f8fd 75%,#fffefe 78.12%,#fdfafa 81.25%,#fcf5f6 84.38%,#faeff1 87.5%,#f8e9ec 90.62%,#f5e2e5 93.75%,#f3dbde 96.88%,#efd1d6 100%)"></i><i style="background:linear-gradient(#7d89d5 0%,#808cd6 3.125%,#848fd8 6.25%,#8792d9 9.375%,#8a95da 12.5%,#8e98db 15.62%,#929cdc 18.75%,#959fdd 21.88%,#99a3df 25%,#9da6e0 28.12%,#a2aae1 31.25%,#a6aee3 34.38%,#abb2e4 37.5%,#afb7e6 40.62%,#b4bbe7 43.75%,#b9c0e9 46.88%,#bfc5ea 50%,#c4caec 53.12%,#cacfee 56.25%,#d0d5f0 59.38%,#d7dbf2 62.5%,#dee1f4 65.62%,#e5e8f7 68.75%,#edeff9 71.88%,#f6f7fc 75%,#ffffff 78.12%,#fdfafb 81.25%,#fcf6f7 84.38%,#faf0f2 87.5%,#f8eaec 90.62%,#f5e3e6 93.75%,#f3dbdf 96.88%,#f0d2d7 100%)"></i><i style="background:linear-gradient(#7c88d5 0%,#7f8bd6 3.125%,#828ed7 6.25%,#8591d8 9.375%,#8994d9 12.5%,#8d97da 15.62%,#909adc 18.75%,#949edd 21.88%,#98a1de 25%,#9ca5df 28.12%,#a0a9e1 31.25%,#a5ade2 34.38%,#a9b1e4 37.5%,#aeb5e5 40.62%,#b3bae7 43.75%,#b8bee8 46.88%,#bdc3ea 50%,#c3c8ec 53.12%,#c9ceee 56.25%,#cfd3f0 59.38%,#d6d9f2 62.5%,#dde0f4 65.62%,#e4e6f6 68.75%,#eceef9 71.88%,#f4f5fc 75%,#fdfeff 78.12%,#fefbfc 81.25%,#fcf6f7 84.38%,#faf1f2 87.5%,#f8ebed 90.62%,#f6e4e7 93.75%,#f3dce0 96.88%,#f0d3d7 100%)"></i><i style="background:linear-gradient(#7a86d5 0%,#7d89d6 3.125%,#818cd7 6.25%,#848fd8 9.375%,#8892d9 12.5%,#8b96da 15.62%,#8f99db 18.75%,#939cdc 21.88%,#96a0de 25%,#9ba4df 28.12%,#9fa8e0 31.25%,#a3ace2 34.38%,#a8b0e3 37.5%,#acb4e5 40.62%,#b1b8e6 43.75%,#b6bde8 46.88%,#bcc2ea 50%,#c1c7eb 53.12%,#c7cced 56.25%,#ced2ef 59.38%,#d4d8f1 62.5%,#dbdef4 65.62%,#e3e5f6 68.75%,#eaecf8 71.88%,#f3f4fb 75%,#fcfcfe 78.12%,#fefcfc 81.25%,#fcf7f8 84.38%,#faf1f3 87.5%,#f8ebed 90.62%,#f6e4e7 93.75%,#f3dde0 96.88%,#f0d3d8 100%)"></i><i style="background:linear-gradient(#7985d4 0%,#7c88d5 3.125%,#7f8bd6 6.25%,#838ed7 9.375%,#8691d8 12.5%,#8a94d9 15.62%,#8d98db 18.75%,#919bdc 21.88%,#959fdd 25%,#99a2de 28.12%,#9da6e0 31.25%,#a2aae1 34.38%,#a6aee3 37.5%,#abb3e4 40.62%,#b0b7e6 43.75%,#b5bce7 46.88%,#bac1e9 50%,#c0c6eb 53.12%,#c6cbed 56.25%,#ccd1ef 59.38%,#d3d7f1 62.5%,#daddf3 65.62%,#e1e4f5 68.75%,#e9ebf8 71.88%,#f1f3fb 75%,#fbfbfe 78.12%,#fefcfd 81.25%,#fcf8f8 84.38%,#fbf2f3 87.5%,#f8ecee 90.62%,#f6e5e8 93.75%,#f3dde1 96.88%,#f0d4d9 100%)"></i><i style="background:linear-gradient(#7784d4 0%,#7b87d5 3.125%,#7e8ad6 6.25%,#818dd7 9.375%,#8590d8 12.5%,#8893d9 15.62%,#8c96da 18.75%,#909adb 21.88%,#949ddd 25%,#98a1de 28.12%,#9ca5df 31.25%,#a0a9e1 34.38%,#a5ade2 37.5%,#aab1e4 40.62%,#aeb6e5 43.75%,#b4bae7 46.88%,#b9bfe9 50%,#bfc4ea 53.12%,#c4caec 56.25%,#cbcfee 59.38%,#d1d5f0 62.5%,#d8dcf3 65.62%,#e0e3f5 68.75%,#e8eaf8 71.88%,#f0f1fa 75%,#f9fafd 78.12%,#fefdfd 81.25%,#fdf8f9 84.38%,#fbf3f4 87.5%,#f9edef 90.62%,#f6e6e8 93.75%,#f4dee1 96.88%,#f1d5d9 100%)"></i><i style="background:linear-gradient(#7682d3 0%,#7985d4 3.125%,#7c88d5 6.25%,#808bd6 9.375%,#838fd7 12.5%,#8792d9 15.62%,#8a95da 18.75%,#8e99db 21.88%,#929cdc 25%,#96a0de 28.12%,#9aa4df 31.25%,#9fa8e0 34.38%,#a3ace2 37.5%,#a8b0e3 40.62%,#adb5e5 43.75%,#b2b9e6 46.88%,#b8bee8 50%,#bdc3ea 53.12%,#c3c9ec 56.25%,#c9ceee 59.38%,#d0d4f0 62.5%,#d7dbf2 65.62%,#dee1f5 68.75%,#e6e8f7 71.88%,#eff0fa 75%,#f8f8fd 78.12%,#fffefe 81.25%,#fdf9f9 84.38%,#fbf3f5 87.5%,#f9edef 90.62%,#f7e6e9 93.75%,#f4dfe2 96.88%,#f1d5da 100%)"></i><i style="background:linear-gradient(#7581d3 0%,#7884d4 3.125%,#7b87d5 6.25%,#7e8ad6 9.375%,#828dd7 12.5%,#8591d8 15.62%,#8994d9 18.75%,#8d97db 21.88%,#919bdc 25%,#959fdd 28.12%,#99a2de 31.25%,#9da6e0 34.38%,#a2aae1 37.5%,#a7afe3 40.62%,#acb3e4 43.75%,#b1b8e6 46.88%,#b6bde8 50%,#bcc2e9 53.12%,#c2c7eb 56.25%,#c8cded 59.38%,#ced3ef 62.5%,#d5d9f2 65.62%,#dde0f4 68.75%,#e5e7f7 71.88%,#edeff9 75%,#f6f7fc 78.12%,#fffefe 81.25%,#fdf9fa 84.38%,#fbf4f5 87.5%,#f9eef0 90.62%,#f7e7ea 93.75%,#f4dfe3 96.88%,#f1d6da 100%)"></i><i style="background:linear-gradient(#7380d2 0%,#7683d3 3.125%,#7a86d4 6.25%,#7d89d5 9.375%,#808cd7 12.5%,#848fd8 15.62%,#8893d9 18.75%,#8b96da 21.88%,#8f9adb 25%,#939ddd 28.12%,#98a1de 31.25%,#9ca5df 34.38%,#a1a9e1 37.5%,#a5aee2 40.62%,#aab2e4 43.75%,#afb7e6 46.88%,#b5bce7 50%,#bac1e9 53.12%,#c0c6eb 56.25%,#c6cced 59.38%,#cdd2ef 62.5%,#d4d8f1 65.62%,#dbdff4 68.75%,#e3e6f6 71.88%,#eceef9 75%,#f5f6fc 78.12%,#ffffff 81.25%,#fdfafb 84.38%,#fbf5f6 87.5%,#f9eff0 90.62%,#f7e8ea 93.75%,#f4e0e3 96.88%,#f1d7db 100%)"></i><i style="background:linear-gradient(#727fd2 0%,#7582d3 3.125%,#7885d4 6.25%,#7c88d5 9.375%,#7f8bd6 12.5%,#838ed7 15.62%,#8691d8 18.75%,#8a95da 21.88%,#8e98db 25%,#929cdc 28.12%,#96a0de 31.25%,#9ba4df 34.38%,#9fa8e0 37.5%,#a4ace2 40.62%,#a9b1e3 43.75%,#aeb5e5 46.88%,#b3bae7 50%,#b9bfe9 53.12%,#bfc5ea 56.25%,#c5caec 59.38%,#ccd0ef 62.5%,#d3d7f1 65.62%,#daddf3 68.75%,#e2e5f6 71.88%,#eaecf8 75%,#f4f5fb 78.12%,#fdfeff 81.25%,#fefbfb 84.38%,#fcf5f6 87.5%,#faeff1 90.62%,#f7e8eb 93.75%,#f5e0e4 96.88%,#f1d7db 100%)"></i><i style="background:linear-gradient(#707dd1 0%,#7480d2 3.125%,#7783d3 6.25%,#7a86d5 9.375%,#7e89d6 12.5%,#818dd7 15.62%,#8590d8 18.75%,#8994d9 21.88%,#8d97da 25%,#919bdc 28.12%,#959fdd 31.25%,#99a3de 34.38%,#9ea7e0 37.5%,#a3abe1 40.62%,#a7afe3 43.75%,#adb4e5 46.88%,#b2b9e6 50%,#b8bee8 53.12%,#bdc3ea 56.25%,#c4c9ec 59.38%,#cacfee 62.5%,#d1d5f0 65.62%,#d9dcf3 68.75%,#e1e3f5 71.88%,#e9ebf8 75%,#f2f3fb 78.12%,#fcfcfe 81.25%,#fefbfc 84.38%,#fcf6f7 87.5%,#faf0f1 90.62%,#f7e9eb 93.75%,#f5e1e4 96.88%,#f2d8dc 100%)"></i><i style="background:linear-gradient(#6f7cd1 0%,#727fd2 3.125%,#7582d3 6.25%,#7985d4 9.375%,#7c88d5 12.5%,#808bd6 15.62%,#848fd8 18.75%,#8792d9 21.88%,#8b96da 25%,#8f9adb 28.12%,#949ddd 31.25%,#98a1de 34.38%,#9ca5df 37.5%,#a1aae1 40.62%,#a6aee3 43.75%,#abb3e4 46.88%,#b1b8e6 50%,#b6bde8 53.12%,#bcc2ea 56.25%,#c2c8ec 59.38%,#c9ceee 62.5%,#d0d4f0 65.62%,#d7dbf2 68.75%,#dfe2f5 71.88%,#e8eaf8 75%,#f1f2fa 78.12%,#fbfbfe 81.25%,#fefcfc 84.38%,#fcf7f7 87.5%,#faf0f2 90.62%,#f8eaec 93.75%,#f5e2e5 96.88%,#f2d9dd 100%)"></i><i style="background:linear-gradient(#6e7bd1 0%,#717ed2 3.125%,#7481d3 6.25%,#7784d4 9.375%,#7b87d5 12.5%,#7e8ad6 15.62%,#828ed7 18.75%,#8691d8 21.88%,#8a95da 25%,#8e98db 28.12%,#929cdc 31.25%,#97a0de 34.38%,#9ba4df 37.5%,#a0a8e1 40.62%,#a5ade2 43.75%,#aab2e4 46.88%,#afb7e5 50%,#b5bce7 53.12%,#bbc1e9 56.25%,#c1c7eb 59.38%,#c8cded 62.5%,#cfd3ef 65.62%,#d6daf2 68.75%,#dee1f4 71.88%,#e6e9f7 75%,#eff1fa 78.12%,#f9fafd 81.25%,#fefdfd 84.38%,#fcf7f8 87.5%,#faf1f3 90.62%,#f8eaec 93.75%,#f5e2e5 96.88%,#f2d9dd 100%)"></i><i style="background:linear-gradient(#6c7ad0 0%,#6f7dd1 3.125%,#7380d2 6.25%,#7683d3 9.375%,#7a86d4 12.5%,#7d89d5 15.62%,#818cd7 18.75%,#8590d8 21.88%,#8993d9 25%,#8d97da 28.12%,#919bdc 31.25%,#959fdd 34.38%,#9aa3df 37.5%,#9ea7e0 40.62%,#a3ace2 43.75%,#a8b0e3 46.88%,#aeb5e5 50%,#b3bae7 53.12%,#b9c0e9 56.25%,#c0c5eb 59.38%,#c6cbed 62.5%,#cdd2ef 65.62%,#d5d8f1 68.75%,#dce0f4 71.88%,#e5e7f7 75%,#eef0fa 78.12%,#f8f9fd 81.25%,#fefdfd 84.38%,#fdf8f9 87.5%,#faf2f3 90.62%,#f8ebed 93.75%,#f5e3e6 96.88%,#f2dade 100%)"></i><i style="background:linear-gradient(#6b78d0 0%,#6e7bd1 3.125%,#717ed2 6.25%,#7581d3 9.375%,#7885d4 12.5%,#7c88d5 15.62%,#7f8bd6 18.75%,#838fd7 21.88%,#8792d9 25%,#8b96da 28.12%,#8f9adb 31.25%,#949edd 34.38%,#98a2de 37.5%,#9da6e0 40.62%,#a2abe1 43.75%,#a7afe3 46.88%,#adb4e5 50%,#b2b9e6 53.12%,#b8bfe8 56.25%,#bec4ea 59.38%,#c5caec 62.5%,#ccd0ef 65.62%,#d3d7f1 68.75%,#dbdef4 71.88%,#e4e6f6 75%,#edeef9 78.12%,#f7f7fc 81.25%,#fffefe 84.38%,#fdf8f9 87.5%,#fbf2f4 90.62%,#f8ebee 93.75%,#f6e4e6 96.88%,#f2dade 100%)"></i><i style="background:linear-gradient(#6a77cf 0%,#6d7ad0 3.125%,#707dd1 6.25%,#7380d2 9.375%,#7783d3 12.5%,#7a87d5 15.62%,#7e8ad6 18.75%,#828dd7 21.88%,#8691d8 25%,#8a95da 28.12%,#8e98db 31.25%,#929cdc 34.38%,#97a1de 37.5%,#9ca5df 40.62%,#a1a9e1 43.75%,#a6aee2 46.88%,#abb3e4 50%,#b1b8e6 53.12%,#b7bde8 56.25%,#bdc3ea 59.38%,#c4c9ec 62.5%,#cacfee 65.62%,#d2d6f1 68.75%,#daddf3 71.88%,#e2e5f6 75%,#ebedf9 78.12%,#f5f6fc 81.25%,#fffeff 84.38%,#fdf9fa 87.5%,#fbf3f4 90.62%,#f9ecee 93.75%,#f6e4e7 96.88%,#f3dbdf 100%)"></i><i style="background:linear-gradient(#6876cf 0%,#6b79d0 3.125%,#6f7cd1 6.25%,#727fd2 9.375%,#7682d3 12.5%,#7985d4 15.62%,#7d89d5 18.75%,#818cd7 21.88%,#8590d8 25%,#8993d9 28.12%,#8d97da 31.25%,#919bdc 34.38%,#969fdd 37.5%,#9aa4df 40.62%,#9fa8e0 43.75%,#a4ade2 46.88%,#aab2e4 50%,#afb7e6 53.12%,#b5bce7 56.25%,#bcc2e9 59.38%,#c2c8ec 62.5%,#c9ceee 65.62%,#d1d5f0 68.75%,#d8dcf3 71.88%,#e1e4f5 75%,#eaecf8 78.12%,#f4f5fb 81.25%,#ffffff 84.38%,#fdfafa 87.5%,#fbf4f5 90.62%,#f9edef 93.75%,#f6e5e8 96.88%,#f3dcdf 100%)"></i><i style="background:linear-gradient(#6775ce 0%,#6a78cf 3.125%,#6d7bd0 6.25%,#717ed2 9.375%,#7481d3 12.5%,#7884d4 15.62%,#7b87d5 18.75%,#7f8bd6 21.88%,#838ed7 25%,#8792d9 28.12%,#8b96da 31.25%,#909adb 34.38%,#949edd 37.5%,#99a2de 40.62%,#9ea7e0 43.75%,#a3ace2 46.88%,#a9b0e3 50%,#aeb6e5 53.12%,#b4bbe7 56.25%,#bac1e9 59.38%,#c1c7eb 62.5%,#c8cded 65.62%,#cfd4f0 68.75%,#d7dbf2 71.88%,#e0e2f5 75%,#e9ebf8 78.12%,#f3f4fb 81.25%,#fdfeff 84.38%,#fdfafb 87.5%,#fbf4f5 90.62%,#f9edef 93.75%,#f6e5e8 96.88%,#f3dce0 100%)"></i><i style="background:linear-gradient(#6674ce 0%,#6977cf 3.125%,#6c79d0 6.25%,#6f7dd1 9.375%,#7380d2 12.5%,#7683d3 15.62%,#7a86d5 18.75%,#7e8ad6 21.88%,#828dd7 25%,#8691d8 28.12%,#8a95da 31.25%,#8f99db 34.38%,#939ddc 37.5%,#98a1de 40.62%,#9da6e0 43.75%,#a2aae1 46.88%,#a7afe3 50%,#adb4e5 53.12%,#b3bae7 56.25%,#b9bfe9 59.38%,#c0c5eb 62.5%,#c6cced 65.62%,#ced2ef 68.75%,#d6daf2 71.88%,#dee1f5 75%,#e7eaf7 78.12%,#f1f3fb 81.25%,#fcfcfe 84.38%,#fefbfb 87.5%,#fcf5f6 90.62%,#f9eef0 93.75%,#f6e6e9 96.88%,#f3dde0 100%)"></i><i style="background:linear-gradient(#6472ce 0%,#6775cf 3.125%,#6b78d0 6.25%,#6e7bd1 9.375%,#727ed2 12.5%,#7582d3 15.62%,#7985d4 18.75%,#7d89d5 21.88%,#818cd7 25%,#8590d8 28.12%,#8994d9 31.25%,#8d98db 34.38%,#929cdc 37.5%,#96a0de 40.62%,#9ba4df 43.75%,#a0a9e1 46.88%,#a6aee2 50%,#abb3e4 53.12%,#b1b8e6 56.25%,#b8bee8 59.38%,#bec4ea 62.5%,#c5caed 65.62%,#cdd1ef 68.75%,#d4d8f1 71.88%,#dde0f4 75%,#e6e8f7 78.12%,#f0f1fa 81.25%,#fbfbfe 84.38%,#fefbfc 87.5%,#fcf5f6 90.62%,#f9eff0 93.75%,#f7e7e9 96.88%,#f4dde1 100%)"></i><i style="background:linear-gradient(#6371cd 0%,#6674ce 3.125%,#6977cf 6.25%,#6d7ad0 9.375%,#707dd1 12.5%,#7481d2 15.62%,#7884d4 18.75%,#7b87d5 21.88%,#7f8bd6 25%,#838fd7 28.12%,#8892d9 31.25%,#8c96da 34.38%,#909bdc 37.5%,#959fdd 40.62%,#9aa3df 43.75%,#9fa8e0 46.88%,#a5ade2 50%,#aab2e4 53.12%,#b0b7e6 56.25%,#b6bde8 59.38%,#bdc3ea 62.5%,#c4c9ec 65.62%,#cbd0ee 68.75%,#d3d7f1 71.88%,#dcdff4 75%,#e5e7f7 78.12%,#eff0fa 81.25%,#fafafd 84.38%,#fefcfc 87.5%,#fcf6f7 90.62%,#faeff1 93.75%,#f7e7ea 96.88%,#f4dee1 100%)"></i><i style="background:linear-gradient(#6270cd 0%,#6573ce 3.125%,#6876cf 6.25%,#6b79d0 9.375%,#6f7cd1 12.5%,#737fd2 15.62%,#7683d3 18.75%,#7a86d4 21.88%,#7e8ad6 25%,#828dd7 28.12%,#8691d8 31.25%,#8b95da 34.38%,#8f99db 37.5%,#949edd 40.62%,#99a2de 43.75%,#9ea7e0 46.88%,#a3ace2 50%,#a9b1e3 53.12%,#afb6e5 56.25%,#b5bce7 59.38%,#bcc2e9 62.5%,#c3c8ec 65.62%,#cacfee 68.75%,#d2d6f1 71.88%,#dadef3 75%,#e3e6f6 78.12%,#edeff9 81.25%,#f8f9fd 84.38%,#fefdfd 87.5%,#fcf7f7 90.62%,#faf0f1 93.75%,#f7e8ea 96.88%,#f4dfe2 100%)"></i><i style="background:linear-gradient(#606fcc 0%,#6472cd 3.125%,#6775ce 6.25%,#6a78cf 9.375%,#6e7bd1 12.5%,#717ed2 15.62%,#7582d3 18.75%,#7985d4 21.88%,#7d89d5 25%,#818cd7 28.12%,#8590d8 31.25%,#8994d9 34.38%,#8e98db 37.5%,#939cdc 40.62%,#97a1de 43.75%,#9da6e0 46.88%,#a2aae1 50%,#a8b0e3 53.12%,#aeb5e5 56.25%,#b4bbe7 59.38%,#bac1e9 62.5%,#c1c7eb 65.62%,#c9ceee 68.75%,#d1d5f0 71.88%,#d9ddf3 75%,#e2e5f6 78.12%,#eceef9 81.25%,#f7f8fc 84.38%,#fefdfd 87.5%,#fcf7f8 90.62%,#faf0f2 93.75%,#f7e8eb 96.88%,#f4dfe3 100%)"></i><i style="background:linear-gradient(#5f6ecc 0%,#6271cd 3.125%,#6674ce 6.25%,#6977cf 9.375%,#6c7ad0 12.5%,#707dd1 15.62%,#7480d2 18.75%,#7784d4 21.88%,#7b87d5 25%,#7f8bd6 28.12%,#848fd8 31.25%,#8893d9 34.38%,#8d97da 37.5%,#919bdc 40.62%,#96a0dd 43.75%,#9ba4df 46.88%,#a1a9e1 50%,#a6aee3 53.12%,#acb4e5 56.25%,#b2b9e7 59.38%,#b9bfe9 62.5%,#c0c6eb 65.62%,#c7cced 68.75%,#cfd4f0 71.88%,#d8dbf2 75%,#e1e4f5 78.12%,#ebedf9 81.25%,#f6f6fc 84.38%,#fffefe 87.5%,#fdf8f8 90.62%,#faf1f2 93.75%,#f7e9eb 96.88%,#f4e0e3 100%)"></i><i style="background:linear-gradient(#5e6dcb 0%,#616fcc 3.125%,#6472ce 6.25%,#6875cf 9.375%,#6b79d0 12.5%,#6f7cd1 15.62%,#727fd2 18.75%,#7683d3 21.88%,#7a86d4 25%,#7e8ad6 28.12%,#828ed7 31.25%,#8792d9 34.38%,#8b96da 37.5%,#909adb 40.62%,#959fdd 43.75%,#9aa3df 46.88%,#9fa8e0 50%,#a5ade2 53.12%,#abb3e4 56.25%,#b1b8e6 59.38%,#b8bee8 62.5%,#bfc5ea 65.62%,#c6cbed 68.75%,#ced2ef 71.88%,#d6daf2 75%,#e0e2f5 78.12%,#eaebf8 81.25%,#f4f5fc 84.38%,#fffefe 87.5%,#fdf8f9 90.62%,#faf1f3 93.75%,#f8eaec 96.88%,#f5e0e4 100%)"></i><i style="background:linear-gradient(#5d6bcb 0%,#606ecc 3.125%,#6371cd 6.25%,#6674ce 9.375%,#6a77cf 12.5%,#6d7bd0 15.62%,#717ed2 18.75%,#7581d3 21.88%,#7985d4 25%,#7d89d5 28.12%,#818dd7 31.25%,#8591d8 34.38%,#8a95da 37.5%,#8f99db 40.62%,#949ddd 43.75%,#99a2de 46.88%,#9ea7e0 50%,#a4ace2 53.12%,#aab1e4 56.25%,#b0b7e6 59.38%,#b6bde8 62.5%,#bdc3ea 65.62%,#c5caec 68.75%,#cdd1ef 71.88%,#d5d9f2 75%,#dee1f5 78.12%,#e8eaf8 81.25%,#f3f4fb 84.38%,#ffffff 87.5%,#fdf9fa 90.62%,#fbf2f3 93.75%,#f8eaec 96.88%,#f5e1e4 100%)"></i><i style="background:linear-gradient(#5b6acb 0%,#5e6dcc 3.125%,#6270cd 6.25%,#6573ce 9.375%,#6976cf 12.5%,#6c7ad0 15.62%,#707dd1 18.75%,#7480d2 21.88%,#7884d4 25%,#7c88d5 28.12%,#808bd6 31.25%,#848fd8 34.38%,#8994d9 37.5%,#8d98db 40.62%,#929cdc 43.75%,#97a1de 46.88%,#9da6e0 50%,#a2abe1 53.12%,#a8b0e3 56.25%,#afb6e5 59.38%,#b5bce7 62.5%,#bcc2ea 65.62%,#c4c9ec 68.75%,#cbd0ef 71.88%,#d4d8f1 75%,#dde0f4 78.12%,#e7e9f7 81.25%,#f2f3fb 84.38%,#fefeff 87.5%,#fdf9fa 90.62%,#fbf3f4 93.75%,#f8ebed 96.88%,#f5e2e5 100%)"></i><i style="background:linear-gradient(#5a69ca 0%,#5d6ccb 3.125%,#606fcc 6.25%,#6472cd 9.375%,#6775ce 12.5%,#6b78d0 15.62%,#6f7cd1 18.75%,#727fd2 21.88%,#7683d3 25%,#7a86d5 28.12%,#7f8ad6 31.25%,#838ed7 34.38%,#8792d9 37.5%,#8c97da 40.62%,#919bdc 43.75%,#96a0dd 46.88%,#9ca5df 50%,#a1aae1 53.12%,#a7afe3 56.25%,#adb5e5 59.38%,#b4bbe7 62.5%,#bbc1e9 65.62%,#c2c8ec 68.75%,#cacfee 71.88%,#d3d7f1 75%,#dcdff4 78.12%,#e6e8f7 81.25%,#f1f2fa 84.38%,#fcfdfe 87.5%,#fdfafb 90.62%,#fbf3f4 93.75%,#f8ebed 96.88%,#f5e2e5 100%)"></i><i style="background:linear-gradient(#5968ca 0%,#5c6bcb 3.125%,#5f6ecc 6.25%,#6371cd 9.375%,#6674ce 12.5%,#6a77cf 15.62%,#6d7bd0 18.75%,#717ed2 21.88%,#7582d3 25%,#7985d4 28.12%,#7d89d6 31.25%,#828dd7 34.38%,#8691d8 37.5%,#8b96da 40.62%,#909adb 43.75%,#959fdd 46.88%,#9aa4df 50%,#a0a9e1 53.12%,#a6aee3 56.25%,#acb4e4 59.38%,#b3bae7 62.5%,#bac0e9 65.62%,#c1c7eb 68.75%,#c9ceee 71.88%,#d1d6f0 75%,#dbdef3 78.12%,#e4e7f7 81.25%,#eff1fa 84.38%,#fbfcfe 87.5%,#fefbfb 90.62%,#fbf4f5 93.75%,#f8ecee 96.88%,#f5e3e6 100%)"></i><i style="background:linear-gradient(#5867c9 0%,#5b6aca 3.125%,#5e6dcc 6.25%,#6170cd 9.375%,#6573ce 12.5%,#6876cf 15.62%,#6c79d0 18.75%,#707dd1 21.88%,#7480d2 25%,#7884d4 28.12%,#7c88d5 31.25%,#808cd7 34.38%,#8590d8 37.5%,#8a94d9 40.62%,#8f99db 43.75%,#949edd 46.88%,#99a2de 50%,#9fa8e0 53.12%,#a5ade2 56.25%,#abb3e4 59.38%,#b1b9e6 62.5%,#b8bfe8 65.62%,#c0c6eb 68.75%,#c8cded 71.88%,#d0d4f0 75%,#d9ddf3 78.12%,#e3e6f6 81.25%,#eef0fa 84.38%,#fafafd 87.5%,#fefbfc 90.62%,#fbf4f5 93.75%,#f9ecee 96.88%,#f6e3e6 100%)"></i><i style="background:linear-gradient(#5666c9 0%,#5969ca 3.125%,#5d6ccb 6.25%,#606fcc 9.375%,#6472cd 12.5%,#6775ce 15.62%,#6b78d0 18.75%,#6f7cd1 21.88%,#737fd2 25%,#7783d3 28.12%,#7b87d5 31.25%,#7f8bd6 34.38%,#848fd8 37.5%,#8893d9 40.62%,#8d98db 43.75%,#929cdc 46.88%,#98a1de 50%,#9da6e0 53.12%,#a3ace2 56.25%,#aab1e4 59.38%,#b0b7e6 62.5%,#b7bee8 65.62%,#bfc4ea 68.75%,#c6cced 71.88%,#cfd3f0 75%,#d8dcf3 78.12%,#e2e5f6 81.25%,#edeef9 84.38%,#f9f9fd 87.5%,#fefcfc 90.62%,#fcf5f6 93.75%,#f9edef 96.88%,#f6e4e7 100%)"></i><i style="background:linear-gradient(#5565c9 0%,#5867ca 3.125%,#5b6acb 6.25%,#5f6dcc 9.375%,#6271cd 12.5%,#6674ce 15.62%,#6a77cf 18.75%,#6d7bd0 21.88%,#717ed2 25%,#7582d3 28.12%,#7a86d4 31.25%,#7e8ad6 34.38%,#828ed7 37.5%,#8792d9 40.62%,#8c97da 43.75%,#919bdc 46.88%,#97a0de 50%,#9ca5df 53.12%,#a2abe1 56.25%,#a8b0e3 59.38%,#afb6e5 62.5%,#b6bde8 65.62%,#bdc3ea 68.75%,#c5cbed 71.88%,#ced2ef 75%,#d7dbf2 78.12%,#e1e4f5 81.25%,#ecedf9 84.38%,#f8f8fd 87.5%,#fefcfd 90.62%,#fcf5f6 93.75%,#f9eeef 96.88%,#f6e4e7 100%)"></i><i style="background:linear-gradient(#5463c8 0%,#5766c9 3.125%,#5a69ca 6.25%,#5e6ccb 9.375%,#6170cd 12.5%,#6573ce 15.62%,#6876cf 18.75%,#6c7ad0 21.88%,#707dd1 25%,#7481d3 28.12%,#7885d4 31.25%,#7d89d5 34.38%,#818dd7 37.5%,#8691d8 40.62%,#8b96da 43.75%,#909adc 46.88%,#959fdd 50%,#9ba4df 53.12%,#a1aae1 56.25%,#a7afe3 59.38%,#aeb5e5 62.5%,#b5bbe7 65.62%,#bcc2ea 68.75%,#c4c9ec 71.88%,#ccd1ef 75%,#d6d9f2 78.12%,#e0e2f5 81.25%,#eaecf8 84.38%,#f6f7fc 87.5%,#fefdfd 90.62%,#fcf6f7 93.75%,#f9eef0 96.88%,#f6e5e8 100%)"></i><i style="background:linear-gradient(#5362c8 0%,#5665c9 3.125%,#5968ca 6.25%,#5c6bcb 9.375%,#606ecc 12.5%,#6372cd 15.62%,#6775ce 18.75%,#6b78d0 21.88%,#6f7cd1 25%,#7380d2 28.12%,#7784d4 31.25%,#7c88d5 34.38%,#808cd6 37.5%,#8590d8 40.62%,#8a94d9 43.75%,#8f99db 46.88%,#949edd 50%,#9aa3df 53.12%,#a0a8e1 56.25%,#a6aee3 59.38%,#adb4e5 62.5%,#b3bae7 65.62%,#bbc1e9 68.75%,#c3c8ec 71.88%,#cbd0ee 75%,#d4d8f1 78.12%,#dee1f5 81.25%,#e9ebf8 84.38%,#f5f6fc 87.5%,#fefdfe 90.62%,#fcf7f7 93.75%,#f9eff0 96.88%,#f6e6e8 100%)"></i><i style="background:linear-gradient(#5161c7 0%,#5564c8 3.125%,#5867ca 6.25%,#5b6acb 9.375%,#5f6dcc 12.5%,#6271cd 15.62%,#6674ce 18.75%,#6a77cf 21.88%,#6e7bd1 25%,#727fd2 28.12%,#7682d3 31.25%,#7a86d5 34.38%,#7f8bd6 37.5%,#848fd8 40.62%,#8893d9 43.75%,#8e98db 46.88%,#939ddc 50%,#99a2de 53.12%,#9fa7e0 56.25%,#a5ade2 59.38%,#abb3e4 62.5%,#b2b9e6 65.62%,#bac0e9 68.75%,#c2c7eb 71.88%,#cacfee 75%,#d3d7f1 78.12%,#dde0f4 81.25%,#e8eaf8 84.38%,#f4f5fb 87.5%,#fffefe 90.62%,#fcf7f8 93.75%,#faeff1 96.88%,#f6e6e9 100%)"></i><i style="background:linear-gradient(#5060c7 0%,#5363c8 3.125%,#5766c9 6.25%,#5a69ca 9.375%,#5d6ccb 12.5%,#616fcc 15.62%,#6573ce 18.75%,#6976cf 21.88%,#6c7ad0 25%,#707ed1 28.12%,#7581d3 31.25%,#7985d4 34.38%,#7e89d6 37.5%,#828ed7 40.62%,#8792d9 43.75%,#8c97da 46.88%,#929cdc 50%,#97a1de 53.12%,#9da6e0 56.25%,#a4ace2 59.38%,#aab2e4 62.5%,#b1b8e6 65.62%,#b8bfe8 68.75%,#c0c6eb 71.88%,#c9ceee 75%,#d2d6f1 78.12%,#dcdff4 81.25%,#e7e9f7 84.38%,#f3f4fb 87.5%,#ffffff 90.62%,#fdf8f8 93.75%,#faf0f1 96.88%,#f7e7e9 100%)"></i><i style="background:linear-gradient(#4f5fc7 0%,#5262c8 3.125%,#5565c9 6.25%,#5968ca 9.375%,#5c6bcb 12.5%,#606ecc 15.62%,#6372cd 18.75%,#6775ce 21.88%,#6b79d0 25%,#6f7cd1 28.12%,#7480d2 31.25%,#7884d4 34.38%,#7c88d5 37.5%,#818dd7 40.62%,#8691d8 43.75%,#8b96da 46.88%,#919bdc 50%,#96a0dd 53.12%,#9ca5df 56.25%,#a2abe1 59.38%,#a9b1e3 62.5%,#b0b7e6 65.62%,#b7bee8 68.75%,#bfc5eb 71.88%,#c8cded 75%,#d1d5f0 78.12%,#dbdef3 81.25%,#e6e8f7 84.38%,#f1f3fb 87.5%,#ffffff 90.62%,#fdf8f9 93.75%,#faf0f2 96.88%,#f7e7ea 100%)"></i><i style="background:linear-gradient(#4e5ec6 0%,#5161c7 3.125%,#5464c8 6.25%,#5867c9 9.375%,#5b6acb 12.5%,#5f6dcc 15.62%,#6271cd 18.75%,#6674ce 21.88%,#6a78cf 25%,#6e7bd1 28.12%,#727fd2 31.25%,#7783d3 34.38%,#7b87d5 37.5%,#808cd6 40.62%,#8590d8 43.75%,#8a95da 46.88%,#8f9adb 50%,#959fdd 53.12%,#9ba4df 56.25%,#a1aae1 59.38%,#a8b0e3 62.5%,#afb6e5 65.62%,#b6bde8 68.75%,#bec4ea 71.88%,#c6cced 75%,#d0d4f0 78.12%,#d9ddf3 81.25%,#e4e7f6 84.38%,#f0f2fa 87.5%,#fefeff 90.62%,#fdf9f9 93.75%,#faf1f2 96.88%,#f7e8ea 100%)"></i><i style="background:linear-gradient(#4d5dc6 0%,#5060c7 3.125%,#5363c8 6.25%,#5666c9 9.375%,#5a69ca 12.5%,#5d6ccb 15.62%,#6170cd 18.75%,#6573ce 21.88%,#6977cf 25%,#6d7ad0 28.12%,#717ed2 31.25%,#7582d3 34.38%,#7a86d4 37.5%,#7f8ad6 40.62%,#848fd8 43.75%,#8994d9 46.88%,#8e98db 50%,#949edd 53.12%,#9aa3df 56.25%,#a0a9e1 59.38%,#a7afe3 62.5%,#adb5e5 65.62%,#b5bce7 68.75%,#bdc3ea 71.88%,#c5cbed 75%,#ced3ef 78.12%,#d8dcf3 81.25%,#e3e6f6 84.38%,#eff1fa 87.5%,#fcfdfe 90.62%,#fdf9fa 93.75%,#faf1f3 96.88%,#f7e8eb 100%)"></i><i style="background:linear-gradient(#4b5cc6 0%,#4f5fc7 3.125%,#5262c8 6.25%,#5565c9 9.375%,#5968ca 12.5%,#5c6bcb 15.62%,#606ecc 18.75%,#6472cd 21.88%,#6875cf 25%,#6c79d0 28.12%,#707dd1 31.25%,#7481d3 34.38%,#7985d4 37.5%,#7e89d6 40.62%,#828ed7 43.75%,#8893d9 46.88%,#8d97db 50%,#939ddc 53.12%,#99a2de 56.25%,#9fa8e0 59.38%,#a5aee2 62.5%,#acb4e5 65.62%,#b4bbe7 68.75%,#bcc2e9 71.88%,#c4c9ec 75%,#cdd2ef 78.12%,#d7dbf2 81.25%,#e2e5f6 84.38%,#eeeffa 87.5%,#fbfcfe 90.62%,#fdfafa 93.75%,#fbf2f3 96.88%,#f7e9eb 100%)"></i><i style="background:linear-gradient(#4a5bc5 0%,#4d5ec6 3.125%,#5161c7 6.25%,#5464c8 9.375%,#5767c9 12.5%,#5b6acb 15.62%,#5f6dcc 18.75%,#6371cd 21.88%,#6674ce 25%,#6b78d0 28.12%,#6f7cd1 31.25%,#7380d2 34.38%,#7884d4 37.5%,#7c88d5 40.62%,#818dd7 43.75%,#8691d8 46.88%,#8c96da 50%,#919bdc 53.12%,#97a1de 56.25%,#9ea6e0 59.38%,#a4ace2 62.5%,#abb3e4 65.62%,#b3b9e7 68.75%,#bac1e9 71.88%,#c3c8ec 75%,#ccd1ef 78.12%,#d6daf2 81.25%,#e1e4f5 84.38%,#edeef9 87.5%,#fafafd 90.62%,#fdfafb 93.75%,#fbf3f4 96.88%,#f8e9ec 100%)"></i><i style="background:linear-gradient(#495ac5 0%,#4c5dc6 3.125%,#4f60c7 6.25%,#5363c8 9.375%,#5666c9 12.5%,#5a69ca 15.62%,#5e6ccb 18.75%,#6170cd 21.88%,#6573ce 25%,#6977cf 28.12%,#6e7bd0 31.25%,#727fd2 34.38%,#7683d3 37.5%,#7b87d5 40.62%,#808cd6 43.75%,#8590d8 46.88%,#8b95da 50%,#909adc 53.12%,#96a0dd 56.25%,#9ca5df 59.38%,#a3abe2 62.5%,#aab2e4 65.62%,#b1b8e6 68.75%,#b9c0e9 71.88%,#c2c7eb 75%,#cbd0ee 78.12%,#d5d9f1 81.25%,#e0e2f5 84.38%,#ecedf9 87.5%,#f9f9fd 90.62%,#fefbfb 93.75%,#fbf3f4 96.88%,#f8eaec 100%)"></i><i style="background:linear-gradient(#4859c4 0%,#4b5bc5 3.125%,#4e5ec6 6.25%,#5262c8 9.375%,#5565c9 12.5%,#5968ca 15.62%,#5c6bcb 18.75%,#606fcc 21.88%,#6472cd 25%,#6876cf 28.12%,#6c7ad0 31.25%,#717ed2 34.38%,#7582d3 37.5%,#7a86d4 40.62%,#7f8bd6 43.75%,#848fd8 46.88%,#8994d9 50%,#8f99db 53.12%,#959fdd 56.25%,#9ba4df 59.38%,#a2aae1 62.5%,#a9b1e3 65.62%,#b0b7e6 68.75%,#b8bfe8 71.88%,#c1c6eb 75%,#cacfee 78.12%,#d4d8f1 81.25%,#dee1f5 84.38%,#eaecf8 87.5%,#f8f8fd 90.62%,#fefcfc 93.75%,#fbf4f5 96.88%,#f8eaed 100%)"></i><i style="background:linear-gradient(#4758c4 0%,#4a5ac5 3.125%,#4d5dc6 6.25%,#5160c7 9.375%,#5464c8 12.5%,#5867c9 15.62%,#5b6acb 18.75%,#5f6ecc 21.88%,#6371cd 25%,#6775ce 28.12%,#6b79d0 31.25%,#707dd1 34.38%,#7481d3 37.5%,#7985d4 40.62%,#7e8ad6 43.75%,#838ed7 46.88%,#8893d9 50%,#8e98db 53.12%,#949edd 56.25%,#9aa3df 59.38%,#a1a9e1 62.5%,#a8b0e3 65.62%,#afb6e5 68.75%,#b7bde8 71.88%,#bfc5eb 75%,#c9cdee 78.12%,#d2d6f1 81.25%,#dde0f4 84.38%,#e9ebf8 87.5%,#f6f7fc 90.62%,#fefcfc 93.75%,#fbf4f5 96.88%,#f8ebed 100%)"></i><i style="background:linear-gradient(#4656c4 0%,#4959c5 3.125%,#4c5cc6 6.25%,#4f5fc7 9.375%,#5363c8 12.5%,#5666c9 15.62%,#5a69ca 18.75%,#5e6dcb 21.88%,#6270cd 25%,#6674ce 28.12%,#6a78cf 31.25%,#6e7cd1 34.38%,#7380d2 37.5%,#7884d4 40.62%,#7d89d5 43.75%,#828dd7 46.88%,#8792d9 50%,#8d97da 53.12%,#939ddc 56.25%,#99a2de 59.38%,#9fa8e0 62.5%,#a6afe3 65.62%,#aeb5e5 68.75%,#b6bce8 71.88%,#bec4ea 75%,#c7cced 78.12%,#d1d5f0 81.25%,#dcdff4 84.38%,#e8eaf8 87.5%,#f5f6fc 90.62%,#fefdfd 93.75%,#fbf5f6 96.88%,#f8ebee 100%)"></i><i style="background:linear-gradient(#4455c3 0%,#4858c4 3.125%,#4b5bc5 6.25%,#4e5ec6 9.375%,#5262c8 12.5%,#5565c9 15.62%,#5968ca 18.75%,#5d6ccb 21.88%,#616fcc 25%,#6573ce 28.12%,#6977cf 31.25%,#6d7bd0 34.38%,#727fd2 37.5%,#7783d3 40.62%,#7b88d5 43.75%,#818cd7 46.88%,#8691d8 50%,#8c96da 53.12%,#929cdc 56.25%,#98a1de 59.38%,#9ea7e0 62.5%,#a5ade2 65.62%,#adb4e5 68.75%,#b5bbe7 71.88%,#bdc3ea 75%,#c6cbed 78.12%,#d0d4f0 81.25%,#dbdef3 84.38%,#e7e9f7 87.5%,#f4f5fc 90.62%,#fefdfd 93.75%,#fcf5f6 96.88%,#f9ecee 100%)"></i><i style="background:linear-gradient(#4354c3 0%,#4657c4 3.125%,#4a5ac5 6.25%,#4d5dc6 9.375%,#5160c7 12.5%,#5464c8 15.62%,#5867ca 18.75%,#5c6bcb 21.88%,#606ecc 25%,#6472cd 28.12%,#6876cf 31.25%,#6c7ad0 34.38%,#717ed1 37.5%,#7582d3 40.62%,#7a86d5 43.75%,#7f8bd6 46.88%,#8590d8 50%,#8a95da 53.12%,#909adc 56.25%,#97a0de 59.38%,#9da6e0 62.5%,#a4ace2 65.62%,#acb3e4 68.75%,#b3bae7 71.88%,#bcc2ea 75%,#c5caec 78.12%,#cfd3f0 81.25%,#daddf3 84.38%,#e6e8f7 87.5%,#f3f4fb 90.62%,#fffefe 93.75%,#fcf6f7 96.88%,#f9edee 100%)"></i><i style="background:linear-gradient(#4253c3 0%,#4556c4 3.125%,#4959c5 6.25%,#4c5cc6 9.375%,#4f5fc7 12.5%,#5363c8 15.62%,#5766c9 18.75%,#5a69ca 21.88%,#5e6dcc 25%,#6271cd 28.12%,#6775ce 31.25%,#6b79d0 34.38%,#707dd1 37.5%,#7481d3 40.62%,#7985d4 43.75%,#7e8ad6 46.88%,#848fd8 50%,#8994d9 53.12%,#8f99db 56.25%,#959fdd 59.38%,#9ca5df 62.5%,#a3abe2 65.62%,#aab2e4 68.75%,#b2b9e6 71.88%,#bbc1e9 75%,#c4c9ec 78.12%,#ced2ef 81.25%,#d9dcf3 84.38%,#e5e7f7 87.5%,#f2f3fb 90.62%,#fffefe 93.75%,#fcf6f7 96.88%,#f9edef 100%)"></i><i style="background:linear-gradient(#4152c2 0%,#4455c3 3.125%,#4758c4 6.25%,#4b5bc5 9.375%,#4e5ec6 12.5%,#5262c8 15.62%,#5665c9 18.75%,#5968ca 21.88%,#5d6ccb 25%,#6170cd 28.12%,#6674ce 31.25%,#6a78cf 34.38%,#6e7cd1 37.5%,#7380d2 40.62%,#7884d4 43.75%,#7d89d5 46.88%,#838ed7 50%,#8893d9 53.12%,#8e98db 56.25%,#949edd 59.38%,#9ba4df 62.5%,#a2aae1 65.62%,#a9b1e4 68.75%,#b1b8e6 71.88%,#bac0e9 75%,#c3c8ec 78.12%,#cdd1ef 81.25%,#d8dbf2 84.38%,#e3e6f6 87.5%,#f1f2fa 90.62%,#ffffff 93.75%,#fcf7f8 96.88%,#f9eeef 100%)"></i><i style="background:linear-gradient(#4051c2 0%,#4354c3 3.125%,#4657c4 6.25%,#4a5ac5 9.375%,#4d5dc6 12.5%,#5161c7 15.62%,#5464c8 18.75%,#5867ca 21.88%,#5c6bcb 25%,#606fcc 28.12%,#6473ce 31.25%,#6976cf 34.38%,#6d7bd0 37.5%,#727fd2 40.62%,#7783d3 43.75%,#7c88d5 46.88%,#818dd7 50%,#8792d9 53.12%,#8d97db 56.25%,#939ddd 59.38%,#9aa3df 62.5%,#a1a9e1 65.62%,#a8b0e3 68.75%,#b0b7e6 71.88%,#b9bfe8 75%,#c2c7eb 78.12%,#ccd0ef 81.25%,#d6daf2 84.38%,#e2e5f6 87.5%,#f0f1fa 90.62%,#ffffff 93.75%,#fcf7f8 96.88%,#f9eef0 100%)"></i><i style="background:linear-gradient(#3f50c2 0%,#4253c3 3.125%,#4556c4 6.25%,#4959c5 9.375%,#4c5cc6 12.5%,#5060c7 15.62%,#5363c8 18.75%,#5766c9 21.88%,#5b6acb 25%,#5f6ecc 28.12%,#6371cd 31.25%,#6875cf 34.38%,#6c7ad0 37.5%,#717ed2 40.62%,#7682d3 43.75%,#7b87d5 46.88%,#808cd6 50%,#8691d8 53.12%,#8c96da 56.25%,#929cdc 59.38%,#99a2de 62.5%,#a0a8e0 65.62%,#a7afe3 68.75%,#afb6e5 71.88%,#b7bee8 75%,#c1c6eb 78.12%,#cacfee 81.25%,#d5d9f2 84.38%,#e1e4f5 87.5%,#eef0fa 90.62%,#fdfeff 93.75%,#fdf8f9 96.88%,#f9eff0 100%)"></i><i style="background:linear-gradient(#3e4fc1 0%,#4152c2 3.125%,#4455c3 6.25%,#4758c4 9.375%,#4b5bc5 12.5%,#4e5fc7 15.62%,#5262c8 18.75%,#5665c9 21.88%,#5a69ca 25%,#5e6dcb 28.12%,#6270cd 31.25%,#6774ce 34.38%,#6b79d0 37.5%,#707dd1 40.62%,#7581d3 43.75%,#7a86d4 46.88%,#7f8bd6 50%,#8590d8 53.12%,#8b95da 56.25%,#919bdc 59.38%,#98a1de 62.5%,#9ea7e0 65.62%,#a6aee3 68.75%,#aeb5e5 71.88%,#b6bde8 75%,#bfc5eb 78.12%,#c9ceee 81.25%,#d4d8f1 84.38%,#e0e3f5 87.5%,#edeff9 90.62%,#fcfdfe 93.75%,#fdf8f9 96.88%,#faeff1 100%)"></i><i style="background:linear-gradient(#3c4ec1 0%,#4051c2 3.125%,#4354c3 6.25%,#4657c4 9.375%,#4a5ac5 12.5%,#4d5ec6 15.62%,#5161c7 18.75%,#5564c9 21.88%,#5968ca 25%,#5d6ccb 28.12%,#616fcc 31.25%,#6573ce 34.38%,#6a78cf 37.5%,#6f7cd1 40.62%,#7480d2 43.75%,#7985d4 46.88%,#7e8ad6 50%,#848fd8 53.12%,#8a94d9 56.25%,#909adb 59.38%,#96a0de 62.5%,#9da6e0 65.62%,#a5ade2 68.75%,#adb4e5 71.88%,#b5bce7 75%,#bec4ea 78.12%,#c8cded 81.25%,#d3d7f1 84.38%,#dfe2f5 87.5%,#eceef9 90.62%,#fbfcfe 93.75%,#fdf9fa 96.88%,#faf0f1 100%)"></i><i style="background:linear-gradient(#3b4dc0 0%,#3f50c1 3.125%,#4253c3 6.25%,#4556c4 9.375%,#4959c5 12.5%,#4c5dc6 15.62%,#5060c7 18.75%,#5463c8 21.88%,#5867c9 25%,#5c6bcb 28.12%,#606ecc 31.25%,#6472ce 34.38%,#6977cf 37.5%,#6e7bd0 40.62%,#727fd2 43.75%,#7884d4 46.88%,#7d89d5 50%,#838ed7 53.12%,#8993d9 56.25%,#8f99db 59.38%,#959fdd 62.5%,#9ca5df 65.62%,#a4ace2 68.75%,#acb3e4 71.88%,#b4bbe7 75%,#bdc3ea 78.12%,#c7cced 81.25%,#d2d6f1 84.38%,#dee1f4 87.5%,#ebedf9 90.62%,#fafbfd 93.75%,#fdf9fa 96.88%,#faf0f2 100%)"></i><i style="background:linear-gradient(#3a4cc0 0%,#3d4fc1 3.125%,#4152c2 6.25%,#4455c3 9.375%,#4858c4 12.5%,#4b5cc5 15.62%,#4f5fc7 18.75%,#5362c8 21.88%,#5766c9 25%,#5b6aca 28.12%,#5f6dcc 31.25%,#6371cd 34.38%,#6876cf 37.5%,#6c7ad0 40.62%,#717ed2 43.75%,#7683d3 46.88%,#7c88d5 50%,#818dd7 53.12%,#8792d9 56.25%,#8e98db 59.38%,#949edd 62.5%,#9ba4df 65.62%,#a3abe1 68.75%,#aab2e4 71.88%,#b3bae7 75%,#bcc2ea 78.12%,#c6cbed 81.25%,#d1d5f0 84.38%,#dde0f4 87.5%,#eaecf8 90.62%,#f9fafd 93.75%,#fdfafa 96.88%,#faf1f2 100%)"></i><i style="background:linear-gradient(#3a4cc0 0%,#3c4ec1 3.125%,#4051c2 6.25%,#4354c3 9.375%,#4657c4 12.5%,#4a5bc5 15.62%,#4e5ec6 18.75%,#5261c8 21.88%,#5565c9 25%,#5a69ca 28.12%,#5e6ccb 31.25%,#6270cd 34.38%,#6775ce 37.5%,#6b79d0 40.62%,#707dd1 43.75%,#7582d3 46.88%,#7b87d5 50%,#808cd7 53.12%,#8691d8 56.25%,#8d97da 59.38%,#939ddc 62.5%,#9aa3df 65.62%,#a1aae1 68.75%,#a9b1e4 71.88%,#b2b9e6 75%,#bbc1e9 78.12%,#c5caec 81.25%,#d0d4f0 84.38%,#dcdff4 87.5%,#e9ebf8 90.62%,#f8f9fd 93.75%,#fdfafb 96.88%,#faf1f3 100%)"></i><i style="background:linear-gradient(#3a4cc0 0%,#3b4dc0 3.125%,#3f50c1 6.25%,#4253c3 9.375%,#4556c4 12.5%,#495ac5 15.62%,#4d5dc6 18.75%,#5060c7 21.88%,#5464c8 25%,#5868ca 28.12%,#5d6bcb 31.25%,#616fcc 34.38%,#6674ce 37.5%,#6a78cf 40.62%,#6f7cd1 43.75%,#7481d3 46.88%,#7a86d4 50%,#7f8bd6 53.12%,#8590d8 56.25%,#8b96da 59.38%,#929cdc 62.5%,#99a2de 65.62%,#a0a9e1 68.75%,#a8b0e3 71.88%,#b1b8e6 75%,#bac0e9 78.12%,#c4c9ec 81.25%,#cfd3f0 84.38%,#dbdef3 87.5%,#e8eaf8 90.62%,#f7f8fc 93.75%,#fefbfb 96.88%,#faf2f3 100%)"></i><i style="background:linear-gradient(#3a4cc0 0%,#3a4cc0 3.125%,#3d4fc1 6.25%,#4152c2 9.375%,#4455c3 12.5%,#4859c4 15.62%,#4c5cc6 18.75%,#4f5fc7 21.88%,#5363c8 25%,#5767c9 28.12%,#5c6acb 31.25%,#606ecc 34.38%,#6473ce 37.5%,#6977cf 40.62%,#6e7bd1 43.75%,#7380d2 46.88%,#7985d4 50%,#7e8ad6 53.12%,#848fd8 56.25%,#8a95da 59.38%,#919bdc 62.5%,#98a1de 65.62%,#9fa8e0 68.75%,#a7afe3 71.88%,#b0b7e6 75%,#b9bfe9 78.12%,#c3c8ec 81.25%,#ced2ef 84.38%,#d9ddf3 87.5%,#e7e9f7 90.62%,#f6f7fc 93.75%,#fefbfc 96.88%,#fbf2f3 100%)"></i><i style="background:linear-gradient(#3a4cc0 0%,#3a4cc0 3.125%,#3c4ec1 6.25%,#4051c2 9.375%,#4354c3 12.5%,#4758c4 15.62%,#4a5bc5 18.75%,#4e5ec6 21.88%,#5262c8 25%,#5666c9 28.12%,#5a69ca 31.25%,#5f6dcc 34.38%,#6372cd 37.5%,#6876cf 40.62%,#6d7ad0 43.75%,#727fd2 46.88%,#7784d4 50%,#7d89d5 53.12%,#838ed7 56.25%,#8994d9 59.38%,#909adb 62.5%,#97a0de 65.62%,#9ea7e0 68.75%,#a6aee3 71.88%,#afb6e5 75%,#b8bee8 78.12%,#c2c7eb 81.25%,#ccd1ef 84.38%,#d8dcf3 87.5%,#e6e8f7 90.62%,#f5f6fc 93.75%,#fefcfc 96.88%,#fbf3f4 100%)"></i><i style="background:linear-gradient(#3a4cc0 0%,#3a4cc0 3.125%,#3b4dc0 6.25%,#3f50c1 9.375%,#4253c3 12.5%,#4657c4 15.62%,#495ac5 18.75%,#4d5dc6 21.88%,#5161c7 25%,#5565c9 28.12%,#5968ca 31.25%,#5e6ccb 34.38%,#6271cd 37.5%,#6775ce 40.62%,#6c79d0 43.75%,#717ed2 46.88%,#7683d3 50%,#7c88d5 53.12%,#828dd7 56.25%,#8893d9 59.38%,#8f99db 62.5%,#969fdd 65.62%,#9da6e0 68.75%,#a5ade2 71.88%,#adb5e5 75%,#b7bde8 78.12%,#c1c6eb 81.25%,#cbd0ee 84.38%,#d7dbf2 87.5%,#e5e7f7 90.62%,#f4f5fb 93.75%,#fefcfd 96.88%,#fbf3f4 100%)"></i><i style="background:linear-gradient(#3a4cc0 0%,#3a4cc0 3.125%,#3a4cc0 6.25%,#3e4fc1 9.375%,#4152c2 12.5%,#4556c3 15.62%,#4859c5 18.75%,#4c5cc6 21.88%,#5060c7 25%,#5464c8 28.12%,#5868ca 31.25%,#5d6bcb 34.38%,#6170cd 37.5%,#6674ce 40.62%,#6b78d0 43.75%,#707dd1 46.88%,#7582d3 50%,#7b87d5 53.12%,#818cd7 56.25%,#8792d9 59.38%,#8e98db 62.5%,#959edd 65.62%,#9ca5df 68.75%,#a4ace2 71.88%,#acb4e5 75%,#b6bce8 78.12%,#bfc5eb 81.25%,#cacfee 84.38%,#d6daf2 87.5%,#e4e6f6 90.62%,#f2f4fb 93.75%,#fefdfd 96.88%,#fbf4f5 100%)"></i></div>
<div class="cb" style="left:260px;top:118px;width:10px;height:61px;background:linear-gradient(#cd3228 0.0%,#d8703c 24.6%,#d8a848 50.0%,#c4b058 62.3%,#a0b868 75.4%,#70b08c 85.2%,#5096b4 91.8%,#3c5ac8 96.7%,#4028aa 99.2%,#5a2496 100.0%)"></div>
<div class="cb" style="left:541px;top:101px;width:10px;height:92px;background:linear-gradient(#b01830,#b21e35,#b4253b,#b72c42,#b93348,#bb394e,#be4054,#c0475b,#c34e61,#c55567,#c75c6d,#ca6374,#cc6a7a,#cf7180,#d17886,#d37f8d,#d68693,#d88d99,#da949f,#dd9ba6,#dfa2ac,#e2a9b2,#e4b0b8,#e6b7bf,#e9bec5,#ebc5cb,#eeccd1,#f0d3d8,#f2dade,#f5e1e4,#f7e8ea,#faeff1,#fcf6f7,#fefdfd,#f4f5fc,#e5e7f7,#d6daf2,#c7cced,#b7bee8,#a8b0e3,#99a2de,#8a94d9,#7a86d5,#6b79d0,#5c6bcb,#4d5dc6,#3d4fc1)"></div>
<svg width="568" height="240" viewBox="0 0 568 240">
<path d="M90.3 8.0 L90.2 9.7 L90.1 11.4 L90.0 13.1 L89.9 14.8 L89.8 16.5 L89.7 18.2 L89.6 19.9 L89.5 21.6 L89.4 23.3 L89.3 25.0 L89.1 26.8 L89.0 28.5 L88.9 30.2 L88.8 31.9 L88.7 33.6 L88.5 35.3 L88.4 37.0 L88.3 38.7 L88.1 40.4 L88.0 42.1 L87.9 43.8 L87.7 45.5 L87.6 47.2 L87.4 48.9 L87.3 50.6 L87.1 52.3 L87.0 54.0 L86.9 55.7 L86.7 57.4 L86.6 59.1 L86.4 60.8 L86.3 62.5 L86.2 64.3 L86.0 66.0 L85.9 67.7 L85.8 69.4 L85.6 71.1 L85.5 72.8 L85.4 74.5 L85.2 76.2 L85.1 77.9 L84.9 79.6 L84.8 81.3 L84.7 83.0 L84.5 84.7 L84.3 86.4 L84.2 88.1 L84.0 89.8 L83.8 91.5 L83.7 93.2 L83.5 94.9 L83.3 96.6 L83.1 98.3 L82.9 100.0 L82.7 101.8 L82.5 103.5 L82.3 105.2 L82.1 106.9 L81.8 108.6 L81.6 110.3 L81.4 112.0 L81.1 113.7 L80.9 115.4 L80.7 117.1 L80.4 118.8 L80.2 120.5 L79.9 122.2 L79.7 123.9 L79.4 125.6 L79.2 127.3 L78.9 129.0 L78.6 130.7 L78.4 132.4 L78.1 134.1 L77.8 135.8 L77.6 137.5 L77.3 139.3 L77.0 141.0 L76.7 142.7 L76.4 144.4 L76.1 146.1 L75.8 147.8 L75.4 149.5 L75.1 151.2 L74.8 152.9 L74.4 154.6 L74.1 156.3 L73.8 158.0 L73.4 159.7 L73.1 161.4 L72.7 163.1 L72.3 164.8 L71.8 166.5 L71.3 168.2 L70.7 169.9 L69.9 171.6 L69.2 173.3 L68.4 175.0 L67.8 176.8 L67.1 178.5 L66.5 180.2 L65.8 181.9 L65.2 183.6 L64.5 185.3 L63.9 187.0 L63.2 188.7 L62.5 190.4 L61.9 192.1 L61.2 193.8" fill="none" stroke="#fff" stroke-width="1.05" stroke-dasharray="3.6 2.7" opacity=".95"/>
<path d="M114.1 8.0 L114.0 9.7 L113.9 11.4 L113.7 13.1 L113.6 14.8 L113.4 16.5 L113.3 18.2 L113.1 19.9 L112.9 21.6 L112.8 23.3 L112.6 25.0 L112.4 26.8 L112.2 28.5 L112.0 30.2 L111.8 31.9 L111.6 33.6 L111.4 35.3 L111.2 37.0 L110.9 38.7 L110.7 40.4 L110.4 42.1 L110.2 43.8 L109.9 45.5 L109.6 47.2 L109.3 48.9 L109.0 50.6 L108.7 52.3 L108.5 54.0 L108.2 55.7 L107.9 57.4 L107.6 59.1 L107.4 60.8 L107.1 62.5 L106.9 64.3 L106.6 66.0 L106.4 67.7 L106.2 69.4 L105.9 71.1 L105.7 72.8 L105.5 74.5 L105.2 76.2 L105.0 77.9 L104.7 79.6 L104.5 81.3 L104.2 83.0 L104.0 84.7 L103.7 86.4 L103.4 88.1 L103.1 89.8 L102.8 91.5 L102.5 93.2 L102.2 94.9 L101.9 96.6 L101.6 98.3 L101.2 100.0 L100.9 101.8 L100.6 103.5 L100.2 105.2 L99.9 106.9 L99.5 108.6 L99.1 110.3 L98.7 112.0 L98.4 113.7 L98.0 115.4 L97.6 117.1 L97.2 118.8 L96.8 120.5 L96.4 122.2 L96.0 123.9 L95.5 125.6 L95.1 127.3 L94.7 129.0 L94.2 130.7 L93.8 132.4 L93.3 134.1 L92.8 135.8 L92.4 137.5 L91.9 139.3 L91.4 141.0 L90.8 142.7 L90.3 144.4 L89.7 146.1 L89.1 147.8 L88.5 149.5 L87.9 151.2 L87.3 152.9 L86.7 154.6 L86.2 156.3 L85.6 158.0 L85.0 159.7 L84.5 161.4 L83.9 163.1 L83.2 164.8 L82.5 166.5 L81.8 168.2 L80.9 169.9 L80.0 171.6 L79.0 173.3 L77.9 175.0 L76.8 176.8 L75.8 178.5 L74.7 180.2 L73.5 181.9 L72.3 183.6 L70.9 185.3 L69.5 187.0 L67.9 188.7 L66.0 190.4 L63.8 192.1 L61.3 193.8" fill="none" stroke="#fff" stroke-width="1.05" stroke-dasharray="3.6 2.7" opacity=".95"/>
<path d="M150.4 8.0 L150.0 9.7 L149.6 11.4 L149.2 13.1 L148.9 14.8 L148.5 16.5 L148.1 18.2 L147.7 19.9 L147.3 21.6 L146.9 23.3 L146.5 25.0 L146.1 26.8 L145.7 28.5 L145.3 30.2 L144.9 31.9 L144.5 33.6 L144.1 35.3 L143.7 37.0 L143.3 38.7 L142.9 40.4 L142.5 42.1 L142.1 43.8 L141.7 45.5 L141.3 47.2 L140.9 48.9 L140.5 50.6 L140.1 52.3 L139.7 54.0 L139.3 55.7 L138.9 57.4 L138.5 59.1 L138.1 60.8 L137.7 62.5 L137.3 64.3 L136.9 66.0 L136.5 67.7 L136.1 69.4 L135.7 71.1 L135.4 72.8 L135.0 74.5 L134.6 76.2 L134.2 77.9 L133.8 79.6 L133.3 81.3 L132.9 83.0 L132.5 84.7 L132.0 86.4 L131.5 88.1 L131.1 89.8 L130.5 91.5 L130.0 93.2 L129.5 94.9 L128.9 96.6 L128.3 98.3 L127.7 100.0 L127.1 101.8 L126.5 103.5 L125.9 105.2 L125.2 106.9 L124.6 108.6 L123.9 110.3 L123.3 112.0 L122.6 113.7 L122.0 115.4 L121.3 117.1 L120.7 118.8 L120.1 120.5 L119.5 122.2 L118.8 123.9 L118.2 125.6 L117.6 127.3 L117.0 129.0 L116.4 130.7 L115.8 132.4 L115.1 134.1 L114.4 135.8 L113.7 137.5 L112.9 139.3 L112.1 141.0 L111.2 142.7 L110.3 144.4 L109.4 146.1 L108.5 147.8 L107.5 149.5 L106.6 151.2 L105.7 152.9 L104.8 154.6 L103.8 156.3 L102.9 158.0 L101.9 159.7 L101.0 161.4 L99.9 163.1 L98.8 164.8 L97.7 166.5 L96.4 168.2 L95.0 169.9 L93.5 171.6 L91.8 173.3 L90.2 175.0 L88.6 176.8 L87.0 178.5 L85.4 180.2 L83.6 181.9 L81.5 183.6 L79.2 185.3 L76.5 187.0 L73.5 188.7 L70.3 190.4 L66.4 192.1 L61.5 193.8" fill="none" stroke="#fff" stroke-width="1.05" stroke-dasharray="3.6 2.7" opacity=".95"/>
<path d="M202.2 8.0 L201.7 9.7 L201.1 11.4 L200.6 13.1 L200.0 14.8 L199.4 16.5 L198.9 18.2 L198.3 19.9 L197.7 21.6 L197.1 23.3 L196.5 25.0 L195.9 26.8 L195.3 28.5 L194.7 30.2 L194.1 31.9 L193.5 33.6 L192.9 35.3 L192.3 37.0 L191.7 38.7 L191.0 40.4 L190.4 42.1 L189.8 43.8 L189.1 45.5 L188.5 47.2 L187.9 48.9 L187.2 50.6 L186.6 52.3 L185.9 54.0 L185.2 55.7 L184.5 57.4 L183.9 59.1 L183.2 60.8 L182.5 62.5 L181.7 64.3 L181.0 66.0 L180.3 67.7 L179.6 69.4 L178.9 71.1 L178.1 72.8 L177.4 74.5 L176.6 76.2 L175.9 77.9 L175.1 79.6 L174.3 81.3 L173.5 83.0 L172.8 84.7 L172.0 86.4 L171.2 88.1 L170.3 89.8 L169.5 91.5 L168.7 93.2 L167.9 94.9 L167.0 96.6 L166.2 98.3 L165.3 100.0 L164.4 101.8 L163.6 103.5 L162.7 105.2 L161.8 106.9 L160.9 108.6 L159.9 110.3 L159.0 112.0 L158.0 113.7 L157.1 115.4 L156.1 117.1 L155.1 118.8 L154.1 120.5 L153.1 122.2 L152.0 123.9 L150.9 125.6 L149.8 127.3 L148.6 129.0 L147.5 130.7 L146.3 132.4 L145.1 134.1 L143.9 135.8 L142.7 137.5 L141.5 139.3 L140.3 141.0 L139.1 142.7 L137.9 144.4 L136.7 146.1 L135.5 147.8 L134.4 149.5 L133.2 151.2 L132.1 152.9 L131.1 154.6 L130.0 156.3 L128.8 158.0 L127.5 159.7 L125.9 161.4 L124.0 163.1 L121.9 164.8 L119.7 166.5 L117.6 168.2 L115.8 169.9 L114.0 171.6 L112.2 173.3 L110.4 175.0 L108.4 176.8 L106.2 178.5 L103.5 180.2 L99.8 181.9 L96.1 183.6 L92.7 185.3 L89.3 187.0 L86.2 188.7 L82.5 190.4 L76.2 192.1 L63.5 193.8" fill="none" stroke="#fff" stroke-width="1.05" stroke-dasharray="3.6 2.7" opacity=".95"/>
<path d="M406.7 10.4 L408.3 17.6 L409.9 24.4 L411.4 30.9 L413.0 37.0 L414.6 42.9 L416.1 48.5 L417.7 53.8 L419.3 58.9 L420.9 63.8 L422.4 68.4 L424.0 72.9 L425.6 77.1 L427.1 81.2 L428.7 85.1 L430.3 88.9 L431.9 92.5 L433.4 95.9 L435.0 99.2 L436.6 102.4 L438.1 105.5 L439.7 108.5 L441.3 111.3 L442.9 114.1 L444.4 116.7 L446.0 119.3 L447.6 121.7 L449.1 124.1 L450.7 126.4 L452.3 128.6 L453.9 130.8 L455.4 132.8 L457.0 134.8 L458.6 136.8 L460.1 138.7 L461.7 140.5 L463.3 142.2 L464.9 143.9 L466.4 145.6 L468.0 147.2 L469.6 148.8 L471.1 150.3 L472.7 151.7 L474.3 153.2 L475.9 154.5 L477.4 155.9 L479.0 157.2 L480.6 158.5 L482.1 159.7 L483.7 160.9 L485.3 162.1 L486.9 163.2 L488.4 164.3 L490.0 165.4 L491.6 166.4 L493.1 167.5 L494.7 168.5 L496.3 169.4 L497.9 170.4 L499.4 171.3 L501.0 172.2 L502.6 173.1 L504.1 173.9 L505.7 174.7 L507.3 175.6 L508.9 176.4 L510.4 177.1 L512.0 177.9 L513.6 178.6 L515.1 179.4 L516.7 180.1 L518.3 180.8 L519.9 181.4 L521.4 182.1 L523.0 182.7 L524.6 183.4 L526.1 184.0 L527.7 184.6 L529.3 185.2 L530.9 185.7" fill="none" stroke="#1a1a1a" stroke-width="1.15" stroke-dasharray="5 4" stroke-dashoffset="2.5"/>
<path d="M61 45.58h6M61 83.15h6M61 120.73h6M61 158.30h6" stroke="#3a3020" stroke-opacity=".75" stroke-width="1" fill="none"/>
<path d="M100.37 194v-5M149.58 194v-5M198.79 194v-5" stroke="#c8c8e8" stroke-opacity=".8" stroke-width="1" fill="none"/>
<path d="M347 69.80h5.5" stroke="#7a5060" stroke-opacity=".7" stroke-width="1" fill="none"/>
<path d="M347 132.40h5.5" stroke="#fff" stroke-opacity=".75" stroke-width="1" fill="none"/>
<path d="M399.63 194v-5M466.41 194v-5" stroke="#8a7078" stroke-opacity=".85" stroke-width="1" fill="none"/>
<path d="M551 114.10h2.5M551 131.80h5.5M551 149.50h2.5M551 167.20h5.5M551 184.90h2.5" stroke="#444" stroke-width="1" fill="none"/>
<text x="0.6" y="16.6" text-anchor="start" font-size="20" fill="#000" font-weight="bold" class="p">(a)</text>
<text x="290.6" y="16.6" text-anchor="start" font-size="20" fill="#000" font-weight="bold" class="p">(b)</text>
<text x="55.0" y="15.3" text-anchor="end" font-size="15" fill="#000" >10</text>
<text x="55.0" y="50.9" text-anchor="end" font-size="15" fill="#000" >8</text>
<text x="55.0" y="88.5" text-anchor="end" font-size="15" fill="#000" >6</text>
<text x="55.0" y="126.0" text-anchor="end" font-size="15" fill="#000" >4</text>
<text x="55.0" y="163.6" text-anchor="end" font-size="15" fill="#000" >2</text>
<text x="53.5" y="199.3" text-anchor="end" font-size="15" fill="#000" >0.1</text>
<text x="62.5" y="212.7" text-anchor="middle" font-size="15" fill="#000" >1</text>
<text x="100.4" y="212.7" text-anchor="middle" font-size="15" fill="#000" >5</text>
<text x="149.6" y="212.7" text-anchor="middle" font-size="15" fill="#000" >10</text>
<text x="198.8" y="212.7" text-anchor="middle" font-size="15" fill="#000" >15</text>
<text x="246.2" y="212.7" text-anchor="middle" font-size="15" fill="#000" >20</text>
<text x="339.8" y="15.1" text-anchor="end" font-size="15" fill="#000" >7</text>
<text x="339.8" y="75.8" text-anchor="end" font-size="15" fill="#000" >5</text>
<text x="339.8" y="137.8" text-anchor="end" font-size="15" fill="#000" >3</text>
<text x="340.5" y="195.8" text-anchor="end" font-size="15" fill="#000" >1</text>
<text x="349.7" y="212.7" text-anchor="middle" font-size="15" fill="#000" >1</text>
<text x="400.4" y="212.7" text-anchor="middle" font-size="15" fill="#000" >5</text>
<text x="467.2" y="212.7" text-anchor="middle" font-size="15" fill="#000" >10</text>
<text x="532.0" y="212.7" text-anchor="middle" font-size="15" fill="#000" >15</text>
<text x="265.0" y="111.0" text-anchor="middle" font-size="15" fill="#000" >240</text>
<text x="265.0" y="197.0" text-anchor="middle" font-size="15" fill="#000" >0</text>
<text x="558.5" y="137.0" text-anchor="start" font-size="15" fill="#000" >1</text>
<text x="558.5" y="172.0" text-anchor="start" font-size="15" fill="#000" >0</text>
<text x="97.2" y="36.3" text-anchor="middle" font-size="13.5" fill="#fff" class="w">40</text>
<text x="118.8" y="40.8" text-anchor="middle" font-size="13.5" fill="#fff" class="w">20</text>
<text x="150.3" y="49.2" text-anchor="middle" font-size="13.5" fill="#fff" class="w">10</text>
<text x="190.7" y="59.2" text-anchor="middle" font-size="13.5" fill="#fff" class="w">5</text>
<text x="364.4" y="162.2" text-anchor="start" font-size="15.5" fill="#000" >FM phase</text>
<g transform="translate(0.00,233.30)"><text class="s" font-size="19.5" font-style="italic" stroke="none" x="120.00" y="0.00">a</text><text class="s" font-size="14.5" font-style="italic" stroke="none" textLength="13.6" lengthAdjust="spacingAndGlyphs" x="128.90" y="2.80">W</text><text class="s" font-size="19" fill="#222" transform="translate(152.33,1.60) scale(1,1.200)">[</text><text class="s" font-size="19" textLength="24.9" lengthAdjust="spacingAndGlyphs" x="158.00" y="0.00">nm</text><text class="s" font-size="19" fill="#222" transform="translate(183.05,1.60) scale(1,1.200)">]</text></g>
<g transform="translate(284.80,233.30)"><text class="s" font-size="19.5" font-style="italic" stroke="none" x="120.00" y="0.00">a</text><text class="s" font-size="14.5" font-style="italic" stroke="none" textLength="13.6" lengthAdjust="spacingAndGlyphs" x="128.90" y="2.80">W</text><text class="s" font-size="19" fill="#222" transform="translate(152.33,1.60) scale(1,1.200)">[</text><text class="s" font-size="19" textLength="24.9" lengthAdjust="spacingAndGlyphs" x="158.00" y="0.00">nm</text><text class="s" font-size="19" fill="#222" transform="translate(183.05,1.60) scale(1,1.200)">]</text></g>
<g transform="translate(30.40,132.00) rotate(-90)"><text class="s" font-size="20" font-style="italic" stroke="none" textLength="10.5" lengthAdjust="spacingAndGlyphs" x="-0.20" y="0.00">r</text><text class="s" font-size="14" font-style="italic" stroke="none" textLength="7.0" lengthAdjust="spacingAndGlyphs" x="8.20" y="3.00">s</text><text class="s" font-size="19" fill="#222" transform="translate(23.30,1.60) scale(1,1.200)">[</text><text class="s" font-size="19" textLength="24.5" lengthAdjust="spacingAndGlyphs" x="29.00" y="0.00">nm</text><text class="s" font-size="19" fill="#222" transform="translate(52.95,1.60) scale(1,1.200)">]</text></g>
<g transform="translate(318.30,130.00) rotate(-90)"><text class="s" font-size="21" x="1.30" y="0.00">Γ</text><text class="s" font-size="19" fill="#222" transform="translate(17.90,1.60) scale(1,1.200)">[</text><text class="s" font-size="19" textLength="35.3" lengthAdjust="spacingAndGlyphs" x="24.10" y="0.00">meV</text><text class="s" font-size="19" fill="#222" transform="translate(59.35,1.60) scale(1,1.200)">]</text></g>
<g transform="translate(259.00,0.00) rotate(90)"><text class="s" font-size="20" font-style="italic" stroke="none" x="15.40" y="0.00">U</text><text class="s" font-size="19" fill="#222" transform="translate(37.00,1.60) scale(1,1.200)">[</text><text class="s" font-size="19" textLength="36.2" lengthAdjust="spacingAndGlyphs" x="43.00" y="0.00">meV</text><text class="s" font-size="19" fill="#222" transform="translate(79.55,1.60) scale(1,1.200)">]</text></g>
<g transform="translate(544.20,0.00) rotate(90)"><text class="s" font-size="19" x="7.40" y="0.00">lg</text><text class="s" font-size="19" fill="#222" transform="translate(21.70,1.60) scale(1,1.200)">[</text><text class="s" font-size="19" font-style="italic" stroke="none" x="28.60" y="0.00">Z</text><text class="s" font-size="19" fill="#222" transform="translate(42.90,1.60) scale(1,1.200)">(</text><text class="s" font-size="21" font-style="italic" stroke="none" x="50.00" y="0.00">ε</text><text class="s" font-size="13.5" font-style="normal" stroke="none" x="58.60" y="3.20">0</text><text class="s" font-size="19" fill="#222" transform="translate(65.70,1.60) scale(1,1.200)">)</text><text class="s" font-size="20" font-style="italic" stroke="none" x="69.90" y="0.00">U</text><text class="s" font-size="19" fill="#222" transform="translate(86.35,1.60) scale(1,1.200)">]</text></g>
</svg>
</div>
</body></html>
